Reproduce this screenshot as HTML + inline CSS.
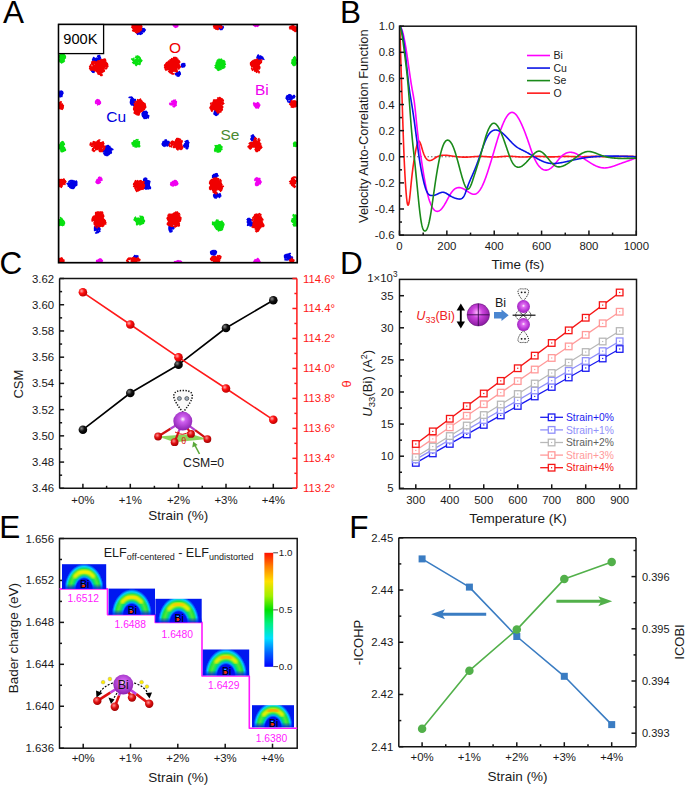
<!DOCTYPE html>
<html><head><meta charset="utf-8"><style>
html,body{margin:0;padding:0;background:#fff;width:685px;height:785px;overflow:hidden;}
svg{display:block;font-family:"Liberation Sans", sans-serif;}
</style></head><body>
<svg width="685" height="785" viewBox="0 0 685 785" font-family='"Liberation Sans", sans-serif'>
<rect width="685" height="785" fill="#fff"/>
<defs><clipPath id="clipA"><rect x="58.60" y="24.50" width="238.60" height="238.20"/></clipPath></defs>
<g clip-path="url(#clipA)" fill="none" stroke-width="1.3" stroke-linejoin="round" stroke-linecap="round">
<path d="M61 58l-0.5 -0.5 0.5 0 1 -1.5 0 1 0.5 -0.5 -0.5 0.5 0 0.5 0 0.5 -0.5 -1.5 0 -0.5 -1.5 -1 -0.5 1 -1.5 0 1 -0.5 -0.5 0.5 0.5 -0.5 0.5 1 0 -0.5 0 0 1 0 -0.5 0 -1.5 0 0.5 0 1 0.5 1 0.5 0.5 -1 0.5 0.5 -1.5 0 0 1 -0.5 0 0.5 -1 0.5 0 0.5 -0.5 0.5 0.5 0 0.5 0.5 1.5 -1.5 1 0.5 0 -1 1 -1 0.5 1 -1.5 0 -1 0 1.5 2 -2 -0.5 1 0.5 0" stroke="#08e010"/>
<path d="M62 57l0.5 0 -0.5 -1.5 -0.5 1.5 0 -1.5 1.5 0.5 1.5 0 -0.5 -1.5 1.5 2.5 -1 -0.5 0.5 -1 0 0 0 1 0 0.5 0 0.5 -2 -1.5 0.5 -0.5 0.5 0.5 1.5 1 0 -0.5 -0.5 -0.5 -0.5 -1 -0.5 0 0 -0.5 -1.5 0 0 1 0.5 -0.5 -0.5 2 0.5 1.5 2 -1 0.5 0.5 -0.5 0 0 0 -1 0 -1 0 -0.5 0.5 1 0.5 0 0 0 0 -0.5 0.5 0 0.5 -1 -1 -0.5 -0.5 -0.5 -0.5 0.5 -0.5 -1 -1 1 0.5" stroke="#08e010"/>
<path d="M60 56.5l0.5 -1 0 1 0.5 0 1 0 0 0 1 -0.5 0.5 -0.5 -1 0 1.5 1 -0.5 0.5 -0.5 0 0 -2 0.5 -1 -1 0 -1.5 -1 0.5 1.5 0 1 0 -1.5 0 0 -0.5 0.5 0.5 -1 -1 0 0 0.5 0.5 1.5 0 0.5 0.5 0.5 1 0 1 1.5 0.5 -0.5 -0.5 0.5 0 -0.5 0.5 -1.5 0.5 0 -1 1.5 0 -1 0.5 -0.5 -1.5 -0.5 0 0.5 0.5 0 0 -0.5 1.5 0.5 0 0.5 -1 -1 0.5 0.5 -0.5 0.5 -0.5 0" stroke="#08e010"/>
<path d="M61.5 58l-0.5 0 0.5 -1 0 3 -1 0.5 -0.5 0 -1.5 -1 0.5 0 1.5 -0.5 0 2.5 -0.5 -1 0 0 0.5 0.5 -0.5 0 2.5 1 -2.5 0 0 -0.5 0.5 0.5 1 1 0 0 0.5 -0.5 0.5 -0.5 1 0 0 -0.5 -0.5 -0.5 -2.5 1 0.5 -0.5 1 0.5 0 -2 0 0.5 1.5 1.5 1 -1 -2 0.5 0 1 0 0 -1 0.5 -0.5 -1 0.5 0 0.5 0 0.5 0.5 -0.5 -0.5 1.5 0 0 -0.5 -0.5 -0.5 0.5 0 0.5 -1 -0.5 0" stroke="#08e010"/>
<path d="M61.5 58.5l0.5 -0.5 0 1.5 0.5 0.5 0.5 -1 0.5 0 -1 0 0 0.5 0 -0.5 1 1 0 0 0 -0.5 -0.5 1 0.5 -1.5 -0.5 -1 0.5 -1.5 -1.5 0.5 0 -0.5 0.5 2 -1.5 1.5 -0.5 -0.5 0 -1.5 1 0.5 -0.5 0 -1.5 -0.5 1 -1.5 -0.5 0 1 1.5 -0.5 -1 0.5 0 -0.5 1 1.5 0 0 0.5 -1.5 0 -1 2 0.5 0.5 0 -2.5 0.5 1.5 -0.5 0.5 0.5 -1 1 1 0 0 0.5 -1.5 0.5 1 -1.5 1 0 -2 -0.5 -1" stroke="#08e010"/>
<path d="M64.5 56.5l0.5 -0.5 -0.5 1 0.5 -0.5 -1 1 0.5 0 0 -1 -0.5 -0.5 0 0 -0.5 0.5 0.5 0.5 1 -0.5 0 0.5 0 0.5 -1 1.5 -1 0 -1 0.5 1 1 1 -1.5 -1 -0.5 -1 1 0.5 0 0.5 -1 -1 -0.5 0.5 0 0.5 1 -1.5 -0.5 0.5 -1 -0.5 1 1 1 0 -0.5 1 0 0 1 0 -0.5 0 0.5 0.5 0 0.5 -1.5 -1 0.5 -1 -1.5 -1 -0.5 0 -1 0 1.5 0 1 0.5 -1 -0.5 -1 0.5 -1 1.5 0.5" stroke="#08e010"/>
<path d="M139 62.5l0.5 -1 -0.5 -0.5 -0.5 0 -2.5 0.5 2.5 -1 0.5 0.5 0 0.5 0.5 0 0.5 0 -1.5 1.5 1.5 -1 0 0.5 0 1.5 0 0.5 -0.5 0 1 -1.5 -1.5 1 -1 0.5 -0.5 -0.5 -1.5 1.5 0 -0.5 0 0 -0.5 -0.5 0 0.5 0.5 -0.5 0 0 0.5 -0.5 -0.5 0 0.5 1.5 -0.5 0 1.5 -1.5 -1.5 -1.5 0 2.5 0.5 0.5 0 -2.5 -1.5 0.5 0.5 -1 1 -1.5 1 1.5 -1 -1" stroke="#08e010"/>
<path d="M140 59l0.5 0 -0.5 -0.5 0 -0.5 -0.5 -0.5 0.5 0.5 0.5 0.5 -1 1 1.5 0 -0.5 0 -1 -0.5 1.5 0.5 0 0.5 0 0.5 1 0 -1 1 0.5 0 0 -0.5 -1 0.5 -1 -0.5 0.5 0 -1 -0.5 -0.5 1 -0.5 -0.5 2 -0.5 1 1 0 -1 0.5 0.5 0 0 -0.5 0.5 -1 1 0.5 -0.5 -1 0.5 1 -1.5 0 0 0 -0.5 -1.5 0.5 -0.5 0 -0.5 -1 0.5 0.5 -0.5 -1" stroke="#08e010"/>
<path d="M137.5 59l0 0 0 -2 1.5 -0.5 -0.5 1 0 0 -0.5 -1 0 1 -0.5 1 -1 -0.5 0.5 0 0.5 -0.5 -0.5 -1 -0.5 0 -1 1 0.5 -0.5 2 -1 -1 1.5 1 -1.5 -1 0.5 1 -0.5 -0.5 0 0.5 0.5 -0.5 0 2 1.5 0.5 0 -0.5 -1 -0.5 0 -1.5 -0.5 0 0.5 0.5 0 -1 0.5 0 1 -1 -2.5 0 2 0 0 1 0.5 0.5 -0.5 0 0 -0.5 -1 0 1" stroke="#08e010"/>
<path d="M136.5 62l0 0.5 1 -1 0 0.5 0.5 -0.5 0 0 -1 1 0 -1.5 -0.5 -1.5 -0.5 0 -1 1 -1.5 0 0.5 1.5 1 0 0 0 1 -0.5 0.5 0 0.5 -0.5 2 -0.5 -1 0 0 0.5 0 0.5 -1.5 0 -1 0 -1 -1 0 1.5 0.5 0 1 -0.5 -1.5 -0.5 -0.5 1 2 -1 1.5 0.5 0.5 0 0 -0.5 0 0 -1.5 0.5 0 0 0.5 -0.5 1 -1 0 -1 0 -0.5" stroke="#08e010"/>
<path d="M132.5 59.5l0 0.5 0 -1 -0.5 0.5 0.5 -0.5 0.5 1 1 -1 0 0 -1.5 1 0 -0.5 1.5 0.5 1 1 0.5 -1 -0.5 1 -0.5 0 0.5 1.5 0.5 0 -0.5 0.5 0.5 -0.5 0.5 0 -1 0.5 0 0.5 -1.5 0 -0.5 -1 -0.5 0 0 0 1 0 0.5 -1 0.5 -0.5 0 0 -1 -1.5 -1 0.5 0.5 0.5 -0.5 -1.5 0 0 -0.5 0.5 0.5 -0.5 -1 0 0 0 2 0 0.5 -1" stroke="#08e010"/>
<path d="M223.5 64.5l-1.5 -3 2 0.5 0 -1.5 -1 1.5 -2 0 1 0.5 0.5 -0.5 2 -0.5 -1 0 1 0 0.5 0.5 -1 1 1.5 1.5 -0.5 -1 -1 -0.5 0.5 0.5 -1.5 0.5 0 0 0 -0.5 0.5 0.5 0.5 -1 0.5 0 -2 0.5 -0.5 1 0 0 0 0 0 -2 1.5 -1 -0.5 0.5 0.5 0.5 0.5 1 0.5 2.5 -1 0.5 -0.5 -0.5 0.5 1 -0.5 -0.5 0.5 0.5 1.5 0 0 -0.5 0 0 -1 0 0 0 -0.5 1.5 0.5 -0.5 -1 -1 0 0 -0.5 0 1 0.5 -1 -0.5 -0.5 0 -1 0 0.5 0 -0.5 -0.5 0 0.5 0.5 -0.5 -0.5 0.5 0.5 0.5 0.5 -1" stroke="#08e010"/>
<path d="M222.5 63.5l-3 0 0.5 1 0.5 2 1.5 0 0.5 -1 1 0.5 -0.5 0.5 0.5 -0.5 0 -0.5 0 0 0.5 -2 -0.5 -1.5 0 0.5 0 0 0 1.5 -1 0.5 -1.5 -0.5 0 -0.5 0.5 0.5 -1.5 0 0 -1.5 -0.5 -1 1.5 -0.5 1.5 -0.5 1.5 0.5 0.5 0.5 0 1.5 0 0 -1 -2.5 -0.5 0.5 0.5 0.5 -0.5 -1 0 0.5 -1.5 0.5 -1.5 0 -0.5 -0.5 0 0 0.5 0 2 -0.5 -0.5 -0.5 -0.5 0.5 -0.5 0 -1 0 -0.5 1 0.5 0.5 0.5 -1 0.5 0 0.5 0.5 -0.5 -1 1 0 -0.5 0 0.5 0 -2 0.5 2 1.5 -0.5 0 0.5 1 0 -1 0.5 0.5" stroke="#08e010"/>
<path d="M219 65l0.5 1 0.5 0 -1.5 0.5 1.5 1.5 0 0 0.5 0 0 0.5 -1 -0.5 -0.5 0 0 -0.5 -2 -0.5 0 0 0 0 0.5 1 -1 0 0 -1 -0.5 -0.5 0.5 1 0 -0.5 0.5 0.5 -1 0 0 -0.5 0 1 0 -1 1.5 -0.5 0 -1 -2.5 0 1 -0.5 -0.5 0.5 0 0.5 1 0 0.5 -1.5 1 0 1 1 -0.5 -0.5 -0.5 -1.5 -0.5 0 -1 0.5 0 0.5 -0.5 -1.5 0.5 0.5 0 -0.5 0 0 0.5 -0.5 1 0 -0.5 -0.5 0.5 0 1 1 1 1 -1 -2 0.5 1.5 1 -0.5 0 0 -2 -0.5 -0.5 1.5 -0.5 1.5 0 -1.5 2 -1" stroke="#08e010"/>
<path d="M218 65.5l1 0 -1 -1 -0.5 1 0 0.5 1.5 1 1 1.5 -1.5 1 0.5 0 -1 -1.5 -1 0 -1 -1 -0.5 0.5 -0.5 0 1.5 0 0.5 -1 0 0 0.5 -0.5 -1 0 -0.5 0.5 1 -1 0.5 -0.5 0.5 -0.5 -1.5 1 0.5 -1 -1 0.5 0 0 0.5 1.5 -0.5 1 1.5 -0.5 -1.5 1 1 1 1 1 1.5 -1 0.5 -0.5 1.5 0.5 -3 1.5 -0.5 -1 -0.5 0.5 1 0 -0.5 -0.5 0.5 0 0.5 -0.5 1.5 0.5 0.5 0 -1 -1 0.5 0.5 0.5 0 -1 0 0 0.5 0.5 -1.5 1 -0.5 0.5 -1.5 -0.5 0 0 1 0 -0.5 -0.5 -1 0.5 0.5 0 0" stroke="#08e010"/>
<path d="M220.5 63.5l-1 -0.5 -1.5 0 1 -0.5 -0.5 -0.5 0.5 0 0 0 0.5 0.5 0 0.5 1.5 0 1 0 -0.5 -0.5 -0.5 0 -1 -0.5 1.5 0 1 0 -0.5 0.5 0.5 2.5 0.5 1 0.5 1 -1.5 -1 0.5 0.5 0 0 -0.5 0 -1 -1.5 0 -1.5 -1 -0.5 -1 0 -0.5 0 -0.5 0 0.5 0 -0.5 0.5 0.5 0 1 0 0.5 0 0 -1 0.5 0 0 0 0 -0.5 0 0 0 0 -0.5 0.5 -0.5 -0.5 0.5 0 -0.5 -0.5 1.5 0.5 0 0 0 0 0 0 1 0.5 1 0.5 -2 0 1.5 1 -1.5 -0.5 -1 -1 -1 1.5 0.5 -0.5 -0.5 0.5 0.5 -0.5" stroke="#08e010"/>
<path d="M220.5 66l1.5 -0.5 0.5 1 0.5 1 1 0.5 -0.5 -0.5 -1 1 -1.5 -1 1 0 -0.5 0.5 1 -0.5 0.5 -0.5 0 0 1 -1 -0.5 0.5 -1.5 -1.5 0.5 0 0 0 -1 2.5 -1 -0.5 -1 0 1 0 0.5 -0.5 1.5 0 -1 0.5 -0.5 0.5 0 0 0 -0.5 -1 0.5 -0.5 0.5 -0.5 -2 -1 1 0 -0.5 0 -0.5 -0.5 -0.5 0 -0.5 0.5 0 0 0 1.5 0 0.5 -0.5 0.5 -1 -1.5 -1 1 0 1 0 -1 0 1 0 -1 0.5 1 1 -0.5 0 0.5 1 2 -0.5 1 0 -0.5 -0.5 -0.5 0.5 -1 0.5 -0.5 0 0 -0.5 0 1 2.5 -1" stroke="#08e010"/>
<path d="M219 62.5l-0.5 0 1 -2 0 0.5 -1 0.5 0.5 -0.5 1 -1 0.5 -0.5 -1 0 -0.5 0.5 -1.5 0 -0.5 1 0 1 0 0.5 -0.5 0 0.5 -1 0 1 0 -1 1 -0.5 0 -0.5 1 1.5 -1 0.5 0.5 1.5 -1.5 0 0.5 -1.5 0.5 0 0.5 -0.5 0.5 -1 0.5 0.5 -0.5 -1.5 1.5 1 0.5 -1 -0.5 1.5 0.5 -1 0 0.5 0 -1 1 0.5 -0.5 -1 -1 0 1 -0.5 0.5 1 -1.5 -0.5 -1 0 0 0 1 0 -1 2 0 0 0 -1.5 0.5 0.5 1.5 1 0.5 1 -0.5 -0.5 0 -1.5 0 0 0.5 0 -2 -0.5 1 -0.5 -0.5 0 -1.5 -0.5" stroke="#08e010"/>
<path d="M293 62l1 0 0 0.5 0 1 0.5 -1 0 0.5 1 -0.5 0.5 1 -0.5 0.5 0.5 -0.5 0.5 -0.5 -0.5 -0.5 -0.5 0 0 0.5 0.5 -1 -1 0 0.5 0 0.5 0.5 0 1 0 -0.5 -1.5 0 0 1 -1 0 0 0 -0.5 0 1 0 1 0 0 0 -0.5 0 1 -1 -1.5 0 1.5 1" stroke="#08e010"/>
<path d="M291.5 63l1 -1 0 0 0 1 2.5 1.5 -1.5 -2 0 1 -1 -0.5 -0.5 0 0 0.5 1 0 0.5 2 -1 -1 1 1 0 0 0 0 0 0 0 0 1 0 -0.5 0 -1 -0.5 2 0 0.5 0 0 -0.5 0.5 -0.5 -0.5 0 0 -1 0.5 0 -1.5 1 0 0.5 1 -0.5 -2.5 0" stroke="#08e010"/>
<path d="M294 58l0.5 0 0 0.5 -1 1.5 -0.5 0 -0.5 -0.5 1 0.5 1.5 0.5 -0.5 0 -1 0 0.5 0 -0.5 -1.5 1.5 -0.5 -1.5 -1 0 1.5 0 1 0.5 0.5 1 -0.5 0.5 0 -0.5 0.5 -0.5 0 -1 0 0.5 -0.5 0 0.5 1.5 -3 -1 -1 0 0 0.5 0.5 -0.5 1.5 0.5 0 -1 0.5 -0.5 -0.5" stroke="#08e010"/>
<path d="M293.5 62.5l-1 -1 0.5 0 0 -0.5 0 -0.5 -1 1 0 -0.5 1 0 2.5 -1 -1 0 1.5 0 -1.5 1 -0.5 -0.5 0.5 -0.5 -0.5 0.5 0 0.5 -1 -0.5 -0.5 -0.5 2 0 0.5 -0.5 0 -0.5 -1 0.5 -1 0 -1 1 0.5 0 -0.5 0 1.5 -0.5 0 0.5 -1 1 -0.5 0 0 -1.5 0.5 0.5" stroke="#08e010"/>
<path d="M294.5 61l0 1 0.5 -0.5 1 -0.5 -0.5 0.5 -0.5 0 0.5 -0.5 0.5 0 -0.5 -0.5 1 -0.5 -0.5 0.5 -0.5 -0.5 -2 0.5 0 0 0 -1.5 2.5 0 -0.5 -0.5 0.5 0.5 0 0 0 0.5 -0.5 1 0 0 0.5 0 0 0 0 0.5 0 -0.5 0 0.5 -0.5 0 0.5 0 0.5 -0.5 -1 0.5 -1.5 0.5" stroke="#08e010"/>
<path d="M62.5 144.5l0.5 1.5 0.5 -0.5 -1 -1 0.5 -0.5 0 0.5 0.5 0.5 -0.5 -0.5 -0.5 -0.5 0.5 0.5 -0.5 -0.5 0 0 -0.5 -0.5 0.5 0.5 0.5 0.5 -0.5 0.5 0.5 -1 0 1.5 -1 -1 0 -1 -1.5 0 0.5 1 0.5 0 -1 1 1 -1 0.5 0 0.5 0.5 -1.5 1 -0.5 0 -0.5 0.5 0.5 0 1 0.5 0 -2.5 -0.5 -0.5 -0.5 -0.5 0.5 1 1.5 1 -0.5 0 -1 1 0.5 -0.5 -0.5 -0.5" stroke="#08e010"/>
<path d="M63 147l-0.5 -0.5 -0.5 1.5 -0.5 0.5 0 0 0 0.5 -1.5 0 1.5 -1 -0.5 0.5 0 0 -2 0 -1 -1 0.5 0.5 -1 -1 0.5 -0.5 0.5 1 0.5 0 0 1 2 -0.5 0.5 0.5 -1 -0.5 1 -0.5 -0.5 -1.5 -0.5 0.5 -0.5 -1 -1 1.5 0.5 -0.5 0 0.5 0 -1.5 0.5 0 0.5 -1.5 1 -0.5 -1.5 1.5 -0.5 0 0 1 1 1.5 0.5 -1.5 -1.5 0 -0.5 0.5 0 -1.5 -0.5 -0.5" stroke="#08e010"/>
<path d="M63.5 150.5l-1 -0.5 1.5 0.5 0 -2 -1 0 -0.5 2 0 0 -1 -1 -0.5 -0.5 0 0.5 0 1 -0.5 -0.5 1 1 -0.5 0.5 0 -0.5 0.5 -0.5 -0.5 0 0.5 -1.5 1 0 1.5 1.5 -0.5 -1 1.5 0.5 0.5 -0.5 0 1 -0.5 -1 0 0 -0.5 1 -0.5 0.5 -0.5 0.5 -1.5 0.5 -0.5 -1 -1 -1 0.5 0.5 1.5 -1 1.5 1.5 -1.5 -0.5 -0.5 0 0.5 -2.5 0.5 0 -1 1 -0.5 1" stroke="#08e010"/>
<path d="M64.5 144.5l-0.5 -1.5 -0.5 0.5 -0.5 2 0.5 0 0 -1 0 -0.5 -2 -1.5 0.5 -0.5 0.5 -0.5 -0.5 1 0 -0.5 1.5 0 -0.5 1 -1.5 0.5 -0.5 -0.5 -0.5 0 0 0.5 0 1 1.5 0.5 1 0 -1 0.5 0 0.5 0 0 -0.5 -0.5 1 -1.5 -0.5 -1.5 -0.5 -0.5 0.5 0.5 -0.5 1 1 0 0 -0.5 -0.5 1.5 0.5 -0.5 -0.5 0.5 0 0.5 -0.5 1 1.5 -1 -0.5 0.5 -0.5 0.5 0.5 0.5" stroke="#08e010"/>
<path d="M63 148l-1 -1 1.5 0.5 0.5 0 -0.5 -1 0 0.5 1 1 0 -0.5 0 0 0.5 2 -1.5 0.5 1 -1 -0.5 -0.5 -2.5 1 0 -0.5 0 0.5 2.5 0 0.5 -0.5 0.5 0 -0.5 -1 -0.5 0.5 0.5 0.5 -0.5 0 -2 1 0 0.5 1 -0.5 0.5 -0.5 0.5 -0.5 0.5 1.5 -0.5 -0.5 -0.5 0.5 1.5 -1 -2 -0.5 -1.5 -0.5 0 -1 0 -0.5 0 -0.5 1 1 -0.5 -0.5 0 0.5 -1.5 0" stroke="#08e010"/>
<path d="M135 143l-1 1 0.5 0 0.5 1 -1.5 0.5 0 -0.5 -1 -1 1 0.5 0 -0.5 0 0 -1 -1 -0.5 1 1.5 -1 2 0.5 0.5 -0.5 -0.5 1.5 -0.5 -0.5 1 1 -1.5 0 0 0.5 2 -0.5 0 0 0.5 -0.5 0.5 -0.5 -2 -1.5 0 1 -2 -1.5 0.5 -1.5 1 1 -3 1 0 1.5 0.5 0 0 0.5 0.5 0.5 0 -0.5 0.5 0.5 0.5 0.5 -0.5 -0.5 0 -0.5 1.5 1 0 -1" stroke="#08e010"/>
<path d="M136.5 143.5l-0.5 -1 0.5 1.5 0.5 -0.5 -1 0 0 0 0 1 -0.5 0.5 -0.5 1 -0.5 -0.5 0.5 0 0 0 -0.5 0.5 1.5 -1.5 0.5 -1 0 0 0 0 -1 1 0 -1 0 -0.5 0.5 0 0 1 -1 1 -1.5 0.5 0 0 -0.5 0.5 0 0 1 0 0 0 1 0 0 -0.5 0 0 -0.5 0 0 0.5 1 -0.5 -0.5 0 -1 -0.5 0 0 0 -0.5 2 -0.5 0 1.5" stroke="#08e010"/>
<path d="M137.5 145.5l0.5 1 -1 0 -1 -0.5 -0.5 0.5 -0.5 0.5 0.5 -0.5 -0.5 -1 1 -1 1 2.5 -1 0 -0.5 -0.5 0 0 -0.5 -2 0 -0.5 0 0.5 -0.5 -1 0.5 0.5 0 1 0.5 -2.5 1 0 0 1 -0.5 -0.5 -0.5 0 0 -0.5 0.5 0.5 0 -0.5 0.5 0.5 -1 1.5 -1 0.5 0.5 0.5 0.5 0.5 1 -0.5 3 0.5 -1 -1.5 1 1 0 1 0 -0.5 -0.5 0 1 0 -1 1" stroke="#08e010"/>
<path d="M138 143.5l0 0 1.5 0.5 -2 0 -2.5 -2 1.5 1.5 -0.5 0 0 1 -0.5 -1 -0.5 0 0 0 1 -1 0 -0.5 -1 1 0 -0.5 0 -1 0.5 1 1 -1 0 1.5 0 1.5 1.5 -1.5 1 1 0 0.5 0 0.5 0 -1 0.5 -1.5 -0.5 0 0.5 0.5 -0.5 0 0.5 -1.5 -0.5 1.5 -1 -1 1 1 0 0.5 0.5 0.5 -0.5 0 -1 -1 -1.5 1.5 -0.5 0 0.5 0 0.5 -0.5" stroke="#08e010"/>
<path d="M137 141.5l-1 -0.5 0.5 0.5 -1 0.5 -0.5 1 0 -0.5 1 -1 0 0 -0.5 0 1 0 -0.5 0 0.5 1 0.5 1 1.5 -1.5 -1 -2 0.5 -0.5 0 0.5 -1.5 -0.5 0 0.5 -1.5 0.5 0.5 0 0.5 1 0 0 -0.5 0.5 0 1 0 1 0 -1 0.5 0.5 1 0.5 0.5 0 1 -1 -1.5 1 0 0 0 0 1 -1 0.5 0 -1.5 0.5 0 0.5 1.5 0 1 -0.5 -1 0.5" stroke="#08e010"/>
<path d="M220 147.5l2 -0.5 0 0.5 0 -1 -1.5 -0.5 0 -1 -1 0 0 0 -0.5 0.5 0 0 -0.5 0.5 0 0.5 -0.5 0.5 -0.5 0.5 0.5 -1 0 0 0.5 -0.5 0 0 0 1 -0.5 0 0 -0.5 0 0 0 0 0 -1 0.5 0.5 1 1 0 1.5 0 -0.5 -1.5 0.5 0 0 0 -0.5 0 0 0 0 0.5 -0.5 -0.5 1.5 1 0 -1 -0.5 0.5 1 2 -0.5 0.5 0 0 -0.5" stroke="#08e010"/>
<path d="M220.5 148.5l-0.5 0 0.5 -1.5 -1 0.5 0 -1.5 -0.5 -1 -0.5 1.5 -0.5 2 0 -1 1.5 1 1 2 0.5 -1 -1.5 -0.5 0.5 0 0.5 0 1 0.5 0 0 0 0 0.5 -0.5 0 0.5 -1.5 0 0.5 0.5 -0.5 0.5 0.5 -1 0 0 1 -0.5 -1 0 -1 1 -0.5 -1 0.5 -0.5 -2 0 0 -0.5 0 -1 0 0 0 0 0 0 0 -1 0.5 -1 1 0 0 0 0 0.5" stroke="#08e010"/>
<path d="M220.5 148l0 -1.5 -1.5 0.5 0 1.5 0.5 1 -0.5 0 1 0.5 0.5 0 -1 -0.5 -1.5 0 0 -0.5 0 -0.5 1 1.5 0.5 -0.5 -1 1 0.5 -1 1 -1.5 -0.5 0 0 -1 2 -0.5 0 0 -1 0 0 1 -0.5 0.5 0 0.5 -2.5 0.5 0.5 -0.5 0 0 0.5 2 -0.5 -0.5 0.5 0 -0.5 0 0.5 0 0.5 1.5 1 0 0 0 0 0 0.5 0 -0.5 0 0 0 -0.5 -1" stroke="#08e010"/>
<path d="M217.5 148l-1 -1.5 -1.5 -1 0.5 0.5 1 0.5 0 -1 0 0 0 0 1.5 0.5 -0.5 1.5 1 0.5 0.5 0.5 0.5 0 0 0.5 -2.5 0 -0.5 0 0 0.5 0 0 -0.5 0.5 0 0 -0.5 -0.5 0.5 -1 -0.5 1 0 -1 -0.5 0 0 0.5 2 0 0 -0.5 0 0 0.5 0.5 -0.5 -0.5 1 -1 0.5 1.5 1 0 0 0 0 -0.5 0 0.5 0 -0.5 0 -0.5 0 -0.5 0 0" stroke="#08e010"/>
<path d="M217 150.5l-0.5 0.5 -1.5 -2 0 0.5 0.5 0.5 0 -1 0.5 -0.5 0 0 -0.5 -0.5 0.5 0 0 0 1 0 1 0 0 0 -1 0 1 -0.5 0.5 1 -0.5 -0.5 0 1 0 0.5 0.5 -0.5 0.5 0 0.5 1.5 -1 0.5 0.5 1 -1.5 0 -0.5 0 1 -0.5 -2 -1 -1 1 -0.5 -1.5 1 0 0.5 -0.5 1 0 -1.5 -1 0 0.5 0.5 -1 -0.5 2 0 -0.5 0 -1 0.5 1" stroke="#08e010"/>
<path d="M218 148l-0.5 -0.5 -1.5 0 -0.5 0 0.5 -0.5 -0.5 0.5 0 -1 0.5 2 0.5 1 1 0.5 0 0 -1 0 0 -2 -0.5 0.5 0.5 1.5 0 -2.5 0.5 -1 -0.5 0 0 -0.5 1 0.5 -0.5 -0.5 1 0.5 0 -1 0 0 -2 1 0.5 0 -1 0.5 2 0.5 0.5 -1 0.5 0 1 0 -0.5 0 -0.5 1.5 0.5 0 0 1 -0.5 -1 -1.5 1 0.5 0.5 0 1 0 -0.5 -1 -0.5" stroke="#08e010"/>
<path d="M296 145.5l-0.5 -1 0.5 1 0.5 0 0.5 -1.5 -0.5 1 0.5 -1 0.5 0 0 -0.5 -0.5 0.5 0.5 0.5 -0.5 -0.5 0.5 1 -1.5 -0.5 0 0.5 1 -1.5 0 0 -1 -0.5 0 0 -0.5 0 0.5 0.5 -1 0 0.5 1 2.5 0 -0.5 0 0.5 0.5 -1 -0.5 0 -1 -1 1 -1.5 0 -0.5 1.5 0.5 -1" stroke="#08e010"/>
<path d="M297.5 146l-0.5 0 0 -1 0.5 0 0 0.5 0 0 -0.5 0 0.5 0 -1 0.5 0 0 -0.5 0 -0.5 0 -0.5 -0.5 0 0.5 0.5 -0.5 -0.5 0.5 0.5 -0.5 1 -1 -0.5 1.5 -2.5 0 1 -0.5 -0.5 -0.5 -0.5 -1 0 -0.5 0 0 1 -1 -0.5 0 0.5 0 -0.5 1 0.5 2 1 1 0.5 -0.5" stroke="#08e010"/>
<path d="M296.5 144l-1 1 1 0.5 0 0.5 0 -1.5 -0.5 1 0 -1.5 1 0 1 1 -0.5 0 -0.5 -1 -0.5 0.5 1.5 -0.5 0.5 0 0 1 -1 0.5 -0.5 -1 1 -1 -1 -0.5 0 0 -2 -1 0.5 0.5 -1 0 0.5 1 -1 1.5 0.5 0.5 1 -1 0 0.5 1 -1.5 -0.5 0.5 0.5 -0.5 -1 0" stroke="#08e010"/>
<path d="M296 146l1 -1.5 0 0.5 0 0 0 -0.5 0 0.5 0 -1 0 0 0 1 0 0 0 0 0 0.5 0 -1 0 1 -1 0 -0.5 -1.5 0 0.5 -0.5 -0.5 1 -1 -1 0 0.5 0.5 0 -0.5 0 0 -1 0 1 -0.5 1 1.5 -0.5 0 0.5 0.5 0.5 0.5 -0.5 0.5 0.5 -0.5 -0.5 0.5" stroke="#08e010"/>
<path d="M62.5 223l0 0.5 0.5 1.5 1.5 -1.5 -0.5 -0.5 -2 0.5 0 -0.5 -1 -1 -0.5 -1 0 0 0 0.5 0 -0.5 -1 0 1 0 -0.5 0.5 -0.5 0 0 0 0 0 0 0 0.5 -0.5 0 0.5 1 0.5 1.5 1 -0.5 0 -1 1 0.5 0.5 1 0.5 0 0.5 1 -1 -1 0 1 0.5 -0.5 0 0 -1.5 -1 -2 0 -0.5 0.5 2 -0.5 0 -0.5 -2.5 -0.5 0 0.5 0 -1.5 0.5" stroke="#08e010"/>
<path d="M59.5 219.5l0.5 1.5 -1 1 0 0.5 1 -1 0.5 -1 -0.5 -1 1.5 1.5 1 0.5 -1.5 0.5 0.5 0 0 -0.5 -0.5 0.5 -0.5 0 0.5 0 1 -0.5 -0.5 0.5 0 -0.5 -0.5 -1 1.5 -0.5 -0.5 1 -1 -1.5 -0.5 0 0.5 0.5 1 0 0 0 -0.5 0.5 0 1 0.5 -0.5 1 0 -0.5 -1.5 -0.5 -0.5 0 0 -1.5 -1.5 0.5 1.5 1 -0.5 0 0 -1.5 1 1 0 -0.5 0.5 0.5 0" stroke="#08e010"/>
<path d="M61 223l0.5 -0.5 -1 1.5 1.5 0.5 0 0.5 -1.5 0 0.5 0 0.5 -1 0 -1 0 -0.5 -1 -0.5 0 -0.5 1 -0.5 0.5 0.5 -0.5 1.5 -1 0.5 0 0.5 -1 -1 -1 0 0 0 0 -0.5 0.5 0 0.5 1 -0.5 1 0 0 0 0 -0.5 -1 0.5 1 0 0 0 0.5 0.5 0.5 -0.5 -0.5 0.5 -0.5 0.5 -1 0.5 -0.5 0 0.5 0.5 -0.5 -0.5 1 -1.5 0.5 1 -0.5 1.5 0" stroke="#08e010"/>
<path d="M59.5 223l0 0 0 -2 0 0 -0.5 -0.5 0 0.5 1.5 0 1 0.5 -1 -0.5 0.5 0 0.5 0.5 -0.5 -0.5 0.5 0 0 0.5 -0.5 0.5 -1 1 0 -1 -0.5 -0.5 -2 1.5 1 -1 0 1.5 0.5 -1 -1 -0.5 1 0 -1 1 -0.5 -1 0.5 0 1.5 -0.5 -0.5 1 1.5 -1 1.5 1 -1 1.5 -1.5 1 -1 -1.5 1 0 -0.5 0.5 0 -0.5 -1 0.5 0 0 -0.5 -0.5 0 0" stroke="#08e010"/>
<path d="M61 222l0 1 0.5 0 2 0 0 1.5 -1 1 0.5 -1 -0.5 0.5 -1.5 0 1 -0.5 0 -0.5 -0.5 -0.5 0 0.5 0 1 0.5 0 1.5 -0.5 -0.5 0 -1 0.5 1 0 -0.5 0 0 0 -0.5 -0.5 1 0.5 0.5 0 -0.5 0 1 0 -0.5 -0.5 -0.5 0.5 -1 0 1.5 -0.5 0.5 -1.5 0 0.5 0.5 0 0 0 0 -0.5 0 -1 -1 -1.5 -0.5 0.5 0 2.5 -1 -0.5 -0.5 -0.5" stroke="#08e010"/>
<path d="M137.5 221l0 0.5 -1.5 0 0.5 0 -0.5 -0.5 0.5 0.5 1.5 -1.5 -2 0 0 0.5 1 -0.5 2 0 -2 1 0.5 0.5 -1.5 -0.5 0 0 1 1 1.5 0 -0.5 0 0.5 0 0 -1.5 -2.5 0.5 -0.5 -0.5 1 -1 -1 0 0.5 -0.5 -0.5 -1 0 -1 0.5 1 -0.5 0.5 0 0.5 1.5 0.5 0.5 1 -0.5 0 0.5 1 1 0.5 -1 0 -1.5 -0.5 0.5 -0.5 0.5 -1 0 0.5 2 1 0 -0.5 0.5 0.5 -0.5 -1 1 -0.5 0 0.5 -0.5 1 -1 0.5 -1 -1 -1 0 -0.5 -1.5 1 -0.5 0 0" stroke="#08e010"/>
<path d="M141.5 222l1 -0.5 -1 0 -1 0.5 0 -0.5 0.5 0.5 -2.5 0 0 0.5 -0.5 -1.5 0 1 0 -1 1 -1 -0.5 1 -0.5 0 -0.5 0.5 0.5 1.5 0 0.5 0.5 0 1 -1 0.5 2.5 0.5 -1 0.5 -0.5 -0.5 -1 0.5 -1.5 0 0.5 1 2 -1.5 -1.5 -1 -0.5 1 0 -0.5 -1 -0.5 -0.5 0 -0.5 0 0.5 0.5 -1 0.5 0.5 0.5 -0.5 -1.5 0.5 0 0 0.5 1 1 1 0.5 -1 1 0 0.5 1.5 0.5 1.5 0 -0.5 -0.5 0 -1.5 0 -0.5 -0.5 -2 -2 1 -1 1 -0.5 0 0.5 -0.5 -0.5" stroke="#08e010"/>
<path d="M141 221l-0.5 0.5 1.5 -0.5 1 1.5 -1 1.5 1 -0.5 0.5 -0.5 0 0 -1 0 0 -0.5 -1 -0.5 -1 1 -2 0 -0.5 -1 0.5 -1 1 0 0.5 0 0.5 0.5 -0.5 0 2 -0.5 1.5 0 -0.5 -1.5 -1 -1 -0.5 0.5 0 -0.5 -1 -0.5 -0.5 0.5 1.5 0 -0.5 1 1 -0.5 0 -0.5 -1.5 1 3 -0.5 -1.5 1.5 1 0 1.5 0 0 0.5 0 0.5 -0.5 0.5 0 -2 -0.5 -0.5 -1 -1.5 0 1 0 1 0.5 -0.5 -2 1 0 -0.5 0.5 -0.5 0 0.5 0.5 -0.5 1 1 1 0.5 0 0.5" stroke="#08e010"/>
<path d="M135.5 220.5l-0.5 -0.5 0.5 -0.5 -1.5 0 1.5 1.5 -1.5 -1 0.5 0 0 0 0 -1 1 -1 0 1.5 1 0 0 -0.5 -0.5 0 1.5 -0.5 0.5 0.5 0 -0.5 0 0.5 0.5 0 -2 0.5 0.5 -0.5 0 0.5 -1 0.5 0.5 0.5 1 -1.5 0.5 -0.5 1 1 -0.5 0.5 0 0.5 -1 0.5 -1 2 0.5 0.5 0.5 -0.5 -1 -0.5 0.5 0 0 -0.5 -0.5 0 0.5 0 -0.5 -1.5 1.5 -1 -0.5 -0.5 1 -0.5 -0.5 0.5 -1 0.5 -1 -0.5 1 0 -1 -0.5 0 0.5 -1.5 -1 0.5 0 0 0.5 -0.5 -0.5 0 0.5" stroke="#08e010"/>
<path d="M139 219l-1 -0.5 0.5 0 1 1 0 -0.5 0 0 1.5 0.5 -0.5 -1 1.5 -0.5 0 0 1 -1 -0.5 0.5 1 1.5 0 -0.5 -0.5 -0.5 0 -1 -1.5 -0.5 -1.5 0.5 1 0.5 1 0 -0.5 -1 0.5 0.5 0.5 0 -1 -0.5 1 0.5 0.5 0 -0.5 0.5 0 0 1 0 -1 -1 -0.5 0 -1.5 0.5 1 0.5 -1.5 -1.5 1 1.5 -0.5 0.5 0 -0.5 1 -0.5 0.5 1.5 0 1.5 -1 1 -0.5 1 0 -1 1.5 -1 0.5 -1 0.5 0 0 0 -1 -2 1 1 -1.5 -0.5 0.5 -0.5 0.5 0.5 0 1" stroke="#08e010"/>
<path d="M141 224l1 -0.5 -1 0.5 -0.5 -2 -0.5 0.5 -1 1 0 0 -1.5 -0.5 -0.5 0.5 0.5 1 -0.5 -0.5 0 -0.5 0 -1 0.5 0 0.5 -1 1 0.5 1.5 -0.5 -0.5 0.5 -0.5 -1 0 0 -0.5 -0.5 -0.5 1 -1 1.5 0 0.5 -0.5 0.5 0 1 0.5 -1.5 1.5 -1.5 1 0 -1 0.5 0 -1 -0.5 0.5 -1 0 2 -1 0 0.5 1 1 -2 -0.5 1 -0.5 1.5 0 -1 0.5 1.5 -0.5 0 0 -0.5 0 0.5 0.5 0 2 -0.5 -1.5 0.5 0 -1.5 1.5 -0.5 -1 0 0.5 2.5 -1.5 -1.5 0 0 -0.5" stroke="#08e010"/>
<path d="M137 222l0.5 -1 0.5 0.5 -0.5 -0.5 0.5 3 0 -1 0 -0.5 1 -2 -1 1 0.5 0 0.5 -1.5 0.5 -1 -1.5 0.5 -0.5 0 0.5 -1 0.5 2 0 0.5 0.5 -1 -1 0 -2 0 0 0.5 0.5 1.5 0 1 0.5 0.5 -0.5 1 0 -0.5 1 -0.5 -1 -1 0 0.5 1 1.5 1 -0.5 -0.5 -1.5 1 0.5 -0.5 0 0 -2 0 0 0 -1 0 0.5 1.5 1 0.5 0 -1 -0.5 -1 0 1 1 0.5 0 0 -0.5 -1.5 0.5 0 -1.5 -0.5 -2.5 -0.5 1 -0.5 1.5 0.5 -1 -2 1 1 -1.5" stroke="#08e010"/>
<path d="M218.5 224.5l-1.5 -1 0.5 -1 -1.5 -1.5 1 0.5 0 0.5 1.5 -0.5 1.5 0.5 -0.5 0.5 1.5 1.5 1 0 0.5 0 0.5 0.5 -0.5 -1 0 -1 0.5 1 -0.5 0 0 1 0 0 0.5 0.5 0 0.5 -1.5 -0.5 -1 0 -1 0.5 1.5 -1 -1 0 1.5 1 0.5 0 -0.5 0 0.5 0.5 -0.5 -1.5 -0.5 -0.5 -1 0.5 -1.5 -0.5 0.5 1 0 1 -0.5 -0.5 1 -1 0 -1.5 1 1 -0.5 -2 0 0.5 1 1.5 0.5 0 0 -0.5 -1.5 -0.5 0 -1.5 -1 1 -1 1 1 0 1 -0.5 -1 0 0.5 0.5 0 -0.5 1 0 -0.5 0.5 -1 0 1.5 0.5 1.5 -0.5 -0.5 0 -0.5 -0.5 -0.5 1 0.5 0 -0.5 2.5 -0.5 1.5 -1 -0.5" stroke="#08e010"/>
<path d="M218 223.5l-0.5 0 0 0.5 0.5 0.5 1 1 0 -1.5 -1 1 -0.5 -0.5 -0.5 1.5 0.5 -0.5 -1 -1 3 0 0 0 1 -1 -2 -0.5 0.5 2 0 -0.5 0 -0.5 -1 0 0.5 -0.5 1 0 0 -0.5 0.5 0.5 0.5 -1 1 -0.5 0 1 1.5 -0.5 -1 0 0 0 0 -0.5 0.5 1.5 0 -0.5 0 1 0 -0.5 -0.5 1.5 0.5 -0.5 -0.5 0.5 -1.5 0.5 0.5 -1.5 0.5 1 0 -1 -0.5 1 -1 -0.5 1 0 -0.5 0.5 1.5 0.5 -1 -1.5 0 -1.5 -0.5 1 -2 0 0 -0.5 0.5 0.5 1 2.5 0.5 -1 -1 -1 0.5 0.5 0.5 0 1.5 1 0 -1 0 -1 -0.5 0 -1 -0.5 1.5 0 -1 -1 0 0.5 0 1" stroke="#08e010"/>
<path d="M218.5 223l0 -0.5 0 0.5 0 1 0 1.5 0.5 1.5 0 -1 0.5 -0.5 0.5 0 0 0 0.5 -1 0 -0.5 -0.5 0.5 0 0.5 -1 1 0.5 0.5 -0.5 0 0 -0.5 0 0 -1 -0.5 -1 1 1 0 -1 0 2 -1 -0.5 -0.5 0.5 -1 0.5 -1 0 -1 0.5 0 -0.5 1 0 2 0.5 0 -1 1 1 0 0 -1 0.5 -0.5 -0.5 0.5 0 0 0.5 0.5 -2 -0.5 0 0.5 1 0.5 -1.5 0 -0.5 0.5 0 -1.5 -0.5 -0.5 -2 0 0 1 0 -0.5 0 0.5 1 -1 -1.5 1.5 1 0 2 -1 -0.5 -0.5 0.5 0 1 -0.5 1 0.5 -1.5 0 -1 0 0 2 0 -1.5 0 -1 2 1 1 -0.5 -0.5 0" stroke="#08e010"/>
<path d="M219.5 224.5l-1.5 -1.5 1.5 -0.5 0 0.5 0 -0.5 0 1.5 1 0.5 1.5 -1.5 0.5 -0.5 -2 0.5 0.5 0.5 -1.5 -0.5 0.5 0 0 0.5 1.5 0 2.5 0.5 0 1 0 -0.5 -1 -1 -1.5 2 1 0.5 0 0.5 -0.5 -0.5 -1 1.5 0.5 0 0.5 0 -1 0.5 0.5 0 0 0 0.5 -0.5 1 0 -0.5 -0.5 1 -1 -0.5 0 1 -2 -1.5 0 -1 0.5 0 1 -0.5 -1 0.5 -0.5 -1 -1.5 2.5 0 -1 -0.5 -1 0 0.5 0.5 -1 0.5 1.5 -0.5 0 -1.5 -1 0.5 0.5 0 1 1 0.5 0.5 -0.5 -0.5 0.5 0.5 -1.5 -0.5 -1 1.5 1 1 2 -0.5 -2 -0.5 0.5 -2.5 -0.5 0.5 -0.5 0 -1 2 2 -1 -1 0 1 0.5" stroke="#08e010"/>
<path d="M219.5 226.5l0 2 1 1 0.5 0 1 -1.5 0.5 1 -0.5 -1 -1 0 -0.5 0 1 1 -1 -1 0.5 1.5 0 0.5 -1.5 -0.5 -0.5 0 0 -0.5 -1 0.5 0 0 0 0 1 -1 1 -1 0.5 -0.5 -0.5 -1.5 0 0.5 -1.5 1.5 0 -1 2 0 1.5 -3 0 1.5 0 0.5 -1 0.5 0.5 0.5 -0.5 -1 0.5 1 0 -0.5 -0.5 1 1.5 -0.5 -0.5 2.5 -1.5 0.5 0 1 -0.5 -1.5 -1 0 0 -0.5 -0.5 -1.5 -1 -0.5 -1 0 -1 1.5 0.5 0 0.5 1.5 1.5 -1.5 0.5 1 1 0.5 -0.5 1 0 0 0 -0.5 -0.5 0 2 -0.5 0 0 0.5 -1.5 0.5 0.5 0.5 0.5 -0.5 0.5 0 -0.5 0 1 -1 -0.5 -0.5 0.5" stroke="#08e010"/>
<path d="M219.5 227.5l0.5 0 -1 -1 1 0.5 1.5 1.5 0.5 1 0 -0.5 -0.5 -2.5 0.5 1 0.5 0 0 0.5 0 0 -0.5 0.5 0.5 -1 0.5 -1 -0.5 2.5 0 0 -0.5 1 -0.5 -1.5 0 0.5 0 0.5 -0.5 -1 0 -1 0 -1 -0.5 1 0 1 0.5 0 -0.5 0 -1 1 -1.5 -1.5 -0.5 -1.5 0 -0.5 -0.5 0.5 -2 0 0.5 1 0 -0.5 1 1 2 2 0 1 0 -1 1 0.5 -1.5 0 0 0 0 0 1.5 -0.5 2 -0.5 -0.5 -1 0.5 0 0.5 1 -0.5 0 1 0 -0.5 -1 0.5 -0.5 -0.5 -1 -0.5 0.5 0 -1 0.5 -2 -0.5 1 0.5 1 0 0.5 0 -0.5 0.5 1 -2 -1 -2 -0.5 -1 -0.5 -0.5 0.5" stroke="#08e010"/>
<path d="M217.5 226l-0.5 0.5 -0.5 -0.5 -1.5 0.5 0 -0.5 -1.5 -1.5 0.5 -0.5 0 1 0.5 1 1.5 0 0 0 0.5 0.5 -0.5 -0.5 -0.5 0.5 -0.5 -0.5 1 1 -1 0 1 -0.5 1 -1 -0.5 0.5 1.5 0.5 -1.5 -1 -1 0.5 0.5 1 1 -0.5 -0.5 -1 0.5 -1 0 0 1.5 -0.5 -0.5 0 1 -0.5 -1 0.5 -0.5 -1 -0.5 1.5 -1 0 0.5 -1 -2 0.5 0 0.5 0 0 -0.5 -0.5 1 0 1.5 -1 0 0 0.5 0.5 0 1.5 -0.5 0.5 0.5 -0.5 0.5 -2 0.5 0.5 -0.5 0.5 -0.5 -0.5 1 2 1 0 -0.5 -0.5 1 0.5 1 1 -0.5 0 -1 -1 0 -0.5 0 -1 0.5 0.5 -1 -0.5 -0.5 -0.5 0.5 0.5 0.5 0 0.5 0.5" stroke="#08e010"/>
<path d="M216 224l0 0.5 -2 -0.5 1 0.5 -1 -0.5 0.5 0 0 0.5 0.5 0.5 -1 -1 1 -1 0.5 -0.5 -1 1.5 0 -1.5 -0.5 0 0 0 -1.5 -0.5 0.5 0.5 0 -0.5 -0.5 1.5 0 -0.5 0 0.5 0 -1 0 2 2 -0.5 0.5 -1.5 0.5 0.5 -0.5 1.5 1 0.5 -2.5 -0.5 0.5 -0.5 -1.5 -0.5 1.5 0.5 0.5 0.5 1.5 -2.5 -1 1.5 0.5 0 0 -1.5 -0.5 0 -1 1 1 0 1 -0.5 0 0 2.5 -1.5 -0.5 1 0.5 -1 -1 0 -1 -0.5 0 -0.5 0.5 0.5 1 -0.5 -0.5 0.5 0.5 0.5 0.5 0 -0.5 1.5 0 1 1.5 -1 -0.5 1 0 0.5 -0.5 0 0.5 1 0.5 -0.5 -0.5 -1 -0.5 0.5 -0.5 -0.5 -1 0.5 0 -1.5" stroke="#08e010"/>
<path d="M295.5 223l1 1 0.5 0.5 0.5 0.5 0 -1 0 -0.5 -1 0 1 -1 0 1 0 1 -1 1.5 -0.5 -0.5 -1 0.5 0 -0.5 -1 0 1 0.5 0 -1 -1 0 -0.5 -0.5 1 -0.5 -0.5 -0.5 1 0.5 1 -0.5 -1 -0.5 -1 0 -0.5 -1 0 1 0.5 -0.5 0 0 0.5 0 -1 0 0 0.5" stroke="#08e010"/>
<path d="M294 216.5l0 -0.5 0.5 0 0.5 0 -1.5 -1.5 -0.5 1.5 0 -0.5 0 0 0 0 0 -0.5 1.5 1 -0.5 2 1.5 0.5 1.5 -1 -0.5 -1 -0.5 0.5 -0.5 -1.5 1 1.5 0 -1 0 0 0 0.5 0 -0.5 -0.5 -1 -0.5 0 -0.5 0.5 0 0 0.5 1 1 -1 -1.5 0 1 1.5 0 1 0.5 -0.5" stroke="#08e010"/>
<path d="M294 224.5l0 0.5 0 1 -0.5 -0.5 0.5 0 0 0 -1 -1 1.5 0 0 1 2 -1 0 -0.5 0.5 -0.5 -1.5 -1.5 1 0 -0.5 0.5 -1 -0.5 1 0 -0.5 0 0 -0.5 1 1.5 0 -1 0 1.5 0.5 0 0 0 -0.5 -0.5 -0.5 -0.5 0 0.5 0 -1 -1 -0.5 0 0.5 1 0.5 -0.5 -0.5" stroke="#08e010"/>
<path d="M295 220l0 -0.5 1 -0.5 -0.5 -0.5 0.5 0 1 0.5 0 0.5 0 0.5 -0.5 -1 -0.5 -0.5 -1.5 1.5 1.5 1 0.5 1 -1.5 0.5 -1.5 -0.5 0 0.5 1 0 -0.5 -1 -1 0.5 0 -1.5 0.5 -1 -0.5 -1 0 1 0.5 -0.5 0 0 -0.5 1 1 -1.5 1.5 2 -1.5 0 0 1 -1 -0.5 -0.5 0.5" stroke="#08e010"/>
<path d="M293.5 220.5l0.5 1 0.5 -1 0.5 -0.5 0.5 0 -0.5 0 -1.5 -0.5 -1 1 1.5 -1.5 -2 0.5 0 -0.5 2 -0.5 -1 0 0 1.5 0.5 -1.5 -0.5 2 -1.5 0 1 0 0 -1 0 0.5 0 1 0.5 1.5 0 0 0 0 1 -0.5 -1 0.5 -1.5 -1 0.5 -1 0 0.5 1.5 0 -1.5 -2 0 1" stroke="#08e010"/>
<path d="M294 217.5l0 0.5 0.5 0 2 0 0.5 1 0 -0.5 -1.5 -1.5 0 1 0.5 0.5 1.5 -0.5 -1 1 0.5 0 0 -1.5 -0.5 -0.5 0 0 0 0.5 0.5 -0.5 0 1 -1.5 -1 0.5 -0.5 0 0.5 -1 -0.5 0.5 0 0.5 0.5 0 1 -1.5 0.5 -0.5 0.5 1 0.5 0.5 1 0.5 -0.5 0 0 0.5 -0.5" stroke="#08e010"/>
<path d="M175.5 24l1 1 0 -1 0.5 1 0.5 -0.5 -0.5 -1 -1 1 0 1 1 0 -0.5 0 0 -1 -1 -1 1.5 0 -1.5 0 0.5 -1 1 0.5 0.5 0.5 -0.5 0 0 -0.5 0.5 0 -1.5 0.5 -1 -0.5 0.5 0 1 0" stroke="#f000f0"/>
<path d="M178 24l0 -1 1.5 1 -2 -1 0 -0.5 -1 1 0 0.5 0 1.5 0.5 0 0 0 1 0.5 -0.5 -0.5 0.5 -1.5 -1.5 -0.5 0 1 0 0 0 0.5 -0.5 -1.5 0.5 0.5 0 -1 0 0.5 1 -1 -0.5 1 0.5 0.5" stroke="#f000f0"/>
<path d="M175.5 27l1.5 0 -0.5 -1 0.5 0.5 -0.5 -0.5 -1 0.5 0 1 1 -0.5 0.5 0 0.5 -0.5 -0.5 0.5 0.5 -0.5 -0.5 0.5 -0.5 -0.5 1 0 -1.5 -1.5 0 -0.5 1 0 -1 -0.5 -1 1 -1 1.5 1.5 1 0 0 -1 -1" stroke="#f000f0"/>
<path d="M174.5 25.5l-0.5 -1 0 1 0.5 0.5 -0.5 0 0 0 -0.5 -0.5 -0.5 -0.5 1 1 0 -0.5 -0.5 0 0.5 0.5 -0.5 -0.5 1 -0.5 1.5 0.5 0.5 -0.5 -0.5 0.5 -0.5 0.5 0.5 -2 0 1.5 -0.5 1 -0.5 0 -2 -1.5 0 -0.5" stroke="#f000f0"/>
<path d="M256 24l-2 0.5 -0.5 1 1.5 -0.5 -0.5 1 0 -1.5 0.5 0 -0.5 0.5 0 0 0.5 -1.5 -1 0.5 0 0.5 0 -0.5 0.5 -0.5 1.5 0 0.5 0.5 0 -0.5 0 0 -1 -0.5 1 0.5 -1 -0.5 1 0.5 0 0.5 -0.5 0.5" stroke="#f000f0"/>
<path d="M256 25.5l1 0 0 0 -0.5 -0.5 0.5 -0.5 0 1 0 -0.5 0.5 0 0 -0.5 -0.5 -1.5 1 1.5 -0.5 0 0 0 0 0 -1 1 1 0.5 0 -0.5 0 0 -1 0 -1 1 -1.5 -1.5 0.5 0 0 0.5 1 -2" stroke="#f000f0"/>
<path d="M255 24l0 -1 0 0.5 -0.5 0 0 0.5 0 0.5 2 1 -0.5 0.5 0 -0.5 -1 -1 0 -0.5 1 0.5 0.5 0 0 0.5 0 0 1 0 -0.5 -0.5 0.5 -0.5 0 1 -0.5 0 -0.5 0.5 -0.5 0.5 -1 -1 1 0" stroke="#f000f0"/>
<path d="M257 24.5l0 0 1.5 0 -1.5 -1 1.5 1 0 0 0.5 0.5 -0.5 0.5 -0.5 0.5 0 0 -1 -0.5 0.5 1 0 0 0 -1 0.5 0.5 -1 -0.5 0 -0.5 0.5 -1.5 0.5 0 -0.5 0 1 0.5 -0.5 0 -1.5 0.5 1 -1.5" stroke="#f000f0"/>
<path d="M99 104l-1.5 -2 2 0.5 0 0.5 -0.5 -0.5 -0.5 0 -1 -0.5 1 0 -0.5 1.5 1 0 -1.5 1.5 1 -0.5 1.5 -1 0 0 0 -0.5 -0.5 0.5 0.5 0 -0.5 -0.5 0 1.5 0 -1 0 -1 -1 -0.5 -1 0.5 1 0 -0.5 0 -0.5 1 1.5 -1.5 0 0 0.5 0 -1.5 0 -0.5 0 0 -0.5" stroke="#f000f0"/>
<path d="M97.5 103.5l0 -1 -1.5 0.5 0 0.5 -0.5 -0.5 0 -1.5 1 -1 0 0.5 2.5 0 0.5 0 0 0 -0.5 0 0.5 2.5 -1 -2 -0.5 0 1.5 0.5 0 -0.5 0 0.5 -1 0 0 0.5 -1 -2 1 0 0 2.5 1 0.5 -0.5 0.5 0 -0.5 0 -0.5 0.5 -0.5 -0.5 1 0.5 -0.5 -0.5 0 0 0" stroke="#f000f0"/>
<path d="M97 101l0.5 -0.5 0 0 -0.5 -0.5 -0.5 0 0 1 0 0 0.5 0 1.5 -0.5 -0.5 -0.5 0.5 0 -0.5 0.5 1 -0.5 0 0.5 0.5 0 -0.5 -0.5 -1 0 0.5 0 1 0.5 0 0 0 1 -1 -1 -1 -1 0.5 0.5 1 0 -0.5 0 -1 0 -0.5 0 -0.5 0 -0.5 1 2 1 1 -0.5" stroke="#f000f0"/>
<path d="M98 103.5l-0.5 0.5 0 -2 0 0.5 0.5 0 1 0 -0.5 1 2 -0.5 0 0 -1.5 -1 -0.5 1 0 -0.5 0 1.5 0 -0.5 0.5 -1 0.5 1 0 -0.5 0 -1 1 1.5 0 -1.5 -1 -1 -1.5 0 0 0 1 0 -1 0.5 -1 -0.5 0 1 0 -0.5 0 0.5 0.5 1 -1 0.5 1.5 0" stroke="#f000f0"/>
<path d="M174.5 103l0 0.5 1.5 0 0.5 -1 -1 0 1 -1 -0.5 1 -0.5 -1.5 -1.5 1 -1 0 0.5 -0.5 0.5 -1 0 0 0.5 0 0 0.5 -0.5 -0.5 -1 1 0 0 0 -0.5 0.5 -0.5 0.5 -0.5 -0.5 0.5 0.5 0 0 0 0.5 0 -0.5 0 0 0 1.5 -0.5 0 0 -1.5 1 0 -0.5 0.5 1" stroke="#f000f0"/>
<path d="M175 103l0.5 0 0.5 0.5 -2.5 0.5 0.5 0 -0.5 -0.5 0.5 0 0.5 -1 0 1.5 0 1 1 1 -1 -0.5 0 0 1 -1 -1 0 1 0.5 0.5 0 0.5 0 0 0 -0.5 0.5 -1 -0.5 -0.5 0.5 1 -0.5 0 -0.5 -1 -1 0 0.5 -0.5 0 0.5 1 0.5 -0.5 -1.5 0 -0.5 -0.5 0.5 -0.5" stroke="#f000f0"/>
<path d="M171 105l1 -0.5 0 0.5 -1 -0.5 -0.5 -1 1 0 0 0 -0.5 1.5 0 -1 -1 -0.5 0 0 0 -0.5 0.5 0.5 -1 0.5 0.5 -0.5 1 0 -1 1 1.5 -1 0 0.5 0.5 1 1.5 -1.5 0 -1 -1 -1 0 0 -0.5 -0.5 1 0.5 -0.5 0 -0.5 1 0 -1 -0.5 0 1.5 0 0.5 1" stroke="#f000f0"/>
<path d="M173 103.5l1.5 0.5 -1.5 -0.5 -0.5 -0.5 0.5 1 1 -2 0.5 0.5 -1 0.5 -0.5 0 1.5 0 0.5 1.5 -1 1 0 0.5 0.5 0.5 0 0 0 0 -1.5 0 0 0 1 0 0 0 0 0.5 0.5 -2.5 -1 -1.5 0 0 0.5 0.5 1 -1 0 0.5 -1 -0.5 0 0 -0.5 0 -1 2.5 0 -1" stroke="#f000f0"/>
<path d="M256 106l-0.5 0.5 0 -1 3 -0.5 -1.5 -0.5 -1 1 0.5 -1 1.5 -0.5 -1.5 1 0.5 -1 -1 0 -0.5 0.5 0 -1 0.5 0.5 1 -0.5 0.5 -1 0 0.5 0.5 0 -1 2 1 -1.5 1 0 0 0 -0.5 -0.5 -0.5 0 1 0.5 -1 0 1 0.5 -0.5 -0.5 0.5 0 -1.5 2 1 -1 -1 0.5 1 0.5 0.5 -0.5" stroke="#f000f0"/>
<path d="M257 106.5l1.5 0 0.5 0 0 -0.5 0 0.5 0 0 0 0.5 0.5 -1 -1 1 -1 -2 1 1 0.5 0.5 0.5 -0.5 0 -1 -1.5 0 -1 -1 -1 -0.5 0.5 0 -0.5 0 0 0.5 1 0 0.5 1 0 0 -1 0 1 -0.5 1 -0.5 1 1.5 0 0 0.5 -0.5 -1 1 -2 1 -0.5 0.5 0 0 -0.5 -2" stroke="#f000f0"/>
<path d="M255.5 104l-0.5 2 0 -0.5 1 0 1 -0.5 -1 -0.5 1 0.5 -1 1 -0.5 0.5 0.5 -2 0.5 -0.5 -1.5 1 0.5 0 -0.5 -0.5 -1 0 -0.5 -0.5 0.5 0.5 0.5 0.5 -0.5 0.5 1 -0.5 0 -0.5 -0.5 -0.5 2 1 -1.5 1 0 -2 0 -0.5 0.5 0.5 -1 1.5 0.5 -1 -0.5 1 -0.5 -0.5 0.5 1 -1 -2.5 0.5 -1" stroke="#f000f0"/>
<path d="M257 106.5l-0.5 1 -0.5 0.5 0 -0.5 1 -0.5 -1 -0.5 -0.5 0 0 -0.5 0.5 1 0 0.5 -0.5 0 -0.5 -1.5 0.5 0 1 1 -0.5 -0.5 -0.5 0 0.5 0 -0.5 0.5 0 0.5 0 -0.5 -0.5 -1 0.5 0 0 -1 1 1 1.5 0 0 0 0.5 1.5 -1 -0.5 -1.5 0 0.5 0.5 2 0.5 -0.5 -1 0 0.5 -1 -0.5" stroke="#f000f0"/>
<path d="M101.5 179.5l0 -0.5 0.5 1.5 -1.5 -1.5 -1.5 -0.5 0 0.5 0.5 0 -0.5 0 0.5 -1.5 0 0.5 0.5 0 -0.5 0.5 -0.5 0.5 0 0 0 0 2 -1.5 0 0 0 0 0 0 0.5 1.5 -1 -1.5 1 1.5 -0.5 -1.5 -1.5 1 2 0 -1.5 1 -1.5 -1 0.5 0 0.5 -0.5 0 0.5 1 1.5 -0.5 -1.5" stroke="#f000f0"/>
<path d="M98.5 180.5l1 1.5 0 0 0.5 0.5 0.5 0 -1 0.5 -1 0.5 -1 0 -0.5 -1.5 -0.5 -1 1 -0.5 -0.5 -1 0 0.5 0.5 -0.5 -0.5 0.5 1 0.5 -1 -0.5 0 -0.5 -0.5 1 0 0 0.5 -0.5 0 0 0.5 0 0.5 0 1 -0.5 -1 0 0 0 0 1 -0.5 -1 0.5 2 1 -1.5 0.5 1" stroke="#f000f0"/>
<path d="M100 177.5l0.5 0 -1 -0.5 -1 0.5 1 1 0.5 1 0 -1 1.5 0.5 -0.5 0.5 -0.5 1.5 -1.5 -0.5 0 0 -0.5 0 0.5 0 0.5 -0.5 0.5 -0.5 -1 0 0 0 0.5 1.5 -1.5 -1.5 0.5 1.5 1 0 -0.5 -0.5 2 0 0 -1.5 1 0 -0.5 0 -0.5 1.5 0 0 -0.5 -1 -2 -0.5 0 0" stroke="#f000f0"/>
<path d="M97 182l0 0 -1 -0.5 0.5 0.5 0.5 -0.5 -1 0.5 1 -0.5 -0.5 -0.5 0.5 1 -1 0.5 1.5 0.5 -0.5 -1.5 0 1.5 0.5 0 0 0 -0.5 0 0 -0.5 -0.5 0.5 1 0 1.5 0 -1 0 -1 -1 1 -0.5 0 0 0 -1.5 1 1 -0.5 1 0.5 0.5 0.5 -1 0 0 0 -0.5 0 1" stroke="#f000f0"/>
<path d="M174 183l-1 1 0.5 0 -0.5 -1.5 0 -0.5 0 0 -0.5 1 1 0.5 -1 -0.5 0 -1 0 1 -1.5 0 0 0.5 0.5 0.5 -0.5 1 0.5 -2 1.5 0 0 1 0.5 0 0 0 0 -2 0 0 -1 0 1.5 0 0 0 -1.5 -0.5 0.5 0.5 0.5 1 0.5 -0.5 -1 -0.5 0.5 0 -0.5 -0.5" stroke="#f000f0"/>
<path d="M173.5 184l1 0.5 0.5 0 0.5 -0.5 0.5 -0.5 1 -0.5 -0.5 0 0 -1 -0.5 1 -1.5 1 -0.5 0.5 -0.5 0 0.5 0 -0.5 -0.5 0.5 0.5 -1 0 0 -1 1 1 -0.5 -0.5 0 -1 -0.5 -1 0.5 -0.5 1 -1 0.5 0.5 -0.5 -0.5 0 0 1 0 0 0 0.5 0.5 0.5 0 -0.5 1 0.5 1" stroke="#f000f0"/>
<path d="M175 182.5l1 -0.5 -0.5 -1 -0.5 0 1 0 1 1 0 0.5 0.5 -0.5 -2 0 -1 -0.5 -0.5 0 1 -0.5 -1 1 0.5 1 -0.5 -1.5 1.5 1 -0.5 0.5 0.5 2.5 1 -0.5 0 -0.5 -0.5 -0.5 1 0 -0.5 -1 0 0 0.5 -1 0.5 0 0 0 0 2 -0.5 1 1 -1.5 -0.5 1 -0.5 0" stroke="#f000f0"/>
<path d="M172.5 183l-0.5 0 -1 0 0 -0.5 0 0 1 0 1 -1 0 0 -2 2 -0.5 1 1 1 -0.5 -2.5 0.5 0 1 0 1 0.5 0 2.5 -0.5 -2 0 0.5 0.5 -0.5 0 -0.5 0 0.5 -0.5 0.5 0 0.5 -0.5 1 0.5 -0.5 0 0 0 -0.5 -0.5 -1 1.5 0 0.5 1 -0.5 0.5 0 0" stroke="#f000f0"/>
<path d="M258 181l0 -1 0 -0.5 0 0 1.5 0 -0.5 0 -0.5 0 1 1 0 0 0.5 0 0.5 0.5 -0.5 -0.5 0 0 -0.5 2.5 0 -0.5 -1 -1 1 0 1 -1 -0.5 0.5 -0.5 -1 0.5 0.5 0 1 -1 1.5 1 0.5 0 -1 0 0.5 -1 0.5 0 0 -1 0.5 -0.5 -0.5 0 0.5 0.5 0.5 0.5 -0.5 0.5 -0.5 0 0 -1 0" stroke="#f000f0"/>
<path d="M259 180l0 1 -0.5 0 2 0.5 1 0.5 -1 0 0 0.5 -0.5 0 1 -0.5 -2.5 0 1.5 -1 0.5 -0.5 -1.5 0 -2 1 -0.5 0.5 0 -1.5 0.5 1 0.5 -0.5 -0.5 0 0 0 0 -0.5 0.5 0 -0.5 0 -0.5 0 1 0 -0.5 0.5 0 0.5 1 0 0.5 -1.5 -2 0 0.5 1 -0.5 -1 0.5 0 0 -1.5 1 0 2 0" stroke="#f000f0"/>
<path d="M258 181.5l0.5 -0.5 0.5 0.5 0.5 1 0.5 1 -0.5 -1 0.5 0 -0.5 0 1 1 -0.5 -1.5 -2 0 0 -1.5 1 2 -1 0.5 0 0.5 0 0 1 0.5 -0.5 0.5 -0.5 0 0.5 0.5 -1 0.5 -1.5 0 1 -1.5 -1 1 0 -2 1 -0.5 -1 0.5 -0.5 0 0 2 1 0 0 0.5 0.5 -0.5 0.5 -0.5 -0.5 0 1 0.5 -2 0" stroke="#f000f0"/>
<path d="M260 181l-1 -1.5 -1 0.5 -0.5 0 0.5 -0.5 0 0 0 -0.5 0 0.5 -1 0.5 0 0.5 -0.5 0 0 1 0 0.5 0 -0.5 1.5 -1.5 1 -1 0 0.5 0.5 0.5 -2 -1 0.5 1 0.5 -0.5 0 0 -1 0 0 1 0 0 0 0.5 2 -0.5 0 -0.5 0.5 0.5 -0.5 0 0 0 0.5 1 0.5 0 0 1.5 -0.5 1 -0.5 -1.5" stroke="#f000f0"/>
<path d="M256 180l-1.5 0 0.5 0.5 0.5 -1 0.5 -1 0 -0.5 0.5 0.5 0 -0.5 0.5 1 0.5 -0.5 -0.5 -0.5 -0.5 0 0 0.5 0.5 -1 0 0.5 -1.5 0.5 -0.5 0.5 2 1 0.5 0.5 0 -0.5 2 -0.5 -1 1 0 1 -0.5 -1 -0.5 1.5 1 0.5 -0.5 -0.5 -0.5 0.5 -0.5 0.5 0 0 -0.5 -0.5 0.5 -0.5 0.5 -0.5 0 1 0 0 0 0" stroke="#f000f0"/>
<path d="M97.5 263.5l-0.5 -1 0.5 -0.5 0 0 -0.5 -0.5 -0.5 0 0.5 1.5 0.5 0 0 0 1.5 0 0 0 1 -1 0 -1 -1 0.5 1 1 0 -1 0 0.5 -0.5 0.5 0 -0.5 -2 -1.5 1 -1 0 0.5 0 1 -0.5 0.5 0 -1 -1.5 0 1 1 0.5 0.5" stroke="#f000f0"/>
<path d="M101.5 263.5l-1 1.5 0.5 0 1 -1 -1.5 1 1 -1 -1.5 0 -0.5 0.5 -0.5 0 -1 -1 0.5 -1 0 0 0 0 1 -1 -0.5 0.5 1 0.5 1.5 -1 0.5 0.5 -1 0.5 0 -1 -1 0 0.5 0.5 -0.5 -0.5 -0.5 0.5 0.5 -0.5 0 0.5 -0.5 -0.5 -0.5 0.5" stroke="#f000f0"/>
<path d="M100 261l1.5 -1.5 0 0.5 -0.5 -1 0 0.5 0.5 1.5 -0.5 0 0 -0.5 0.5 0 0 -0.5 0 0 0 1 -1 -2 0 0 -1 0 1.5 0 0.5 1 -1.5 0.5 1 -1 -1.5 0 0 1.5 -1 1.5 -0.5 -1 0.5 0.5 0.5 0.5 1.5 0 -0.5 0 0 0.5" stroke="#f000f0"/>
<path d="M101 262l1.5 -1.5 -1 0 0 0 0.5 1 -1.5 -1 1 0.5 -1.5 0 -0.5 1 0 -0.5 0.5 0 0.5 0.5 -1 0.5 0 0.5 1.5 1 1 0 0.5 -0.5 0 0 -0.5 0.5 -1 -1.5 -1 1.5 0 -1 -1 0.5 1 0 0 0.5 0 -0.5 2.5 0 -0.5 0" stroke="#f000f0"/>
<path d="M177 263.5l-0.5 1 0 0 0 0 0 0 0 0 -0.5 0 1 0.5 0 -0.5 0.5 -2 -1 -1 0.5 0 1 0 0 0 -0.5 0 1.5 1 0.5 0 0 0.5 0 0 -1.5 -1 -0.5 -0.5 0 0.5 0.5 -0.5 1 1 0.5 0 -0.5 0 -1 -1.5 0.5 1" stroke="#f000f0"/>
<path d="M177.5 263l0 0.5 -0.5 0 0 0 0 -1 0 0 -0.5 0 1 1 0 -2 0.5 1.5 0 -0.5 0 0 1 -0.5 0 0.5 -1 0.5 0 0.5 0 0 0.5 -0.5 -0.5 0 -0.5 0 0.5 -1 0.5 -0.5 1 1 -0.5 0 -1.5 1 1 -0.5 -0.5 0.5 -0.5 0" stroke="#f000f0"/>
<path d="M179 262l1 0 0 -0.5 1.5 0 0 1.5 0.5 -0.5 -0.5 1.5 0.5 -1 -0.5 -1 -2 -0.5 -1 0 0 0 0 -0.5 1 0 1 0 0 0.5 -1.5 1 0.5 1 -1 0 -0.5 -2 0.5 0 -0.5 0.5 0.5 0 0 0.5 -0.5 0.5 1.5 0 0 0 1 -1.5" stroke="#f000f0"/>
<path d="M175.5 262.5l1 0.5 1.5 -0.5 -0.5 -1.5 0.5 0.5 0 -1 -1 0.5 0 1 0 -0.5 -1 0 1.5 1.5 -0.5 0.5 -1 0 -1.5 -1 0 0 0 0 0 -1 0.5 1 0.5 0.5 1 0.5 0 -1.5 -1 -0.5 0.5 1 0.5 1 -1.5 -0.5 -0.5 0 1.5 0.5 0.5 -0.5" stroke="#f000f0"/>
<path d="M256.5 261l-1 1 0.5 0 -0.5 1 0 0.5 0 -0.5 -0.5 0.5 2 -1 -0.5 -1.5 0 1.5 -1 0 -0.5 -0.5 -0.5 0 -1 0 0.5 1 0 -0.5 0.5 0.5 -0.5 -0.5 1 0.5 -0.5 0 0 0 0.5 -0.5 1.5 -1.5 0 -0.5 0 -1 -2.5 1.5 0.5 0.5 0 0.5" stroke="#f000f0"/>
<path d="M258.5 259l-1 2 0 0 -0.5 0.5 0.5 0 -0.5 -1 0 1 -1 -0.5 0.5 -0.5 0 0 1 1 -0.5 0 0.5 0 0 -2 0 -1 0 0.5 0.5 -0.5 -0.5 0 -1 1.5 1.5 -0.5 1 0.5 -1 1 0.5 0 -1.5 -0.5 -2 0 0 -1 0.5 0.5 0 0.5" stroke="#f000f0"/>
<path d="M256 261l1.5 0 -1 -1.5 -0.5 1 1 0 1 1 0.5 -1 0.5 -0.5 0.5 0.5 0 0 0 1 0 0 0 0 -0.5 0.5 0.5 -0.5 0 0 0 -1 0 0 0 1 -0.5 0 0 -1 -0.5 0 0 1 0 1 0 -1 0.5 -1 -1 -0.5 0 1" stroke="#f000f0"/>
<path d="M258.5 260l-1 0.5 1 0.5 -0.5 0 0 2.5 -1.5 -2 0.5 0 -0.5 0.5 0 0 0.5 0 0 0.5 0 0 0 0.5 1 -1 0.5 -1 -1.5 0 0.5 0.5 0 0.5 -0.5 -0.5 0 -0.5 0.5 0.5 0 0 2 0 0 1 1 -0.5 -1 1 0.5 0 -0.5 1" stroke="#f000f0"/>
<path d="M140.5 32.5l0 -1 -0.5 0.5 -0.5 1 0 1 0.5 0 0.5 0 -1 -0.5 0 0.5 -0.5 -1 -1 0 1 -0.5 -1.5 -0.5 1 -1 0 -0.5 -0.5 1.5 1 1.5 0 0 -1 -1.5 0 -0.5 0.5 2 0 -1.5 -0.5 0.5 0 -0.5 0.5 0 0.5 0 0 1 0.5 0.5 0.5 0 0 0 0.5 0.5 0 0.5 2 -1 -1 0 0.5 0 -1 0" stroke="#0000e6"/>
<path d="M143 30l1 -0.5 -0.5 0.5 0 -1 -0.5 -0.5 -0.5 0.5 0 0.5 0 0 -0.5 0.5 0.5 0.5 0 0 0 1 0 0 1 0.5 1 -0.5 -1 0 2 -1.5 -1.5 0.5 0 -1 1 0.5 -0.5 -0.5 -0.5 0.5 -0.5 -1 -0.5 0.5 1 -1 -1 0.5 1 -0.5 0.5 0.5 0.5 0.5 -1.5 0.5 -0.5 0 -0.5 0 -0.5 0 1 1 1 1 0 0" stroke="#0000e6"/>
<path d="M139 30.5l-1.5 0.5 1.5 -0.5 0.5 0 0 -0.5 -2 0.5 0.5 0.5 1 0.5 0.5 -0.5 2 -1 -0.5 -0.5 0.5 0.5 -0.5 -1 -0.5 1 -0.5 -1 0.5 -0.5 0 0 -1 0 1 0 0 -0.5 0.5 0.5 -1 0 0.5 0 1 0.5 -1.5 -1 -0.5 1 -0.5 0 0 0 2 0.5 -1 0 0.5 -1 0 -0.5 -1 0 0.5 0 -1.5 0.5 0.5 -0.5" stroke="#0000e6"/>
<path d="M140 32.5l1.5 0 -0.5 -1 -1 0 1.5 0 1 0 -2 0 1 1 1 -1 -0.5 0 0.5 0.5 0 -0.5 -0.5 -0.5 -0.5 -0.5 -0.5 1 0.5 0.5 0.5 0 -0.5 0 0.5 -2 0 -1.5 0.5 1 -0.5 0 0 1.5 1 0 -0.5 0.5 0 0 -0.5 -1.5 -1 -0.5 -1.5 -1 1.5 0 1 -0.5 0.5 1 0.5 1 -0.5 1 -0.5 0 0.5 0" stroke="#0000e6"/>
<path d="M138.5 32.5l-0.5 -1 -1.5 0.5 1 0 1.5 -1 -0.5 0 1 0 0.5 1 -1 0 0 -0.5 0.5 -1.5 -1 0 -1.5 1.5 2 1.5 0.5 0.5 0 0 -2 1 0 -2 -1 0.5 0 -0.5 0 -0.5 0.5 -1.5 -0.5 0.5 -0.5 1 1 1 -0.5 -1 0.5 0.5 -0.5 0 0 -0.5 0.5 1.5 0.5 0.5 0 0 1 -1 1 0.5 1 0.5 -1 -0.5" stroke="#0000e6"/>
<path d="M94.5 58.5l-0.5 -1 -0.5 0 -0.5 1.5 0 0 1 -0.5 0 1 0.5 0 -1 -0.5 0.5 -1.5 -0.5 0 0 1 0 -1 0 1 1 0 0.5 0 1 1 -1 0 0.5 0 0 0.5 -0.5 1 0 0 0.5 0 1 0 0.5 -0.5 0.5 -1 0 -1 -1 0.5 -1.5 0 1.5 0.5 -0.5 -0.5 0.5 1.5" stroke="#0000e6"/>
<path d="M99.5 58l1 -0.5 0 0 -0.5 0 0 -1.5 -0.5 -0.5 -0.5 0 -0.5 1 1 0.5 -0.5 0.5 -1 0.5 0.5 -0.5 0 0.5 0.5 -0.5 -0.5 -1.5 -0.5 -0.5 0 0.5 -0.5 0.5 0.5 -0.5 0 -0.5 0 0.5 1 0 0 0 0.5 -0.5 0 0 0 1 0 0 -0.5 0.5 0 -1 0.5 -0.5 -1.5 0.5 0.5 0.5" stroke="#0000e6"/>
<path d="M93 59l0 0 1 0.5 0 0 1.5 -1 0 1.5 0.5 0.5 0 1 0.5 -1 -0.5 0.5 0.5 -0.5 -1 0.5 -0.5 1 0 -0.5 0 0 -1.5 -0.5 0 0.5 0 -0.5 0 0 -0.5 0 -0.5 -1.5 0.5 1 0 -0.5 0 0.5 0 -1 -0.5 0.5 0.5 -0.5 0 0 -0.5 0.5 1.5 1.5 1 -1.5 1 1" stroke="#0000e6"/>
<path d="M100 60l-1 -0.5 0.5 -0.5 -0.5 -1 0.5 0 -0.5 0 1 1 1 0 -1 0.5 -1.5 -0.5 1 0 0.5 -0.5 -0.5 -0.5 1 1 0.5 0.5 -0.5 -0.5 -0.5 -0.5 -1 -0.5 0.5 0 -1 1 0 0 1 0.5 -1 -1 -1.5 0.5 0 1 0 -0.5 1 0.5 -1 1 0.5 0.5 0.5 -0.5 -0.5 -0.5 -0.5 0" stroke="#0000e6"/>
<path d="M94.5 60l0 -1 2 1 -1 -0.5 0.5 1.5 0.5 -0.5 1.5 -0.5 0.5 0.5 0 -0.5 -0.5 0 0.5 -0.5 -1 1.5 0.5 -0.5 0.5 0 0 -0.5 -0.5 -0.5 0 0.5 -0.5 -0.5 -1 -0.5 1.5 0 -1 -0.5 -0.5 -0.5 -1 1 -0.5 0 1 0 1 0 1 1.5 -1 0.5 -1 0 -0.5 0.5 -1 -2 0.5 0" stroke="#0000e6"/>
<path d="M92 70.5l0 1 1 0.5 1 -0.5 -0.5 0.5 -0.5 0 -0.5 0 1 -1.5 -1.5 -0.5 -0.5 0 0.5 -0.5 0 0 0 -0.5 0 0.5 0.5 -0.5 0 0.5 -0.5 0 -0.5 0.5 0 0 0 0 0.5 1.5 1 0.5 0.5 -1.5 -1 1" stroke="#0000e6"/>
<path d="M93 70.5l0 0.5 0.5 1 -0.5 0 -0.5 0 0.5 0 -1 -1 -0.5 -0.5 0 -0.5 1 0.5 1 -1 -1 -1.5 1 1 -0.5 -0.5 0.5 1 1 -0.5 0 0.5 0 1.5 0 0 -2.5 0.5 -0.5 -1 1 -1.5 2 -0.5 0 0.5" stroke="#0000e6"/>
<path d="M93.5 69l1 0.5 -0.5 0 -1 -1 0 0.5 1 1 0.5 0.5 0.5 -0.5 0 0 -1 0.5 -1 -0.5 -1 -0.5 2.5 0 0 0 -1 -0.5 0.5 0 0 1.5 -1 -1.5 0 1.5 0 1 1 0.5 -0.5 0 0.5 0 0 0.5" stroke="#0000e6"/>
<path d="M182 64.5l0 -0.5 1.5 0.5 -1 0.5 -1 0.5 0.5 -1 -0.5 0.5 0 0 0 0 0.5 0 1.5 1 -1 -0.5 -1 0 1 1.5 0 -0.5 -1 -1.5 1.5 -0.5 -0.5 1.5 -0.5 0 0.5 -1.5 -0.5 2.5 0 -2 -0.5 0 0.5 0" stroke="#0000e6"/>
<path d="M184 64.5l-1 -1 -1.5 1.5 0.5 0 0 1 0 -1.5 1 -1 -0.5 1 1.5 0 0 0 -0.5 0 1.5 0.5 0 0 -0.5 0 0 0 0 -0.5 0 0 -0.5 -1 -0.5 0.5 1.5 0 -1 0.5 -2 0 1.5 -1 -0.5 1" stroke="#0000e6"/>
<path d="M183 66.5l1.5 0 0 -1 0 1 -1 0 0.5 0.5 -0.5 -0.5 0 0 -1 -0.5 0 0.5 0 -0.5 -0.5 -0.5 0 0.5 0 -1 0.5 1 0 0 2 0 -0.5 0.5 1 -0.5 0 -0.5 0 0.5 -2 1 0.5 -0.5 0 0" stroke="#0000e6"/>
<path d="M184 63.5l0.5 1 -0.5 -0.5 -0.5 0.5 -2 0.5 0 -0.5 0 2 0.5 0 -0.5 -1 1 -1 -1 0 0.5 0 0.5 0.5 -0.5 0.5 -0.5 0 0 0 0.5 0.5 0 0 0 0 -0.5 -1 1 -1 0.5 1.5 0.5 -1.5 0.5 0" stroke="#0000e6"/>
<path d="M179 75.5l0 0.5 -1 0 -0.5 -1 -0.5 1 0.5 -1.5 0.5 0 2 0 -1 -1.5 -0.5 0.5 0.5 -0.5 -1 0 0 2.5 0 -1 -0.5 -0.5 -2 0 0.5 0 0 0 0 0.5 0.5 -1 0.5 1.5 0 -2.5 0.5 1 0 -0.5 1 1 0 -0.5 0.5 1 0 -1 -0.5 0 0 -0.5 1 -0.5 1 1.5" stroke="#0000e6"/>
<path d="M178.5 72.5l0.5 0.5 -1 -0.5 -1 0 0 0.5 1 0 -0.5 0 -1 0.5 -0.5 0 1.5 -0.5 0 0.5 -1.5 0 0.5 0 0.5 -1 0 0 0.5 0 -1 0.5 -0.5 0.5 1.5 0 -0.5 0.5 -0.5 -0.5 0 0 1.5 -1 -0.5 -0.5 0 0.5 -0.5 0.5 -0.5 0 0 0 -0.5 1 0 0 0.5 0.5 -0.5 -0.5" stroke="#0000e6"/>
<path d="M178.5 74l-0.5 -0.5 0 -1.5 -1.5 0 1.5 0 -1 0 0.5 0 0 0 0 0 0 0.5 0.5 0.5 -0.5 0.5 -1 1 -0.5 -0.5 -0.5 0 0.5 1 0 -0.5 0 0 1.5 -0.5 1 -1 1 0 0 -0.5 0.5 0.5 -0.5 1 -1 -0.5 0 -0.5 1 1.5 -1 1 1 0 -0.5 0 -0.5 -0.5 -0.5 1" stroke="#0000e6"/>
<path d="M178 74l-0.5 1 0 0.5 0.5 0 -0.5 -0.5 1 -1 0.5 1 0 0 0 -1 -0.5 -0.5 -1 0.5 -0.5 -0.5 1.5 0.5 0.5 -1.5 0.5 -0.5 0 0 -0.5 1 0.5 -1 0 -0.5 0.5 2 -0.5 0.5 0 -0.5 0.5 -0.5 0 0 0 0 0 1 -0.5 0.5 -0.5 -0.5 1 0.5 -0.5 -1 -0.5 0 0 -0.5" stroke="#0000e6"/>
<path d="M260 60l-1 -1 1 0 0.5 0.5 -0.5 0 -1 -1 0.5 1.5 -1.5 -1 -0.5 0.5 -0.5 -0.5 1 -1.5 -1 0.5 1 -1 0.5 1 -1 0 -0.5 -0.5 0.5 -0.5 0 0 -0.5 0.5 1 -0.5 -0.5 0 0.5 0 0 -1 0.5 0.5 0.5 0 1 0.5 -0.5 0 0 -0.5 0.5 0.5 0.5 -0.5 -0.5 0.5 0 0" stroke="#0000e6"/>
<path d="M259.5 57l0.5 -0.5 -0.5 0.5 1 -1 -0.5 0.5 -0.5 0.5 -0.5 -0.5 2.5 0.5 0 0 -0.5 1 0.5 -0.5 -0.5 0.5 0 -1.5 0.5 1 -1.5 1.5 -1 -1 -1 -0.5 0 -1.5 0 0.5 0 -1 0 0 0.5 -0.5 0.5 2.5 -0.5 -0.5 1 1 1 0 -1 -1.5 -1 -0.5 -0.5 -0.5 0 -0.5 -0.5 1.5 0.5 -1" stroke="#0000e6"/>
<path d="M260.5 58.5l2.5 0 -1 -0.5 0.5 0 -0.5 -1 -0.5 0 0 0.5 0 0 1 0 0 0 -0.5 -0.5 0.5 0.5 0 -0.5 0.5 0.5 -1 0.5 0 1 1 0 -0.5 0 1.5 0.5 -1 -1.5 -1 0 0.5 0.5 0 -1 -0.5 0 -1.5 0 -0.5 0 1 0 -0.5 -0.5 0.5 0.5 0.5 -0.5 1 0.5 -0.5 0" stroke="#0000e6"/>
<path d="M257 57l2 0 1 -0.5 -1.5 -0.5 0 0 1 1.5 -0.5 1.5 1 -1 0.5 0.5 0 -1.5 0.5 -1 0 0.5 -1.5 0.5 -1 1 -0.5 1 -0.5 -1 0 -0.5 1 -0.5 1 0.5 -1.5 2 0.5 -0.5 0 0 1 0.5 1 -1 0 -0.5 -1.5 -1 -0.5 0.5 -0.5 0.5 0 0 0.5 -1 -0.5 0 -0.5 -1" stroke="#0000e6"/>
<path d="M62 93.5l0.5 -1 0 1 0 0 0 0.5 0 0 -0.5 0 1 -0.5 0 -0.5 -0.5 -1.5 0 0.5 0 0.5 -0.5 -1 -0.5 -0.5 0 0 0.5 0.5 -0.5 0 -1.5 -0.5 1 1 1 -0.5 -0.5 0 0 0.5 0.5 1 -0.5 1.5 -2 -0.5 -0.5 0 0 1 0 -0.5 0 -0.5 0 1 -0.5 -2 1.5 -1" stroke="#0000e6"/>
<path d="M60 95.5l1 1 0.5 -2 -0.5 0.5 -0.5 1 1 0 0.5 0.5 -0.5 -1.5 -0.5 1.5 0 -1.5 0 -1 0.5 1 0 -1 -0.5 0.5 0 -0.5 -1 -0.5 1 1.5 -1 -1.5 1 1.5 0.5 1 0.5 0 -0.5 -1 -0.5 -1 0 0.5 0.5 0 -0.5 0 -0.5 -0.5 0.5 1 -1 0 -1.5 -0.5 0 -1 1 0" stroke="#0000e6"/>
<path d="M60 94l-0.5 -0.5 0 0 -0.5 0.5 -0.5 0 0.5 -0.5 0 0 2 1 -1.5 -0.5 -0.5 0.5 1 0.5 0.5 -1 0.5 0 -0.5 0.5 -1.5 -0.5 1.5 0.5 0.5 0 -0.5 0 0 1 -0.5 -2 0.5 0.5 -0.5 0 1 0 -1 1.5 1 0 -1 1 1.5 -1 -1.5 -1.5 -0.5 -0.5 -0.5 -0.5 -1 1 1 -0.5" stroke="#0000e6"/>
<path d="M59 94.5l-1 0.5 -0.5 -1 0.5 0 1 0 -0.5 1.5 0 0 1 -0.5 0 -1 1.5 -1 -1 -0.5 1 1 -0.5 -1 0.5 0.5 0 0 0.5 0.5 -1.5 0 0 -0.5 -0.5 -0.5 -1 1.5 -0.5 1 2 1 0 1 1 -1 0.5 -1 -2 0.5 -1 0.5 0 0 0.5 -0.5 -1 -0.5 0 -1 0 0.5" stroke="#0000e6"/>
<path d="M60 93l-0.5 0 -0.5 0.5 0.5 0 1 1.5 -0.5 -2 -0.5 0.5 1.5 1 1.5 -0.5 -0.5 1 0 0 0.5 -0.5 -1.5 0.5 0.5 -1 -0.5 1 -0.5 -1 0 0.5 1 1 0 -0.5 -1.5 -0.5 0.5 0 -0.5 0.5 0.5 -1 -0.5 0.5 1 -1.5 0 1 -0.5 0 0 -0.5 -0.5 -2 0 0 0 1.5 2 1.5" stroke="#0000e6"/>
<path d="M133 101.5l-0.5 0.5 1.5 -1 -1 1.5 0.5 0.5 0.5 -1 1 0 0 0 0.5 -1 -0.5 -1 0.5 -0.5 -0.5 0.5 0 -0.5 -1.5 0 -0.5 -1 0 0.5 0.5 0.5 0.5 1 0 0 0 -0.5 -0.5 -1 0 1 -0.5 -0.5 -0.5 -1 -1 0.5 -0.5 1.5 0.5 0 -0.5 0.5 0.5 1 0 0.5 0 0 0.5 0.5 1.5 -1 -2 -2 -0.5 0 -0.5 0" stroke="#0000e6"/>
<path d="M132 99l-1 0.5 0.5 0.5 -1 1.5 0.5 -1 0 0.5 0 -0.5 1.5 -0.5 0.5 0 0 -1.5 0 1 0 1 -0.5 0.5 0 -1.5 -0.5 -0.5 -1 -2 0 0.5 0.5 -0.5 0.5 0.5 0.5 0 -1 0 -1 0 -1.5 0 0.5 0 0 0 0.5 -0.5 0 0.5 0 0 0.5 0 1.5 0 0 0.5 -0.5 -0.5 0 0 -0.5 0.5 1 0 -0.5 1.5" stroke="#0000e6"/>
<path d="M132 102.5l-1 0.5 1 1 0.5 -0.5 0.5 0.5 -0.5 -1.5 0 -0.5 -1 -0.5 0 0 0 1.5 0.5 -0.5 -0.5 -1 0 0 0.5 0.5 -0.5 0 0.5 0 1 1 -0.5 -0.5 0.5 0 -1 -1 0 1 0.5 -0.5 0 0 0 0 -1 -1 0.5 2 0.5 0.5 0 -1 0.5 1.5 -0.5 -0.5 -0.5 -0.5 1 -0.5 0 0 -0.5 -0.5 -0.5 -0.5 0 1" stroke="#0000e6"/>
<path d="M131.5 102l1 1 1.5 -1 -1 -0.5 -0.5 0.5 0.5 -0.5 -0.5 -1 0 -1 1.5 0.5 0 0 0.5 0 0 0.5 0 1 -1 -1 -0.5 1.5 0 1 -1.5 0.5 -1 -0.5 0 -1.5 2.5 -1 -0.5 2 0.5 -2.5 0.5 1 -1 0 -0.5 -0.5 1.5 1 -0.5 -1 0.5 0 0 0.5 -1 -1 -1 1.5 0 -1 -0.5 1 0.5 -0.5 -0.5 1 0 -0.5" stroke="#0000e6"/>
<path d="M133.5 102.5l0.5 2.5 -0.5 0.5 -0.5 -0.5 -0.5 -0.5 0 0.5 0.5 -0.5 1 -0.5 0.5 0 -0.5 0.5 0.5 0 -1.5 -1.5 -0.5 -0.5 -1 1 0.5 1 0.5 0.5 -0.5 -0.5 0.5 0.5 -1.5 -0.5 0.5 0 -0.5 0 0 -0.5 0.5 0.5 0 0.5 0.5 -0.5 1.5 0 -1 -1 -0.5 -0.5 -1.5 -0.5 0 1 0.5 -0.5 1 -0.5 -1.5 0 1 0.5 -0.5 0 -0.5 0.5" stroke="#0000e6"/>
<path d="M133 102l0.5 0 0 1.5 0 -0.5 -1.5 0.5 -0.5 -0.5 0.5 0 -0.5 0 -1 -0.5 0.5 -0.5 -0.5 0 1.5 1 1.5 0 -0.5 0 1 -1 0.5 -0.5 0.5 0.5 0 -0.5 -0.5 1 -1.5 0 0 0 0.5 0.5 -0.5 0 -0.5 0 -1 0 0 -1 -1 -0.5 0.5 0 1 0 0 0 0.5 0 1 -0.5 0 -0.5 -0.5 -0.5 -1 -1 -0.5 0" stroke="#0000e6"/>
<path d="M145.5 114l-1.5 -1.5 -0.5 -1 0 0 0.5 0 0.5 0 2 0.5 0 0 -0.5 -1 0 0.5 0.5 1 1 0 0 0.5 -0.5 0 0 0 -2 0.5 -1 2 -0.5 0 0.5 -1.5 1.5 -0.5 1 1.5 1 -2.5 -1 -0.5 -1 0 1 1 0 -1 0.5 1 0 -1 0 2 0 0.5 0 0 -1 1.5 -1 -0.5 -0.5 0 1.5 0.5 -0.5 0.5" stroke="#0000e6"/>
<path d="M143 116l-0.5 0.5 0.5 -0.5 2 -0.5 0.5 -0.5 -1.5 -0.5 0.5 -0.5 -0.5 0.5 -0.5 1 0.5 0 1 -1 -1 1 -1 1 0.5 0 0 -1 -0.5 -0.5 0.5 0 0.5 -1 0 1 -1 -0.5 0 2 1 2 2.5 -0.5 0.5 -2 0 -0.5 0 0 -2 0.5 -0.5 -1 -0.5 0.5 -0.5 1 0.5 0 -1 -0.5 1 0 0 0 0.5 0.5 0 0.5" stroke="#0000e6"/>
<path d="M143 114l1 -1.5 -0.5 0 -1 0 0 1 0 0 -0.5 0 0 0.5 1 0.5 0.5 0.5 0 -1 0.5 1.5 -0.5 0.5 -0.5 -0.5 -1 -0.5 0.5 0.5 1 -0.5 -1 0 0 0.5 1.5 1 -1.5 -1 0.5 0.5 -0.5 -0.5 1 -2 -1 -1 0 0.5 0 0 0.5 0 -0.5 0 0 0.5 -0.5 0.5 1 0.5 1 0 -0.5 0 -0.5 0.5 0 -1.5" stroke="#0000e6"/>
<path d="M148.5 116l-1.5 0.5 -0.5 -1.5 2 2.5 0 0 0 0.5 -0.5 -0.5 -1 0 0.5 0 -1.5 0 1 -2 1.5 0 0 0.5 0.5 0 -0.5 -0.5 0.5 0.5 -1.5 -1 -2.5 -1.5 -0.5 0.5 0 0 0.5 0.5 0.5 0.5 -1 -0.5 0.5 -0.5 -0.5 0.5 0 1 -0.5 0.5 0.5 1.5 0 0 0 0 1 0.5 0 0 0.5 0.5 0 -0.5 1 0 -1 -1.5" stroke="#0000e6"/>
<path d="M217.5 114l-0.5 0.5 1 -0.5 -1.5 0 0 0.5 -0.5 0 0.5 0 -1 -1 0.5 0.5 0.5 -1.5 -0.5 0 0 -0.5 0 1.5 -0.5 0.5 -0.5 -1 0 0.5 0.5 1 -0.5 -1 2 0.5 -2.5 -1 1 1 1.5 -1 1 0 -0.5 -0.5 -1 -1 -0.5 0.5 -1 1.5 0.5 0 -0.5 -1 1 0.5 -1 0.5 0 0" stroke="#0000e6"/>
<path d="M216 112.5l-0.5 -1 0.5 -0.5 -1.5 0.5 1.5 1 0 -1 -0.5 1.5 1 -1 0 1.5 0 0 -0.5 -1.5 1 0.5 0.5 1.5 0 -0.5 0.5 -1 -2 -0.5 -0.5 -0.5 0.5 0.5 -1 -2 0 1 -0.5 0 0.5 2 -1 1 0 0 0.5 0 1 0.5 2 -1 0 0.5 0 0 -1 0.5 -0.5 0 -0.5 0" stroke="#0000e6"/>
<path d="M218 113.5l-0.5 0 0 0.5 1 -1 -0.5 -1 -1 2 -0.5 0 -0.5 -1 1 0.5 -0.5 -0.5 0.5 0.5 1 1 -0.5 -0.5 -0.5 0 -0.5 0.5 -1 0 0 -1 1 1.5 -1 -1 0 0.5 0 -0.5 1.5 0.5 -0.5 -0.5 0 0.5 0.5 0 -2 -1 0.5 0 0.5 -0.5 0.5 1.5 0.5 0.5 -0.5 -0.5 0.5 0" stroke="#0000e6"/>
<path d="M215.5 112l0 -1 1.5 -0.5 -0.5 0.5 0.5 0.5 1 0 0 1 -1 -1.5 -1.5 0.5 0.5 0 -0.5 0 -1.5 1.5 1.5 1 0.5 1.5 -1.5 -1 0 0 0 0 0.5 0 0 -2 -0.5 -0.5 -0.5 1 0.5 -1 -0.5 1.5 1 1 0.5 0.5 1 0.5 -2 -1.5 -0.5 -0.5 1 0.5 0.5 -2 -1 0 0.5 0" stroke="#0000e6"/>
<path d="M290 99.5l-1.5 -0.5 -0.5 0 -0.5 0 0 2 0 -1 -0.5 -0.5 0.5 0 0 1 1 1.5 -0.5 0 1.5 0.5 0 0 1 -0.5 0.5 -0.5 0.5 0.5 0 -1.5 0 1.5 -0.5 0.5 -1.5 -1 0 1 0.5 -0.5 2 -3 -1.5 1 1 1.5 -1 -1 -1 -1 0 -0.5 -0.5 0.5 0 0 1.5 -0.5 0 -0.5 0 -0.5 -1 0.5 -2 2 0.5 -0.5" stroke="#0000e6"/>
<path d="M292.5 98l-0.5 0 0 -0.5 0 -0.5 -0.5 1.5 1.5 -1 -2.5 1 2 -0.5 0.5 0 0 0 0 -0.5 0 0 -1.5 1 0 0.5 -0.5 -2 0 -0.5 -1 1.5 1.5 0 0.5 1 0.5 -2.5 0.5 0 -0.5 1.5 -0.5 -1.5 -0.5 0 -1 1.5 -0.5 -0.5 0 0.5 1.5 -0.5 -1 0.5 0.5 0.5 -1 0.5 0.5 -1 0.5 0 1 1 0.5 -1 0 -0.5" stroke="#0000e6"/>
<path d="M292.5 96.5l-1 0 1 0.5 0.5 0 1 1 0 -2 0.5 0 0 1 -0.5 0 0 -1 0 0 1 0.5 -0.5 0.5 -1.5 -0.5 -1 0.5 1.5 1 0.5 0 0.5 -1 0 -1 0 0.5 0 0 0 0 -0.5 0 0.5 1 0 -0.5 -0.5 -0.5 0.5 0.5 0 -1 0 -0.5 -1 0 0 0.5 0 0 0.5 0 0 -0.5 0.5 1 -0.5 -0.5" stroke="#0000e6"/>
<path d="M289 97.5l1 -1 -0.5 -0.5 -0.5 -1 0 0.5 0 1 -0.5 0.5 -1 1.5 -0.5 -1 0 1 -0.5 0.5 1 0 -1.5 -0.5 0.5 -2 1 1.5 -1 -1 0.5 -1 0.5 0 -0.5 -0.5 1 0.5 0 1.5 1 0.5 -1 -0.5 -0.5 0.5 1.5 -0.5 1 -1 0.5 -0.5 -0.5 1 0 0 0.5 0.5 -1.5 -1 0 0.5 0 -2 -1 0.5 0 0 0 0.5" stroke="#0000e6"/>
<path d="M291 98l-0.5 0 1 0 -0.5 0.5 -1.5 0 0 0.5 2 0 -1 -1.5 0 0 -1.5 -0.5 0 -1 0 0 -0.5 1.5 -1 -1 1 -0.5 0 -0.5 0 -0.5 0.5 0.5 -1 0.5 0 0 1 0 1 -0.5 0.5 -0.5 0 0.5 0 1 0 0 -0.5 -1 -0.5 0 0.5 0 -1 0.5 0.5 -1.5 1.5 0.5 0.5 1.5 -1.5 1 0.5 0 0 0.5" stroke="#0000e6"/>
<path d="M106.5 154l0 1.5 1 0 1 -1 0 -2 -1 0 0.5 1 1 1 -0.5 -0.5 -0.5 0 -1.5 -0.5 1 0 -0.5 0.5 0.5 0 -0.5 -1 0 0 0 1.5 0 0.5 1 0.5 -2 0 -1 -0.5 1.5 0 0.5 -2 -0.5 0 -0.5 1 0.5 1 0 0.5 0 -1 -0.5 -1 -1 -1.5 0 0 1.5 -1 -0.5 0 0.5 -1 0 1 1.5 -0.5 -2 -0.5 0 1 0.5 0 -0.5 0.5 -1 -1 0 2 1.5 1 -1.5 0.5 0 0 1 0.5 -0.5 -1 0.5 1.5 -0.5 -1 -0.5 -0.5 1 1 0.5 -0.5 -0.5 -0.5" stroke="#0000e6"/>
<path d="M107 151.5l0.5 1 -0.5 -1 0.5 1 1 -1 0 0 0 0 -0.5 -1 0.5 0.5 0 -1.5 0 1.5 -1 0.5 0 0 1 -0.5 0.5 0.5 0 0.5 0 1 0 1 0 -0.5 0 -0.5 1 0 -0.5 -0.5 0 -0.5 0 1 -0.5 0.5 0 0 0.5 -1.5 0 0.5 0 0 -0.5 0 -1 -0.5 -1 0 1 0.5 -0.5 -1 1 0 0.5 1.5 0.5 -1 -2 1.5 -1.5 -1.5 -0.5 0 0.5 -0.5 -0.5 0.5 -1 2.5 0 -0.5 1 0 -1.5 0 1 -1 -1.5 0 0.5 0 0.5 0 -0.5 0.5 1.5 1 -0.5 0.5" stroke="#0000e6"/>
<path d="M105.5 149.5l0 0.5 0 -0.5 -1 0.5 0 0 0 0 -1 1.5 0 0 1 -1.5 -1.5 0.5 2.5 1 -0.5 -0.5 -0.5 -1 -0.5 0.5 -0.5 0.5 1 -0.5 -0.5 0 -1 0 1 0 -1 0.5 0 0 0 -0.5 0 -0.5 0 0 0 0.5 -0.5 1 0.5 -1 0.5 0.5 -0.5 0.5 0.5 0 0 0 -1 -0.5 0.5 0 -0.5 -1 0.5 0 0.5 0 1.5 0.5 0.5 0.5 1 0.5 0.5 -0.5 1.5 0 -3 0.5 -0.5 0 0.5 -2.5 -1.5 -0.5 -1 0.5 0.5 0 1 -1 0 0.5 1 0.5 1.5 0.5 0 0.5 2 2" stroke="#0000e6"/>
<path d="M110 146.5l-0.5 0.5 -0.5 -0.5 -1 0 0.5 0 1 0 -1 0 -1.5 -0.5 0.5 0 0.5 -0.5 0.5 0.5 0 -0.5 -1 0.5 0 2.5 0.5 1 -0.5 0 -0.5 -2 0 -0.5 -0.5 0 1 0.5 1.5 -0.5 1 -0.5 -0.5 1 0.5 0 0 0.5 1.5 0.5 -0.5 1 0 0 0 1 0 -0.5 -1 -1 0.5 -0.5 0.5 0 0.5 0 1 0.5 0.5 0.5 -2.5 -1 1.5 1.5 -1 -2 -1 0.5 -0.5 1 0 0 0.5 0 -0.5 -0.5 0 0 0.5 0 -0.5 -1 -0.5 0 0 1.5 0 -0.5 1 1 1 -1.5 0 0.5" stroke="#0000e6"/>
<path d="M108 149l0 0 -1 0.5 2 -1 1 1.5 -1 -1 -1 -1 -0.5 -1 -0.5 0.5 1 0 -1 0 0.5 -0.5 0.5 -1 -1 0 0 1 -0.5 0 1 -1.5 0.5 1.5 0 0.5 -1 -0.5 -1 1.5 -1 0 -0.5 1 0 -0.5 0 -0.5 0.5 -1.5 1.5 2 0 -1 -0.5 0 -1.5 -0.5 0.5 0.5 -0.5 0.5 0 1 0 1 0.5 -1 2.5 0.5 0.5 -0.5 1.5 0 0.5 0.5 -0.5 -1.5 -0.5 1.5 0 -0.5 -0.5 -1 -0.5 0 1.5 0 0 -0.5 -0.5 -1 -2.5 0 -1.5 0 -1 1 1 -1.5 1 0 0.5 -0.5" stroke="#0000e6"/>
<path d="M109.5 152l0 -1.5 -2 1 0 -1.5 -1 2.5 -1 0 1.5 1 0.5 0.5 -0.5 -0.5 0 -1 -0.5 0.5 1.5 1 -0.5 -2 2 0.5 1.5 -0.5 -0.5 1 -1 0 0 1 1 -1 1 0 0 0 -0.5 -0.5 0.5 -0.5 -1 -1 0 0 0 -1.5 -0.5 0 0.5 0.5 0 -0.5 -1.5 -0.5 1 0 -0.5 0 1.5 0.5 -1 -1.5 -2 0.5 0.5 -1 0.5 1 -1 0 1 0 -0.5 0 -1.5 2 1 2 -1.5 0 1 -0.5 2 -1 0 -0.5 -1.5 0 0 -1 -0.5 0.5 1 0.5 0.5 1.5 0 -1 0 0.5" stroke="#0000e6"/>
<path d="M165.5 145l0 -1 1 0.5 0 -1.5 1 -0.5 -1 -0.5 1 0.5 0 -1 0 0.5 1 2.5 0 -1 -1.5 -0.5 -0.5 0 1 0 -0.5 0.5 -0.5 0 1 1 -0.5 -0.5 -0.5 0.5 1.5 0 -1 1 0.5 0.5 1 -0.5 -1 0.5 -0.5 0 1.5 -1.5 -2 -1.5 -0.5 0 0.5 -0.5 1 -0.5 0.5 1.5 1 0 0 0 -0.5 -0.5 -1 -0.5 1 0.5" stroke="#0000e6"/>
<path d="M165 142.5l-0.5 0 0.5 0.5 0.5 1 0 0 0 0 1 0 0 0 -1 -0.5 0.5 -2 -1 0.5 0 0 -0.5 1 0.5 0 -1 0 0 -0.5 0.5 0.5 -1 0 1.5 -2 0 -1 1.5 0 -0.5 0.5 1 0.5 0 1 0.5 1.5 -1 0 0.5 0 -0.5 0.5 0.5 0 -0.5 0 0 0 0.5 0 -0.5 0 -1 0.5 1 -0.5 0 -1" stroke="#0000e6"/>
<path d="M164.5 143l-1.5 -0.5 0.5 -0.5 1 -0.5 1.5 1 -0.5 0 0 0 0 0.5 0.5 0 -1 -1.5 0.5 0 0 0.5 0 0 0.5 -0.5 0 2.5 1 0 -0.5 0 0 0 0 0 0 0.5 0 0 -0.5 1 -1.5 0 0.5 1 -0.5 -0.5 -1.5 -0.5 -0.5 -0.5 0 -0.5 1.5 0 -1 0 -0.5 -1.5 0 1.5 -0.5 -0.5 1 0 0.5 0 1.5 0" stroke="#0000e6"/>
<path d="M164.5 143.5l-0.5 -1 -1 -1 0.5 0.5 -0.5 0.5 0.5 -0.5 0 -0.5 0.5 0 0 0 2.5 1.5 0 0 0 0.5 -2 0 0.5 0 -1 -1.5 -1.5 1.5 0.5 1 -0.5 -0.5 0 0 0 -0.5 1 1.5 -0.5 0.5 0.5 0.5 -0.5 -0.5 0 0 0.5 0.5 0.5 -1 0.5 -0.5 0 -0.5 -0.5 -0.5 -0.5 0.5 -1 0.5 1 1.5 1 -1 -1 0 0.5 -0.5" stroke="#0000e6"/>
<path d="M166 140.5l-1 1 1 0 1.5 0.5 0 1 0 -0.5 0.5 -1 1 0 -1.5 1 0 -0.5 0.5 1 0 0 1 -0.5 -0.5 1.5 -0.5 -0.5 0.5 1 -1 -0.5 -0.5 1 1 -0.5 1 -1 -0.5 0 1 -1 -0.5 -0.5 -0.5 0.5 -0.5 1 -0.5 0.5 -1 -0.5 -1.5 0.5 2.5 0.5 0 0 -0.5 0.5 -0.5 0 0.5 0 1 -1 -0.5 0 0.5 0" stroke="#0000e6"/>
<path d="M186 146.5l0 -1 1 1.5 0 2 1 -1 -0.5 -0.5 0.5 0.5 -0.5 -1.5 0 1.5 0.5 0 -1.5 0.5 0 0 0 0 -0.5 0 0.5 0 -0.5 -1 1.5 0.5 -0.5 0 0 0.5 0 0 0 -0.5 0.5 -1.5 -0.5 0.5 -1 -0.5 -1 0.5 -0.5 -0.5 1 -0.5 0.5 0.5 1 -0.5 0 -1 -1 -0.5 0.5 1.5" stroke="#0000e6"/>
<path d="M185 141.5l2 1 0 0.5 0 -2 1 -0.5 -2 0.5 0.5 1.5 1 0 1 0 0 1.5 0 -2 -1 -1 -0.5 1.5 0.5 -0.5 -0.5 1 0.5 1.5 -1 0 0.5 -0.5 0 0.5 1.5 -1.5 0 0.5 0 0 0 -0.5 0 0 0 0 0.5 -0.5 -1 0 0 1.5 -1.5 -1 1 -1 -1 -1 -0.5 0.5" stroke="#0000e6"/>
<path d="M187.5 142l-0.5 0.5 -0.5 0.5 1 0.5 0 0.5 -0.5 -0.5 -0.5 0 -1 0 0.5 1 0 0 1 0.5 -0.5 0 -0.5 -0.5 0.5 0.5 1.5 -0.5 -1 0 1.5 1 -0.5 -0.5 0 0 0.5 -0.5 -0.5 -0.5 0 0.5 0.5 -1.5 -0.5 -0.5 -1 -1.5 -1 1 -1 1.5 0 0 1.5 2 0 -0.5 0.5 -1 -0.5 -0.5" stroke="#0000e6"/>
<path d="M184.5 145l0 -1 1 0.5 0 -1 -1 0.5 -0.5 1 -0.5 1 0.5 0.5 0.5 -0.5 -0.5 -0.5 0 1 0.5 0.5 -0.5 -1 -0.5 -0.5 1.5 0.5 0 0 0.5 -1 2.5 0.5 0 1 0 -0.5 -1 0 0 -1.5 0 -1 0 2 1 -1 0 0.5 0 1.5 0 -0.5 0.5 0.5 -2 0 0 1 0.5 0.5" stroke="#0000e6"/>
<path d="M251.5 140l0.5 1 1.5 -1 0 -0.5 0 -1 -1 0 -1 -0.5 -0.5 1 2 0 0 -1 -0.5 0.5 0 0 -1 -0.5 0.5 -0.5 1 0 -1 2 -1 -0.5 0 0 0.5 1 0.5 0 0 -1 0 0.5 0 0.5 0 0.5 -0.5 -0.5 0 -1.5 0 0 0 -1" stroke="#0000e6"/>
<path d="M253 137.5l0.5 0.5 0.5 0 -1 1 1 -0.5 -2 -0.5 1 -1 -0.5 1 0 0 -0.5 0.5 0 0.5 -1 0.5 2 0.5 -0.5 0 1 -0.5 0 0 -0.5 0 0 0.5 -1 0 -1 -1 0.5 -1 0.5 -0.5 0.5 -1 1 0 -0.5 0 1 0.5 0 1 -1 -0.5" stroke="#0000e6"/>
<path d="M254 139l-0.5 0 0 0.5 1 0 -1.5 0.5 0.5 0 -0.5 -1.5 0 0 0 1.5 1.5 -1.5 0.5 -0.5 0 3 0 -0.5 -0.5 0.5 0.5 -1 0 -1 0.5 0 -0.5 1.5 0 0.5 -1 -0.5 -0.5 -1.5 0.5 0 -0.5 0 -1 0.5 1 -1.5 -1 0 0 0.5 0.5 -0.5" stroke="#0000e6"/>
<path d="M252.5 137.5l-0.5 -1.5 0.5 0 -1 2 2 -1 -0.5 -0.5 -0.5 0.5 0.5 1 -1 0.5 1 -2 -0.5 -1 1 -0.5 -0.5 0 -0.5 0 -0.5 0.5 -1 0.5 1.5 0 0 -1 -1 1 1 -0.5 -0.5 0 1 1 -0.5 -0.5 0.5 -0.5 0 1 0 -1.5 2 2.5 -1.5 0" stroke="#0000e6"/>
<path d="M68 186l1 0.5 0 -1.5 0 -1 0.5 -0.5 -1 2 2 -1.5 0.5 -1 0.5 -0.5 0.5 -0.5 -1 0 0.5 0.5 0.5 0 0.5 1.5 -0.5 0 -1 -0.5 1 -0.5 1 1.5 -0.5 0.5 -1 -0.5 -1 1.5 0 -0.5 0 1 -1 0.5 0 0 0.5 -0.5 -1 -1.5 0 -1.5 -0.5 -0.5 1 -1.5 -0.5 0 0.5 0 0.5 0 -0.5 0 0.5 0 0.5 1 1 -0.5 -0.5 1.5 -0.5 -1.5 0 0 1 0.5 0.5 0 -0.5 0 0 0 0.5 1.5 -1 1 0.5 -1 0 0 -2 0 -0.5 -0.5 -2 0 1.5 1.5 1 0" stroke="#0000e6"/>
<path d="M73 185l0 -0.5 0 1 -1 0.5 -0.5 0 0.5 0.5 -0.5 1 1 0.5 -0.5 0 0.5 0 1 0.5 1 -1 0.5 -3 -0.5 0.5 -1.5 -2.5 -1 0.5 0 0.5 0 0.5 0.5 -0.5 0 2 -0.5 -1 -0.5 -1 -1.5 1 0.5 0.5 1 -1 -0.5 0.5 1.5 -0.5 -1.5 -1 1.5 0 -1.5 0 1 -0.5 0 0.5 -0.5 0 0.5 1 0 -1.5 0 1 1 -0.5 -1 0.5 0 1.5 1 1 0 -1 0.5 -0.5 0.5 0 0.5 -0.5 0 0.5 1.5 -1 0 0.5 0 0 0.5 -0.5 0.5 1.5 -1.5 1 -1 -0.5 -1 1" stroke="#0000e6"/>
<path d="M70 185l0.5 0 -1 0 1.5 0.5 1 -0.5 0 -0.5 0 -1 -0.5 1.5 -1 0.5 -0.5 -0.5 1 0 1 2 0.5 -0.5 -0.5 -1.5 0 -0.5 2 -0.5 -0.5 -1 0 -0.5 -1.5 1 0.5 1.5 0.5 0 1 0 1 0 -0.5 -1 -0.5 0 0 0 1 1 -1 0.5 0 1 0 0 0 1 -2 1 1 -0.5 1 -0.5 -1 -1.5 0 0.5 0 -1.5 0 0.5 0.5 1.5 -1 0.5 0 0 -0.5 0 -1.5 -0.5 1 -0.5 -0.5 0 0.5 1.5 -0.5 -0.5 -1 0 0 0 0 -0.5 -1 -1 -0.5 -1 0.5 0.5" stroke="#0000e6"/>
<path d="M73.5 184.5l-1 -1 0.5 0 0 0.5 0.5 -0.5 0 0 -2 -0.5 1 0 -0.5 -0.5 0.5 -0.5 -1 0.5 2 -0.5 0 0 0.5 0.5 0 0 0 0 1 1.5 1 1.5 -0.5 -1 -2 1 0 -1.5 0.5 0 0.5 0.5 0.5 0 -0.5 1 -1 0.5 0.5 1 -1 0.5 -0.5 -0.5 1 0.5 -2.5 0.5 0 -1 -0.5 -0.5 0 0.5 0.5 0 -1 0.5 2 -0.5 0 0.5 0.5 1 0.5 0 0 -0.5 -1.5 -0.5 0.5 0.5 0 -1.5 -1 -0.5 0.5 0 0.5 -0.5 -0.5 0 0 -1.5 0.5 0 2 -0.5 0 -0.5 0.5 -0.5" stroke="#0000e6"/>
<path d="M74 183.5l0 -0.5 -1 0.5 1 0 0.5 -0.5 -0.5 1 1 0 -0.5 0.5 -1.5 0 0 -0.5 0 1 0.5 0.5 -1 -0.5 -1 -0.5 1 0.5 -0.5 -0.5 0 -1.5 0.5 2 0.5 -0.5 0 0.5 -1 0 -0.5 0 0 -0.5 0.5 -1 1.5 -1 0 2 1.5 0 0.5 -1 0.5 -1 1 0.5 -0.5 0.5 -0.5 0.5 -1 -0.5 1 1.5 0 -0.5 0 0.5 0 0 -1 0 0.5 -1.5 0 1.5 0.5 -0.5 0 0 0 -0.5 0 1 -2 -1.5 1 -2 1 0.5 0.5 1 0 0 0.5 -1 -1 -1 0.5 0 -0.5 0" stroke="#0000e6"/>
<path d="M72.5 182.5l-0.5 -0.5 2 0 0 -0.5 0 -0.5 0 0.5 -1.5 -1 -2 0 -1.5 1 0.5 -0.5 2 0 1.5 -0.5 0 0.5 1.5 0 -0.5 0.5 0.5 1 0 -0.5 0.5 0.5 -1 -0.5 0.5 0 -1 -1 0 0 0 1.5 0.5 0 -1 0 0.5 -1 -0.5 0.5 -0.5 1 -1 -0.5 -1 0.5 -0.5 1 1.5 0 0.5 -0.5 1 -1 0 0.5 -1 0.5 0 0.5 -0.5 -1.5 0.5 0.5 0.5 -0.5 0.5 -0.5 0 1.5 -0.5 0.5 -0.5 0 0 1 -0.5 -0.5 1.5 0.5 1.5 -0.5 -1 0 0.5 0 -1.5 -1.5 1.5 -1 0.5 1" stroke="#0000e6"/>
<path d="M145.5 181.5l0.5 -0.5 -1.5 0.5 0.5 0 -1 0.5 0 0 0 0 0 0 0.5 0 -0.5 0 0 1 -0.5 -0.5 0.5 -1 0.5 -1 0 0.5 0.5 1 -0.5 -1 0 2 1 -1 -1 0 -0.5 -0.5 1 1 1 1.5 -2 0 0.5 0.5 -0.5 0 1 0.5 1.5 1 0 -1.5 0.5 1.5 1 -2 -1 0.5 0.5 0 0.5 -0.5 0.5 1.5 0 -1.5 -1 0.5 0.5 -0.5 -0.5 0 0 0 0 0 -0.5 -1.5 -1 -0.5 0.5 -0.5 2 -0.5 -0.5 1 1 1 0.5 0.5 0 0.5 0 -1 0.5 -1.5 -0.5 -0.5 0 0.5" stroke="#0000e6"/>
<path d="M145 185l-0.5 1.5 0 0 0 0 -0.5 -1.5 2 1 -0.5 -0.5 -0.5 0 1 0 -0.5 -2 1.5 1 0 0.5 -0.5 -0.5 2.5 -2 -0.5 0 0.5 0.5 0 0 -1 -1 0.5 -0.5 0.5 1 0 1 -1 0 0 1 0 1 -0.5 0.5 0 0 -1 -0.5 1 0.5 -2 0 1.5 -0.5 1 1 -2.5 -0.5 0 0 -1 0 0.5 0.5 0 -0.5 -1 -0.5 0.5 -0.5 -0.5 -0.5 0.5 1 -0.5 -0.5 -1 0.5 0.5 -1 0 0.5 -1 -1 1 1.5 -0.5 -2 0.5 -1.5 1.5 0.5 0.5 0 1 0.5 0.5 0.5 -1.5 0.5" stroke="#0000e6"/>
<path d="M147.5 180.5l-0.5 0.5 -1 -0.5 0 0.5 -0.5 0 1.5 0.5 0 0 0 -1 -0.5 1 1.5 -1 0 0.5 0.5 0 -2 -0.5 -1 -0.5 0 -0.5 0 -1 -1 0.5 0 0.5 0.5 -1.5 0.5 0.5 0.5 -0.5 -2.5 1.5 0.5 0 0.5 1 0 -0.5 2 0 -1 0 -0.5 0 -1 0.5 0 0.5 0.5 0 0 2 0 -1 0 1.5 -0.5 -1.5 -0.5 -1.5 1 -1 1 0 0.5 0 1 -0.5 -0.5 -0.5 -1 0.5 1 -0.5 -1.5 1 -1 -1 0 1 0 -0.5 0 0.5 1 0.5 1 0 -0.5 0 0 2 0 0" stroke="#0000e6"/>
<path d="M148 187l1 0 -2 1 0.5 1 -1 -0.5 -1 -1 -0.5 1 0.5 -0.5 -0.5 -1 0.5 0 -0.5 0.5 0 -1 0 0.5 -0.5 -1 0.5 0 1.5 0 0.5 -0.5 1 1.5 1.5 -1.5 -1 -2 0.5 1 0 -0.5 -1 -1 -0.5 0.5 1 1.5 -0.5 1 1.5 1 0 0.5 1 1 0 -1 0 0.5 -1 0.5 1 -1 -0.5 0 0.5 1 0 -1.5 0 1 -0.5 0.5 -1 0 -0.5 0.5 -1 -0.5 -0.5 -1.5 -1.5 -1 0.5 0 0 0 2 -0.5 -0.5 0.5 0 0.5 0.5 -1 -1 -0.5 1 2 -1 0.5 -2 0" stroke="#0000e6"/>
<path d="M145 185.5l1.5 0.5 -1 0 -0.5 -0.5 -0.5 0 0 0.5 -1.5 -1 1 -0.5 -0.5 -0.5 0.5 0 0 0 -1 0 2 -0.5 0.5 -0.5 -0.5 0 1 0 0.5 0 -1 0.5 -0.5 0 -1 0.5 0.5 -0.5 1 1 1 -2 -1 0.5 0.5 0.5 0 -0.5 1 2 0 1 0.5 -2.5 -1 -0.5 0.5 1 -0.5 -1 -0.5 0 -0.5 0 0.5 0 1.5 0.5 1 0 -0.5 0.5 1 0 -1.5 -0.5 -1 0.5 -0.5 1 1 0.5 -1 1 0 0 1 -0.5 1 0.5 0.5 0 -0.5 0.5 -1 0 -0.5 1 0 1 -1 0" stroke="#0000e6"/>
<path d="M145 187l-0.5 0.5 0 1 1 -1.5 -1 -1 -1 -1 0.5 0.5 0.5 -1 -0.5 0.5 0 -1 0 0 1.5 0 -2.5 0 1.5 -0.5 1 1 0 -0.5 0 0 0.5 1 0 -0.5 1 0 -1.5 0 1.5 0 0.5 -1.5 0 0 0 0.5 -0.5 1 -0.5 -1 1 0.5 -0.5 -1 -1 2 0.5 0 0.5 0.5 2.5 1 -0.5 -0.5 0 0.5 -0.5 -2 0 -1 -1 0 -0.5 -0.5 0.5 0 -0.5 0.5 0 0 0 -1 1 2 -1.5 0 -1 -1 0 0.5 0 1 0 -0.5 1.5 0.5 0 0.5 1 0 1 -1.5" stroke="#0000e6"/>
<path d="M216.5 176.5l0 0 0 0.5 -0.5 -1.5 1.5 -0.5 -0.5 0 -0.5 -1 -0.5 0 0 0 0 0 1.5 0 -0.5 0 -0.5 0 -1 0 -0.5 0 0.5 0 -0.5 0.5 1 -0.5 -0.5 0 0.5 0 -0.5 1 0 0 1 0.5 -1 0 -0.5 0.5 0.5 1 0.5 -2.5 0 -0.5 0.5 1 0 -0.5 0.5 0.5 1 1" stroke="#0000e6"/>
<path d="M213.5 174.5l1 1 0.5 -0.5 1 0 -1 0.5 -1 0.5 0 0 1.5 -1 0.5 1 0.5 0.5 -0.5 1 -1 0 0 0 1 0 -0.5 0 -0.5 0 -0.5 0 0.5 0.5 1 -1 -1 -1.5 1.5 0 0 0 -0.5 -1 0.5 0.5 -1 0 0.5 0.5 -1 0 1 -0.5 0.5 0 0.5 0 -0.5 1 -1 0" stroke="#0000e6"/>
<path d="M214.5 177l0 0.5 0.5 0.5 0 -0.5 -0.5 -0.5 0 0 0 -0.5 -0.5 -0.5 0.5 0 -0.5 0 1.5 0 0.5 0.5 0.5 0 1.5 -1 -0.5 0 -0.5 0 0.5 0 -0.5 0.5 0 -0.5 -1.5 0.5 1.5 -1 -1 1.5 -1 -1 0.5 0 0.5 -1.5 0.5 0 1 1 -0.5 1 0 -1 -0.5 -1.5 -0.5 0.5 1 0.5" stroke="#0000e6"/>
<path d="M213 176.5l0 -0.5 -0.5 1.5 0 -1 0 0 2 -0.5 1.5 -1.5 -1 0 0 0.5 0 0 -1 0 0 0.5 -1 1 0.5 -1 0.5 -1 -0.5 0.5 0.5 2 -0.5 0.5 0.5 -0.5 -1.5 0 0 0 0 0 1 -0.5 0.5 1 -1 -2 -0.5 0 0 0.5 0.5 0.5 1 0.5 -1 -0.5 -0.5 0.5 2 -1" stroke="#0000e6"/>
<path d="M217.5 195.5l-0.5 1 1 -1.5 0 0 0 -0.5 -0.5 1 0.5 -1 0 0.5 0.5 -0.5 -0.5 -0.5 -0.5 1.5 -0.5 -1 0.5 -1 -0.5 0.5 0.5 0.5 0.5 0.5 0 0 -0.5 -0.5 0.5 0.5 -0.5 0.5 0 0.5 0 0 0 -1 0.5 0.5 0 -0.5 0 0 -1 0 -0.5 -1 0.5 0.5 0.5 -0.5 0.5 0.5 0 -0.5" stroke="#0000e6"/>
<path d="M214 195.5l0 1 0 -0.5 0 0 1 0 1.5 0 -1 -0.5 -1 0.5 0.5 1.5 -0.5 0 -0.5 -0.5 0 0 1 1 -0.5 -0.5 -0.5 -3 0 0 -0.5 0.5 1 -1 0.5 0 0 -0.5 0 1.5 0 0 -1 1.5 0 0 -0.5 -0.5 1.5 -1 -1 1.5 0 0 2 -1 -1 1.5 1 1 0.5 0" stroke="#0000e6"/>
<path d="M218.5 195.5l-0.5 0 1 1.5 0.5 0.5 1 -1.5 0 -0.5 -1.5 0.5 1 -0.5 1 0.5 -0.5 -0.5 0 0 -1 0 1 -0.5 -0.5 0.5 -0.5 0.5 -0.5 -0.5 -0.5 0 1.5 -2 0.5 1 0 1 0 -1 -0.5 1 0 1.5 -3 -0.5 0 0 -0.5 -1.5 0.5 1 -0.5 -1 0.5 1.5 -0.5 -0.5 1 0 0 0" stroke="#0000e6"/>
<path d="M217.5 194l-0.5 -0.5 0.5 0 -1.5 0.5 1 1.5 -1.5 -1 1 0.5 -0.5 0.5 1 0.5 -1.5 0 0 1 1.5 0 0.5 -0.5 -1 0.5 -1.5 -2 -1 0.5 0 0 1.5 0.5 -0.5 1 0 -1.5 -0.5 -0.5 0.5 -0.5 0 0 0 0 0 -0.5 -0.5 0 0.5 -1 1.5 0.5 0 -0.5 -0.5 0 0.5 1 1 0.5" stroke="#0000e6"/>
<path d="M97.5 229l-0.5 0 0.5 -1.5 2 -0.5 -1 -0.5 -0.5 0 0 -0.5 -1 0 0.5 0 -0.5 0 -0.5 1.5 0 -1 0 -0.5 0 0 1 2 0 -1 0 0 1 -0.5 -0.5 0 0 0.5 0.5 0.5 -1.5 0.5 0 -2 0 -0.5 0 0.5 0.5 0.5 1 0.5 0.5 0.5 0 0.5 0 -1 0 0.5 0 0.5 -0.5 0.5 -0.5 1 0 0 0 -1" stroke="#0000e6"/>
<path d="M98.5 229.5l1 -1 0 1.5 0 -0.5 0 1 0.5 1 -1.5 0 0 0.5 1 -0.5 0.5 -0.5 -1 0.5 0 0 0 -1 0.5 -2 0.5 0.5 -2 -0.5 -1 -1.5 0 0.5 0.5 0 1 2 0.5 -1 0 0 -1 -0.5 1.5 -0.5 0 0.5 -1 -0.5 1 0 -0.5 -0.5 -1 0.5 1 1 1.5 0.5 -2 0 -1.5 0 -0.5 0.5 0 -0.5 0 -1.5" stroke="#0000e6"/>
<path d="M98.5 227.5l0.5 0 0 -0.5 0 1 -1 0 -1 -0.5 0.5 0 -0.5 0 -1 -0.5 -0.5 0 -0.5 -0.5 0.5 0 0 1 0 -1.5 -0.5 0.5 0 0 -0.5 0.5 0.5 1.5 0 -0.5 -0.5 -0.5 0.5 0.5 3 1 -2 0 0 1 0 0 -0.5 -0.5 0 0.5 0 0 0 -0.5 0 -1 -0.5 -0.5 0.5 -0.5 -1 0 0.5 -0.5 -0.5 0 0 1.5" stroke="#0000e6"/>
<path d="M95 230.5l0 -1.5 0.5 0.5 -1 1 0 -1 0 0 1 -0.5 1 0 0 0.5 -0.5 -0.5 -1 1 2 -1 0 1.5 1 1.5 -0.5 0.5 0 -1 0.5 0.5 0.5 -0.5 -1 0 0 1 0.5 -0.5 -1 1 -1.5 0 1.5 0 -1 -0.5 1 -1 0 0.5 0.5 0.5 0.5 0 0.5 0 -0.5 -0.5 -0.5 0.5 0.5 -0.5 -0.5 -1 0 -2 -1 0.5" stroke="#0000e6"/>
<path d="M95.5 228l0.5 1 0 0 0.5 -1 0.5 -1.5 0 0.5 -0.5 0 -0.5 0.5 1 0 0.5 1 -1 0.5 -0.5 0 0.5 0.5 -1 0 1 0 -0.5 0.5 -1 0 -0.5 -1 0 0 0 -0.5 1 -0.5 -1 2 0.5 -0.5 1 -1 0.5 1 0 0 -0.5 0 1 -2 0 0 0 0.5 0 -0.5 0 1 -0.5 1 0.5 -0.5 0 -0.5 0 -0.5" stroke="#0000e6"/>
<path d="M170.5 226.5l1.5 -0.5 -1.5 -0.5 -1 0 -0.5 1.5 0 -1 0.5 2 -0.5 -0.5 1.5 -1.5 0 -0.5 0.5 0.5 0 0 0 -0.5 -0.5 0 0.5 2 0.5 -1 0 -0.5 1.5 0.5 -0.5 -1 0 0 -1 0 -1 0 0.5 2 1.5 1 -1 0.5 -0.5 -0.5 -0.5 -1 -1.5 0.5 0.5 -0.5 0 -0.5 0.5 0 0.5 -2.5" stroke="#0000e6"/>
<path d="M170 228.5l0 -0.5 0 0 0.5 -0.5 0.5 0 1 -1 0 0 1 0.5 -1 0.5 0.5 -0.5 -0.5 -0.5 0.5 0.5 0 -0.5 0 0 0 0 0.5 0.5 -0.5 -0.5 0.5 0 1 1.5 -0.5 1 -1 -1.5 1.5 1 0 0 -0.5 -1 0.5 1 -1.5 -1 -0.5 -1 0.5 0.5 0.5 0 -1.5 -0.5 -1 0.5 0.5 -0.5" stroke="#0000e6"/>
<path d="M170.5 228l0 0.5 -0.5 0 -1 0.5 1 -0.5 0 -0.5 0 2 1 1 -1 1 -0.5 -1 1 0 0.5 0.5 -0.5 0 0.5 0 -0.5 0 -0.5 -0.5 0 0.5 0.5 0 -1 -0.5 0 -0.5 -0.5 -0.5 0 -0.5 0 -0.5 0.5 -0.5 1 1.5 0 1 1 0.5 -0.5 0.5 -0.5 -1.5 -1 0 0 0.5 0 0" stroke="#0000e6"/>
<path d="M170.5 231l0.5 0 -0.5 0 1.5 0.5 0 -0.5 0 -1.5 -1 -1 -1 -1 0 0 1.5 -1 0 0 0 0.5 0 0 1.5 0 -1.5 1 -1 -1 2 0.5 0.5 0 -0.5 -0.5 -0.5 0 -1.5 1 -1 1 0 0 0 -0.5 -0.5 -0.5 0 0 0.5 0.5 0 0.5 -0.5 -1 0.5 0 0 1 1 0" stroke="#0000e6"/>
<path d="M250 224l1 0.5 -1.5 0 0 0.5 1 1 -0.5 0 0 0 0.5 0 -0.5 0 0.5 -1 1.5 0 0.5 -1 0 0 -2.5 1.5 0.5 0 1 0.5 1.5 -1 -0.5 -0.5 0 -0.5 0 -1 -0.5 -0.5 -0.5 1 -0.5 -0.5 -1.5 0 -1 1 -0.5 0.5 0 -1 0 1 0 -1 0.5 0.5 0 1 -0.5 -2 0 0 0.5 1 1.5 0 0 0.5" stroke="#0000e6"/>
<path d="M249.5 222l0 -1.5 1 0 1.5 -0.5 -2 -0.5 -1.5 0 0 -0.5 1.5 -0.5 -1 0 0.5 0 -1 1 -1 -0.5 0.5 0 0 -0.5 0 0 0.5 0 0.5 0 -0.5 0 0 0 -0.5 0.5 1 -0.5 -1 0.5 1.5 0.5 -0.5 0.5 -0.5 0 -0.5 1.5 -1 0.5 0.5 0 1 0.5 -1 -0.5 1 -0.5 -1 -2 1.5 0.5 -0.5 -0.5 -0.5 0.5 -0.5 0.5" stroke="#0000e6"/>
<path d="M248.5 222l0.5 1 0.5 0 -0.5 -0.5 0 -1 0 -0.5 0 0 0 1 0 -1.5 0.5 0 0.5 0 -0.5 -1.5 0 1 -1.5 -1 -1 0.5 1 -0.5 0.5 0.5 0.5 0.5 0.5 2 0.5 0.5 0 0 0 0 0 0.5 -0.5 -0.5 1 -0.5 -0.5 0.5 -0.5 -1 0.5 1 -1 -0.5 0.5 1.5 0 -0.5 -0.5 0.5 1 -1 0 -0.5 -0.5 1 0.5 -1" stroke="#0000e6"/>
<path d="M252 222l-1 0.5 -0.5 -0.5 -0.5 1.5 0 -0.5 0 0.5 0.5 0.5 0.5 0.5 0.5 0 -1.5 -0.5 0 -0.5 0.5 0 1 0 -0.5 1 0.5 0.5 0 -0.5 0.5 0.5 0 0 -1 -0.5 0.5 0.5 -0.5 0 -0.5 -1.5 0 0.5 0 0 0 0 0.5 0 -0.5 0 0 -0.5 0 0 0 0 0 -2.5 0 0 0.5 0 -0.5 0.5 -0.5 0 0 0.5" stroke="#0000e6"/>
<path d="M250 224l0 -0.5 0 0 0 -0.5 -1 0.5 0 0 -1.5 -1.5 0.5 1 1 0.5 0.5 -1.5 1 0.5 -2 1 1 -0.5 -1 1.5 0 -1 -0.5 0.5 -0.5 1.5 0 -0.5 1 0 0.5 -0.5 1 0 -0.5 0 0.5 -0.5 -1 -0.5 1 -0.5 -1 0.5 0.5 0.5 -0.5 0 0.5 0 0 0 0 -1 -1 1 0 -0.5 0.5 1.5 1 -1 0.5 -0.5" stroke="#0000e6"/>
<path d="M135.5 258l-1 0 -0.5 1 0 -0.5 0.5 -0.5 0.5 0 1 1.5 -0.5 0 -1 0 0 0.5 -0.5 -0.5 0 0 0 0 0.5 0 0 0.5 0 -0.5 -0.5 -0.5 0 0 0.5 1 1 -0.5 -0.5 -0.5 -1 1 0.5 -2 0.5 -0.5" stroke="#0000e6"/>
<path d="M137 256l-0.5 0.5 0.5 -0.5 -1 0.5 0 0 0.5 -0.5 0 1 0.5 -1.5 0 0.5 1 0 -1 0 1 0.5 -0.5 -0.5 -1.5 2 -0.5 -1 0.5 1.5 1.5 0.5 -0.5 0 1.5 0 -0.5 0 0.5 -0.5 -1.5 0.5 0.5 -1 0 1" stroke="#0000e6"/>
<path d="M134.5 257l0.5 -1 1 0 0 0 -1 0 0 0 -1 1 -0.5 0.5 0 0.5 0.5 0.5 -0.5 0 0.5 0 0 0.5 0 -1 -0.5 -1 1 -1 0 0 0 -0.5 1 0.5 -1 0.5 -0.5 0.5 0.5 -1 0.5 -0.5 1.5 1" stroke="#0000e6"/>
<path d="M214 252.5l-0.5 0 0 -0.5 -1 -1.5 1 2.5 0.5 1.5 0.5 0 -1.5 0 0.5 0 -0.5 0 0 -0.5 -0.5 0 0.5 0.5 0 0.5 0.5 0 1 -1 0 0 0 -0.5 0.5 -1 -1 0.5 -1.5 -0.5 0.5 -0.5 0 -1 -1 1.5 0.5 0 -2 -0.5 1 -0.5 -1 0.5 0.5 0.5 0 -1 0 0.5 0 1" stroke="#0000e6"/>
<path d="M214 253.5l1 -1.5 0 1 -0.5 -0.5 0 0.5 0.5 0.5 0 -1 -1 -1.5 1.5 0.5 0 -0.5 -0.5 0 1 0.5 -0.5 0 0.5 1 0 0.5 -1 -0.5 1 0 -1 -1 0.5 0.5 0 0 0 -0.5 -0.5 -0.5 0 0.5 -0.5 -0.5 -0.5 0.5 -1 -0.5 0.5 -0.5 0.5 0 0 0.5 -0.5 0 0.5 0.5 -1 1.5" stroke="#0000e6"/>
<path d="M215 252l-0.5 -0.5 0 1 0.5 -1 1 2.5 -1 0.5 -1 -0.5 0 -2 -0.5 0.5 1.5 0.5 0 -2 0 -0.5 1.5 1.5 -0.5 1 -1 0.5 -1 1.5 0.5 -0.5 0.5 0 -0.5 0 0 0.5 0.5 0 0.5 -1 0.5 -1 0 -0.5 0.5 0 -0.5 -1.5 -0.5 0 0.5 0 -1 -0.5 0 0.5 1.5 1 0 -0.5" stroke="#0000e6"/>
<path d="M214 253.5l-1 0 1 -1 0.5 0.5 0 -0.5 0 -0.5 0 1 -0.5 0.5 0 0 0 0.5 0 -0.5 0 -0.5 -0.5 -0.5 -1.5 0.5 -0.5 0.5 0 0.5 0 0.5 -0.5 -0.5 0.5 -1 -0.5 -0.5 2 1.5 0 0.5 1 -0.5 0 -1 -1 -0.5 -0.5 0.5 -0.5 1 -1 0 0 -0.5 -0.5 -0.5 0.5 -1.5 0.5 -0.5" stroke="#0000e6"/>
<path d="M289.5 256.5l0.5 0 -3.5 -1 0 -0.5 1 0 0 0 0.5 1 -1 0 -0.5 0 1.5 1 0 0 0.5 0 2 0.5 0.5 -0.5 0 -0.5 0 0 -1.5 0 1 0.5 0 -1 -0.5 1.5 0 -0.5 -2.5 0.5 0.5 0 0.5 0 1 -1 -1.5 0 -1.5 0 1.5 -1 0.5 0.5 0 0 -1 0 0.5 -0.5 0 -0.5 0.5 1.5 -0.5 -1 0.5 0 0.5 0.5 0 0.5 -1.5 0 0 0 0 0" stroke="#0000e6"/>
<path d="M287.5 257.5l0 -0.5 -0.5 -0.5 -1.5 -0.5 -0.5 0.5 1 0.5 0 -0.5 -1.5 0 1 0 -0.5 -0.5 0.5 -0.5 -0.5 1 -0.5 0.5 0.5 1 -0.5 -0.5 1 -1.5 -1 -0.5 0.5 0.5 1 -0.5 0 0 0.5 0.5 -1 1.5 0 0 -0.5 0 0 2.5 0.5 -0.5 2 0.5 -1 0 0 0 0 0 0 0 0.5 0 0 -0.5 0 0.5 0.5 -2.5 -1 -1 0 0.5 0 -1 -1 1.5 -0.5 -0.5 0.5 0" stroke="#0000e6"/>
<path d="M285.5 257.5l0 -0.5 -1 -0.5 0 -0.5 1 -0.5 -1 0.5 0.5 0.5 0 -1.5 1 -0.5 1 0 0.5 0 -0.5 0 1 0 -1 2 -0.5 -1.5 -1.5 1.5 0 0 0 -0.5 1 -1 0 1 -1 0 1 -1.5 1 0.5 0 0.5 0.5 1 1 -1 -1 -0.5 0.5 0 -0.5 0 1 0.5 0 1 -1 -0.5 1 -0.5 -1.5 0 0 0.5 -1 0.5 -1 0.5 0.5 -2 -1 0.5 0.5 -0.5 -0.5 0.5" stroke="#0000e6"/>
<path d="M290.5 258l-0.5 -1 -0.5 0.5 -1 0 0 0.5 0 0.5 0.5 1 0 -0.5 2 -0.5 -0.5 -1.5 -0.5 -0.5 0 0 0 -1 -1 0 -0.5 -1 0.5 1 0 -0.5 0 -0.5 0.5 -1 1 0 -2 2 -0.5 0.5 -1 -1 1 0.5 0.5 0 0 -0.5 -1 -0.5 0.5 0 0.5 0 1 0 -2 0 2 0 -0.5 -0.5 0.5 0 0 0 -1 0 0.5 0 0.5 0.5 -0.5 1 -1 -1.5 -0.5 1.5" stroke="#0000e6"/>
<path d="M289 258l-0.5 0 0 0 -0.5 0 0 1 2 0.5 -1 0 -0.5 -0.5 0.5 1 0.5 -1.5 0 1 0 0 0 0 0 0 1 0 0 0 0.5 0 -1.5 -0.5 -1 -1 1 -1.5 0 0 0.5 1 -0.5 -0.5 1.5 0 0 0 0 0.5 0.5 0 1 0.5 0 0 0 -1 -0.5 1 0 0 0.5 0.5 0 0.5 -0.5 -0.5 0 0.5 0 0 -1 -0.5 -1 1 1 -1 0.5 1" stroke="#0000e6"/>
<path d="M288 258.5l1 0 0 0.5 1 -0.5 0.5 -0.5 0 -2 -0.5 0 0 0 -0.5 0 0 -1 -1.5 1.5 0 -0.5 0.5 -0.5 -0.5 1 -0.5 0 1 -0.5 0 0 0.5 0 -0.5 1.5 -0.5 -0.5 0 0.5 0 0.5 -2.5 0 0.5 -1 -0.5 1 1 -1 -0.5 0 0 -0.5 1 -0.5 0 -0.5 -0.5 1 0 -1 1.5 0 -0.5 1 0.5 0.5 0 -0.5 0.5 -1 0 0 0 0 0 0 0.5 1" stroke="#0000e6"/>
<path d="M220.5 26l0 0.5 -1 -0.5 -1 1 0 1.5 0 0 1.5 0.5 0.5 -1 0.5 -1 0 -1 0 0.5 -1.5 -1 0 -1 0 0 -1 0 0.5 1 -1 0 -0.5 0.5 -0.5 0.5 0 -1 1 1.5 -0.5 0.5 1 0.5 0 -0.5 -0.5 0 2 -1.5 -0.5 0.5 -0.5 0.5 -0.5 1.5 -0.5 0 1 0 0.5 -0.5" stroke="#0000e6"/>
<path d="M220 27l-0.5 0 1 -1.5 0.5 -1 0 0 0 0 0.5 0 0 0 0 1 0 -0.5 -0.5 1 -1 -0.5 0 0 0.5 -1 0 0 0 0.5 0 -0.5 -0.5 0.5 0 2 0.5 0 1.5 1 -1 -1 1.5 1.5 0 -0.5 0.5 -0.5 0 0 -0.5 0 -0.5 -0.5 1 1 0.5 -1 -0.5 0 0 0.5" stroke="#0000e6"/>
<path d="M221 28.5l0.5 1 0 -0.5 1 -1 -1 1 1 -0.5 -1 0.5 -0.5 0.5 0.5 -0.5 0 -0.5 -0.5 -0.5 1 1 0.5 -1 -0.5 -1.5 0 0 -1.5 -0.5 -1.5 0 0.5 0 0 0 0 1.5 -1 0.5 0 -1.5 0 0.5 1.5 -1 -0.5 0 -0.5 0.5 0 1.5 0.5 -1 0.5 0.5 -2 0.5 2 0.5 0 -1" stroke="#0000e6"/>
<path d="M220.5 28l1 1 0.5 0.5 -1.5 -1 0 1 1.5 -0.5 0.5 -0.5 -0.5 0 -1 1 1 -0.5 0 0 0.5 -0.5 0 -0.5 0 0 -1 0.5 1 0 -1 -1.5 -0.5 0 -0.5 -2 0.5 0.5 -1 0.5 0.5 -0.5 0 -0.5 0.5 0.5 -0.5 0 0.5 1 2 0 -1.5 0.5 1 -0.5 0.5 0 -0.5 0 -1 0" stroke="#0000e6"/>
<path d="M136 29.5l1 -0.5 -0.5 1 -1 -0.5 -0.5 -0.5 1.5 -1.5 0.5 0.5 -1 0 1 1.5 0 -1 1.5 0 1 0.5 0 0.5 -1 0.5 1 1 0 -2 -0.5 0 -1 0.5 1 -0.5 -1.5 -1.5 -0.5 1 1 0 0.5 1 1 -1 -1.5 0 -0.5 -1.5 0.5 1 0 -1.5 -0.5 0.5 0 1 0 1 0 1 1.5 0.5 0 0.5 -0.5 0 -1 0 -1 1.5 0.5 0.5 0.5 -1.5 0 0 0 0.5 -0.5 -0.5 0.5 0 0 0 1 0 0.5 0 -0.5 0 0 -1.5 0.5 0 0.5 0.5 0 -1 -0.5 -0.5 0.5 0.5" stroke="#f00000"/>
<path d="M138.5 25.5l-1 0.5 -1.5 0.5 0 -1 -0.5 -0.5 -0.5 0 0.5 1 -0.5 -0.5 1 0 -0.5 0 -0.5 1 0.5 0 0.5 1 0 0.5 1 0 1 0.5 0.5 1 0 0 0 0.5 0.5 -0.5 0 -0.5 -1.5 0.5 2 -0.5 0.5 0.5 0 -0.5 -1 -0.5 0.5 0.5 -2 0 0 0 1.5 0 1 -1 0 -0.5 1.5 0.5 -0.5 0 -0.5 -0.5 0 0 -1 -1.5 0.5 0.5 0 0.5 -0.5 0 1.5 -1 0.5 0.5 0.5 0 -0.5 0 -1 0 -0.5 0.5 0 0 -0.5 0.5 -0.5 -0.5 -1.5 0 -0.5 -1 0.5 -0.5 1 -0.5" stroke="#f00000"/>
<path d="M133 26.5l0.5 -1 0 1 0.5 1 -0.5 0 0 0.5 -1 -1.5 0.5 0 0 0 0 0.5 0 -0.5 -0.5 1 0.5 1 -0.5 -1.5 -0.5 0 0 0.5 0.5 -1 0.5 -0.5 1 1 0.5 -0.5 0 0.5 2 0.5 -0.5 -0.5 -2 1 -1 0 0 0 0.5 0 0 1 0.5 0.5 0 0 0.5 0 1 -0.5 0.5 0 0.5 0.5 -0.5 -0.5 0 0.5 -1 0.5 0 0 0 -1 -0.5 0.5 -0.5 0 0.5 0 0 -0.5 -0.5 -0.5 0.5 -1.5 -0.5 -0.5 0.5 -0.5 -0.5 -0.5 0 -1 1 2.5 -0.5 1 0 0.5 0 1" stroke="#f00000"/>
<path d="M137 30.5l0 -0.5 1.5 -0.5 0.5 1 -0.5 -1 1 0 -0.5 0.5 -1 0.5 1 -0.5 -0.5 -0.5 0 -0.5 0 -1.5 0 0.5 0 -0.5 -1 -1 -1 0 -0.5 1 -1 -0.5 -0.5 0.5 0 -0.5 0.5 0.5 -1.5 1 0.5 0 0 2.5 0.5 0 -0.5 -1 1.5 2.5 1 -0.5 1.5 -0.5 -0.5 0 0 0.5 -1 -1.5 0 -0.5 1.5 0.5 -1.5 0.5 -0.5 -2.5 2 1 -0.5 -0.5 1.5 0.5 -0.5 0 -1 0 1 0.5 0 -1 0 1 0 -1 -0.5 0 0 0 0 -1 -2 1 -0.5 -0.5 0.5 0.5 -1 1 0 0" stroke="#f00000"/>
<path d="M138.5 27l-0.5 1.5 -0.5 -1 0 -1 -0.5 0.5 2.5 1 -0.5 -0.5 -1 0.5 2 0 -1.5 1.5 0.5 0 0.5 -0.5 0 -1 -1.5 -0.5 1.5 0.5 0.5 -1.5 0 0 0.5 2 0 -2 -0.5 -1 0 0.5 0 1.5 0 -0.5 0 0.5 0.5 -0.5 0 -1 -0.5 -1.5 -0.5 0.5 0.5 0.5 0 0.5 0 0 -1 -0.5 0 1 1 1 0 0.5 -0.5 1.5 -0.5 -0.5 0 0 -0.5 0.5 0.5 -0.5 -1.5 0.5 -1 -0.5 1 0.5 -1.5 -0.5 1.5 0 -1 1 0.5 0 1 -0.5 0 0 0.5 -1 0 -1 -0.5 -1.5 1.5 -1" stroke="#f00000"/>
<path d="M137 26l-0.5 -0.5 0.5 1.5 0 -0.5 0 0 0 -0.5 -0.5 -0.5 0 -0.5 1 0 0 2 2 0 -0.5 -1 0.5 -0.5 1 1 -1 1 0.5 -3 -1 0.5 0 -0.5 0 -0.5 1 0 -0.5 0 1 1 0 0.5 -0.5 -0.5 0.5 -0.5 0 0.5 -1 0.5 -1.5 -0.5 1 1 0.5 0 0 -0.5 0 1 0.5 -0.5 -0.5 -1.5 1 1 0 -0.5 0 -0.5 1 1 -1 0 -1 0 -0.5 0.5 1 1.5 -1 0.5 -0.5 0.5 -1.5 -2 -1 1.5 -0.5 0 0 0.5 0.5 0 0.5 0 0 0 -1 0 0.5 0" stroke="#f00000"/>
<path d="M138 26l-0.5 0.5 0.5 0.5 0.5 0 -1 1 0 0.5 0.5 0 0 0 2.5 0 -0.5 -1.5 0.5 0 -1 -0.5 -1.5 0.5 -1.5 0 0.5 0.5 0 -0.5 0 -0.5 -0.5 -1.5 0 -0.5 0.5 1 -0.5 0 0 0 1.5 0 1 -0.5 1.5 0 -0.5 0 0 0.5 -0.5 1.5 0 1 -1 0 0 1 -0.5 -0.5 0 0 0 0 1 0 1.5 0 -1 0 0 0 0 0 -1 -2 0 0 -0.5 0 0 0 0.5 0 -1 0 0 -0.5 -1.5 0 0.5 1 0 0 1 -0.5 1 2 0 0 -0.5 0.5" stroke="#f00000"/>
<path d="M138 30l1 1 2 -0.5 -1 -3.5 -0.5 -1.5 0.5 1 -1 0 0.5 0 1.5 0 0 1 -1 0 0 1 1 -1.5 0.5 0 -1 0 0.5 0.5 0 -1 -0.5 0.5 0 1 0 0 0.5 -1 0.5 1.5 0 1 -0.5 0 0 -1 -2 1.5 -2 0.5 0 0 1.5 0 0 0.5 0.5 -1 0 2 -0.5 0 -1 -1.5 1 0 0 0 0.5 1 0.5 0 -2 -1 -0.5 -0.5 -1 0 0 1.5 0.5 -0.5 -0.5 0 -0.5 -2 1 -2 0 -0.5 -0.5 0 0.5 0 -0.5 0 0 0.5 0 0 0 0" stroke="#f00000"/>
<path d="M133.5 26.5l-1.5 -1 2 -0.5 -1.5 0.5 -0.5 2 1 0.5 0.5 0.5 -0.5 0 1.5 1 0.5 0.5 0 -1 0 0 0.5 0.5 1 0 -1 -1 -0.5 0 1 2 -0.5 -1.5 -0.5 0.5 1 0 0.5 0 0 0 0 0 -0.5 -2.5 1.5 -1 -0.5 1 0 1 0 1 -1 -0.5 1.5 -1 -1.5 -0.5 0.5 -0.5 0 0.5 -1.5 2 -1 1.5 -1.5 0 1 0 1 0.5 -1.5 0 -0.5 -0.5 1 -1.5 2 0.5 -0.5 0.5 1 -0.5 1 0.5 -0.5 0.5 -0.5 0.5 -1 -0.5 0.5 0 0.5 -1 -0.5 -1.5 1 -1 1.5 1" stroke="#f00000"/>
<path d="M217 25.5l-0.5 -1 1.5 0 0.5 1.5 0 0 -1.5 -1 0.5 0 -0.5 -0.5 -1 0 0.5 0 0 0 0.5 0 0.5 -1 0 0.5 0.5 -0.5 0.5 1 -1.5 -0.5 0 0.5 1 0.5 1 -0.5 -1 -0.5 -0.5 0 -1 1 0 1 0 0.5 1.5 -0.5 -0.5 1 0 -1 2 -1 -0.5 0.5 0 0 0 0.5 0 -0.5 0.5 -1.5 -1 0.5 1 1.5" stroke="#f00000"/>
<path d="M216.5 26.5l0 0 0.5 0 -1 2 0.5 0.5 0 -0.5 0 0.5 0 -1.5 -0.5 0 0.5 0 0.5 1.5 0 0 1.5 0 -0.5 0.5 0 -1 -0.5 0 -0.5 -0.5 -1.5 -1.5 0.5 0.5 0 0.5 -0.5 -0.5 0.5 0 0.5 1.5 1 1 -1 -1 0 -1 0 -0.5 0 0 -1 0.5 0.5 0 1 1 0 0 0 -0.5 -0.5 -1 1 1 0.5 0.5" stroke="#f00000"/>
<path d="M220.5 25.5l-1 1 2 1.5 -1 0 1.5 -1 0.5 0 -1 0.5 0 -1.5 -2.5 -1 -1 -1 -0.5 1 0.5 -1 0 0.5 0 0 1 -0.5 0 1 0.5 0 -1 -0.5 1.5 0 0.5 -0.5 -2 0 0.5 -0.5 1 1 -1.5 -0.5 -0.5 0.5 0 0.5 0 -0.5 1.5 0.5 0 0 -0.5 -0.5 0 0.5 -0.5 -0.5 1 -1 0 0 0 0 -0.5 0" stroke="#f00000"/>
<path d="M220 25.5l-0.5 0 0.5 0.5 -0.5 -1.5 -1.5 -1.5 1 0 1 0 -0.5 0 0 1 -1 1 0.5 0 1 0 0.5 0.5 -1.5 0 1 1 0.5 -0.5 -1 1 -1.5 0.5 -1 -1 2 -1.5 1.5 0 -0.5 -0.5 -0.5 0.5 0.5 0.5 0.5 0 0.5 0.5 -0.5 0 0 0.5 0 0.5 0 -0.5 -1 -1 1 0.5 0 -0.5 -0.5 0 -1 -1 0 0.5" stroke="#f00000"/>
<path d="M217 27l-0.5 0.5 0.5 1.5 -0.5 0 0.5 -0.5 -1.5 0.5 0 -0.5 -1.5 -1 0 0.5 0 0 0 -0.5 0.5 -0.5 -0.5 0 1.5 0 -1.5 0 1 1.5 0.5 0 0 0.5 0.5 0 1 -0.5 -2 -1 -0.5 0.5 -1 -2 0.5 0 0 -0.5 1 -0.5 0.5 0.5 1 0 -0.5 1 -0.5 0 0 -0.5 -2 0 0.5 -0.5 1 0 -0.5 0.5 -1 0.5" stroke="#f00000"/>
<path d="M295 29l1 0 0 0.5 1 0 0.5 1 -0.5 -0.5 0.5 -1 0 0.5 0 -1 0 0.5 -0.5 0.5 0 -1 -1 0 0.5 -0.5 -1 -1 -1.5 0 0 0.5 -1 0.5 0 0 0.5 -0.5 1 -0.5 0.5 2 0.5 0.5 0.5 -0.5 0 1 -1 1 -0.5 -1 1.5 -1 -0.5 0.5 0.5 1 0 0 0 0 0.5 0 0.5 -0.5 -0.5 1 -1 0.5 -0.5 -0.5 -1 -0.5 2 0.5 0 -1.5 1.5 1" stroke="#f00000"/>
<path d="M290 29l0.5 -0.5 0.5 0 1.5 -0.5 0.5 0 0 -0.5 -0.5 -1.5 0 0.5 0.5 0 1 -0.5 -0.5 -0.5 -1 0 -1.5 0.5 0.5 0.5 -1.5 1.5 1 -1 -1.5 0.5 0 -0.5 0.5 0 0.5 1.5 -1 -0.5 0.5 0 0 0 1.5 1 1.5 0 0.5 -1 -1 -0.5 -2.5 0 -0.5 0.5 0 0 1 -0.5 0 -0.5 0 -0.5 0 0.5 0 0 0 -0.5 0 0 -1 0.5 0.5 0.5 1 -1 0.5 0" stroke="#f00000"/>
<path d="M296 30l-0.5 0 1.5 0.5 0 0.5 1 -0.5 -1.5 -1.5 0.5 -0.5 -1 -1.5 1 1.5 0 1 0.5 -1.5 0 0.5 0 0 -1 1 0.5 -0.5 -0.5 -1 1 0 0 0.5 0.5 1 -0.5 0 -0.5 -1 1 0.5 -0.5 0.5 -1 0.5 -0.5 0.5 -0.5 0 0 -0.5 -1.5 0.5 -0.5 -2 -0.5 0 0 -0.5 0 0.5 0 0 0.5 1 0.5 0.5 0 0.5 -1 -0.5 0.5 -1 0.5 -0.5 -0.5 -0.5 -0.5 0" stroke="#f00000"/>
<path d="M293.5 27.5l-0.5 0.5 0 0 -1 0.5 1.5 1 0 0 0.5 -0.5 -1 -0.5 -0.5 -0.5 1.5 2.5 0 -1.5 0.5 0 -1.5 0.5 0 -1 -0.5 1 0 -0.5 -0.5 -1 0.5 0.5 1.5 0 0 -0.5 0 0.5 0.5 0 -1.5 1.5 0.5 -0.5 0 0 0 -1.5 1.5 -0.5 1 0.5 -1 0 1 0.5 0.5 0 0.5 1 0.5 -1.5 0 -0.5 -0.5 0 -1 -0.5 1.5 1 -0.5 1.5 -1 -1 -1 0 -1 -1" stroke="#f00000"/>
<path d="M294.5 30.5l-0.5 0 -0.5 -1 2.5 0 -0.5 1.5 0 0 0 -0.5 0.5 0 -1 1 0 0 1 -1 -0.5 -1 -0.5 0.5 0.5 0 0 1 -1.5 -1 1.5 -1 -0.5 0 1.5 1 -0.5 -1.5 -0.5 0 -1 1 -1 -1 0.5 -1 1.5 1 -1.5 0 0.5 0.5 1 -1 0 0 -0.5 -0.5 0.5 0 -1 -0.5 -1 0.5 -1 -1 0.5 0 0 0.5 0.5 1 0.5 -0.5 0 -0.5 -0.5 0 -1 0.5" stroke="#f00000"/>
<path d="M104.5 67.5l1.5 1.5 0.5 -0.5 0.5 -0.5 -0.5 0 -0.5 0 2 -1.5 -1.5 0 1.5 0 -1 -0.5 0 0.5 -1.5 -1.5 -0.5 0 0.5 0 0.5 -1 0.5 1 0 -1 1 1.5 0.5 -0.5 -1 1 -0.5 -1.5 0.5 1.5 -0.5 0 -0.5 -1.5 0.5 1.5 0 -1 -1 1.5 -1 0 0.5 0.5 0 -1 -0.5 -1 0 -1 0 -1 0 1 0.5 -2 0.5 0 -0.5 0.5 -1.5 0 0.5 -0.5 0 0.5 0 -0.5 0 0 1 0 0.5 0 -1 1.5 0 -0.5 -2 1.5 -1 0 1 1 -0.5 0 1 0 -2.5 0.5 -0.5 0.5 -1 -0.5 -0.5 0 0.5 -0.5 0 2.5 0 0.5 0.5 1.5 -0.5 -2.5 0 -0.5 -1 -0.5 0.5 2 0.5 -1.5 0 -1 0 -1 -1 0 1 0.5 1.5 -1 0 0 -0.5 0 0 0 1 -1.5 -0.5 0 -2 1.5 0 -0.5 0.5 1 0 0 -0.5 -1.5 1 1 1 -1 0.5 -1 0 1 0.5 -1 1 -1 2 1.5 1.5 0 0.5 0.5 1 0 -0.5 1 -0.5 -1 0.5 0 0 0.5 -0.5 -1.5 -1.5 -0.5 -1.5 0 0 0 0 -0.5 -1.5 0.5" stroke="#f00000"/>
<path d="M96.5 65.5l0 2 1.5 -0.5 0.5 1 0.5 -1 0 -1 1 -0.5 0.5 1.5 0 -1 0 0.5 -0.5 1.5 0.5 0.5 -0.5 -0.5 0 -0.5 -0.5 0.5 0.5 1 0 0.5 -2 0.5 0.5 0.5 0 -0.5 0.5 -1.5 1.5 0 -0.5 -1 -1.5 -1 0 0 0.5 2 -0.5 -1 -0.5 -1 0 -0.5 -0.5 0 0.5 -1 0.5 -1 -0.5 -0.5 0.5 0.5 0 0 0 -1 0 0.5 0 0 -1 1 0 -0.5 1 -0.5 -0.5 0 -1 1 0.5 0 -1 0 0 0 0 -0.5 1 0 -0.5 -1 0 0 0 1 -0.5 1 1 0.5 -0.5 0.5 1 1 1.5 -1 -1 0.5 0.5 0 0.5 -0.5 0 0 0 1.5 0.5 -0.5 -1 1.5 -1.5 -1 0 -1 0 1.5 1 -0.5 0.5 0.5 1 -0.5 -0.5 0 0 -2 -2 -1 -1.5 -1 0 -1 -0.5 -0.5 -1.5 1 0.5 0 0.5 -0.5 0.5 -0.5 1 1.5 -1 0 -0.5 -0.5 0 0.5 0 0 0 0.5 0 0 0.5 1 1.5 0 -0.5 -1 0 0 2.5 0 -1.5 0 -1 -0.5 -1 0 1 1 0.5 1.5 0 0 -3 -0.5 -0.5 -1" stroke="#f00000"/>
<path d="M93 66l0.5 1.5 1 -1 0.5 0.5 1 -1.5 0.5 -1 -2.5 1 1 0.5 -1 1 0.5 0 -0.5 -0.5 1 1 -1 0 -1 0 -0.5 1 -1 0.5 0 -1 -1 2 0.5 -1 -1.5 -0.5 1 -0.5 0.5 0 0.5 1.5 0 0 -0.5 0 0 0 -0.5 -0.5 -0.5 -0.5 0.5 -1 0.5 2 -0.5 -1 -1 -0.5 1.5 1 0.5 -0.5 -0.5 -1 -0.5 0 0 -1 0.5 2 0 -0.5 1 0.5 -0.5 -1 0.5 1 0 0 0 0.5 1 0.5 -2.5 0.5 1 -0.5 -1 -1.5 0.5 0 1 1 -1 0 -1 -1 1 -1 0 1.5 0.5 -0.5 1 0.5 2 -1 0 0.5 0.5 0 1 0 0 2 1.5 -0.5 0.5 0 -1.5 -2 1 1 0.5 -0.5 0 1 0.5 -1.5 -1.5 0 -0.5 0.5 -1.5 0.5 -0.5 1.5 0 0.5 -0.5 -1 1.5 -0.5 -1 -0.5 0 -0.5 -0.5 0 0.5 0.5 0 0.5 0.5 -1 0.5 1 -1 1 0.5 1 -1 -1 1 -0.5 -1 0 -3 0.5 1.5 0 -2.5 -2.5 0 2 0 0 1 -1 0.5 -1.5 -0.5 -0.5 0 -2 -0.5 0.5 -0.5 1.5 -0.5 0" stroke="#f00000"/>
<path d="M98 66l-1 0 1 0 0 -1.5 1 1 -1 1 1.5 0.5 0 0.5 -2 -0.5 0 -1.5 0.5 0 0.5 -0.5 -1.5 0 0 0.5 0 1.5 -1 1.5 0.5 1 -0.5 -1 0.5 0 -0.5 0.5 -1 -1 1 1 0.5 -0.5 0 -0.5 0.5 0 0.5 0.5 0.5 1 -1 -0.5 1.5 0.5 0.5 -1 0 0 0 0 -0.5 0 0 1 -0.5 -0.5 0.5 -0.5 -1 1 0.5 -1 0.5 1 -1.5 -2 0.5 -1 0 0.5 0 -0.5 1 1 -1.5 0.5 1 0.5 -0.5 -0.5 -1.5 0 -1 0.5 0.5 0 0.5 1 0.5 -1 0.5 -0.5 -1 0.5 0 -1.5 0.5 1.5 0.5 -1 0.5 1 -0.5 0.5 -1 -0.5 0.5 -1.5 -0.5 -0.5 -1 1 0.5 0.5 1 -1 -0.5 1 0.5 0 -0.5 0.5 -0.5 -1 -1.5 0.5 1 -0.5 1 0 -0.5 1 -0.5 -0.5 0 -0.5 -1.5 -0.5 0.5 -0.5 0.5 1.5 0.5 -1.5 -1.5 0 1.5 -0.5 0 -0.5 0.5 -0.5 0.5 0 0.5 -0.5 0.5 0 0.5 0 0.5 0 0 1 -0.5 1.5 -1.5 0 1 0 0.5 -0.5 0.5 1 -1 -1.5 0 -1 0 0.5 -1 0 -0.5 0.5" stroke="#f00000"/>
<path d="M101 68.5l-0.5 1 0 0.5 0.5 0 -1 0 -1 -1.5 0 1 0 -1 -1.5 0.5 1 -0.5 0 -1.5 -0.5 0.5 0 -1 0 1 0 0 0 0.5 -0.5 1.5 0.5 0.5 -1.5 -1 1 -0.5 1 1 0.5 -0.5 -1 -2 0.5 -0.5 0 1 1 0 0 0.5 0 -0.5 0.5 -1.5 -1 1 1 0.5 -1.5 1 -1.5 0 0.5 -1 1 -0.5 1.5 2 0.5 -1 -0.5 -0.5 0 0 -0.5 1 2.5 1.5 1 -1 0.5 -1.5 -0.5 2.5 1 1.5 -1 -1 -0.5 1 0 -0.5 -1 -1 1 -1 -0.5 1 0.5 0 1 -1.5 0.5 0.5 1.5 -0.5 -1.5 0.5 -1 -0.5 -1 1 0.5 -1 0 -0.5 -1 1 0 1 0.5 0 -0.5 -1 -1 -0.5 0 0.5 0.5 -1 0.5 0.5 2.5 1 -1 -1 -1 1 -0.5 1.5 -1 0 0.5 0 1.5 0 0.5 1 1.5 -1 -1.5 0.5 0 -0.5 0 0.5 -0.5 0 0 0.5 -1.5 0 -1.5 0.5 -1 -0.5 1.5 0.5 0.5 0 -0.5 1.5 0 -0.5 1 -0.5 0 1 -0.5 1.5 1 0 1 -0.5 -2 -0.5 0.5 1 0.5 0 0.5 0 -0.5 -1" stroke="#f00000"/>
<path d="M101.5 63l-0.5 -2 -0.5 0.5 1 -1 0.5 -1 0.5 2 0.5 0.5 1 0.5 -0.5 -0.5 -0.5 -1 0 0 1.5 0 0 2 -0.5 -0.5 0.5 0.5 -0.5 -0.5 1 -0.5 -1 0 0 -0.5 -0.5 0 0.5 0.5 -2 1.5 1.5 -0.5 0.5 -1 0 1.5 1 0 0 0 -2 0 1.5 0.5 0.5 -0.5 -0.5 1 0 0 -0.5 0.5 0.5 -0.5 1.5 -2 -0.5 0 -0.5 -1 0.5 -2 0 1.5 -1 -0.5 -0.5 0.5 -1.5 0.5 0 -1.5 1 1.5 0 0.5 0 0 1.5 0 0 -1.5 -2 -1 2 -0.5 0 1.5 -1 -0.5 0 0.5 0.5 0.5 1.5 0 -0.5 1 -2 0.5 -1 0.5 0 0.5 0.5 -0.5 0 0.5 0.5 1 0.5 1 -1 0.5 0.5 -1 0 -1 -2.5 -1.5 1 0.5 0.5 0 0.5 -2 -0.5 0.5 0.5 -0.5 0 1 0 2 0 0 -0.5 0.5 0.5 -1 -1 1 1.5 0 -1 0 0 -0.5 1.5 -0.5 -0.5 -0.5 -1 2 1 1 0 0.5 -0.5 -0.5 0.5 0 -0.5 0.5 -1 0.5 0 -1.5 0 1 1 -0.5 -0.5 -0.5 1 1 -1 -0.5 1 -0.5 0.5 1 0.5 -0.5" stroke="#f00000"/>
<path d="M98.5 66l0.5 0 1 -1 -0.5 -0.5 0.5 -0.5 0.5 0 0.5 -1 0 0 0 1 0.5 -0.5 -3 0.5 0 0 0 -0.5 0.5 0.5 0.5 -1.5 0 0.5 0 0 0 -0.5 2 -0.5 -0.5 0.5 0.5 1 0 -0.5 -1 1.5 1 -0.5 0.5 -1 -0.5 0.5 0.5 1 -1.5 0.5 0.5 0 1 0.5 0.5 -1.5 -0.5 0 -1 -1 0.5 0.5 0 0 1 2.5 1 -0.5 0 0.5 -1 0 0 1.5 0.5 -1 -0.5 1 -1.5 -2 -1 0.5 0 -1.5 0 0.5 0 -0.5 1 0 1 0 0.5 1 0.5 0 -0.5 0.5 -1.5 -0.5 0 0.5 2 1 0.5 -0.5 -2 1 -2 2 -1 0.5 0.5 -0.5 0.5 0 0 -1.5 -1 -0.5 0.5 0.5 -1.5 1 0.5 -0.5 0 1.5 0.5 0 -0.5 0.5 1.5 -1 -0.5 0.5 0.5 -0.5 -0.5 0.5 0 -1 2 1 -0.5 0 -1 -0.5 0 0.5 -1 -1.5 -0.5 0.5 -0.5 0.5 -0.5 -0.5 1 -0.5 0 -0.5 -0.5 -0.5 -1 0 -0.5 1 0 0 0 0.5 0.5 0.5 0 0 -0.5 -2 1.5 -0.5 1 -0.5 0 0 0.5 -2.5 -1.5 1.5 1.5 -0.5 0 -1" stroke="#f00000"/>
<path d="M101 68.5l-0.5 1 -0.5 0 -1.5 0.5 -1.5 -0.5 1 -1 -2 1 1.5 0.5 -0.5 0 0.5 1 0.5 -0.5 0.5 0.5 1.5 0 1 0 1.5 -0.5 -0.5 -0.5 0 -1.5 0.5 0.5 -1 -1.5 1.5 -0.5 -0.5 -0.5 0.5 0.5 1 -0.5 1 -0.5 -0.5 -0.5 -1 0.5 0 -1 0.5 0.5 -0.5 1.5 0 -1 -1.5 1 0 -0.5 1 -1 -0.5 -1 -1.5 -1 0 0 0 -0.5 -1 0.5 1 0 -2 0.5 0.5 -1 0.5 0.5 0 0 -1 -0.5 0.5 0.5 0 2 -1 -0.5 -0.5 0 0 -0.5 1 -0.5 0 -0.5 0 1 -1.5 0 -0.5 1 -0.5 0.5 0 1 0 0.5 1.5 -0.5 1 0.5 1.5 -1 0.5 0 -0.5 -1 2 -0.5 0 -1 -2.5 0 1 0 -1.5 -1 1 -0.5 1 1 0.5 0.5 -0.5 -0.5 1 1 0 0 0 -1 -0.5 -0.5 0.5 1 -2 0.5 0 1.5 0.5 0.5 -1.5 1 0.5 1.5 0.5 0 -1.5 0.5 1.5 0 -0.5 0.5 -0.5 1 0 1 0.5 0 1 -0.5 0.5 0 0.5 1.5 -1 -1 0.5 0.5 -0.5 -0.5 1.5 -0.5 -0.5 0.5 1.5 -0.5 0.5 -1 -1.5 -1" stroke="#f00000"/>
<path d="M101.5 70.5l-0.5 0.5 -1.5 -0.5 -1 -0.5 -0.5 -1.5 -1 0 1 0.5 0.5 -1 0.5 0 0.5 0 -0.5 -0.5 0 0.5 -0.5 1 -1 0 0.5 0.5 0 0 0.5 -1.5 0 -0.5 -2 -0.5 0 0 0.5 1 0.5 -0.5 -0.5 0.5 -1 0 0.5 1.5 -0.5 0 1.5 0.5 0 1 -0.5 0.5 -1 -1 -0.5 -0.5 1 0 0 0.5 1.5 -0.5 -2 0 0.5 -0.5 0 -1 0.5 1 0.5 0 1 1.5 1 -1 0 -1.5 1 -1.5 0.5 0.5 0.5 1.5 -1 -2 0 1 -0.5 0 0.5 1 -1.5 0.5 1 -0.5 2 1 0 1.5 0 0.5 -0.5 -0.5 -1.5 -1 0 -1 -0.5 1 2 0.5 0.5 -0.5 1 -2 -1.5 -1 1.5 0 0 0 0.5 -0.5 -0.5 -0.5 -0.5 0.5 -1.5 1 1.5 0.5 -1 1 1 0.5 1 0.5 1 0 -1 0 -1 -1.5 0.5 1 0 1 -0.5 0.5 -1.5 1 -1 1 0.5 0.5 0.5 1 -1.5 -1 0 -0.5 -1 0 0.5 -2 1 2 1 -1 0 0.5 -1 0 -1 1.5 -0.5 -1 -0.5 0.5 0 -0.5 1 -0.5 -0.5 0 -0.5 -1.5 -0.5 1.5 0.5 0.5" stroke="#f00000"/>
<path d="M99.5 66l0.5 1 -0.5 0.5 0.5 0 0.5 -0.5 0 -0.5 0.5 1 1 -0.5 0.5 1 -0.5 1 0 0.5 -1.5 -0.5 1.5 -1 0 -0.5 -0.5 -1.5 0 -0.5 0.5 0.5 0 -0.5 0.5 0.5 0.5 1 -1 -0.5 0 1 -1.5 -1 0.5 -0.5 -2 0.5 0.5 1.5 0.5 -1 -1 0 -1.5 0.5 2 0.5 -0.5 -0.5 -2 1 0.5 -0.5 1.5 -1 0 1 -2 0 -0.5 -1 -0.5 0.5 0.5 -1 -0.5 1 1.5 -1 0 1.5 -0.5 0 1 0.5 1 0.5 1.5 -1 -1.5 0 -1 0.5 1 0 2 -2 -0.5 1 1 -1 -1.5 0.5 -1 -1 0 -2.5 1 -1.5 1.5 -1.5 0 0.5 0 0 2.5 1.5 0 1 -0.5 0 -2 -1 1.5 0 0.5 -2 -2.5 -0.5 0 0.5 0 0.5 -0.5 -1 0.5 0.5 0 -1 0.5 1 -0.5 0 1.5 0 -0.5 0.5 -1 0.5 -0.5 0.5 0 -1 -1.5 0 -0.5 2 0 0 0.5 0 0.5 1 1 1.5 -1 0 -2.5 -0.5 -1 1 0.5 -0.5 -0.5 -1 0 0 2 0 -0.5 -0.5 -0.5 1.5 -0.5 -0.5 1 -1.5 1.5 0 0 0.5 0 0.5 -1 -1.5" stroke="#f00000"/>
<path d="M93 65l0.5 1.5 -1 0.5 0.5 0.5 -0.5 0 -0.5 0.5 0 -1 1 0.5 2 0.5 -0.5 1.5 0 -0.5 2 0 -1 0 1 0 0 1 1 -1.5 -0.5 0.5 -0.5 1.5 0.5 0 2 -2 -1 -1 1 -1 -0.5 -0.5 -1 2 -0.5 2 -0.5 -0.5 -0.5 0.5 -0.5 0 -1 -1 -0.5 -0.5 -0.5 0 -0.5 0 0 1 1 0 1 -0.5 -1 1 0 -0.5 0.5 0 1.5 0 -0.5 -0.5 1.5 1 0 -0.5 0 -3 0.5 1 1.5 0 -1 0 0 0 -0.5 0.5 1 -1.5 -0.5 2 1 -1 -2.5 0 0.5 1.5 1.5 -0.5 0 -0.5 0 -1 0.5 -0.5 -0.5 0.5 0 0 0.5 -1.5 0 1 -1 -2 0 -1 0 0.5 0 -0.5 0.5 2 1 0.5 -0.5 0 0 0 -1 0.5 0 -0.5 -0.5 1.5 -1 0.5 0.5 -1 0.5 -2.5 0 0.5 1 -1 -2 0 -1.5 -2.5 -1 0 0 0.5 -1.5 0.5 -0.5 1 -0.5 0 0.5 0 0 -0.5 -0.5 -1 1 -0.5 0.5 0.5 0.5 -0.5 -1 1.5 -0.5 0 0 0.5 0.5 0 -0.5 1 0.5 -0.5 1.5 -0.5 -0.5 0 0.5 -0.5" stroke="#f00000"/>
<path d="M99 62l-0.5 1.5 0 0.5 -1.5 1 1 1 0.5 0.5 0.5 -0.5 1.5 0 -1 -0.5 -1.5 0.5 1.5 -1 -1.5 1.5 -0.5 -0.5 0.5 0.5 -0.5 -0.5 0 -1 0 1 -0.5 0 0.5 -1 0 -1 0.5 -0.5 -1 0 -1.5 -0.5 0 0.5 0.5 -0.5 0.5 0.5 1 -2 1 -0.5 0 0 -1 0.5 1 0 -0.5 -1 0 0.5 1 0.5 -0.5 1 -1 0 0 0 -0.5 -0.5 -0.5 0 -0.5 0.5 -1 0 1 0 -0.5 0.5 1.5 1 1 1.5 0 0 0.5 0 0.5 -0.5 1.5 -1 0.5 0 0.5 1 -0.5 -0.5 0.5 1 -1 0 0 -0.5 -1.5 0.5 1.5 0 0 0 -1.5 -1.5 0 1 0.5 -1 1 -0.5 2 -0.5 -1 0.5 -1 0 0 1 2 0 0 0 -1 0 1.5 0 -1 0.5 -0.5 -1 1.5 0.5 -0.5 0 1 0.5 -1 0 -1.5 -0.5 2 -1 0 0 0 0.5 1 -1 -1 0 0 0 0 0.5 0 -0.5 0 0.5 -0.5 0 0 0 1.5 0 -1 0.5 -1 0.5 -0.5 0.5 -0.5 -2 -0.5 0 0.5 -1.5 -1.5 0.5 0.5 -1 0.5 1.5 0.5 0" stroke="#f00000"/>
<path d="M99 68l1 0.5 -0.5 1 -0.5 0 -1.5 0 0.5 0 -1 1 1.5 0.5 -0.5 -1.5 0.5 0 -1 0 -1 2 -0.5 -1.5 1 0.5 0 1.5 -1 -1.5 0 -0.5 -0.5 0 -0.5 -1 1 2 1 -0.5 1 -0.5 -1.5 1 -0.5 0 0 -1 0.5 1 0.5 -0.5 -1.5 -0.5 -0.5 0 -0.5 -0.5 0 -1 0.5 -0.5 -1 0 1 0.5 -0.5 0 0.5 0 0.5 -0.5 0.5 2 1 0.5 0 0 0.5 -0.5 -1 0 -1.5 0.5 1 -1 0 -0.5 1.5 0 0.5 -1 0 -1 -0.5 -1 -1 0.5 0.5 0 0 0.5 0.5 -1.5 0.5 -1 0 1 -1 2 0 -1 1 -0.5 0.5 -1.5 0.5 -1 -1 2 -1 0 1 0.5 0 -2.5 0 1.5 -1.5 -1 1 1 -0.5 0 -0.5 0.5 0 0.5 0 0 1 0.5 -1 -0.5 -0.5 1 -0.5 0 -0.5 -0.5 0 1.5 1 -0.5 2 -0.5 1 0 1.5 0.5 0 0.5 -1.5 0.5 -0.5 -0.5 1 0 -0.5 -1 0 -1 -0.5 0.5 0 0.5 0 1 0 -0.5 1 1.5 0.5 1 1.5 1 0 -0.5 -0.5 -0.5 0 1 1 0 -1 0.5" stroke="#f00000"/>
<path d="M173.5 64l2 -1.5 1 0 0 0.5 -0.5 0 -0.5 -1 1.5 1.5 0 0.5 -1.5 1 -1 0.5 1.5 -0.5 1 -1 0.5 0.5 -0.5 0 0 0 0.5 1 -1.5 0.5 -1.5 0.5 0 0 0.5 -0.5 -0.5 0 -1 0.5 1 0 0.5 0.5 0.5 -0.5 -0.5 1 -0.5 -0.5 -0.5 0.5 0.5 0 -1 -0.5 -0.5 0 1 -0.5 0 0 -0.5 0 0.5 0.5 0.5 0 -1.5 -1 0 0 1 0.5 -1 1 -1 -0.5 -0.5 0.5 -1.5 0.5 -0.5 -1 1 0.5 -1 0.5 1.5 0 -1.5 0 0.5 0.5 0.5 -1.5 -1 0 -0.5 -0.5 0.5 -0.5 -0.5 0 0 -0.5 0 1 0.5 0.5 0.5 1 1.5 0 0.5 -0.5 0.5 0.5 -0.5 0 -0.5 0.5 2 0.5 0 -1.5 0.5 0 1.5 -0.5 0 0.5 1 -2 0 0 -0.5 0.5 -1 -1.5 1 -0.5 1 0 0.5 -0.5 -0.5 -1 0.5 2 -1 -1.5 1 0.5 0 1 -1 0.5 0 0 0.5 0 0 -0.5 -0.5 -0.5 -1.5 1 0 0 0 1 0 -0.5 -0.5 0 -0.5 1 -0.5 -0.5 0 0.5 0.5 -1.5 0.5 1 0 0 0.5 -2 1.5 0.5 -0.5 0 1 0.5 -0.5 0 -0.5 1.5 -1 0.5 0 -1 -0.5 0 1 1 -1 -1.5 0.5 0" stroke="#f00000"/>
<path d="M170.5 66l-0.5 0.5 1.5 0 0 0.5 -1 0.5 -0.5 -1.5 -1 1 -0.5 0.5 1 0.5 -2 0 0 1 1 -1.5 -0.5 -1.5 1 1.5 -1 0.5 -1 -2 2 0 1.5 1.5 -0.5 0.5 -0.5 0.5 0 0 0.5 0.5 1.5 -0.5 -0.5 0.5 -1 0 0 0.5 1.5 -0.5 -0.5 0 1 0.5 0 -1 0 0.5 0.5 0.5 -1.5 0.5 1 -0.5 -0.5 1 -1.5 -1 1 0 -0.5 0.5 -1 0.5 0 -1 -2.5 0 1 -0.5 1 0.5 -1 0.5 0 -1 -1 0 1.5 0 0 -0.5 0 0.5 1.5 0 -1 -0.5 -1 -1.5 2 0.5 1 1 -0.5 0.5 0.5 0 -0.5 0.5 0.5 0.5 -1.5 0.5 1 -0.5 0.5 0 1 -2 1 1.5 0 -0.5 0 0.5 -0.5 1 0 -1 1 -0.5 0 0 0 0 0.5 -0.5 0.5 -1 0 0.5 1 0 -1.5 0 0.5 -1 1 -2 -0.5 1 0 -1 0.5 -1 -0.5 0 -1 -0.5 0.5 -1 1 0.5 -1 1.5 0 -0.5 -1 1 0.5 -0.5 0 -0.5 1 0.5 -1 0.5 1 1 0.5 0.5 -1 -1 -0.5 0.5 1.5 -0.5 -0.5 0 -1 1.5 -0.5 0.5 -1 -0.5 0 0 0.5 -0.5 0.5 -1 1 0.5 0.5 0 0.5 -0.5 -0.5 0 -1 1" stroke="#f00000"/>
<path d="M176.5 66l-0.5 0 0.5 0 -1 0 0.5 0 0 -0.5 -0.5 0.5 0 -0.5 1 2 -1 -2.5 -0.5 0.5 -1 0.5 0.5 1.5 0 -1.5 0.5 -2 -0.5 0.5 -0.5 -0.5 0.5 -1 0 0.5 0.5 0 -1 1 0.5 0 0.5 0 0 -1 0.5 0.5 0.5 -1 0 0.5 0 -0.5 0.5 0 0 0 -0.5 -0.5 0.5 3 0 -0.5 2 1 0 -1 0 -1 -1.5 1 -0.5 1 -2 0 1.5 1 1 1 0 2 0 0.5 -1 -1.5 0 0 0.5 -0.5 -0.5 -1.5 1 1.5 -0.5 -2 0 1 -0.5 -2 0.5 -0.5 0 0 -0.5 0.5 -0.5 -1.5 0 1.5 -0.5 -0.5 -1 0 -0.5 0.5 0 1 1 -1 0 1.5 0.5 -1 -0.5 2 -0.5 -2 0 -0.5 -0.5 0.5 1 1.5 1.5 0.5 -0.5 -0.5 -1 1 -0.5 0.5 0.5 1 0 0.5 1.5 0.5 0.5 1 0 -1.5 1 1 -0.5 0 -1.5 0 0 -0.5 0.5 0 0 0 1.5 0 0 0.5 -0.5 0 -1 -0.5 -1 0.5 0.5 -1 -0.5 -0.5 0 0 -0.5 0.5 0.5 -0.5 -0.5 0 0 -0.5 -0.5 -1.5 0 1 2.5 0 0.5 0 -1 -2.5 1 0 -0.5 1 2 -0.5 0.5 0.5 1.5 -0.5 -0.5 -0.5 0 1 -1.5 -1" stroke="#f00000"/>
<path d="M170.5 66l0.5 -0.5 0 0.5 -0.5 0 0 -1.5 1 1.5 -0.5 0 0.5 -1 0 -0.5 0 0.5 -2.5 -1.5 -1.5 -1 1 -1.5 0 1 0.5 1 0 0 0 1 -1 0.5 1 0 -1 1 2 1.5 -0.5 -0.5 0 0 0.5 1.5 1 1 1 -1 -1 0.5 0.5 0 0.5 0 -0.5 0.5 0 -0.5 0 0 0.5 0 -0.5 -0.5 1 0.5 1 -1.5 1 0 0.5 -1.5 1 -0.5 -0.5 1.5 0.5 -1 0.5 -1 0 0 0 0 -0.5 0.5 -1 1.5 -0.5 0.5 0.5 0 0 -0.5 0 0 0 1.5 0.5 0 -0.5 -0.5 0.5 1 0 -0.5 0 0 0.5 -0.5 -1.5 1 0.5 -1 0.5 -1 0 0 0 -0.5 0 -0.5 -0.5 1 1.5 -1 -1 -2 0.5 1 -1 -1 -2 0.5 0.5 -1 1 -1.5 0.5 0.5 -1 0 -0.5 -2 0 1 -1.5 0.5 1 -1 0 1.5 0.5 0 -1 1 0.5 0.5 0 0 -0.5 -1 0.5 0.5 1 0.5 0 0.5 -0.5 -1 -0.5 -0.5 0 0 -0.5 0 -0.5 -0.5 0.5 0.5 1 0 1.5 0 0.5 1 0 0 0.5 0.5 0.5 1 0 -0.5 -1.5 0.5 0.5 0.5 -1.5 2 -2 -1 -0.5 -0.5 1 0 1.5 -1 1.5 -0.5 -1 -1" stroke="#f00000"/>
<path d="M168.5 66l0 0 0.5 1 -0.5 -0.5 -0.5 -0.5 1 2 0 0 -1.5 -1.5 -0.5 -0.5 -1 -1 -0.5 1 1 0 1 -0.5 0.5 0.5 0 0.5 0 -1 -1 0 0.5 0 -0.5 -1 0 0 -0.5 0.5 0 0.5 -1 0 0 0 -1 0 1.5 -1 0.5 0 -1 0 0.5 0 -0.5 1 -1 0.5 1.5 0.5 1 1 -1.5 -0.5 -1 -1 1 0 0 -0.5 0.5 -0.5 1 2 0.5 -1 -1 0 -0.5 0.5 0 -0.5 -0.5 1.5 -0.5 -0.5 0.5 1.5 0 -1 0 0 0.5 -0.5 0.5 -0.5 0 1.5 -1 -1 -0.5 2 0.5 0.5 0.5 1 0.5 -1.5 -0.5 0 0 -0.5 -0.5 -2 -0.5 -1 0 -1 0 0.5 0.5 0.5 -1 -0.5 0.5 0.5 0.5 0 1.5 -1.5 -0.5 0.5 0 0.5 -0.5 -1 0 1 0.5 0.5 0.5 -0.5 1 1 -1 -1.5 0 -1 0.5 -0.5 -0.5 1 -1 -0.5 0.5 0.5 0.5 -1.5 0 1.5 -1.5 0 1 -1.5 1 1 -0.5 -0.5 0 0 0 0.5 -0.5 -0.5 0.5 1 1 1 2.5 1 -1 0 -1 -1.5 -1.5 -0.5 0 -1 0 1.5 -1.5 0 0.5 0.5 0.5 1 0 1 -2 0.5 0.5 0 0.5 -0.5 1 0 0.5 0 0 -1.5 1 -0.5" stroke="#f00000"/>
<path d="M171 63.5l0.5 -0.5 -1.5 0.5 -0.5 1.5 0.5 -1 1 1 1 -0.5 -2 0.5 0.5 0 -1 0 -1 1 0 -1 0 -0.5 0.5 0.5 0 0.5 -0.5 -0.5 0 1 0 0.5 0 0.5 0 -1.5 0.5 -1 0 0 0.5 1 0.5 -1 0 -2 0.5 0 1.5 0.5 0.5 0 -1 -0.5 1 0.5 1.5 0.5 0.5 0 0.5 0.5 -1 0.5 -0.5 0 -1.5 -0.5 0 1.5 0 0 0 -1 0 -0.5 0 1 -0.5 -0.5 -1 0 2 1 0 -1 -0.5 -0.5 0 -0.5 2.5 1.5 0 0.5 0.5 0.5 -1 1 0 0 -1 0.5 -0.5 0 0 0 -1 0 0.5 -0.5 1 -0.5 0.5 0 -1.5 0.5 -0.5 0 -1.5 0 -1 -1 0 -0.5 0.5 -0.5 0 0.5 1 1 -1 0.5 0 0 -1.5 0.5 2 0.5 1 0 0 -1.5 1 0 1 0 -1 1 -1.5 -1 0 0 1 -1 0 -0.5 0.5 0 0.5 1 1 0 0.5 0.5 1 -0.5 -1 1 0 -1.5 0 1.5 -1.5 1 1 -1 -0.5 -1 -1 0.5 0 1 0.5 1.5 -0.5 -1.5 1 0.5 0.5 0.5 1.5 -1.5 -0.5 -0.5 1 0 0 -1 -0.5 1 -0.5 -1.5 -0.5 2 -1 -0.5 0.5 -0.5 2 -1 0.5 -0.5" stroke="#f00000"/>
<path d="M176 70l-1.5 1 -1 0 -2 1.5 0.5 -0.5 -0.5 1.5 2 0.5 0.5 -0.5 0 0.5 -2 0 -2 -1.5 1 -0.5 -0.5 0 0.5 0 -0.5 0 0.5 -1.5 -1 0.5 1 0 0 0.5 -1 -1 1.5 1 -0.5 0 1 0 -0.5 0.5 -0.5 -0.5 -0.5 -1.5 0 0 0.5 0 0 0 0 -0.5 0 0 1.5 0 0 0.5 1 -1 0 -0.5 0 -0.5 1 -1 1 1 0 -0.5 0 2.5 -0.5 -2 -1 1 0 -0.5 -1 0 0 -1.5 1 1 -0.5 -1.5 2.5 0.5 0.5 0 -1 -2 -0.5 1 0.5 0 -2 0 -1 -0.5 1 1 -0.5 -0.5 0 -1 0.5 0.5 1 -0.5 -1 0.5 -0.5 0.5 0.5 0.5 -0.5 -1 0 0.5 0 -1 -0.5 1.5 -1.5 0 0 1.5 -0.5 -0.5 1 -0.5 0 -0.5 -1 0.5 -0.5 1 0.5 0.5 0 0.5 0.5 -1.5 0.5 0 0.5 -0.5 1 0.5 -0.5 -0.5 0.5 0.5 0 1 0.5 0.5 -0.5 -0.5 -0.5 -3 -0.5 0.5 -0.5 1 0 -1 0 1 1.5 0.5 -0.5 1 1.5 -2.5 1 -1 0.5 0 0 1 -0.5 0 -0.5 -0.5 0 0 -1 0 -1 0.5 1 1 1 -0.5 1.5 0.5 -3 -1 0.5 0.5 0 1 1 -2.5 -0.5 -0.5" stroke="#f00000"/>
<path d="M172.5 65l0 -0.5 0.5 -1.5 0 -2.5 0 0 0 0 0 0.5 0.5 0.5 -0.5 -0.5 -1 0.5 -2 0.5 0 -1.5 0 0 1 1.5 -0.5 -1.5 0.5 0.5 1 -1.5 1 0.5 -1 0 0.5 0.5 2.5 1.5 1.5 1 -0.5 0.5 -1 2 0 0.5 -1.5 0.5 1 -0.5 -0.5 -1.5 -0.5 -1 -0.5 0 1 1 -0.5 -1.5 1 1.5 0 0.5 -1 1 1 -1 -0.5 -1 0 0.5 1 0 0 0 -0.5 0 -0.5 0.5 0 -1.5 0 0 0 -0.5 -1 -1 -0.5 0.5 -0.5 -1.5 0 0.5 -0.5 1.5 1 -1 0.5 -0.5 -1 0 -0.5 -2 1 0 -0.5 0 0.5 0 -0.5 0.5 -1.5 1 0 0.5 -0.5 -0.5 0 0.5 1.5 0 -1.5 1.5 0 1 1 -0.5 -0.5 -1 0 -1.5 1.5 0.5 0.5 0 0 -0.5 -2 -0.5 -0.5 1 -1 0 0.5 0.5 -1 -0.5 0 0.5 0 -0.5 0 0 1 0.5 0.5 0.5 -0.5 1 0 1 0.5 1 0 -1 -0.5 0 0 0.5 0 -0.5 -1.5 1 0.5 1 -1.5 -1 -0.5 0 1 1 0.5 0 0 -1.5 0.5 0 0.5 1 -1 -2.5 2 0 0.5 -1.5 0.5 1.5 0.5 -1.5 -1 -1.5 0 1 0.5 -0.5 0 0 -1 -1 0 1.5" stroke="#f00000"/>
<path d="M170.5 64.5l-1 0.5 0 0 -0.5 -1 1.5 1 0 0.5 -0.5 0 -0.5 -0.5 -0.5 1 -0.5 -0.5 0 1 0.5 1 0 -0.5 0 -0.5 -0.5 -1 2 -1 0.5 0.5 0 1 0.5 0.5 -1.5 1 1 0 -0.5 0 -1.5 0 -0.5 -0.5 0.5 1.5 -1 -1 0 -2 0 0 1.5 -1 1 -0.5 0 0.5 0 0 -0.5 0 0.5 0.5 -0.5 -0.5 -0.5 -0.5 0 1 1 -1.5 -0.5 0 0.5 1 -0.5 -1 1.5 1 0 0 -1 -0.5 -1.5 0 0 0 0.5 -0.5 0 0 1.5 -0.5 0.5 0.5 0 1.5 -1 0.5 -0.5 0 0.5 2 -0.5 0.5 -1 -1.5 0 0 1 -0.5 0.5 -1.5 -0.5 -1 -1.5 0 2 -0.5 0.5 -0.5 1 -1 1.5 0 -1 -1 0.5 0.5 -1 -1.5 -0.5 -1 0 2 0 -0.5 0.5 -0.5 -0.5 0 -1.5 0.5 2.5 -1 0 1 -0.5 -0.5 1.5 0 -1 0 1.5 1 0 1 -0.5 0 -0.5 0.5 -0.5 0 0.5 1 -1.5 0 0.5 0.5 -1.5 0.5 -1 1 1.5 0 0.5 -1 1 1 0 0 -1 -0.5 -2.5 0.5 0 -2 -1 -0.5 1.5 0 0 0 -1 0 1 1 -1 -1 0.5 1.5 -1.5 0 2 0.5 0.5 -1 -1 -1.5 1 0.5" stroke="#f00000"/>
<path d="M174.5 64.5l0.5 0.5 1.5 0.5 0.5 -0.5 1.5 2 0.5 -1.5 -0.5 -0.5 0 0 1 0.5 0 -0.5 -1 1.5 0 -1.5 0 1 0 -1 0.5 1 0 -0.5 0 -0.5 -0.5 -0.5 0 0 -1 0 0.5 -1.5 -2 0 -1 1 0 1 0 0 0.5 1 -0.5 0.5 0 1 -0.5 -1 1 -2.5 1.5 0 0 0.5 -1.5 0.5 1 -1.5 -1.5 0 0 -0.5 -0.5 0.5 0.5 0.5 0.5 0.5 -0.5 1 -0.5 -1 0.5 0.5 -0.5 0 -1.5 -1 0 1 1 0 0 1 -2 -1 0 -1 0.5 0 -1 1.5 0 0 1.5 -0.5 -1 2.5 -1.5 0.5 -0.5 -1 -0.5 -0.5 1.5 -1 -0.5 -0.5 1.5 0.5 0 -0.5 1 1 1 0 -0.5 -1 0 -1 1 2 -0.5 -1.5 0.5 -0.5 0 0 1 1 -1 -1 1.5 -1 -0.5 -1 -0.5 0.5 1 -1.5 1.5 0.5 -0.5 1 -0.5 0 -0.5 0 0 0 -2.5 0 1 -0.5 -0.5 0.5 0 0 0 1 1 -0.5 -1.5 1 -1 -1.5 -0.5 -1 0 0 0 1 0.5 -1 -1 -0.5 1 0.5 0 -0.5 0 -0.5 1 0.5 2.5 -0.5 -0.5 1 0 0.5 -1 -1 -0.5 -1 1 1.5 -1 0 0.5 0.5 0.5 -0.5 0 0.5 0.5 -0.5" stroke="#f00000"/>
<path d="M175 62l-0.5 -1 -2 0 -1.5 0 0.5 1.5 -0.5 -1 -0.5 -0.5 1 -1.5 0.5 1 1 1 1 -0.5 0.5 0 0.5 -0.5 1.5 -1 0 -1 -0.5 0.5 -0.5 0 0 -1.5 -2 0 0 1 0 0 0 -0.5 1 0.5 0.5 0.5 0 -1 0 1 0 0.5 0.5 1 -0.5 0 1 0.5 -1.5 0.5 0.5 -1.5 -0.5 0.5 -1 0 -0.5 0 -0.5 -0.5 -0.5 0.5 -1.5 0 1 0.5 1 0 2.5 1 0.5 -0.5 -1 -1 0.5 0 -1.5 -1.5 0.5 1 2.5 -1 1 0 0 0.5 -1 0 0 0 -0.5 -0.5 0.5 -0.5 0.5 0.5 -1 0 -1 1 1 0 -0.5 -1.5 1.5 -0.5 -1.5 0 -0.5 0.5 0 0 1 -0.5 0 -0.5 0 1 -1 0 1 0 0.5 0 1.5 0.5 0 0.5 0 0.5 0 0.5 0.5 1.5 1 0.5 -0.5 -1 -1.5 0 -1.5 0.5 -1 1.5 -1.5 -1 -1 0 0 0 -1 0 -1 0.5 0.5 0 0.5 -1 -1 -0.5 0.5 0 0.5 0.5 0 0.5 -1 1 0.5 0 -1 0.5 1 0 0 -0.5 0 -0.5 1 -1.5 0 -1 -0.5 -0.5 1 -0.5 -0.5 2 1.5 0.5 0.5 0 -0.5 -1 0 -0.5 -1 -1.5 -0.5 0 -1 0.5 1 1" stroke="#f00000"/>
<path d="M171 66.5l0.5 0.5 -0.5 0 -0.5 0 1.5 -0.5 1 1.5 0 -0.5 -0.5 0 0.5 -1 -1.5 1 1 0.5 0 -1 0 0 0 -0.5 -0.5 -0.5 -0.5 -1 1 1 0 1.5 0 0 -1 0.5 -1 0 -0.5 1.5 -0.5 -1.5 0.5 3 0.5 0.5 1 0.5 -1 0 -1 -0.5 0 1 0 0 1 0 2 -0.5 -1.5 -1 0 1 0 -1 0 -0.5 -0.5 1.5 0 0 0.5 0 -1 -0.5 -0.5 0 -1 0 1 0 1.5 0 -0.5 0 3.5 -1 -2 1 0 0 -1 -2 -1.5 0 -0.5 0 0 -0.5 -1 -1.5 0 0 0 0 1 0 -0.5 1.5 0 -0.5 0 0 0.5 -1 0 -0.5 1 0.5 -1 -1 1 1.5 0 0.5 0.5 -0.5 0.5 -0.5 -1.5 -1.5 -1 -0.5 0 0 1 -0.5 1 1 -1 -0.5 1 2 -0.5 0 -1 0 0.5 1 1.5 -0.5 0 -0.5 -0.5 0.5 -0.5 -0.5 0.5 -1.5 0.5 -0.5 1 -1 -1.5 -0.5 -0.5 0.5 -2 1 1.5 -1 -1 -0.5 1 0 0.5 0.5 0 0 0 -1 0.5 1 -0.5 -0.5 0 -1.5 -0.5 0.5 -1.5 0.5 0.5 -1 0.5 0.5 -0.5 0 -1.5 1 0.5 0 0 -1.5 -0.5 2 0 -1 0.5 0 1 2" stroke="#f00000"/>
<path d="M176.5 65.5l-0.5 0 -0.5 0 0 0 -1 1 -0.5 -1.5 0 -0.5 -1.5 1.5 -1.5 0.5 1.5 0 0 -1 0 -1.5 2.5 1 0 1 0 -1 -0.5 0 1 -0.5 -1.5 1 0 -0.5 0 -1.5 0.5 0 -1 -1.5 1.5 -0.5 -1 -0.5 0.5 -1 1 0 0.5 0 0 1 -0.5 0 0 0.5 1 -0.5 0.5 -0.5 0.5 1.5 -2 0.5 0.5 0.5 -0.5 0.5 -1.5 1 1 0 1 0.5 0 -1.5 -0.5 1.5 1 1 0.5 0.5 1 -1 -1.5 1 1 -1 0 1 2 1.5 -0.5 0.5 -1 0 1 0 0.5 -0.5 0.5 -1.5 -0.5 1.5 0.5 -1 -1.5 2 0.5 0 0 -1.5 -1 0 -1 -0.5 0.5 -0.5 0.5 -0.5 0.5 -1 0.5 -1.5 0 -0.5 0 0 -1 -1.5 0.5 1 0 -1 0.5 0.5 1 0 -1 -0.5 0 1 0 1 -1 0.5 1 1 -1 -1.5 0.5 0 1 -1.5 -1 0 1 0 0 0 0 0 0 0 0 -1 -1 0.5 -0.5 -0.5 1 -0.5 0 2 -0.5 0 -1 0.5 0.5 0 0 2 0.5 -0.5 0 -1 0 -1.5 -1 -1.5 -0.5 0 0.5 -1 0 1 -1 1 0 0 1.5 0.5 0 0 -0.5 0.5 0 -0.5 1 0.5 0.5 -0.5" stroke="#f00000"/>
<path d="M258 70l0 0.5 -1.5 0.5 -1 0 1.5 1 -1.5 -1.5 0 0 -1 0 0 -0.5 2 0 0 -0.5 1 0 0.5 0 -1 -0.5 -0.5 -1.5 -0.5 -0.5 0.5 1 0 -1.5 0 1 0 0 0 0.5 -0.5 -1 0 0 -0.5 0.5 -0.5 0 0 0 -0.5 0 -0.5 1 1 1.5 0 -0.5 0 1 0 0.5 1.5 -0.5 -1.5 -0.5 0.5 -1 0 2 0 0 0 -1 0.5 1.5 0.5 1 0 0 0.5 -1 0 -1 0.5 0 0 0 -1 -1 0 -1 -1 0 1 0 0.5 -0.5 0.5 2.5 0.5 0 0.5 0.5 1 1 0 0 -0.5 -0.5 0 1.5 0 -0.5 -1 -0.5" stroke="#f00000"/>
<path d="M258 60.5l1.5 -0.5 0 1 0.5 1 0 -1 -1 1.5 0 0.5 -1 0 0 0 0 1 1.5 -1 -0.5 -2 0 0 -1 0.5 1 -0.5 -0.5 0 0.5 0 1 -0.5 2 -0.5 -0.5 0 0 1 0 1.5 0 -0.5 -1 1.5 0 0 -0.5 0 0 0 1 -0.5 0 -0.5 -0.5 0 -0.5 0 -1 -1 1 1.5 -0.5 -0.5 -1 1.5 -0.5 0.5 0 -0.5 1 0 -0.5 0 0.5 -0.5 -1.5 -0.5 0 0 0 0.5 -0.5 0 1 1 0.5 -0.5 1 -0.5 -1.5 1 0.5 -0.5 0.5 0 0 0 0 0 -0.5 -1 0 -0.5 0.5 0.5 -0.5 1 -0.5 -2 2 1 0 -0.5" stroke="#f00000"/>
<path d="M257 66.5l-0.5 -0.5 0 0 0 0 1.5 1.5 -1.5 0.5 1 -0.5 -1 -0.5 -1 -0.5 -2 -0.5 1 -1 0.5 0 1 -0.5 0 0 -1.5 -0.5 0.5 0.5 0 0 0 0 0.5 1.5 0.5 1 -1 -0.5 0.5 0 0 1 -0.5 0 0 -0.5 1 -1 -1 -0.5 1.5 -0.5 1 1 -0.5 -0.5 0.5 -1.5 -0.5 0 -0.5 0.5 -0.5 0 -0.5 0 0.5 -0.5 -1 0 -1 1 0.5 -0.5 1 1 -0.5 -1 0 0.5 -1 1 0.5 -1 -0.5 0.5 1 -1 -1 1 1 1.5 -0.5 1.5 0.5 0.5 -0.5 -0.5 1 0.5 0.5 1.5 0 -1 0 0.5 1 0.5 -1.5 -1 0.5 0.5 -1.5 -1.5" stroke="#f00000"/>
<path d="M255 64.5l1 0.5 0 0 0 0.5 -1 0 1.5 0.5 1 1.5 0 -1 -1 0 -0.5 -1.5 0.5 -0.5 1 0 0.5 0 -1 -1.5 -0.5 -0.5 -0.5 0 0 0.5 -2 -0.5 0 -1 0 0.5 1 0 1 -0.5 -1 0.5 1 0.5 -0.5 -0.5 -0.5 0 0 0 0 0.5 0 0 0 0 0.5 0.5 -0.5 1 2 -0.5 0 0.5 0.5 1 -0.5 -0.5 0 1.5 -1 0 1.5 0.5 -1.5 0 1.5 -0.5 0.5 -1 -1 -3 -0.5 0.5 -1 0 0 -0.5 0.5 0 1.5 0.5 -1 0 0 0 0.5 0.5 0 0.5 -1 0 0 -1 0 -0.5 0 -0.5 0 1 0 -0.5 0.5 0.5" stroke="#f00000"/>
<path d="M258 67.5l0 1 0 0.5 1 -1 1 -0.5 -1 0.5 0 1 0 -0.5 0.5 -0.5 0.5 0 -0.5 0 -0.5 -1.5 0.5 0.5 0 -1 -1.5 1 0.5 0 0 1 -0.5 1 -1.5 0 -1 -1.5 -0.5 -0.5 0.5 0 0.5 1 -1.5 0 1 -0.5 0 0 0.5 -0.5 -1 -1 -0.5 1 0 -0.5 1 0 -2 0 0 -1.5 0 0.5 1.5 0 -0.5 -1 1.5 0 0.5 -1 1.5 1 1 0 0 0.5 -0.5 -0.5 -0.5 -0.5 0 -0.5 1.5 1 -1 0 0 0 -0.5 -0.5 1 0.5 -1 1 1 1 0 1.5 -0.5 0 1 0.5 -0.5 0 0.5 -1 0.5 -0.5 -0.5 1.5 0 0.5" stroke="#f00000"/>
<path d="M254 62.5l-0.5 -0.5 0 -0.5 -0.5 -1 0 0 1.5 0.5 0.5 -0.5 1 1 -1 1 1 -0.5 0.5 -0.5 0 0.5 0 -0.5 0.5 1 -0.5 1 0 1.5 -1 0 -2.5 0 -0.5 1 -1 -0.5 1 1 0 -0.5 0.5 0.5 1.5 -0.5 1.5 -1.5 0.5 -1 0 0.5 0 -0.5 -0.5 0.5 0 0 0 1 -0.5 0 0.5 0.5 1 1 -0.5 -0.5 0.5 -0.5 0 0.5 -1 0.5 -3 0 -0.5 -1 -0.5 0 1 1 -1 -0.5 1 0.5 0 0 -1.5 0 0 -1.5 1.5 -0.5 -0.5 0.5 1 -1 -0.5 0.5 0.5 0.5 1 -1 1 3.5 -0.5 -0.5 0 0 -0.5 -1.5 1 2 0.5 -0.5" stroke="#f00000"/>
<path d="M257.5 61.5l0 0.5 -1 0 -1 -1 1.5 0.5 0 -1 -1 -1 -1 1 -0.5 1 0.5 0.5 0 0 1.5 -0.5 1 2 0 -0.5 -0.5 0 0 -0.5 1 1 -2.5 1 0 -1.5 0.5 1 -0.5 0.5 0.5 -0.5 -1.5 -1 0.5 0 0.5 0.5 -0.5 -0.5 2 0 0 -1.5 -1 0.5 0.5 -1 -0.5 0 1 -0.5 1.5 1 1 -0.5 0.5 -0.5 0 0.5 -1 -0.5 0 0 -1.5 0 0 -1 0 -0.5 -0.5 1 -1 1 0.5 0.5 0 0.5 0 -0.5 0 0 0 0.5 1.5 0.5 1 -1 0 1.5 -0.5 0 -1.5 0.5 0.5 -0.5 -0.5 1 -1 0.5 1.5 0 1 1 -0.5 0" stroke="#f00000"/>
<path d="M252 62l-0.5 -0.5 1 1 0 -1.5 -0.5 1 0.5 2 -0.5 0 0.5 0.5 0.5 -1.5 -1 0.5 0 2 1 0 0.5 0 -1 -0.5 -1.5 0 -0.5 -1.5 0.5 0 0 1 1 0.5 2 -0.5 -1 -0.5 0.5 1.5 1.5 -2 -1 0.5 -2 0.5 0.5 1 0 0 0 0.5 -0.5 0 0.5 -1 -2 -0.5 0 0.5 0.5 -1.5 -0.5 0.5 0.5 0.5 -0.5 -1 0 -0.5 0.5 -0.5 0 1.5 0.5 -1.5 1 1 0 0.5 -0.5 1 0.5 -0.5 0 0 0.5 -0.5 -0.5 0 1.5 -1.5 0.5 -1 0 0 0 1 0.5 -2 0 -0.5 -1 0 1 0 0 0.5 -0.5 -0.5 1 1 -0.5 0.5" stroke="#f00000"/>
<path d="M253.5 65.5l-1 0.5 0 -1.5 1 -0.5 1 0 -1 -0.5 0 0 0 0.5 2 0 -2.5 -1 -1 0 -1.5 0 0.5 -0.5 0.5 0.5 0.5 0 -1 0.5 0.5 0.5 -0.5 -1 0.5 0 0.5 0 1 -0.5 -1 0.5 0.5 -0.5 1 0 1 0 -0.5 -1.5 1 -0.5 1 0.5 -0.5 1 0.5 -1 -0.5 0 0 1 1.5 0 -2.5 1 -0.5 1 -0.5 0 0 0.5 0.5 -1 -0.5 1.5 1.5 0 -0.5 0 2 -0.5 0.5 -0.5 0.5 -0.5 -0.5 1.5 0 0 0.5 0 -1.5 1 -0.5 0.5 -1 0.5 -0.5 0.5 0 0 1 -0.5 0 0 0 -1 -1 0 1 0 0 0.5 -0.5 0.5" stroke="#f00000"/>
<path d="M254.5 67l1 -2 -1 0.5 -2 0 0.5 -1.5 -0.5 1.5 0.5 0.5 -0.5 0.5 0 0 1.5 1.5 0.5 -0.5 -0.5 -0.5 0 1 1 1 0 1 2 -1.5 0.5 0 0.5 0 -0.5 -0.5 0 0 0 0 0.5 -0.5 -1 0 0 -1.5 0 0 -0.5 -0.5 -0.5 1.5 0 -0.5 0 0.5 -2.5 2.5 1.5 -0.5 0 0 0 -0.5 2 0 0 0.5 0 -0.5 -0.5 0.5 0 -0.5 0 1.5 0 0 -1.5 1 1.5 -2 0 0 -2 1.5 0 0 0 0 0 0.5 0 -0.5 -1 -1.5 -1 0 -0.5 0.5 0 -0.5 -0.5 -0.5 0 -0.5 0 0.5 0.5 1 0 0 0.5 1 -0.5 -1.5" stroke="#f00000"/>
<path d="M60.5 106l1 0.5 0 0 1.5 -1.5 0 0.5 0.5 0 -0.5 1 0 0.5 0 -0.5 -0.5 0.5 -1.5 -1 1 -2 0 1.5 -0.5 -0.5 0.5 -1 0.5 0 -1.5 1.5 -0.5 0.5 0 0.5 0 0 0 -0.5 -1 0.5 0.5 -1 0.5 0 0.5 0 0.5 -1.5 -0.5 0.5 0.5 0.5 0.5 1.5 1 1 0 -0.5 0 0" stroke="#f00000"/>
<path d="M60.5 107.5l-0.5 0 0 -1 0.5 2 -0.5 0 0.5 -2.5 -1 0 0.5 0 0 0 0 0 0.5 -0.5 -0.5 0.5 1 0 -0.5 0 -0.5 0 -0.5 1.5 2 0.5 1.5 -1.5 -0.5 0 0.5 0.5 0 1.5 -1.5 0.5 1 0.5 0 -0.5 -1 0 -1.5 -1.5 -1 0 0.5 -1 0 0 0.5 1 0 -0.5 1 0.5" stroke="#f00000"/>
<path d="M61 105.5l1 1.5 0.5 1 -1 -1 0.5 0 0.5 -1 0 0 0 -0.5 -0.5 0.5 0.5 0 -0.5 -0.5 0 -0.5 0 0.5 -0.5 1 0 -0.5 -1 1.5 -1 1 2 0 -0.5 0.5 -1.5 -0.5 -0.5 -0.5 0.5 0.5 0.5 -1.5 3 -0.5 -0.5 0.5 0 0.5 -1.5 -0.5 0.5 -1 0 -0.5 -1 0.5 -1 -0.5 1.5 0" stroke="#f00000"/>
<path d="M60 104.5l-0.5 1 0 -2.5 -0.5 -0.5 0.5 0 1 -0.5 0 0 1 0 -2 1.5 1 -0.5 0.5 -1.5 -0.5 0.5 0.5 0 -0.5 0.5 0.5 0 0 -0.5 -0.5 0 0 1 -0.5 1 1 -0.5 -0.5 0.5 0.5 1 -0.5 1.5 -0.5 -0.5 0.5 0 -1 -0.5 0.5 0 1 0.5 0 0 -1 0 0 -0.5 -0.5 -1" stroke="#f00000"/>
<path d="M141 106l0 1 -1 -0.5 0.5 -0.5 -0.5 2 0.5 0 1.5 0.5 1 -0.5 1 1 -1.5 0.5 1.5 0 -0.5 0 -1.5 0 -1 -0.5 0.5 1 -1 0 -1 0 1 -0.5 0 0.5 1 0 0.5 -2.5 -0.5 0.5 0 -0.5 0 1.5 1 0 -1 -1 1 1.5 -1 -0.5 -1.5 -1 0 0 1.5 -0.5 -1.5 0 -1 -0.5 0.5 -0.5 0.5 -1 1 -1 0.5 0 -1 -1 -0.5 -0.5 -0.5 0.5 0 0 -0.5 0.5 -0.5 1 0 -0.5 0.5 -1.5 0.5 0.5 1 1 -0.5 0.5 -1 0 1 1 1 0 -1 -1.5 -1.5 0.5 0 1 0 2 1 -1 0.5 0.5 -0.5 -0.5 -1.5 -0.5 0 -0.5 0 -1.5 1.5 -1 0 -0.5 2 1 1 -0.5 0.5 -0.5 -1.5 0.5 1 -1 1 1.5 -0.5 -0.5 0.5 0 -0.5 1.5 -0.5 0 0 0.5 0 -1 0 -0.5 -0.5 0.5" stroke="#f00000"/>
<path d="M138 111l1 -0.5 -0.5 -0.5 1 -1 0 0.5 1 -0.5 1 1 -0.5 1.5 0.5 0 -1 0.5 0.5 0 0 -1 0 0 0.5 -0.5 0 -0.5 0.5 1 -1 0 -1.5 1.5 -2 0.5 -1 -2.5 -0.5 2.5 0 0.5 0.5 0 0 0 -0.5 -1 0 0.5 0 0 1 0 -1 0 2 0.5 0.5 -1 0 -2 1 -0.5 0 -0.5 -1 1.5 1 0 0 -0.5 -0.5 0.5 -1 1 -0.5 -1 -1 1 1 0.5 0.5 0 -0.5 -0.5 -0.5 -1 1.5 -0.5 0 0 -0.5 0 -1 1 0 -0.5 1 0 1 0 0 0 -0.5 1 -1 -0.5 1 1 -1.5 -1.5 -0.5 -0.5 1 0.5 -2 0.5 -0.5 0 -0.5 0.5 -0.5 1 1 -0.5 -0.5 -0.5 0.5 0.5 -0.5 -1 0.5 -1 0 1.5 0 -0.5 0 1.5 1 0 -1 0 0.5 0 0 0 -1 0 0 -0.5" stroke="#f00000"/>
<path d="M141 105l0 -0.5 -1 -0.5 -0.5 0.5 2 -0.5 0.5 0.5 1 0.5 0 0 1 -1 -0.5 -1.5 -0.5 0.5 -0.5 -0.5 -0.5 0 0 -0.5 -2 0 0.5 0 -1.5 1.5 1 0 0.5 0 0 0 0.5 -0.5 0.5 -1 0 0 -0.5 0.5 -0.5 0 0 -0.5 0.5 -0.5 0 -1 -1 1.5 -0.5 0 1.5 -0.5 -0.5 0 -0.5 -0.5 0.5 0.5 -0.5 1.5 -0.5 0 0 0.5 2 0 1 -0.5 1 1 0.5 -0.5 -1 1.5 1 -0.5 0 0 0 0.5 -0.5 1 0 0 -0.5 0 -0.5 0 -0.5 0.5 0 -0.5 0.5 0.5 2.5 -0.5 0.5 0 -0.5 -1.5 -2 0 2 0.5 -0.5 0 0.5 -1 0 -0.5 -0.5 0 -0.5 2 0 -0.5 0.5 0.5 -0.5 1 0 -1.5 -0.5 1 -1 0 0.5 0 -2 1 -0.5 1 0 -1 0 -1.5 -0.5 1 -0.5 1 -1 0 1 0" stroke="#f00000"/>
<path d="M143.5 106.5l1.5 -1 0 -0.5 -0.5 -0.5 -0.5 0.5 -1.5 -1.5 1 0 -0.5 1 1 1.5 -1 -0.5 2 0.5 0.5 0.5 -0.5 -2 -0.5 -0.5 1 1.5 0 0 -2.5 0 0.5 -1 0.5 0.5 -0.5 0 0 -1 -1 -0.5 -0.5 1 0 -1.5 0 0 0.5 1 0 -0.5 -0.5 1.5 -1.5 0.5 -0.5 -0.5 1.5 0 0.5 0.5 -0.5 0.5 -1 0.5 0.5 0 -0.5 -0.5 0.5 0 1 1 -0.5 2 -0.5 1 0 0.5 -1 0.5 2 -1 0.5 0 -0.5 0.5 0.5 0.5 -0.5 0 2.5 -1.5 -1 0.5 0 -1 -0.5 -0.5 1 0.5 0.5 -0.5 -0.5 0 1 0 -0.5 0 -0.5 0 0.5 -0.5 0 0 -0.5 0 -0.5 0 -1 0.5 -0.5 0.5 0.5 -2 0.5 0 0.5 -1 0.5 -0.5 0.5 0.5 -0.5 -1 -0.5 0.5 0 -1 0 0 0 1.5 -0.5 1.5 1 0 1.5 0 0.5 -0.5" stroke="#f00000"/>
<path d="M137.5 109.5l1 2.5 0 -1 -1 1 0.5 0 0 -1 -2.5 -0.5 -0.5 0.5 -0.5 0 -1 -1.5 0.5 -1 0 1 0.5 0 0.5 0 0.5 0 -1.5 -0.5 0 -0.5 0 -2 0.5 0.5 -0.5 1 0 -0.5 0.5 0 -1 0.5 0 0 0.5 1.5 1 -0.5 0.5 -3 -0.5 0.5 -0.5 0.5 1 -1 0 0 -0.5 0 0 0.5 1.5 -0.5 1 -1.5 1 1 -0.5 -0.5 0 0 -0.5 1 0 -0.5 -0.5 -0.5 1 1 0 -0.5 1 1 2 0.5 -0.5 -0.5 0.5 0 0.5 0 -1 -0.5 -1.5 -0.5 0 -0.5 0 1 0 0 1 0.5 -0.5 -0.5 -0.5 -0.5 0 1.5 0 1 0 -1 1 0.5 -1.5 -0.5 -0.5 0 1 -1.5 1.5 0.5 0 1 -1.5 -0.5 0 -0.5 -0.5 2.5 0.5 0 0 -0.5 0.5 -0.5 -1 0.5 1 -1 0 -0.5 -0.5 -1 0 0.5 0.5 2" stroke="#f00000"/>
<path d="M137 106l1 -1 -2 1.5 -1 0 1 0.5 0 1.5 -1.5 -1.5 1 -1 0.5 1 -0.5 0 -0.5 0 -0.5 -1 1.5 1.5 1 -0.5 1 0.5 -0.5 0 -0.5 1.5 1 -0.5 -1 1 0.5 0 1.5 0.5 0 0 0.5 -1.5 -1 -0.5 0.5 -0.5 0 -0.5 -1 0.5 -1 -0.5 0 -1.5 0.5 0.5 0 -1.5 1 -1 0 0.5 0 1.5 -0.5 1 0.5 0 1 0.5 -0.5 -1 0.5 -1 0.5 -0.5 -0.5 1.5 0 -0.5 0 -0.5 -1 0.5 0 -2 0.5 1 0 -0.5 0 0.5 -1 -0.5 0.5 0 0 0 0 -0.5 0 1 1 0 0 2.5 0 0 0.5 -1.5 0 1 -0.5 -0.5 -1.5 -0.5 0 -0.5 0 0 -1 1 0 -1.5 -0.5 -1.5 0.5 0.5 -0.5 0.5 -0.5 -0.5 0.5 -0.5 -1.5 1 -1 -0.5 1 1.5 -0.5 0 1 1 -1 1.5 1 1.5 1 1.5" stroke="#f00000"/>
<path d="M136 111l-0.5 0 0.5 -0.5 0 -1 0.5 0 0 0 -0.5 0.5 1 0 1 3 0 1 0 0.5 0.5 0 0 0.5 -0.5 0 0 -0.5 1 -1.5 0.5 1 -0.5 1 -0.5 -0.5 0 0 0.5 -0.5 -0.5 0.5 0.5 0 0.5 -0.5 0 -0.5 0 -1 -0.5 1 -1 -1.5 -0.5 0 0 1 0.5 0 -2.5 1 0.5 -0.5 1 1.5 0 -0.5 0.5 0 0 -1 0.5 -1 -1 -0.5 0.5 0 -1 1.5 0.5 -0.5 -1 -0.5 -0.5 -1 -0.5 0 1.5 0 1 1.5 0.5 1 1 1 0 -2.5 -1 1 -2.5 0.5 -1 -1 1 0.5 1 0.5 -1.5 -0.5 1 -0.5 1 -1 -0.5 1 -0.5 -2 -0.5 -1.5 0.5 -0.5 -1.5 1 0.5 -1.5 -0.5 1 1.5 -1.5 -0.5 1 1 0 0 0.5 1 -1 0.5 0 0 0.5 1 -0.5 0 0.5 1 -0.5 -2 0 1 -0.5" stroke="#f00000"/>
<path d="M138.5 103.5l-0.5 0.5 -0.5 1 -0.5 -0.5 0.5 0 -1 0.5 1.5 -1.5 -1 -1 -0.5 0.5 0.5 -0.5 -0.5 -0.5 1 -0.5 0 0 0 -0.5 0 0.5 0.5 0.5 0 0 1 0.5 -0.5 -1 0 0.5 -1 1.5 0 1 0 1 0 -1 -0.5 0 -0.5 -2.5 0 1 1.5 -0.5 0 -0.5 0.5 0 -0.5 -0.5 -0.5 -0.5 0.5 0.5 -0.5 0 2 0.5 -0.5 2 0.5 -0.5 0 -0.5 -1.5 0.5 0 0.5 -0.5 0.5 -0.5 0 0 -1.5 -1 -1 0.5 0.5 0.5 1 0 -2.5 -0.5 0.5 -1.5 0.5 0 -0.5 0.5 0.5 2 -0.5 -0.5 0 0 1 1 -1 0.5 1 1 -1 0 1 0 -1 -0.5 0.5 -1 0 -1 1 1 0 1 -1 0.5 -0.5 -0.5 0.5 0.5 1 -1 0.5 1.5 -1 0 1.5 0 -0.5 0.5 0.5 0.5 0 -1 -0.5 0 0 0 0 1 0" stroke="#f00000"/>
<path d="M138 102l1 1 0.5 0 -2 1 0 0.5 -0.5 -1 1 0 1.5 -1 0 0.5 -0.5 1 0 0 1 0.5 -1 0 1.5 0.5 -1 -3 1 2 0 0 -1.5 0.5 -2 -1 0 -0.5 0 2.5 -0.5 0 0.5 0 -1.5 0 0.5 -1 -1 0 0 0.5 1.5 1 -0.5 -0.5 0 0.5 1.5 -1 1 0.5 -1 -0.5 -0.5 0 0 1.5 -0.5 -1 0 1 -0.5 -0.5 0.5 0 0 0.5 1.5 -1 -1.5 -1 1 0 1 0.5 0 1 1 -0.5 0 0 0.5 -1 0 0 -1 0 0 2 -0.5 -0.5 0 0.5 0.5 -1 -0.5 -0.5 1.5 -1.5 0.5 0 -0.5 0 0.5 -1 1 0 -0.5 -1.5 0 1 0 0 -0.5 0 -1 0.5 1 -1.5 1.5 0.5 -1 -0.5 -0.5 0 0 -2 0.5 2 0.5 1 0 0.5 -1 0.5 -1 1 0.5 -1 1.5 0.5" stroke="#f00000"/>
<path d="M138 107l-1.5 -1 -0.5 1 -0.5 -1 0.5 0 0.5 0.5 0.5 1.5 0 -0.5 -0.5 0 -0.5 -0.5 0.5 0.5 0 0.5 0 0 -1 -1.5 1 0 1 1.5 0 0.5 -1.5 -0.5 0.5 -1.5 -1.5 1 0.5 0 0 0 0.5 -0.5 0 -1 -0.5 1.5 0.5 -1 0.5 1.5 0 0 -1 0 0.5 -1.5 0 -0.5 0 0.5 -0.5 -0.5 0.5 1 1 0.5 -1 1 0 0.5 0.5 -1 0.5 -1 0 1.5 0 -1 0.5 1 0 -0.5 0.5 0 -0.5 1.5 1 1 -1 -1 0 -0.5 1 -1 0 -0.5 -1 1.5 -0.5 -0.5 0 -0.5 0 0.5 -2 0.5 0.5 -1 0 -1.5 0.5 0 0.5 -0.5 0.5 0 0.5 -1 -0.5 0.5 0 0 0.5 -0.5 0.5 0 -0.5 0 0.5 1 -0.5 -1 0.5 -0.5 0 0.5 -0.5 1 0.5 -0.5 -1 0 0.5 -0.5 1 1.5 -0.5 0 -0.5 -1.5" stroke="#f00000"/>
<path d="M137.5 104l1 1 0.5 0 2 0 -0.5 0 0 0 0 1 -0.5 -1 0.5 0 -0.5 1 0 -0.5 0 0 -1 0 -1.5 -1 1.5 -1.5 -0.5 1.5 2 0 -0.5 0 0.5 -1 -1 -2.5 -0.5 -1 1.5 -0.5 0 1 0 0 -1.5 -0.5 0.5 0 1 0.5 -1 1.5 -1 -0.5 0.5 -1 -1.5 -1 0 0.5 0.5 1 1 -0.5 1.5 0 -0.5 -0.5 -0.5 -0.5 -1 0.5 0 0.5 0.5 0 0 1 1 0 0 0 2 -0.5 0 0 -0.5 0 -0.5 0.5 -1 0 0 1 0 -0.5 -0.5 -0.5 -0.5 -0.5 0.5 -0.5 0.5 -0.5 0.5 0.5 0 -0.5 0 0 0 -0.5 0 1 1 1.5 1 0.5 0.5 1 -0.5 0.5 0 0 -0.5 -1 0 0 1 -0.5 -0.5 0.5 0 -0.5 0 1.5 0 1 -0.5 0.5 -0.5 0 1 -1.5 -2 0 0.5 0.5 0 0" stroke="#f00000"/>
<path d="M220 108l1 0.5 0.5 0 -0.5 0 0 1 -1.5 0 0.5 0 -1 -0.5 1.5 1 0.5 -1.5 -2 -0.5 1.5 0.5 1 0.5 -2 -2 0.5 2 -0.5 -1 0 -2 -1 1.5 0.5 0.5 -1 0.5 -1 -0.5 1 1.5 -0.5 -0.5 1 -0.5 0.5 -0.5 -0.5 0 -1 0 1 0.5 0.5 1 -0.5 0 2 0.5 -0.5 0.5 0 -1 -1.5 -1 0.5 0.5 0 -1 0.5 1 0.5 -0.5 1 0 -0.5 0.5 -0.5 0.5 -1 -0.5 -0.5 1 -2 -0.5 0 0 0.5 -0.5 0.5 1 0.5 -0.5 0.5 -0.5 -0.5 0.5 -2 -0.5 1.5 0 1 0 -0.5 1 -0.5 0.5 1.5 -1 -0.5 0 1 0.5 0 -0.5 -0.5 -0.5 -0.5 -1.5 -0.5 0 1 -0.5 1.5 0 0 0 0.5 0.5 0 0.5 -1 -1 0 0.5 1 -2 -1 1 0.5 1.5 0.5 1 0.5 0 0.5 -1.5 0 0.5 1 -1 -0.5 -0.5 -0.5 0.5 0.5 0.5 0.5 -0.5 -1 -1 -2.5 -0.5 -1.5 -2 0.5 -1 -1.5 0 1 1.5 0.5 0 -1 0.5 0.5 1" stroke="#f00000"/>
<path d="M214 107l0 1.5 -1.5 -1 1 0 0.5 0.5 0.5 0 0 -0.5 1 0.5 -2 -1.5 0 1 -1 0.5 -1 0 0.5 0 0 0.5 -1 0.5 -0.5 0 -0.5 -1 0.5 0.5 1.5 -1.5 0 -0.5 1 2.5 1.5 0 -2 0.5 0.5 -0.5 0 0 1.5 -1.5 0 0 0 0 0 1 1 -1 -1 0 2 -0.5 -2 -0.5 1.5 0.5 0.5 0.5 1 -1.5 0.5 0.5 0 0 0.5 1 -1 0 1 0 0.5 0 -0.5 1 -0.5 -0.5 0 2 0.5 0 -0.5 0 -0.5 0 -1 0 0.5 0 0.5 0 0 0 0 1 -1.5 0 0.5 0.5 0.5 -1.5 1 -1 -0.5 1 -1.5 -0.5 -0.5 -0.5 -1 -1 1 0 -0.5 0.5 -1 0 0.5 0.5 0 1 1.5 -0.5 -1 0 0 -1 -1 1 -2 0 0.5 0.5 -0.5 1.5 -0.5 -0.5 0.5 -0.5 -0.5 0 -0.5 -0.5 2 -2.5 1 1 -1 -0.5 -0.5 -0.5 0 -1 1 0 1 -0.5 -0.5 0 -0.5 0.5 0 0 -1 -1.5 0 1 0.5 0" stroke="#f00000"/>
<path d="M214.5 104l-1 0 -0.5 -1 -1 0 0.5 0.5 -1.5 -0.5 -0.5 0.5 0.5 1 1.5 0.5 0 -0.5 1 0 -0.5 1 -0.5 -1 1 1 1.5 0.5 -0.5 -0.5 1 1 1.5 -0.5 1 -0.5 -1 0 -0.5 1 0.5 -2 1 0.5 0 0 -1 -0.5 -1 0.5 0.5 -1 0 0.5 1 1.5 0 0.5 -1.5 0.5 0 0 0 0 -0.5 -1 -1 1.5 0.5 0 0 -1 0 2 -1 0 0 0 -2 0.5 0.5 -1 -1 -0.5 0 0.5 0.5 0 -0.5 -1.5 -1 0 1.5 -1 0.5 -0.5 -1 0 0 1.5 -0.5 -1 0 0.5 -0.5 0.5 0.5 -0.5 3 1 0.5 1 -1 0 -0.5 0 -1 -1 -0.5 0 0 1 0.5 1 0 -1 1.5 -0.5 0.5 1 1 0 -0.5 -1 1 0 0.5 0 0.5 -0.5 -1.5 -1 2 0 0 1 -1 0 0 -0.5 0 -1 0.5 0.5 -0.5 -0.5 -1.5 0 1.5 0 0 1 -0.5 -1 0 1.5 0.5 -0.5 1 0 -1 0.5 -0.5 -1.5 0.5 1.5 0 0" stroke="#f00000"/>
<path d="M217 104l1 -0.5 1.5 0.5 0.5 0 -1.5 1.5 0 -0.5 -1 -0.5 0 0 0 -2 1.5 0.5 -0.5 0.5 -1 -0.5 0.5 0 0.5 0.5 1 1.5 -2 -1 1 -1.5 0.5 0.5 -0.5 0 0 1 -0.5 -0.5 -0.5 0 0 -1 -0.5 -1 0.5 -0.5 -1 0.5 -0.5 0 -1.5 -1 -1 0.5 0.5 1 0.5 0.5 -0.5 -1 -0.5 1 1 -0.5 0.5 1.5 -0.5 -0.5 -0.5 0 0.5 -0.5 1 0.5 1.5 -1.5 1.5 0.5 0 -0.5 0.5 -1 -1 0 2 1.5 0 1 -0.5 -0.5 -1 0 0.5 -0.5 0.5 -1 -1.5 -1.5 0 1 0.5 -0.5 -1 0.5 1 0.5 0 -1 0 1 1 0.5 -1.5 0 -1 0 0 -0.5 1 -1 -1 2 -0.5 -1 -1.5 0.5 -1 1 0.5 -1 0.5 -1 -1 0 -0.5 1 1 1 -0.5 -0.5 1.5 0 -1 -2 -1 0 0 0.5 2 0.5 -0.5 -1 0 0 0 0.5 -0.5 0 1.5 -0.5 0 0 -0.5 1 2 0.5 -1.5 0 1 -0.5 0.5 -0.5 -0.5 -0.5 0.5 -0.5" stroke="#f00000"/>
<path d="M214.5 104l1 0.5 -2.5 -0.5 1 2.5 0 0 0 2 -0.5 0 0 0 1 0 0 0 0.5 0.5 -1 -0.5 0 0 -0.5 0 0.5 0 0.5 -0.5 -0.5 -0.5 1.5 -0.5 -1.5 -1 1 0 -0.5 0.5 -1.5 0 1.5 1.5 0 0.5 0 1 -2 -1 0 0 -1.5 -0.5 -0.5 -0.5 1 -1 0 1 0 -0.5 0.5 -0.5 0 0.5 0 1 -0.5 -0.5 -1.5 0 0.5 0.5 0.5 -0.5 1 -1 0 -0.5 1 -1 1.5 0 0.5 0 0 1 1.5 -1 0 1.5 0.5 -0.5 -1 -1 0 -1 1 0 -1 -1.5 1 0.5 0.5 -1 -0.5 0.5 1 -1 -1.5 0.5 1 1 0.5 0 -1.5 2.5 0 1 1 0.5 0 0 0 0 0 0 0 -0.5 -1.5 0 -1 2 1 0 0.5 -0.5 0 -0.5 -0.5 0.5 0.5 -1 1.5 -0.5 -0.5 -2 -0.5 -1 1.5 0.5 -0.5 0 0 0.5 0.5 0 -1.5 0 1 -2 -0.5 0.5 0.5 0.5 -1 -1 1 0 -0.5 0.5 -0.5 -1.5 -0.5 0 0.5 0.5" stroke="#f00000"/>
<path d="M218.5 108l0.5 0.5 1 0.5 -0.5 -1.5 -1 -0.5 0.5 -0.5 -0.5 1.5 0 -1.5 -0.5 2 -1.5 -0.5 -1 0 0.5 0.5 1 1 1.5 -0.5 0 1 -1.5 -0.5 -1 0.5 0.5 -1.5 0 0.5 1.5 -1.5 0.5 -0.5 -0.5 1.5 -0.5 0 -1 -0.5 1.5 0 -0.5 -0.5 -0.5 -0.5 -0.5 -1.5 1.5 1 0 -1 0 0.5 -1.5 -0.5 0 1 1 -2.5 -1.5 -0.5 0.5 1 0.5 1 0.5 2 1 1 2 0.5 0.5 1 0 0 0 1.5 0.5 -1.5 0 0 1 0 -0.5 -1.5 0 0.5 -0.5 1.5 -0.5 1 -1 0 -1.5 1 0.5 -0.5 0 -0.5 -2 0 0 -1.5 0.5 1 0 0 -0.5 0 0.5 2 1.5 -1 -1 0 -1 -0.5 1.5 0 1 -0.5 1 1 0.5 0 -1 0 1 0 -0.5 -0.5 0 0 0 0 0 0 -1.5 0.5 -1 -0.5 0.5 -1 0 0.5 0 -0.5 -1 -0.5 -1 0.5 1 1.5 1.5 0.5 0 0.5 -0.5 -1 0.5 0.5 -1 -0.5 -0.5 0 1.5 1 -0.5 -1 -0.5 0" stroke="#f00000"/>
<path d="M219 101.5l0.5 -1 0 0.5 0.5 -1 -1 -0.5 -0.5 0.5 0 -1 -1.5 2 0 0.5 0.5 0.5 -0.5 0 1 -0.5 -1.5 1 1.5 1 -0.5 1 -1.5 1 0.5 -0.5 -1.5 -0.5 1 0 -0.5 -0.5 0 1 1 1 1.5 0 1.5 0.5 0.5 -0.5 0.5 -1 0.5 1 1.5 -1.5 0 0 0.5 -0.5 0 -1 -0.5 0 -0.5 1 1 0 1 -0.5 -1 -0.5 0 -1.5 0.5 -1.5 -1 0.5 0 -1 -0.5 0 0 1.5 -0.5 -1 -0.5 -0.5 0 -1 -1.5 -1 -1 1 1 0 0.5 0 1 0.5 -0.5 1 1 0.5 1.5 0 -1 -0.5 -0.5 0 0 -1 -0.5 0 1.5 0 -1 0 -1 -1 0 1.5 0 1 -0.5 -0.5 0.5 -2 -1 0.5 0 0 -0.5 -0.5 -1.5 0 1.5 0 -0.5 0.5 0 0 0.5 0 0.5 0 -0.5 1 -3 1.5 0.5 0 1.5 -1.5 0 -1 0.5 0 0 0.5 -0.5 -0.5 1 0 -0.5 0 1 -0.5 0.5 -0.5 0.5 1 1 0 -1.5 -0.5 1 1 0 0.5" stroke="#f00000"/>
<path d="M219.5 105l1 -1 0.5 -1 1 -0.5 -0.5 0 0 0 0 1 0 -0.5 -1 -0.5 -2 0 0.5 -1 -1 0.5 0 -0.5 1 0 0 0.5 2 -1 0.5 1.5 -0.5 0 -1 -0.5 1 0 0.5 1 0.5 0 0 -0.5 0 0 0 1.5 1 -0.5 -0.5 -0.5 -0.5 -0.5 1 1.5 -0.5 -1.5 0.5 0.5 0.5 0.5 -0.5 -0.5 -1 0 0 -0.5 0 0.5 -0.5 -1.5 -1.5 0 0.5 0.5 0.5 0.5 1 0.5 -0.5 1 1 -0.5 0.5 0 -0.5 -0.5 0 0 -1 -1 0 0.5 -1 -0.5 -0.5 1 0 -1.5 0.5 0.5 -0.5 0 1 1.5 -1 -0.5 0.5 -1 0.5 0.5 -1.5 -0.5 -0.5 0 1.5 0 -0.5 0.5 0.5 -0.5 -0.5 0 0 0 -0.5 0 1.5 0 0 0.5 0.5 1.5 0 -0.5 1 -0.5 0.5 0.5 0.5 0 -1 -0.5 -0.5 -0.5 -0.5 0 -1.5 0.5 0 -0.5 0 1 -1 0.5 0.5 -2.5 -0.5 0.5 -0.5 -0.5 0 -0.5 -1.5 1 -0.5 0.5 0.5 0 1.5 -0.5 0 0.5 0.5 0 -1 1.5" stroke="#f00000"/>
<path d="M218.5 104l-1 1 0 0.5 -1 -1.5 -0.5 1 0 0 -1 0 0.5 -1 -0.5 1 0.5 -1 0 0 -0.5 0 0.5 1 -1.5 -0.5 0.5 1.5 1 1 -0.5 0 -0.5 -1 0.5 -0.5 0 1 -1 -0.5 0.5 0.5 1.5 1.5 -1 -0.5 0.5 0 0 -0.5 0.5 0.5 -0.5 0.5 1.5 -0.5 -0.5 -1 2 1.5 0 0 -0.5 0.5 -0.5 0.5 -1.5 0 0 -1 0 -2 0 1 0.5 0 0 0 0 -1 0 1 -1 -0.5 -0.5 0 0 0 0 -0.5 1.5 0.5 0 -1 -0.5 0 -1 0.5 -0.5 -1 1 0 -1 -1 1 -0.5 0 1.5 0 -0.5 -1 -0.5 0.5 0 2 0 0 0 0.5 0.5 -1 1 0.5 -0.5 -0.5 -1 0.5 1 0 0 -1 0 1 -0.5 -2 0 -0.5 -0.5 0.5 0.5 -0.5 1 0 0 0.5 -1 1 -2 0 -0.5 -0.5 1.5 0 -1.5 -1 2.5 0.5 0.5 0.5 -1.5 -1 0.5 0.5 0 0 1.5 -0.5 -0.5 0.5 0 1 1 -2 -0.5 1 -0.5 -0.5 -1" stroke="#f00000"/>
<path d="M215 105.5l-1.5 0.5 -0.5 0.5 -1 1 -1.5 -1 0 0.5 2 0.5 0.5 0 -0.5 1 -1.5 -2.5 0 0.5 1 -1.5 1 -0.5 0 0 0.5 -1 0 -1 0 0.5 1 0.5 -1.5 2 0.5 1 -1 0 1.5 -0.5 1.5 -0.5 1.5 1 1 0 0 0 -1.5 0 0 1 -1 -0.5 0 -0.5 -1.5 0.5 2 0.5 0 1 0 -1 1 -0.5 -1 -1 0 0.5 -0.5 0.5 -1 -1.5 1.5 -2 -0.5 -0.5 -0.5 0.5 0 1 -0.5 0.5 -1.5 0.5 1 1 -0.5 0.5 -0.5 -1 0 0.5 1.5 -0.5 0 0 -1 -0.5 1.5 1 1 -0.5 0.5 1 -0.5 0.5 -0.5 0.5 0 0 -0.5 -2 -0.5 -1 0.5 0 -1.5 0.5 -0.5 -0.5 0 -1 0 -1 1 0 -1 1.5 0 0 1 -1.5 -0.5 0 -1 0.5 0.5 -1 0 -0.5 1 0 0 0.5 0.5 1 0 -1 1 -1 0.5 -1 -1 0.5 0 -1 1 0.5 -1 1.5 0 0 0.5 0 0 1 1 -1.5 0 0 -1 0.5 1 -2" stroke="#f00000"/>
<path d="M216 108l0 0 0 0.5 1 -1 0 -1 0 -1 0 -1 0 1 1.5 -1.5 1.5 0 -1.5 0.5 0.5 -1 -1 -0.5 1.5 0.5 -0.5 0.5 1 0.5 -0.5 1.5 1 -0.5 0.5 0.5 0 -0.5 -0.5 0 -1 -0.5 0.5 1.5 -1 -1 0 0 0.5 -0.5 -1 -2.5 1 1 -0.5 0.5 0.5 0.5 -0.5 -0.5 1 1 -0.5 -1 1.5 1.5 -1 1 -0.5 -1.5 0 -0.5 -0.5 1 1 0 0.5 0.5 -0.5 0.5 -1 -1 -0.5 1 0 0 -2 0 -1 0.5 -0.5 -0.5 -0.5 -2 0.5 -1 -1.5 0.5 0.5 -1 -0.5 0.5 0.5 0 1 0 -1.5 1 0 1.5 0 -1 0 -1 -0.5 0 0 1 0 -0.5 0 0.5 0 0 0.5 -1 -0.5 0.5 0 0.5 1.5 -1.5 0 0 -0.5 0.5 1.5 0 -0.5 0 -0.5 -1.5 -1 1 0 0 0.5 -0.5 0.5 0.5 -0.5 0.5 -0.5 1 0.5 0 -0.5 1 -0.5 -0.5 0.5 0 1 0.5 0.5 0 0 -1 -1 -0.5 1.5 -0.5 0 -1 -0.5 0 1 0.5" stroke="#f00000"/>
<path d="M292.5 103l0 0.5 -0.5 1.5 0 -0.5 1 0 -0.5 1 0 0.5 -1.5 1 1 0 0 -0.5 0 0 1 0.5 0.5 -0.5 -0.5 1 0.5 -0.5 1.5 -0.5 0 -0.5 -1 -0.5 0 1 -0.5 -1.5 0 -1.5 -1 -0.5 0 -1 -0.5 1 0 0 -0.5 0 -0.5 0.5 0 0 0 0 0.5 0.5 0 -1.5 0.5 0.5 1 1 0.5 -0.5 -0.5 -1 1 1.5 0.5 -1 0 -0.5 -0.5 1.5 0 0 -1.5 0.5" stroke="#f00000"/>
<path d="M292.5 104l0.5 2 -0.5 1 -1 -0.5 0 0 1.5 -1.5 0 -1 1 -1.5 0 -0.5 0 1 -0.5 1 -0.5 0 2.5 -0.5 -1 0.5 0.5 0 -0.5 -1.5 0.5 1 -2 0.5 0 -0.5 0 -0.5 0 1 0 -1 0 2 2 -1.5 0.5 0 0 0 0.5 2 0 -1.5 -0.5 -0.5 -1 0.5 0.5 0.5 -2 0 -0.5 0.5 -1 -1.5 0 -0.5 0.5 -0.5 -1 1 0.5 0.5 -1 0.5 1.5 0.5 -1 0.5" stroke="#f00000"/>
<path d="M295.5 105l-1 -0.5 0 1.5 -1 0 -1 -1 0 0.5 0.5 1 1 0 0 0 -1 -1.5 0.5 0 0 0 1.5 0 0 0.5 0 -0.5 -0.5 -1 -0.5 -1.5 1 -0.5 -1 0 0 1.5 2.5 1.5 0.5 -1.5 0 0.5 0 0 0 2 -1 0 0.5 -1.5 0.5 0.5 -1 1 0 0 -1 1 1 -1 0 0.5 -1 0 -1 0 -0.5 -0.5 0.5 -0.5 0 0 -1 0.5 0.5 0.5 1.5 -1" stroke="#f00000"/>
<path d="M294 101l1.5 0 1 1.5 -0.5 0 -0.5 1.5 -1.5 -0.5 -1 1 -1.5 -2 1.5 1 0.5 -0.5 2.5 -1 0 1 0 -1 0.5 -0.5 0 0.5 -0.5 0 0 0 0.5 -0.5 -1 1 1 -0.5 -0.5 0.5 0.5 1 -3 0 0.5 1 0 0.5 1 0 -0.5 -0.5 -1 -0.5 -1 -2 1 -1 1 0.5 -2 0.5 -1 1.5 0 -0.5 0 0.5 0.5 0.5 0 0 -0.5 0 0.5 0 1 1 0.5 0" stroke="#f00000"/>
<path d="M293.5 103l0 1 0 -1.5 0.5 -1.5 -1 1 -1.5 -0.5 0.5 -1 -0.5 0.5 -0.5 0.5 0.5 -1 0 0 1 1 -1.5 0.5 0 0.5 1 -1 0.5 0.5 0 0.5 1.5 0 0 0 0 1 0.5 -0.5 -0.5 0.5 -2.5 0.5 -0.5 1 0 0 -0.5 -0.5 0.5 -0.5 0.5 -0.5 0 -0.5 0 0.5 1 0.5 -3 0 1 1 1 0.5 -0.5 -0.5 0.5 0.5 -1 -0.5 0 0 -0.5 -0.5 0.5 -0.5 1 1.5" stroke="#f00000"/>
<path d="M94 146.5l1.5 0.5 -0.5 1.5 1 -0.5 0 0 1.5 -1 0 0.5 0 -1 -1 1 0.5 0.5 0 -0.5 0.5 -0.5 -0.5 -0.5 0 1.5 0 -0.5 0 0 -1.5 -0.5 1.5 0.5 -0.5 0.5 0 -1 -1 1 1 -0.5 0 -0.5 0.5 0 0 -0.5 0 -1 0.5 0 -0.5 0 0.5 0 -1.5 1 -1 -1 1.5 0 0.5 2.5 0.5 0 -1.5 0.5 0.5 1 0.5 -1.5 0 -1 0 -0.5 0.5 1 -1 -0.5 -0.5 0.5 1.5 -1 0 -2 -0.5 0 -0.5 0.5 0.5 1 0.5 0 0 0 -0.5 0 0 1 1 0 -1.5 -1.5 0.5 -1 0 1 -0.5 -2 0 1 0 -0.5 0 1 0 1 -1 -0.5 0.5 -1.5 0 -0.5 -1 0.5 0 0.5 -0.5 0" stroke="#f00000"/>
<path d="M96.5 147l0 0 -1.5 0.5 0 -1 0 -0.5 0.5 -0.5 0.5 0 0 -2 -0.5 0 1 -0.5 -0.5 0 1.5 0.5 -1 1.5 1 -1.5 0.5 0 0.5 1 -1 -0.5 0.5 -1.5 0 1.5 -0.5 0.5 1 1 -0.5 0 -1 0 -0.5 -0.5 0.5 -0.5 0.5 -0.5 -0.5 0.5 -1.5 0.5 1 1 0 0.5 0 -1 -0.5 -1 -0.5 -0.5 -2.5 -1 1 0.5 0.5 0.5 0 0 2.5 -0.5 0.5 0 0 0 -0.5 -1 0 0 -0.5 0.5 0 0 -0.5 1 0 0 -0.5 -1 -1.5 0.5 0 1.5 1.5 -0.5 0.5 -2 -1 0.5 0.5 -0.5 -1 -0.5 2.5 1.5 0.5 -0.5 -1 0 0 1 2 -0.5 -0.5 1 0 0.5 0 1 0.5 1 -0.5 0 1.5 -0.5 -0.5 0" stroke="#f00000"/>
<path d="M98.5 148l1 -1.5 1 0.5 0.5 0 -0.5 -0.5 1 -1 0 0 -2 1 0 0.5 0 -0.5 1 0 -1 0.5 0 -0.5 0 -2 0.5 2.5 1 0 0 -2 -2 2 1 1 1.5 -1 0 1 0.5 0 0 -0.5 -0.5 -0.5 0 0.5 -1 -1 0.5 -1 -0.5 0 -0.5 -0.5 0 0.5 0 0 0.5 0 -1 0 0.5 2 -1 0.5 1.5 1 0 0 1.5 -1 -0.5 1.5 -1.5 0 0.5 -0.5 -0.5 -1 0.5 1 0 -1.5 -1.5 1 1 1 0.5 1.5 0 0.5 0 0 0.5 -1.5 0 0.5 -1.5 -1 1 1.5 0 -0.5 0 0 -1 1 -0.5 -1 0.5 -3 0.5 0 0 -0.5 0.5 1 1 0 0.5 -1 -0.5 0 -1 1 -0.5 -1.5" stroke="#f00000"/>
<path d="M99.5 147.5l0.5 0 -1 -0.5 -1 0.5 0.5 0 -0.5 0.5 1 0.5 -0.5 -1.5 0 1.5 -0.5 -1 -1 0 0 -0.5 -1 1.5 0 0.5 0 0.5 0 -0.5 0.5 0 2.5 0 1 -1 1 -1.5 -0.5 -1 -1 0.5 1.5 0 0 1 1 0 -1 1 0 1.5 -0.5 0 0 -0.5 1 -0.5 -0.5 -0.5 -0.5 0.5 1.5 -1 -0.5 -0.5 0.5 -0.5 0.5 -0.5 -1 0.5 0.5 -0.5 -0.5 1 0.5 0.5 -0.5 -0.5 0 0 0 0 0 -0.5 -0.5 1 1 -1.5 -2 -2.5 0.5 1 1 -1 -0.5 0.5 0.5 0.5 0 0.5 1 1 -0.5 0 -0.5 -0.5 -0.5 -0.5 0 -0.5 -0.5 0.5 -1 0.5 0.5 1.5 0 0 -0.5 0.5 -1 1 -1 1 0.5 -1.5 0 0.5" stroke="#f00000"/>
<path d="M100 144.5l0 -1 0.5 1 -0.5 -0.5 0.5 -1 1 -0.5 -1 1 1 -0.5 0.5 0.5 -0.5 0.5 0 1 -1 1 -1 0 0.5 0 1.5 0 0 0 1 0 -1.5 0 0.5 -1.5 -1.5 -1.5 -1 -1 0 -1 -0.5 -0.5 0.5 1.5 -0.5 0.5 0 -0.5 -1 -0.5 0 0.5 1 -1 0 2 0.5 0 0 0 0.5 1.5 1 0 0.5 1 -0.5 -0.5 0.5 1.5 0.5 0.5 0 0 1 -1 0 0 -0.5 -0.5 0.5 0 0.5 -0.5 -0.5 -0.5 -2.5 -1 0 1 0.5 0.5 1 2 1.5 -0.5 -1 0.5 0.5 -1 -1 0.5 1.5 0.5 -0.5 -0.5 -0.5 0.5 0.5 -1 -1 -1 0 1 -0.5 0 0 1 -0.5 0 -0.5 0.5 0 -1 -0.5 1 -1 0" stroke="#f00000"/>
<path d="M101.5 143l-0.5 2 0.5 -0.5 -1.5 1 0.5 -1 1 -0.5 1 -1.5 0 -0.5 1 0 -0.5 1 -0.5 0.5 0 -0.5 0 0.5 1.5 0 0 0 0 0 -0.5 1 -0.5 1 0 1 -0.5 -1.5 0.5 0 -0.5 1.5 -0.5 -0.5 0.5 0.5 -1 0.5 -1.5 -0.5 0.5 0 0.5 0.5 0.5 -0.5 -1 0 -2 0 0.5 -0.5 1 1 -1 -1 2 -0.5 0 0.5 0 -1.5 0.5 -1.5 0 0.5 0.5 0 0.5 -1 0 0.5 -0.5 0 -0.5 -0.5 -1 0.5 -1 -1 -1.5 1 0.5 0 -0.5 -0.5 0 0.5 -0.5 -0.5 0 1 -0.5 -2 0.5 0.5 0.5 0 1 -2 -1 0.5 1 0 -1 1.5 -0.5 0.5 0 -1.5 0.5 0 0.5 0 0 -0.5 1.5 -0.5 -0.5 0" stroke="#f00000"/>
<path d="M101 148.5l1.5 -2.5 -1 -0.5 0 -0.5 -1 -0.5 1 0 -0.5 -1 -0.5 1 1.5 0.5 -1.5 -0.5 1 -0.5 0.5 0 1 0 0 1 0.5 0 0 1 0.5 1 1 -1 -1 1 -1 -0.5 0.5 0.5 -0.5 -0.5 2 1 -0.5 -1 0.5 0 -0.5 1 0 1.5 -1 -0.5 0.5 1 -0.5 0.5 -1.5 0 0 -0.5 -1.5 0.5 -1 0.5 1.5 0 1.5 1 0 -0.5 -0.5 -0.5 0 0 -0.5 0.5 0 -0.5 0 -0.5 0.5 1 -1 -0.5 1 0.5 -1 0.5 0.5 -1 0.5 0.5 -0.5 -0.5 -1 1 0 -1 0 0.5 0 0 1 0.5 0 -1 0 0.5 0.5 0.5 -1.5 0 -1 -1 1 0.5 1 0 -0.5 0 1 -0.5 0 0 0 0.5 -0.5 0" stroke="#f00000"/>
<path d="M96 148.5l0.5 -0.5 -1.5 2.5 -1 1 -1.5 -3 0.5 1 0 1 0.5 -1 0 0.5 -0.5 0.5 -1 -0.5 1.5 0.5 0 0.5 0.5 0 -1 -0.5 -0.5 -1 0 0.5 0.5 1 0.5 0 -1 -1.5 0.5 0.5 0.5 0 0 0.5 0 0 0 -0.5 1 1 -1 -1 0 -0.5 0 -2 0.5 -0.5 0 -0.5 0 -1.5 0.5 -1 0 0.5 0.5 1 0 -0.5 1.5 0.5 -0.5 1 -0.5 -1 0 1.5 0 0.5 -1 0.5 2 1 -0.5 -1.5 0.5 -1 0.5 1 0 0.5 -1 0.5 0.5 -0.5 0 1.5 1 -1 1 -2 -1.5 -1.5 -0.5 1.5 -0.5 -1.5 1 -0.5 -0.5 0.5 -0.5 0 0 -1 0 1 0 -0.5 2 0.5 0.5 1 -1 -0.5 -0.5 -0.5 1.5 0.5" stroke="#f00000"/>
<path d="M92 144l1.5 -1.5 -0.5 -0.5 0.5 -0.5 1 0.5 0 0 -0.5 1 0 0 0.5 0 0 1 0.5 0.5 1.5 0 -2 0 0 0.5 -0.5 -1 -1 0 0 1.5 -0.5 1 0 -0.5 -1 0.5 -0.5 -1 0 -1 -0.5 -1.5 0.5 0.5 0 -1 0 0 0 0 -0.5 2 0 0 -0.5 -0.5 0.5 0.5 -0.5 0.5 0.5 -0.5 2 0 1 0 0 0 0 -1.5 0 1 1.5 0.5 0.5 0 2 -0.5 -0.5 0.5 0 0 0 0 -2 -0.5 0.5 0 0 -1 1.5 0.5 0.5 0 0 -0.5 -0.5 0.5 -0.5 -0.5 0 1.5 -0.5 1 -0.5 -0.5 2 -0.5 0 0 -0.5 -1 0 0.5 0 0 0.5 0 -2 0 0 -0.5 1 -0.5 -1 -0.5 0.5 -0.5" stroke="#f00000"/>
<path d="M180 147l1 0.5 -0.5 1 1.5 0.5 0 -0.5 0 0 0 -1.5 -0.5 0.5 0.5 0 -0.5 0 0.5 0.5 0 -2 0 1.5 -0.5 -0.5 -1 -0.5 0.5 0 1 1 -0.5 -2 0.5 -0.5 -1 -1 -0.5 0 -0.5 0 -0.5 1 0 -1 1.5 1 0.5 0.5 1.5 2 -1 1 0 0 0 -0.5 -1 1.5 1 -0.5 -0.5 -0.5 -1 0 -1 -1 0 -0.5 1 0.5 0.5 1.5 -2 -1.5 0.5 0.5 -1.5 0 -1 -1.5 -0.5 1.5 0 0 1 1 -0.5 0.5 1 0.5 -0.5 -1 -1 -0.5 0 0 0 -0.5 0.5 0.5 2 -1.5 0 0.5 1.5 0.5 0.5 -1.5 1 -0.5 -0.5 0 -0.5 0.5" stroke="#f00000"/>
<path d="M179.5 146l1 2.5 0.5 -1.5 -0.5 0 -0.5 0.5 -1.5 1.5 1 0 2.5 -0.5 0 -2 0 1.5 0 0.5 -1 1 -1 -2 -0.5 0.5 1 0.5 -1 -1.5 -1 -1 -0.5 0 0 0.5 -1 -0.5 -0.5 1 -0.5 0.5 0.5 0 0 0 1 0.5 -0.5 1 0.5 0.5 0 -0.5 0.5 0 0.5 -1 -2 -1 0 0.5 0 0 1 -0.5 0 -0.5 1.5 2.5 0.5 -1 -1 0.5 -0.5 -2 -1 0 0 -1.5 1.5 1 -1 -1.5 -0.5 -0.5 0 1 0.5 0 -1 1 0 1 0.5 0.5 -0.5 -1 0 2 0.5 0 -0.5 -0.5 0.5 -1.5 0 0 0 0 -0.5 0.5 1 0.5 -0.5 -1" stroke="#f00000"/>
<path d="M175 146l-0.5 1.5 -1 0 -0.5 -0.5 1 -1 1 -1.5 0 -0.5 0 1.5 -0.5 -0.5 0 1 1 1 -0.5 -2 0.5 -0.5 0 1 0.5 -2 1 0 0 0 -1.5 -0.5 0 0.5 0 2 0 -0.5 1.5 0 1 1.5 -1 -1 0 0 -0.5 -0.5 -1 -1 0.5 0 1 -1 0 1.5 -0.5 0 -0.5 -2 -0.5 0.5 0 2 -1.5 1.5 1 -1 1 -1 0.5 -1 0 1 -1.5 -0.5 1 -0.5 0 1 -0.5 -1.5 1.5 0 0 1.5 -0.5 1 -0.5 0.5 -1 -1 0 2 1.5 -1.5 -1 0.5 0 -0.5 1 -0.5 -1.5 0.5 1.5 -0.5 1 0.5 1.5 1 0.5 0 -1.5 -1" stroke="#f00000"/>
<path d="M172.5 144l-1 1 1 0 1.5 0 -0.5 -0.5 -0.5 -0.5 -1.5 1 0 0 0 -0.5 1 -0.5 0.5 1 -1.5 -0.5 -0.5 -0.5 2 1 0.5 -0.5 -0.5 -0.5 0 -1 -1.5 1 0.5 0.5 0 1 -1 0.5 0.5 0 0 1 -1 -1 0 0 -1 0 0.5 0.5 -0.5 0 0 0 0 0 0 -1.5 0 -0.5 -0.5 0.5 1 -1.5 0 -0.5 0.5 0.5 0.5 0 0 -1.5 0.5 0 1 -1 1 0.5 0 0 -1 1.5 1 0 0 -0.5 -1 -1 -1 0 0 0 0 0 0.5 1 0.5 0.5 -1 0.5 1 -1.5 1 0 -1 0.5 1 -0.5 1 0 0.5 1.5 0.5 0.5" stroke="#f00000"/>
<path d="M177 143.5l0.5 -0.5 -1 1.5 1 -0.5 -0.5 0 0 0 0.5 0.5 -0.5 0 0.5 0.5 -0.5 -2 -0.5 0.5 0 0.5 -1 0 1 -1 0.5 -0.5 -1 0.5 0 -1 1 -2 -0.5 1.5 -1 1 1 0.5 -1 3 0.5 0.5 0 -0.5 -0.5 -0.5 1.5 1.5 0.5 -0.5 1 0 -1.5 -0.5 -1 1 0 -1 0.5 -1 0.5 0.5 -2 -0.5 0 -1.5 0 1 -1 -1.5 1 1 1 0.5 0 1.5 -0.5 -1 0.5 0.5 -0.5 0 0 -0.5 -0.5 1 0.5 -0.5 -0.5 0.5 0.5 -1 0.5 0.5 1 1 0 0.5 -0.5 -0.5 -0.5 -0.5 1 0.5 1.5 -1.5 1.5 0.5 0 -0.5 0 0.5 -0.5 0.5" stroke="#f00000"/>
<path d="M177.5 143.5l0 -0.5 -1 -2.5 0 -0.5 0.5 0.5 1 -1 0.5 0 -0.5 1 -0.5 -1 0 0.5 0 0 -1 0.5 -0.5 0 0.5 0 1.5 0.5 1 -1 -1 0 -0.5 0 0 0 -0.5 0.5 -1 1 1.5 -0.5 0.5 1 2.5 1 -2 -1 0 0.5 -0.5 0 0.5 -0.5 0.5 1.5 2.5 0 0 0.5 -0.5 -1 1 -0.5 -1 -0.5 -1 0 1 0 0 0 1 0 0 -0.5 -1 -0.5 1.5 0 -1 0 -1 -1.5 0 0.5 -1.5 -0.5 -0.5 0 0 0 0 1.5 1.5 0.5 -1 -1.5 -0.5 -1 -1 0 -0.5 1.5 0.5 1 -1 1 -0.5 -2.5 -0.5 1 0 1.5 0.5 1" stroke="#f00000"/>
<path d="M176 142.5l0 -1.5 0 -0.5 0 -1 0.5 1.5 0.5 -1 0.5 1.5 -1.5 -0.5 1.5 0.5 -0.5 0.5 -0.5 1 0 -1 -1.5 0 0.5 -1 0.5 0.5 0 -0.5 -0.5 -0.5 1.5 -1 0.5 -0.5 -1 -0.5 0.5 0.5 -0.5 0 0.5 0 0.5 0 1 0 1.5 0 -1 0 0.5 0.5 0.5 0 -1 -0.5 -0.5 -0.5 1.5 1 -1.5 -0.5 1 0.5 -0.5 -0.5 -1 -0.5 -1 0 0.5 0.5 2 0 -0.5 0.5 0 -0.5 0 0 -1.5 0 -0.5 0.5 0.5 -0.5 -0.5 1 -0.5 1 1 0 0 0 -2 1 -0.5 1 1.5 0.5 -2 0 0 -0.5 0.5 0.5 0 1 0 -1 0.5 0 1.5 0.5" stroke="#f00000"/>
<path d="M177.5 144.5l-1 0.5 0 -1 1 0 -1 -1 0.5 0 -1 0.5 0.5 1 0.5 -1.5 -1.5 0 1 0 0 -1 0 -1 -0.5 1 0 0.5 0.5 0 -0.5 1 1.5 0 0 -1.5 1 1 0.5 1.5 1 0 0.5 1 -1 0.5 -1.5 0.5 0 0 0 -2 -0.5 -1 1 0.5 -1 -1.5 0 0 1 3.5 -1 0.5 -0.5 -1.5 0.5 0.5 -1 -1.5 1 1 -0.5 2 0 -0.5 1 -2 1 -0.5 0.5 -0.5 0 0.5 0 0.5 -1 0 -1.5 1 1 -2 -1 -1 0 1 0.5 1 0.5 0 0.5 -2 -0.5 -0.5 -1 -0.5 0 0 -1 0.5 1.5 0.5 0 0 0 -0.5" stroke="#f00000"/>
<path d="M255 147l0.5 -0.5 1 2 -0.5 0 -0.5 0.5 0 -0.5 1.5 -1.5 0.5 -1.5 0.5 0.5 -1 -1 1.5 1 1 1.5 0 0 -1 -1.5 0 0 -0.5 0 1 1.5 -0.5 1 0.5 0.5 0.5 -0.5 -0.5 0.5 0 -1 -0.5 0 0 0.5 -1 0 1 -2 0 -1 -1 0.5 1 0 -0.5 0 0.5 -0.5 -1.5 0 0 1 0 0.5 0 0 1.5 0.5 0 0 0.5 -0.5 0.5 0.5 -1 1.5 0 0 0 -1 -1.5 -2 -1.5 1 -1 0 -2 0 0 -1 0.5 -1.5 1 1 -0.5 1.5 0 0 0 0 -1 0 0 -1.5 0 0.5 0.5 -0.5 1 -0.5 -1 -0.5 0 0 0 1.5 -1 1 1 -1 -0.5 0.5 0 0 1 0.5 0 -1" stroke="#f00000"/>
<path d="M257.5 144.5l0 0 -0.5 0 1.5 1 -0.5 0 0.5 0.5 1 -0.5 1 1 0.5 -0.5 0 0 -0.5 1.5 1 -1.5 -1 1 0 -0.5 0.5 -0.5 0 0 0 0 -3 0 0 -0.5 -1 -0.5 0.5 0.5 0 0.5 0 0 0.5 -1 0 1 -1.5 -0.5 1 -0.5 -1 0.5 0 0 0.5 1 -1 -1.5 -0.5 -2 0 0 0 -1 0 0.5 0.5 0.5 -0.5 -0.5 -0.5 0.5 1.5 0 0 1 0.5 -1 -0.5 0 0 -0.5 -1 -0.5 -1 1.5 0.5 0.5 -0.5 -0.5 0.5 1.5 0 0.5 -1 -1 0.5 -1 0.5 0 0 -1 -0.5 1 0.5 -0.5 0 0 1.5 0 0 -1 -1 0 1 -1 0 0.5 -0.5 0.5 0 1 -0.5 1 0.5 -0.5 1 -0.5" stroke="#f00000"/>
<path d="M259.5 146.5l0 0 1 1 0 1 0 -1.5 0.5 0.5 -0.5 0 -1 2 0 1 -1 -0.5 0 -0.5 1 1 -1 -1 1.5 -0.5 -0.5 0.5 1 -0.5 -1 -0.5 0.5 -1 -0.5 -1.5 0 -3 0.5 0 -0.5 0 -1 0.5 -1.5 0.5 0.5 0.5 -0.5 0 0.5 0 0.5 -1 -0.5 0.5 -1 0 0 -0.5 0.5 0.5 0.5 1 1.5 0.5 -0.5 -0.5 0 0.5 0 -1.5 0 -0.5 -0.5 0 -1 0.5 0 0 0.5 -1.5 1 1 0.5 0 -1 1 0 -1.5 0 1 0.5 -0.5 -0.5 1 -0.5 0.5 0.5 -0.5 -0.5 0.5 0 -0.5 -1 0.5 1 1 -1.5 0 -1 0.5 2 0.5 1 1 1 0 -1 -0.5 3 0 0 1 -1.5 0.5 0.5 -0.5 0.5 -1" stroke="#f00000"/>
<path d="M257.5 142l1.5 -1 0.5 0 -0.5 0 0 -1 0 0.5 -0.5 0 1 0.5 0.5 -1 -0.5 0.5 -1 -1.5 -0.5 0.5 1 -1 -0.5 1 -0.5 2 -0.5 1 2 -0.5 -0.5 1 -0.5 0.5 0.5 -1 -1.5 0.5 1.5 0 -1.5 0 -0.5 0.5 0 0.5 -0.5 0.5 -0.5 0 0.5 -1 0 -1 1 -0.5 0.5 0.5 -1 1.5 1 -2 -0.5 -0.5 -1 0.5 0 0 -0.5 0 0.5 1 1 -0.5 -0.5 0.5 1 1 0.5 -1 -1.5 -1 -0.5 -1 -1 -0.5 0.5 -1 0.5 -1 -1.5 0 0 -1 0.5 0.5 -0.5 -0.5 -0.5 1 0 0.5 -1 2 0.5 1 -0.5 -1 1.5 0 0.5 -0.5 1 1 -1 0.5 -1 1 -1 0 1 -1.5 0.5 0 -1.5 0.5 -0.5 1.5" stroke="#f00000"/>
<path d="M252 146l-1.5 -0.5 -0.5 0.5 0.5 -1 0.5 -1.5 -1 2.5 1 -1 0.5 0.5 1 -0.5 1 -1 0 -1 -0.5 1 -1 1 -0.5 -1 -0.5 -0.5 -1.5 0 0 -0.5 1.5 0 0.5 0.5 0.5 -1 0.5 0 -0.5 0 -1.5 0 1.5 0.5 -0.5 -0.5 -1 0.5 0 0 -1.5 0.5 1 0 0 0.5 0 2 0 0.5 0 1.5 -0.5 0.5 0 -0.5 -0.5 -1 0.5 -1 -0.5 1 0.5 0 0 -1 0 -0.5 0 1 -0.5 -1 0 2.5 0 -1 0.5 0.5 -1.5 -0.5 0 -0.5 1 0 0 0 1.5 -0.5 0.5 0 0.5 0.5 0 1.5 -1 1 0 0 0.5 -2 0 -0.5 0 1 -1.5 0 -0.5 0 1.5 0.5 -0.5 1 0 -1 -0.5 -0.5 -0.5 -1.5" stroke="#f00000"/>
<path d="M256.5 147.5l-0.5 -0.5 1 -0.5 -1 1 0 -1 -1 -1 1.5 1 0 0 -1 -1 1 0.5 0 0 1 0 0.5 -0.5 -1.5 -0.5 1 1.5 -1.5 -1 -0.5 1 -0.5 0 1.5 -1 0 0.5 1.5 -0.5 -0.5 1.5 0.5 0 0 0 1 0.5 0 0.5 0 -0.5 -0.5 0.5 0 -0.5 0.5 0 -0.5 2 0.5 0.5 -0.5 0 -1.5 -0.5 -0.5 0.5 1.5 0 -0.5 0 0.5 1 1.5 -1.5 -0.5 0 0 0 0 -1 0 0.5 0 0.5 -1.5 -0.5 -1.5 0.5 0.5 0.5 0 -1.5 0.5 1.5 -1.5 0 0 -1 1 1.5 -0.5 -1 0 0 0.5 0 -1 -1 0 1.5 0 0.5 0 -0.5 -0.5 -0.5 1.5 1.5 -0.5 0.5 0.5 0 -0.5 0 0.5 0 1 0" stroke="#f00000"/>
<path d="M254.5 141.5l-0.5 2.5 -1 -0.5 0 0.5 1 -0.5 1 1.5 -1 -1 -0.5 -1 1 1 -1 0.5 0.5 -0.5 0 -1 -1 0.5 0.5 1.5 -0.5 0.5 0 -0.5 1.5 -0.5 1.5 -1 -1 0 0 1 -0.5 0.5 -0.5 -0.5 -1 0.5 -1 -1 2.5 -0.5 -1 -1 0 1 -1.5 0 1 1 -1 0 1.5 0.5 -0.5 0.5 0.5 -2 -0.5 1.5 0.5 -1 1.5 1.5 1.5 -1 -0.5 1 -0.5 -0.5 0 -0.5 1.5 0 -1.5 -1 1 0 -1.5 -0.5 -0.5 0 -0.5 -0.5 0.5 1.5 1.5 -2.5 1.5 0.5 -0.5 0.5 0 -0.5 0 2 1 -1.5 -1.5 1.5 0.5 0.5 1 -1.5 0 -0.5 0 1 -0.5 0 -1 2 0 -0.5 -1.5 1 0.5 -0.5 -1 -0.5 -0.5 0.5 0 0.5" stroke="#f00000"/>
<path d="M257 145l0 -1 0.5 -2 0 1.5 -1.5 -1 1.5 0 -1.5 0 -0.5 -1 1.5 1 0.5 -0.5 0 0 -1.5 1 0.5 -1 0 0.5 -0.5 -0.5 -1 1 0.5 -1 0.5 -0.5 0.5 0 -0.5 0 1 0.5 -0.5 -1 2.5 1 0 1 0 0.5 1 0 -1 1 1 0.5 -0.5 -1 -1 2.5 0 -0.5 0 0 -2 0.5 1.5 -0.5 0.5 -0.5 -0.5 0 0.5 -1.5 0.5 0.5 0 0 0.5 0.5 -0.5 -1.5 -0.5 -1 0.5 0.5 0 -0.5 -2 -0.5 -1 0.5 0 0.5 0 -0.5 1.5 0 -0.5 0 0 -1 1 -0.5 0 0.5 0 0.5 0 0 -0.5 1 1.5 0.5 -1 -1 -0.5 0 -0.5 -1 1 0.5 -1.5 0.5 0.5 0.5 1.5 -0.5 0.5 -0.5 0 1" stroke="#f00000"/>
<path d="M258 146l0 0 0 0.5 0 0 0 -1 0.5 -0.5 -0.5 1.5 -1.5 -0.5 1 0 -0.5 -1 2 -0.5 0.5 2 -1.5 1 0 1.5 -0.5 -1.5 0 0.5 0 0 1.5 2 -0.5 0 1 -0.5 -1 -1 1.5 0 -1 -0.5 -1 0 0 0 -0.5 -1.5 1.5 1 -1.5 -2 0 0.5 -0.5 0 0.5 1 -1 1 0 0 0.5 0 1.5 -0.5 0 -1 1 1.5 0 -0.5 0 0.5 -1 0 2.5 0 -1 0 1 0 1 -0.5 -0.5 -0.5 -1 0 -2 -2 0.5 0.5 0 0.5 -1.5 0.5 0.5 0 0 -0.5 -1 -0.5 1 0 -0.5 0.5 0 -1.5 1 1 -0.5 0 -0.5 0 2.5 0 0 -1.5 -1.5 0 0.5 1.5 -0.5 -1 1.5 -0.5 1 0" stroke="#f00000"/>
<path d="M61.5 182l0 -1 -2 1 1 -0.5 0 0.5 0 -0.5 0.5 1.5 -0.5 -1 0 -1 0 1 -2 0.5 1.5 -0.5 -2 -1 1 -0.5 -1 0.5 2 -1 0.5 0 0.5 0 0.5 0.5 -0.5 -0.5 0 0 -1 1 0.5 0 -0.5 0 -1 -0.5 0 0 1 0.5 -1 0.5 0.5 -1 -1 0.5 -0.5 0 0 0.5 0.5 1 1 -1.5 -1 1.5 -1 -0.5 0.5 0 0 0.5 0 0 0 -0.5 1.5 -0.5" stroke="#f00000"/>
<path d="M61.5 186l1 0 -0.5 -0.5 -1 0 0.5 0 0 -1 0.5 1 -1.5 0 0 -0.5 -0.5 0 0 0 -1 1.5 1 0 1.5 1 -0.5 -2 -0.5 -1 -1 -0.5 0 0 1 0.5 0 0.5 -1 0.5 2 0.5 -0.5 0.5 0 -1.5 1 0 0 -1.5 0 -1 -1.5 0 0 0 -0.5 0 0 0 1.5 0.5 0 -0.5 0 -0.5 0.5 0.5 0.5 0 0 0 1 0.5 0.5 1 -0.5 -1 -0.5 0" stroke="#f00000"/>
<path d="M61.5 181l0.5 0.5 0.5 -0.5 0 -0.5 0.5 -0.5 -1 -0.5 0 2.5 0.5 -0.5 -1.5 0 1 0 0.5 0 0 0.5 0 -0.5 0.5 0.5 -1.5 0.5 0.5 0 0 0 0.5 -0.5 -0.5 -0.5 1 0.5 -1 0 -1 -1 0.5 -0.5 -1 0 -2 1 -0.5 -0.5 1 -1 -0.5 1 -0.5 0 0.5 0.5 0.5 0 0.5 -2 -1.5 2 1 0.5 0 1 0 0 0.5 -1 -1 0 1 -0.5 -0.5 0 -1 -0.5" stroke="#f00000"/>
<path d="M60.5 183l0 -1 0.5 0.5 0 -0.5 -0.5 1 0 -0.5 0.5 1 -0.5 1 -1.5 -0.5 0.5 0.5 -1 -1 0 0.5 0 -0.5 0.5 0 0.5 0.5 -0.5 0 0 0 1 0.5 -1.5 -0.5 0 -0.5 -0.5 -1 1 0.5 -1 -1.5 -0.5 -0.5 0.5 0 0 0 0 1 0.5 0.5 0.5 2 -0.5 -1 -0.5 0 -0.5 -1 0.5 0.5 0 0 0.5 -0.5 2 -0.5 0 -0.5 0.5 0 0 0 -0.5 -2 -1 0.5" stroke="#f00000"/>
<path d="M64 182l-1.5 0.5 1 0 0 -2 0.5 0 0 1 -0.5 1.5 -0.5 0.5 1.5 -2.5 0.5 0 0.5 1 0 0.5 -0.5 -0.5 0 1 -2 0.5 0.5 -2 1.5 -0.5 -0.5 0 1 0 -0.5 0 -1 0 -3 0.5 0.5 -0.5 0.5 0 1 -0.5 0 0.5 -0.5 -0.5 1 1.5 0 -1 0 0 -0.5 1 1 1.5 1 1 0 -0.5 -0.5 -0.5 -1 0.5 -0.5 -0.5 0 -0.5 0 0 -0.5 -0.5 0.5 1.5" stroke="#f00000"/>
<path d="M63 182.5l0.5 -1.5 -1 0 -0.5 -0.5 0 -1 -0.5 0.5 0 -0.5 0 1 -0.5 0.5 -0.5 0.5 0.5 0.5 0.5 -0.5 1.5 -2 0 0 0.5 0 0 -0.5 1 1.5 -0.5 -1 -1 0 -0.5 0.5 2.5 1 1 0.5 -0.5 0.5 0 -0.5 0 0 0 0 0 -0.5 -1.5 -1 0.5 -0.5 -0.5 -0.5 0 0.5 0.5 1 0.5 1 0 0.5 -0.5 1 -1.5 1.5 -1 -1 -1 0.5 0.5 -0.5 0 -0.5 0 -0.5" stroke="#f00000"/>
<path d="M140.5 187.5l0.5 -0.5 -1.5 0.5 -0.5 0.5 -1 -1 0 0 1 0.5 -1 0.5 -0.5 0.5 0.5 -1 -0.5 0 0.5 0.5 0.5 1 0 1.5 1 -2 1 1 -1.5 1 -1 0 0 0 0 0.5 0.5 -0.5 -0.5 0 0 0 -0.5 -1.5 0 0.5 1 1 0.5 -0.5 0 -0.5 0 0 -0.5 -2 1.5 0.5 -1 -0.5 1.5 -1.5 0.5 0 0 0 -1 2 0.5 1.5 0.5 0 2 -1 0.5 0 -0.5 1 -0.5 -0.5 -1 -1 -1 0 -0.5 0.5 -0.5 -0.5 0 -1.5 -0.5 0 -0.5 0 -1.5 1 1.5 -0.5 -1.5 -1 1 -0.5 0 0.5 1.5 0.5 -0.5 0 0 1 1 0 -0.5 1 2 0.5 0 -0.5 0 -0.5 0.5 -0.5 0.5 1 0.5 0.5 0 -2" stroke="#f00000"/>
<path d="M138.5 185l0.5 -1 -1 1 -1 -1.5 -1 1 2 0 0.5 0 0 -1.5 -0.5 0 -0.5 0.5 1 0 -0.5 1 0.5 0.5 0.5 0 -1 0 1.5 0.5 -2 -1.5 -1.5 1 0 -0.5 1 1 -1.5 -2 1 0 1 -2 0 1.5 -1.5 -1 -1 0.5 -1.5 1.5 1 -1.5 1 -2 -0.5 1.5 0.5 0.5 0 1.5 0 2 1.5 0 0 0.5 -1 0.5 0.5 0 0 -0.5 2.5 -1 1 0.5 -1 -1 -1 0 1 0 0 -1 -1.5 0.5 1.5 0 1 0 0 1 0 -1.5 0 1.5 -0.5 -1 0.5 0 -0.5 1 1 -1.5 0 -0.5 -1 -0.5 1 0.5 0 1.5 0 0 0 -1.5 -0.5 0 0.5 1.5 0 0.5 0 0.5 -1.5 -1 -0.5 -1.5" stroke="#f00000"/>
<path d="M138.5 185.5l1 -1 -1.5 0 0 0 0 -1.5 1 0.5 0 1 -1.5 -1.5 0 0.5 0 0.5 -1.5 0.5 0 -1 0.5 -0.5 0.5 -1 0 0.5 0 -1 -0.5 0 -0.5 0 1.5 -1 0 1 -0.5 -0.5 -1 0.5 1 0 -0.5 0 0 1 -0.5 1 1 0.5 0 -0.5 0 0 -1 1.5 1.5 0 0.5 -0.5 0 0.5 1.5 0.5 -1.5 1 0 1 0 -0.5 -1 0.5 0 -0.5 -0.5 -0.5 0.5 0 -1.5 -1 -0.5 0.5 1 0 -1 -0.5 2 -1.5 0 -1 0.5 0 1.5 -2 -1 1 -0.5 0.5 0 -1 -0.5 0 0.5 1 1.5 -1.5 1.5 -0.5 -0.5 1.5 -1 -0.5 -1.5 -0.5 1 0.5 -1.5 1.5 -0.5 1 0.5 -0.5 0.5 -1 -0.5 1.5 -1 0" stroke="#f00000"/>
<path d="M138.5 187l-0.5 0.5 -1.5 -0.5 -1 0 2.5 0 0.5 0.5 1 -1 -0.5 0.5 -0.5 0 -1 1.5 -0.5 -1 0.5 -0.5 0 -1 -0.5 1 0.5 0.5 0.5 -0.5 -0.5 -1 1 1 0.5 0.5 0 -1 -1.5 0.5 -1 -1 0 0 -1 0 1.5 1 2 0.5 1 -1.5 0 0 0 1 -1 2 0 1 -1.5 0 0.5 -1 -0.5 0 0 0 0.5 0 0 0 -0.5 0.5 -1 2 1 -0.5 -1 -0.5 0 -0.5 -1 -1 0 1 1.5 1 -0.5 0.5 0 -1 -0.5 -0.5 0 0.5 0 -2 -1 0 0.5 -0.5 1.5 -0.5 0 0.5 -1 0.5 0 -1 0 -0.5 0 1 0 1.5 -0.5 -3 0.5 0 2.5 0.5 0 0.5 0.5 0 0.5 0.5 0 1" stroke="#f00000"/>
<path d="M142 183.5l0.5 0 0 0 0 0 0 0.5 1 1 0.5 0 0 0 -1 0.5 0 -2 -0.5 -0.5 0 0 0 -0.5 -0.5 -0.5 -1 0.5 -1.5 2 -1 -1.5 1 0.5 1 1.5 -1 -1 1 -1 0 0 -0.5 -0.5 1.5 1 1 1 0 -0.5 0.5 -0.5 0 -1 1.5 -0.5 -1 0 -0.5 0 -1 -0.5 -0.5 1.5 0 -1 -0.5 0.5 0 -1.5 -1.5 0.5 1 1.5 0.5 1 -1 -1 -1 1 1 0 -1.5 0.5 0.5 0 0 1 0.5 0 -1.5 0.5 1 0 1.5 0 -1 0.5 0.5 -0.5 1.5 0.5 -0.5 -1.5 -0.5 0 1 -1.5 -0.5 0 0 -1.5 0.5 -0.5 0 0.5 -1 -0.5 1 -0.5 0 0.5 0 -0.5 0 1 1 1.5 1 -0.5" stroke="#f00000"/>
<path d="M141.5 185l-0.5 -1 -1 0.5 3 0 -0.5 1.5 0.5 1.5 0 0.5 -0.5 -0.5 0 -1.5 -1.5 1.5 0 0.5 1 0 0 -0.5 1 -0.5 -0.5 0.5 -1 -1 2 -1.5 -0.5 -0.5 0.5 -1 0 0 -1 0 0.5 1 0 1.5 -1.5 2 -1 0 -0.5 -0.5 0 -2.5 0.5 0 0 1.5 -1 -0.5 -0.5 -0.5 0.5 0 -2.5 -0.5 -0.5 0.5 1 -1 -0.5 1.5 1 1 -0.5 0.5 1 -1.5 1.5 2 2 0.5 -0.5 -0.5 0 -1.5 0 1.5 1 -1.5 0 -0.5 -0.5 -1 0 2 -0.5 0 0 -0.5 -0.5 -2 0 0.5 0.5 0.5 0.5 0.5 -1 -2 2 0 -0.5 -2 0.5 -0.5 0 1 0 0 -0.5 1 -0.5 0.5 -0.5 -1.5 0.5 0.5 0 -0.5 -1 0" stroke="#f00000"/>
<path d="M142 186.5l-1 -1 2 0.5 0 0 1 0 -1.5 -0.5 2 -0.5 -0.5 0.5 0 1 0 0.5 0 -0.5 0.5 0 -1 -1 -1 2 1 0.5 -1 0 0 0.5 0 -0.5 -1.5 -0.5 0.5 1 -0.5 0.5 0 0.5 0 0 -1 -1 -0.5 0.5 0 -1.5 0.5 0.5 1.5 -0.5 -2.5 -0.5 0.5 1.5 0 -0.5 -1.5 -2.5 -0.5 0.5 0 0.5 0.5 -0.5 -0.5 0.5 0.5 0.5 0.5 -1.5 2 0 0.5 1.5 -0.5 -1 1 0 1.5 -1 0 -0.5 1 0 -0.5 0 1 0 -0.5 0.5 0 0 -1.5 0 0.5 -1.5 -0.5 0.5 2 1.5 -0.5 -0.5 -0.5 -0.5 -0.5 -0.5 1 0.5 -1.5 0 0.5 0.5 1 2.5 -0.5 0 0.5 -1 0 0.5 -0.5 1.5 0.5 -1.5 -0.5 -1.5" stroke="#f00000"/>
<path d="M135 186.5l1.5 0 -1.5 0.5 0 1 0.5 -1.5 -0.5 0 1 -0.5 1 0.5 -0.5 -1 -1 -0.5 -1 1.5 -0.5 -0.5 2 0.5 0 -1 0 -1 -1 0 0 0 0 -1 -0.5 0 -1 1 1 0 0 0 -0.5 1.5 -0.5 0.5 1 0.5 0.5 0 -1 -0.5 0.5 0 0.5 0.5 0.5 0.5 0.5 -2 -1 0.5 0.5 -0.5 -0.5 -1 0 0 -0.5 -0.5 0 1 -0.5 0 0 -0.5 -0.5 0 0.5 -1 0.5 0.5 0.5 1 0.5 0.5 1.5 0.5 0 0 -1 -1.5 1.5 0 1 0.5 -0.5 0 0 0.5 0.5 1 -1 1 0.5 0 0 0.5 0.5 0.5 0.5 -0.5 0.5 0 1 0.5 0 -0.5 -0.5 1 -0.5 -0.5 -0.5 -1 -0.5 0.5 0.5 0.5 0 1" stroke="#f00000"/>
<path d="M216 185.5l1 1.5 0.5 -0.5 1 -0.5 0 0 0.5 0 -0.5 0 0 -0.5 -0.5 -1.5 -0.5 0 -1.5 -1.5 0 -1 1 0.5 -1.5 0 0 0.5 0 -1 0.5 0 -0.5 0.5 -0.5 -0.5 1 0 0 0.5 -0.5 -0.5 0 0.5 0.5 1 -1 0 -1 -0.5 0 -0.5 1 -1 -1.5 0.5 -1 0.5 -0.5 1 0 0 -1.5 0.5 1 0.5 0 1.5 -1 0.5 0.5 -1 0 1 0 -1.5 0.5 -0.5 1.5 -0.5 -0.5 -1.5 1.5 0.5 0 0.5 1.5 -0.5 0 -0.5 -0.5 1 -1 -1 0.5 -1 0 1 1 1 1.5 0.5 -0.5 -0.5 0.5 0.5 0 0.5 0 1 0.5 0 0 0 -1 -1.5 0 -0.5 0 0 1 0.5 -0.5 -1 -1.5 -1 1 0.5 -3.5 0.5 1 0.5 1.5 1 0 0 1 0 0.5 -1 -0.5 0 0.5 0 -1 -0.5 -0.5 0.5 -0.5 0 0 0 1.5 1.5 0.5 0.5 0.5 0.5 -0.5 0 2 0" stroke="#f00000"/>
<path d="M216 181.5l-1 0 1 1 -0.5 1 0 -1.5 -2 1.5 0.5 -1.5 0.5 1 1 -1 0.5 0 0 0 -1 0.5 -1 1.5 1 1 1 -1 0 0.5 0 1 0.5 -1 0 -0.5 -0.5 0.5 -1 0.5 -1 0.5 0.5 0 -0.5 -0.5 1.5 0.5 0 0 0 0.5 0 -0.5 1.5 -0.5 1 -2 0 0.5 -0.5 0 -0.5 0 0.5 1 0 1.5 -2 0.5 1 0.5 1 -0.5 0 0 1.5 -0.5 0 -2.5 0.5 0 0.5 -0.5 1.5 1.5 -1 0 -1 -1.5 1.5 -0.5 0.5 1 -1 0 -1.5 -1 0 -1 2.5 -0.5 -1.5 0 -0.5 0.5 1 0 0 -1.5 0 -0.5 -0.5 0.5 -0.5 1 -1 0.5 -1 -0.5 0 -1.5 0 1.5 -1 0 0.5 0 0 -2 1 0 0.5 0.5 0 -0.5 -0.5 0.5 1 -0.5 -1 -0.5 0.5 1 -1 0 -1.5 0 -1 0 1.5 1 -2.5 -0.5 -0.5 1 0 0 0.5 -1 0 1" stroke="#f00000"/>
<path d="M217 188.5l0 1.5 -2 -0.5 0 0 0 -1 0.5 -0.5 -1.5 -0.5 -1 0 0.5 1 -0.5 1 0.5 0 -0.5 0.5 0 -1 -0.5 1.5 0.5 -0.5 0.5 0.5 1 0.5 -1.5 0 0 -1 0 1 -0.5 -2 0.5 0 -0.5 1 0.5 -0.5 0.5 -1 0 1 -1 1 1.5 -1 0.5 0.5 0.5 0.5 -1.5 -1.5 0 0 -1 -0.5 0.5 0.5 1.5 1.5 -1 0 0.5 0 -0.5 1 -0.5 0.5 0.5 0.5 0.5 -1 1.5 1 0 -0.5 1 0 0.5 1 -0.5 0.5 -0.5 0.5 0 -1 0.5 0.5 -1 -0.5 -1 0 1 -2 -0.5 -1.5 1.5 -1 0.5 -1 1.5 0 0.5 0.5 1.5 1 0 -0.5 0 1.5 0 -0.5 -0.5 -1 0.5 0 1 2 -0.5 -0.5 0 -1 -0.5 0.5 0 0 1 0.5 -1 0 0 0.5 0 -2 0 1 0 0 -0.5 1 0 -1.5 -1 0.5 1 0 1 -1.5 -1 0 0 1 0.5 0" stroke="#f00000"/>
<path d="M218.5 186l0.5 -0.5 1 -1 -1.5 1 0.5 -1 -0.5 0 0.5 1 0 -0.5 2 -0.5 -0.5 0 -1.5 -0.5 -1 0 1 2 0.5 1 -1 -2 0 0 -0.5 -1.5 -0.5 2 0 -0.5 -1 -0.5 0 0.5 0 -1 1 -0.5 -0.5 -1 -1 2 0 -0.5 0 0.5 0.5 0.5 0 -0.5 0 1 1 -1.5 0 0 1 -1 1 1 0.5 0.5 0 2 0.5 0.5 2 -0.5 0 0 0 0.5 1 -0.5 -0.5 -0.5 -1 0.5 -1 1 -2 0 0.5 -1 -0.5 -0.5 0 0.5 0 0 -1.5 -1 -1 1 0.5 -1 -1 1.5 1 -0.5 1 -1.5 -1.5 0.5 -0.5 2 0.5 0 1 0.5 1 0 0.5 -0.5 0 1 -1 1 -0.5 -1.5 1 0.5 1 1 0.5 0 1 0.5 -1.5 0 -1 -0.5 0 -1 0.5 0 0.5 0 2 0.5 -1.5 -0.5 0.5 -1 1 0.5 -0.5 0 0.5 0.5 -0.5 0 0.5 0.5 0.5 -1" stroke="#f00000"/>
<path d="M214 183l0.5 -1 -1 1 0 0 0.5 -0.5 -0.5 -0.5 1.5 0 0 0.5 0 -0.5 -0.5 -0.5 -0.5 1 -1.5 0.5 -1 -0.5 0.5 1 1 0.5 -1.5 -2.5 0 -0.5 -1 1 -1 0 1 0.5 0 -1.5 0.5 0.5 1 1 -1 0.5 -0.5 0 0 0 0 0 -0.5 -0.5 0 -0.5 1 -2 0 0.5 0 -0.5 0.5 -0.5 0.5 0 -1.5 1 1 0 0.5 0.5 1 0.5 -0.5 -1.5 1 0 -0.5 -0.5 0 -0.5 -0.5 0.5 0.5 0.5 -0.5 -0.5 -0.5 0.5 0 0 -1 0.5 -1 0.5 1 0 -0.5 0.5 1 -1.5 1 1 0 1 0.5 2 -0.5 0 0 -2 0 -0.5 -1 -0.5 1 0 -2.5 1 0.5 -0.5 -0.5 -0.5 0.5 0 0 -0.5 0.5 0.5 0.5 0 0 0.5 -0.5 0 0.5 0.5 1 0 -2 0.5 0 0 -1 1 0 -0.5 1 1 -1 -1 1 0.5 0 0 -0.5 0 0.5 1.5 0.5 0.5" stroke="#f00000"/>
<path d="M215 188.5l0 0 1 0.5 -2 -0.5 0 0.5 -1.5 0 1.5 -0.5 -1 -0.5 1 0 -1.5 0 -1 -1 1 0.5 1 1 1 1 1 1 -1 -0.5 0 -0.5 0 0.5 0.5 0 0 -0.5 0.5 0 0.5 0.5 -0.5 0.5 0 -0.5 0 -1 -0.5 -0.5 0 -1.5 1.5 0 -0.5 -1 0 -0.5 -0.5 -0.5 0 1 1.5 0.5 -0.5 0 0.5 -0.5 0 0 0.5 -1 -1 0.5 0 1 -1 -0.5 0 0.5 -0.5 0 0.5 0 1.5 -2 0.5 0.5 -1 -1.5 0 -0.5 1.5 0 0 1 -0.5 0 0 0.5 -1 0 1.5 -0.5 0 0.5 -0.5 -0.5 0.5 0.5 0.5 0.5 -0.5 1 -0.5 0 1 1 -1.5 0 1 0 1 -1 -1 -0.5 0 0 -1.5 0 -1 -1 -0.5 0.5 0.5 0 -1 -1 -0.5 0 -1 -1 -0.5 0.5 -0.5 0.5 -1 0.5 1 1 0.5 1 0.5 -1 0.5 0 0 2 -1 1 0 0" stroke="#f00000"/>
<path d="M215.5 184l0 1 0.5 1.5 -1 -0.5 1 -1 -0.5 -3 0 1 0.5 1 -1 2 -0.5 -0.5 0 1 -0.5 -0.5 0.5 -1 -1 -0.5 1 0 0.5 0.5 -0.5 0 -1 0 1 1.5 0 0 -1 0 -1 -1.5 1 0.5 -0.5 0 0 0 0.5 0 1.5 1 -0.5 0 1.5 0.5 0.5 0 0.5 -1 0.5 -0.5 0.5 -1 1 -1.5 -1 -1.5 0.5 -1 -1.5 -0.5 -0.5 -1 -1 -0.5 0.5 -0.5 -1 1 -1 -1 -0.5 1 0 -0.5 0.5 -0.5 1.5 0.5 0 2 0.5 1 -0.5 0 1.5 0.5 -0.5 -0.5 1 -1 0 -0.5 1 -0.5 -1 0 -0.5 -0.5 0 -1 -0.5 1 1 0.5 1 0.5 0.5 0 -0.5 0.5 -0.5 0 0 -1.5 0.5 0 0 2 -0.5 -1.5 -0.5 0.5 0 0.5 0 0.5 -1.5 -1.5 0 -1 -1 1 1 1.5 -2 -1 -1 0.5 0 0.5 1.5 -0.5 -0.5 -1 1.5 -0.5 0 -1 -1 0.5" stroke="#f00000"/>
<path d="M213 187l-0.5 2 -0.5 -0.5 1.5 0 -2.5 -0.5 0.5 0 -0.5 0.5 1 -0.5 0 0.5 -1 0.5 0.5 -1 -1 0 -0.5 -0.5 0 0 -0.5 1.5 1 -0.5 -0.5 1 1 0 -1 -1.5 0 -0.5 1.5 0.5 0.5 0 -0.5 0.5 -0.5 0.5 -1.5 -1 0.5 -0.5 0.5 1.5 0 -0.5 0 0.5 0 -1 -0.5 0 0 -1 1.5 0.5 1 -1 0 -2 1 0.5 0.5 -1.5 -0.5 -1 0 1 1 1.5 -0.5 0 0.5 -0.5 0.5 1 -0.5 -1 -2 0 -0.5 1.5 -0.5 -2 -0.5 2 -1 1 -0.5 0 0.5 0.5 -0.5 0 0 0.5 0.5 -1 1 1 -0.5 0.5 -0.5 1 0 -1.5 2 -0.5 -0.5 -1 1 0 0.5 -1 -0.5 -1 -1.5 -1 1 -0.5 -0.5 1.5 1 1 0.5 1.5 0.5 0.5 -0.5 1 0 0.5 0 0 -1.5 0 1.5 -3.5 -1.5 -1 0 -0.5 0 0.5 1 1.5 0.5 -1 0.5 0.5 0 0.5 0 2.5" stroke="#f00000"/>
<path d="M218.5 185.5l-1 -0.5 -1 -0.5 2.5 1 -1 -1.5 0 0.5 -1 0.5 0.5 0 0.5 1 1 -1 0.5 1 0.5 0 1 -0.5 0.5 -1 0 -0.5 -1 0.5 1.5 0.5 0 -0.5 0 0 -1 0.5 -1.5 0 0.5 1.5 0 0 0 1.5 -0.5 -0.5 -1 0.5 0.5 0 -0.5 0 0.5 -1 -0.5 0.5 -0.5 0.5 -1.5 0.5 0 -1 1.5 0.5 -1.5 0.5 1.5 0 0.5 -1 0 0.5 -1 -0.5 1 1 -2 -1 -1 0 0 -0.5 0.5 0 -1 -0.5 0.5 -0.5 0.5 0 1.5 -1 0.5 0.5 1.5 1.5 -1 -0.5 -1.5 0 0 0.5 -1 -0.5 0.5 0 2 1 -0.5 -1.5 -0.5 -1 0 0 0.5 1 -0.5 0 0 -0.5 1 0.5 1 -1.5 -0.5 -0.5 -1 1 -1 1.5 1.5 -1 -2 -1 1.5 -0.5 1 0.5 0 1.5 1 0 -0.5 -0.5 0 3 -2 -1 1.5 -0.5 1 0.5 2 -0.5 -0.5 -0.5 -0.5 0 0 0" stroke="#f00000"/>
<path d="M219 188l1 0 1 -0.5 0.5 0 -1 -1.5 -1 -1.5 0 0 1.5 0.5 -0.5 0 1 -1 -1 1 -0.5 -0.5 -0.5 1 -0.5 -0.5 0 0.5 0.5 0.5 0.5 -0.5 -0.5 -0.5 0.5 -1.5 1 0.5 0.5 1.5 0 0.5 0.5 0.5 -0.5 0 0 0.5 1 1 -1.5 -0.5 1 1 -0.5 2 -1 0 0.5 0 -0.5 1 0 -0.5 0 0 0 -0.5 0 0 1 -0.5 -1 -0.5 0.5 0.5 1 -0.5 -1 0.5 -1 -1 -1 0 -0.5 -1 -0.5 -0.5 1 0 0 1 0.5 -0.5 1.5 0 -0.5 -0.5 -0.5 0 0 0.5 0 0 -2 0.5 -0.5 -2 0 1.5 0 -0.5 -1.5 -0.5 0.5 -0.5 0 -0.5 -1 -0.5 0 1 0 -0.5 1 0 0.5 0 0 0 0 -1 -0.5 -1 0.5 0 0 -1 -0.5 0.5 1 0.5 -0.5 0 -1 0 -2 1.5 1 0 1.5 0.5 1.5 0.5 -1 0 -0.5 1.5 0 1 1.5 -0.5" stroke="#f00000"/>
<path d="M292.5 181.5l-1 0 0.5 -0.5 -0.5 0.5 1.5 -1.5 0 0.5 0 0 -1.5 -0.5 1 0.5 -1.5 0.5 0 2 0 -0.5 0.5 0.5 1.5 0.5 0 0 0.5 0 -1 -0.5 -1 0.5 1.5 0 -1 0 1 0 1 0.5 -0.5 -1 0.5 -1.5 -1 0 -1.5 0.5 0 -0.5 2.5 1.5 0.5 0.5 0 0 1 0 0 -1 -0.5 -0.5 0.5 0 0 -1.5 0 0.5 -0.5 0 -1.5 0.5 2 1.5 -2.5 -0.5 1.5 0.5" stroke="#f00000"/>
<path d="M293.5 180l-1 0 0.5 1 2 0 1.5 0 0 0 0 0 1 -0.5 -0.5 -0.5 0 0 0 1 0 -0.5 0 -0.5 0 -0.5 0 -0.5 -0.5 -1 0 0.5 0.5 1.5 0 0.5 -0.5 1 -0.5 0 0 0 -1.5 -0.5 0 -1 -1 -1.5 -1.5 1.5 0 0 1 0 0 -0.5 0 -0.5 1 -1 2 -1 0 0.5 -0.5 0 -0.5 -0.5 -1 0 1 0.5 -1.5 -0.5 0 0.5 -0.5 1.5 -1 0" stroke="#f00000"/>
<path d="M293 184l-0.5 -1 0.5 0.5 -1 0 0 -0.5 0.5 0 1 -1 0 0 -1.5 2 0 1 0.5 0.5 1.5 1 -0.5 0 -0.5 0 1 0 0 0.5 0.5 0.5 0.5 -1 0.5 0 -0.5 0.5 -0.5 -0.5 -0.5 0 0 0 -1 -0.5 -1 -1.5 0 0.5 0 -1 0 0 1 -1 -0.5 0.5 0 1 0 -1 -0.5 0.5 1.5 0 1 1 -2 0 -0.5 -1 0 1 2 0 1 1.5 -0.5 -1.5" stroke="#f00000"/>
<path d="M291.5 181l0 -1.5 1.5 1.5 0 -1 -1 0 -0.5 -1 1 1 -0.5 1 0 -2 1 -0.5 0 -1 -0.5 1 1 0 0 0 -0.5 0 -1 0.5 1 0 -1 0.5 1 -0.5 0 0.5 0 0.5 0.5 1 0 -0.5 -1.5 0.5 -0.5 -0.5 0 -2 1 -1 0 0 0 0.5 -0.5 0 0 0 1.5 1.5 0.5 0 1 1 -1 1 0 0 -1 -0.5 -1 -1.5 0 -1 0 1.5 -0.5 -1" stroke="#f00000"/>
<path d="M292 182l0 0.5 0 2 -1 -1 1.5 0 0 -1 0 0.5 0.5 0 0 0.5 -1 0.5 -0.5 -1 0.5 0 1.5 0 -0.5 1 -0.5 -0.5 1 1 -0.5 -1.5 -1 0 -1 0.5 0.5 1.5 0.5 0 0 0.5 0.5 0 0.5 0 0 -0.5 -0.5 0 -1 0 0.5 -0.5 1.5 -0.5 0 -0.5 -0.5 0 -0.5 1 -1.5 -2 -0.5 -0.5 -1 -0.5 1 -0.5 0.5 0 0.5 1 -1.5 1.5 0.5 -1 0 0" stroke="#f00000"/>
<path d="M97.5 217.5l1 0.5 0.5 1 -1 0.5 -0.5 0 -0.5 -0.5 -1.5 -1 -1.5 0.5 -1 0 0 -0.5 1 1 0.5 -1 1 -1.5 0 1 0.5 -1 -1.5 2 1.5 -1 -0.5 1 -0.5 1 1 0.5 0.5 0.5 0 -0.5 -0.5 0 1 0.5 0.5 0 0.5 -0.5 -0.5 0.5 0 -1 -1 -1 0 -1 0.5 -0.5 0 0 -1 -0.5 0.5 1 0 1 1 0.5 -1.5 0 1 0.5 0 0 -0.5 0.5 -0.5 -0.5 0.5 -1 -1 -1.5 0 2.5 -1 0 1 -0.5 0.5 1 0.5 0 0.5 -0.5 1 -0.5 1.5 -1 0.5 -1 0.5 -1 -1.5 0.5 -0.5 0 0.5 -0.5 -0.5 0.5 1 -1 0 1.5 0.5 0.5 -0.5 0.5 -0.5 1 0 0 1.5 -1 -1 -0.5 -0.5 0 -1 -1 -0.5 0 0.5 0 -1 -0.5 -1 2.5 -1 0 0 0.5 1 0 0 0.5 -1 -1 0.5 -1 0 2 1.5 0.5 -0.5 -0.5 0.5 -2.5 0 0" stroke="#f00000"/>
<path d="M95.5 219l-0.5 1.5 1 -1 1 -1 -0.5 1 -0.5 0.5 -1 0.5 -0.5 0.5 0 0 -1.5 -1.5 -0.5 -1.5 0.5 -0.5 1.5 1 -0.5 -0.5 -0.5 2 0 -1 -1 -1.5 0 1 1 0 0 -0.5 -0.5 -1.5 1 0.5 0.5 -1 -0.5 0.5 -0.5 0 0.5 0 0 1 0 0 0 -0.5 0.5 0 0.5 -1 1.5 0.5 0.5 0 -1 -0.5 1 0.5 -1.5 1 0 1 0 -0.5 0 1 -0.5 0 0 -1 1 1 -0.5 0 -1 -1 0.5 0 1 -1.5 0 0 -0.5 -0.5 0 -0.5 0.5 0.5 0 0.5 0.5 0 0 -1 -2 2 -0.5 -0.5 -1 0.5 0.5 -1 1.5 -0.5 0.5 0.5 -0.5 2 0.5 0 1 0.5 1.5 -0.5 -0.5 0 0.5 1 -1 -1.5 -1 -0.5 0.5 1 0.5 0 0 0 1 -1 0 -0.5 0.5 -0.5 0 -0.5 0.5 1.5 -1 -1 -0.5 0 0 0.5 -1 -1.5 -2.5 0.5 0.5 0.5 0 -0.5" stroke="#f00000"/>
<path d="M96 223l0 -0.5 0 -0.5 0 0.5 -0.5 0 -0.5 1 2.5 1 -0.5 -0.5 0.5 -0.5 1 0 -2 0.5 -1 1 0 -0.5 0.5 -0.5 0 0 0 -1 -0.5 0.5 2 1 0.5 0 -1 0 -0.5 -0.5 0 -1 0 -0.5 0.5 0.5 -0.5 -0.5 0 0 0 -1 0 -0.5 0.5 1 -2 -0.5 1 0 -1 -2 -0.5 0 0 -1 0 -1.5 0.5 0 -1 -0.5 0 1 -0.5 0 0.5 0 0 0 -0.5 1 0 0 1 0 0.5 0.5 -1.5 1.5 -1.5 0.5 0 -1 0.5 -0.5 0 0.5 -0.5 -0.5 0.5 0 1 0 0 -1 -1 0.5 0 1 0 0 0 -0.5 0.5 0 -0.5 0.5 -0.5 -1 1 -1.5 0 0.5 0 0 0 0.5 0 -0.5 0.5 0 0.5 1 0 -0.5 -0.5 0.5 0.5 1 -0.5 0 1 0.5 0 -1 -1 0.5 0 0 -0.5 -0.5 1 1 -1.5 -0.5 0 1 0 -0.5 -0.5 -1" stroke="#f00000"/>
<path d="M100.5 222.5l-0.5 -2 -1 0 0.5 -0.5 -1 0 1 -1.5 0 -0.5 1.5 1 1 -1 -1 -0.5 0 0.5 -1.5 0 1 1 0 0 0 0 0.5 1 0.5 -0.5 -0.5 0.5 -0.5 0.5 -0.5 0.5 0.5 0.5 0 -0.5 -0.5 0.5 1.5 2 0 -0.5 0.5 -0.5 -0.5 0.5 -0.5 -1 -1 0 1 1.5 -0.5 0 0.5 1 -0.5 -0.5 1 -0.5 -1 1.5 -0.5 0 1.5 1 0.5 0 -1 -0.5 1.5 0 0.5 0 -1 -0.5 0 0 0 0 0 0.5 -1.5 -0.5 -1 0 0.5 -0.5 0 1 -0.5 -0.5 -1 0 -1 -1.5 1 -2 -1 1.5 0 -1 0 1.5 1.5 0 2 1 0 0.5 0 0 0 -0.5 -1.5 0 -0.5 -1 -0.5 0 0 0.5 -0.5 -1 0 -1 0 0 -1 1.5 0 -0.5 -0.5 -0.5 -0.5 -1 2 0 0 0 0.5 -1 2.5 0 0 0.5 0.5 0 0.5 0.5 0.5 0 1 -0.5 1.5 0.5" stroke="#f00000"/>
<path d="M101 221l0 1.5 -0.5 -1 0.5 0.5 1 0.5 1.5 -0.5 1.5 -1.5 -0.5 1 0 -0.5 0 -0.5 0 0 -1 -1.5 -1 -1 -2 0 -1 -1.5 1.5 0 -1 0 0.5 0.5 -0.5 1 0.5 0 0.5 0 -0.5 -0.5 0 0 0 0 -1 0 -1 0.5 1 0.5 1.5 2 0 -1 -0.5 0 -1 -1 -0.5 -0.5 -1 -1.5 1 1.5 -1.5 -1 0 1.5 -1 1 -0.5 1.5 1 0 -0.5 1 0 -1 1.5 -1.5 -0.5 -0.5 1.5 -0.5 0 0.5 -0.5 -1 1.5 -1 1 -0.5 -0.5 0 -0.5 0 0 0 -0.5 -0.5 1 0.5 1 0.5 -1.5 0 0 1 0 -1 -0.5 -0.5 0.5 0 -1 0.5 0 0.5 0 0.5 0 0.5 -1 1 -0.5 -2 1.5 0.5 1 -0.5 0 -0.5 -0.5 0 -1.5 0.5 0.5 0 -0.5 0 0 0 1 1 0 -0.5 0 0 0.5 2 1.5 -0.5 0.5 1.5 0 1.5 -0.5 -1.5 0.5 1.5" stroke="#f00000"/>
<path d="M102 224l1.5 0 -1 -1 -1 1 -1 -1 1.5 -1.5 1 0.5 0.5 0 1 0 0.5 -0.5 0 1 0 1 -0.5 -0.5 0 -2 1 1 -1 -1 0 0.5 1 0.5 0.5 0.5 -1 0 -0.5 -0.5 -0.5 -0.5 -1 -1 1 1 0 -1 -0.5 0 1 0.5 0 1 0 -0.5 1 0.5 -0.5 0.5 0 1 1 0.5 -1 0 -0.5 -1.5 0 0.5 -0.5 -0.5 0.5 -0.5 -1.5 -0.5 1.5 1 -1 0.5 -0.5 -1 0 -0.5 1 -1.5 0.5 -0.5 0 1 -0.5 0.5 0 0.5 1.5 -0.5 -0.5 0.5 -0.5 -0.5 0.5 -0.5 -0.5 1.5 0 -0.5 0 -1 1 0.5 -1 0 -0.5 0 0 -1.5 -1 0 0 1 1.5 0 -0.5 1 -0.5 0 -1 -1.5 1.5 0 -0.5 1 0 1 1.5 0 -1 1 1 1 -0.5 -0.5 -0.5 -0.5 0 0.5 -0.5 2.5 -1 -1 -1 0 0.5 -0.5 0.5 0 1.5 0 -1.5 -1 1 -1" stroke="#f00000"/>
<path d="M101 222l-1 1 0 0 -1.5 -1 -1.5 0 -0.5 0 0 0.5 0 -1 -0.5 -0.5 0 0.5 2 -2 0.5 1.5 0.5 -1.5 0 -0.5 0.5 0.5 0.5 0.5 0 0.5 -1 -1 0.5 1.5 0.5 0.5 1.5 0 -1 -2 -2 -1 0.5 0.5 1.5 0.5 1.5 -0.5 0 0 -1 0 0.5 -0.5 0 0.5 -0.5 1 0.5 2 0 1 0.5 -0.5 1.5 -0.5 -1 1 0 0.5 -0.5 -1 1.5 -0.5 0.5 -0.5 0.5 -1 -0.5 1 0 -0.5 0 0 0.5 0 -0.5 0.5 -1 -1.5 0.5 0 -0.5 0.5 -1 0.5 0 -1.5 1 1.5 -1 0 -0.5 1.5 0 1.5 -0.5 1 0 0 -0.5 0.5 1.5 0 0 -0.5 2 0 -1.5 0 -0.5 -0.5 2 -1 -1 0.5 -1 0 -0.5 -0.5 0 -1 -0.5 -0.5 1 -1 0.5 0.5 1 -0.5 0.5 1 0.5 0.5 -0.5 0 -0.5 -0.5 -0.5 0 -1 2 0.5 2.5 -0.5 -2.5 -0.5 2 0 0" stroke="#f00000"/>
<path d="M96 220l0.5 2.5 -1.5 0.5 0 -1 1 0 0 0.5 0 1.5 1 -0.5 1.5 0.5 0 -1 0 -1 0.5 -0.5 0.5 1 -2.5 0.5 0.5 1.5 0.5 -1 -0.5 0.5 0.5 -1 0.5 -0.5 0 0 -1.5 0 0.5 0.5 -0.5 -0.5 1 0.5 -1 0.5 0.5 0 1 -0.5 0 0.5 -0.5 -0.5 0.5 -1 0 2 0 0 0 -1 0 0 0 -1 -1 0 0.5 0.5 -1.5 0 1 -0.5 -1 0.5 0 -2.5 -0.5 -1 -1.5 2.5 -0.5 1 0.5 1.5 -0.5 0 0.5 0 1 0.5 0 -1 0.5 -0.5 1 1 -0.5 0 1 -1 -0.5 -1.5 0.5 -1 -0.5 1 0.5 -1.5 -1 -0.5 0 -1.5 1.5 -1 1 0.5 0.5 1 -1 -2 -1 0 1 1.5 0.5 -1 -0.5 0 -0.5 1.5 2 0.5 0.5 3 -1.5 -0.5 -1 0.5 -1.5 0.5 -1 1 0 0.5 0.5 0 -0.5 -0.5 0 -0.5 0 -0.5 0.5 1 -0.5 0.5 1 -0.5" stroke="#f00000"/>
<path d="M99.5 217.5l-0.5 1 -0.5 -0.5 -1.5 1 -1 -1 -0.5 0 0 -1 1.5 1 -1.5 0 0.5 -0.5 0 -1 0 2.5 0 -1 0.5 0 -0.5 -1 2 0.5 -0.5 0.5 1.5 0 -1 -1.5 0.5 0 0 0 -2.5 -0.5 0.5 0 0 0.5 0.5 1 -1.5 0 0.5 -1 0 1.5 0 0 0 1 0.5 0.5 -0.5 0 0 -1.5 1.5 1 1 1.5 -0.5 -1 -1 0.5 0 -1.5 0.5 -1 2 0 0 -2 0.5 1.5 0.5 0 2 -0.5 -1 -0.5 -0.5 1 -0.5 1 -0.5 0 1 -0.5 1 -0.5 0 -1.5 0.5 0 1 1 0 -0.5 -0.5 1 0.5 0 0 -1 -1 -0.5 -1 -1 0 1.5 0.5 1 1.5 -0.5 0 0.5 0.5 -1 -1 0.5 -1.5 -1 -0.5 0.5 1.5 0.5 0.5 -1.5 -1.5 -0.5 -2 -0.5 -0.5 -1 -1 0 1 0.5 1 -1 0.5 1 0 0.5 -0.5 1 1 0 1.5 1 0.5 -1.5 0.5 0.5" stroke="#f00000"/>
<path d="M100 224.5l-1 -1.5 -1.5 -0.5 -1 -1 -0.5 -0.5 0 1.5 -0.5 -0.5 0.5 -1 1 0 -1 1.5 -1.5 0.5 2 0 0.5 0.5 0.5 -0.5 0 0.5 0.5 0 0 1 1 0 0 1.5 0 -2 -0.5 0.5 -1 1 1 0.5 -1 1 -0.5 1 0.5 -1 1 -1 1 1 1 -0.5 0 0 0 -0.5 -1 -0.5 -0.5 -0.5 0.5 0 0 -1.5 -0.5 1 -0.5 0 0 0 1 0 -0.5 1 -1.5 -0.5 -1 -1.5 0 1 0 0.5 0.5 0 -0.5 -1.5 0 -0.5 -0.5 1.5 -1 0.5 1 0.5 -1 1 1 0.5 0 0 -1.5 -2.5 0.5 0 -0.5 -1.5 1 -0.5 0.5 -0.5 0.5 1 -1 0.5 -1 -0.5 0.5 0 1 -0.5 0.5 1 -2 -0.5 0.5 0.5 0 -1 0 1 2 1 -1 0.5 -1 1.5 0.5 -0.5 0.5 -1 -1 0 0.5 0.5 0 0.5 2.5 -1.5 0.5 0 0 -0.5 0 0.5 0 -0.5 1 0" stroke="#f00000"/>
<path d="M97 217l0.5 -2.5 0.5 0 1.5 0 1 0.5 0.5 0.5 -1 -0.5 -0.5 -0.5 -1 -0.5 0.5 -0.5 0 1 1 0 0 -0.5 0 0.5 1.5 1.5 -1 0 0.5 0.5 -0.5 0.5 0.5 0.5 0.5 0 -0.5 -0.5 -0.5 0.5 2 0.5 0 0.5 0 -1.5 0.5 0.5 -0.5 0 0 1 0 1 -0.5 0 -0.5 0.5 0 -0.5 0 0 0.5 0.5 -1 -1 0.5 1 0 0.5 0 -0.5 1 -2 0 1 -0.5 -0.5 0.5 0 0 0.5 0 0.5 -0.5 -1 1 -0.5 0 1 -1 0.5 -1 -0.5 2 -1 -1 1 -0.5 -0.5 -0.5 0.5 2 0.5 -0.5 -0.5 -2 -0.5 0.5 -0.5 0 -0.5 -1 0.5 -0.5 -1 -0.5 0.5 -1 -0.5 1 1 0 -1 0 -0.5 -0.5 0 0.5 1.5 0.5 0.5 0 -1 0.5 -1.5 1.5 0.5 0 -0.5 -0.5 1 -2 0.5 1.5 2 -0.5 -0.5 0 -1 -1 0 -0.5 2 0 -1 -1.5 0.5 0 0" stroke="#f00000"/>
<path d="M100.5 213.5l0.5 0 0 -0.5 0.5 0 0 1.5 -1.5 -1 0.5 -1.5 -0.5 0 1 1.5 0 0.5 -0.5 0.5 -0.5 -1 -0.5 0.5 -1 -1 -0.5 2 0 0.5 -1 0 2.5 0 -1 0 -0.5 -1.5 1.5 -0.5 0 -0.5 -1 1.5 1.5 0 1 -0.5 0 -0.5 -1 0 0 0 -1 -1.5 -2 0 1 1 -2.5 -0.5 0.5 0.5 0 1 -0.5 -0.5 0 1 0.5 -0.5 1 0.5 0 -0.5 -0.5 0.5 1.5 -1.5 0 1 1.5 -1.5 2 -0.5 -1 0 0.5 0.5 1 1 1 -0.5 -0.5 0.5 0 -1.5 -0.5 0.5 0 2 -1 -1 -1 -0.5 2 0.5 0 0.5 0 -0.5 0.5 0 -0.5 1 -1 0 0.5 0 -1 0.5 -0.5 0.5 1 1 0 -0.5 -0.5 0 -1.5 0 -2 0.5 1 -0.5 -0.5 0.5 0 0.5 0.5 1.5 -0.5 -1 1 0.5 1.5 1 0.5 -1.5 1 -2 0 2 0 -0.5 1.5 0 0 -1 0 0" stroke="#f00000"/>
<path d="M99.5 219l0.5 0.5 1.5 1 0.5 -0.5 -2 0.5 -0.5 -1 0.5 -1 -1 -1 -0.5 -0.5 1 -0.5 -0.5 0 0.5 0.5 0.5 0 -0.5 1.5 0.5 0 -0.5 0.5 0 1.5 0 0.5 0 1 0 0.5 0 0 0 -0.5 0 -2 1 0.5 -0.5 -1.5 -2 0.5 -0.5 -1 0 -0.5 -0.5 1 0 -0.5 0 1 1.5 2 1 -0.5 -1.5 -1 0.5 1.5 1.5 0 0.5 1.5 -1.5 0.5 -0.5 -0.5 0.5 0 1.5 0 0 -1 0 -1 0.5 -0.5 -1 1 -0.5 0.5 0.5 0 -1.5 -1 1 0.5 -0.5 -1 -0.5 -0.5 -1 0 -0.5 -0.5 0 0.5 0 0.5 0 1.5 0.5 -1 0.5 0.5 1 -1 -0.5 0 0.5 0 -1 0.5 0.5 0.5 -1 -0.5 0.5 0.5 0 -1 -0.5 0 -0.5 0.5 0.5 0 1 1 0.5 -0.5 0.5 1 0.5 0 0 0 -1.5 0 1 -2.5 -2 -0.5 1.5 0 -1.5 1 2.5 1 0 2.5 1 -0.5" stroke="#f00000"/>
<path d="M177 219l-1.5 -1 0 -0.5 -2 0 0.5 1 0.5 -1 -0.5 0.5 -0.5 0 0 0 1 0 1.5 -2 0 -0.5 0.5 1 -0.5 -1 0.5 -0.5 -0.5 0 1 1 -1 -1 -1 0.5 0.5 0.5 0.5 -1 -1 1.5 -0.5 0.5 0 0 0 -1 0 0 0.5 1 -0.5 0.5 -0.5 -1 0 0.5 1 -1.5 0.5 1 0 0.5 -1.5 -0.5 0 1 0.5 0 -1 1.5 0.5 0.5 -0.5 0 2 1 1 0.5 -1 -0.5 -0.5 -1.5 0.5 0 0 0 -1 1 0.5 0.5 0 0.5 -1 0.5 0.5 -0.5 1.5 -0.5 0 1 -0.5 -2 -1 -0.5 0.5 -1 -0.5 -0.5 0.5 0.5 -1 0.5 -1 1.5 0.5 0 0.5 -1 0 0 0 -1 0.5 1.5 1 1 0 0.5 -1.5 0.5 0.5 0 -1 0.5 1 -0.5 0.5 0.5 0 0 -0.5 0.5 -0.5 -1.5 1 0 0 0.5 0.5 0.5 1.5 0.5 -0.5 -0.5 0 -0.5 0 0 -1 0 -1 -1 -0.5 0 0 1 0 -0.5 1.5 -1 0 -1 1.5 1.5 0 -1" stroke="#f00000"/>
<path d="M174 220.5l0 0.5 -0.5 1 1.5 1 0.5 -0.5 -1 0.5 0 -1.5 -1 1.5 0 0 0 -1 1 0 -1.5 1 -1 -2 0 -0.5 0 0 0.5 0 0 0.5 -2 0.5 -0.5 0 0 1 0.5 1.5 1 -0.5 -0.5 0 1.5 -0.5 -0.5 0.5 -1 0 -0.5 -1 1 0.5 -1 0 -0.5 1 -0.5 -0.5 -0.5 -1 0.5 0.5 1.5 -1.5 -0.5 -1.5 1 0.5 0.5 -1 -1.5 1 0 0 0.5 0 -1 -1 -0.5 -1 1 0 -1 0 0.5 0 0 0 0.5 -0.5 0 -1 0.5 1 1 0.5 -1 -0.5 2 1.5 -1 0.5 0.5 0.5 0.5 -0.5 -1 1 1 1 -1.5 0.5 -1.5 0 -0.5 1 0.5 0.5 0.5 0.5 1 0 -1 -2 -1.5 -1 0.5 -1.5 0.5 -0.5 0.5 -1 1.5 0.5 0.5 0.5 -0.5 0.5 -0.5 0 0 0.5 0.5 -0.5 -1 0.5 0.5 0 -0.5 -1 -1 -0.5 0 1 2 0 0 -0.5 0.5 -0.5 -1 0.5 0 1.5 0.5 0.5 -0.5 0.5 1 -1.5 0 -0.5 -1 0 0 0" stroke="#f00000"/>
<path d="M171.5 218.5l-0.5 0 -0.5 0.5 0.5 -0.5 1 -1 1.5 0 1 -1.5 0.5 -0.5 -2 -0.5 -1.5 1 0 0 -1 0.5 0 0 -0.5 2 -2 -1 -0.5 0 1 -0.5 0 -1 -0.5 1 0 -2 1 -0.5 0 1.5 0 -0.5 0 2 -1.5 0 2 -1 -0.5 0 -1 -0.5 1 -2 0 0 1 1 0.5 0.5 0 0 -0.5 -1.5 1 1.5 -0.5 1 0 0 -0.5 -0.5 0.5 -1 1 2.5 -1 -2 -0.5 0.5 -1 1.5 -2 1 0 -0.5 0.5 0.5 0.5 0.5 -0.5 0 1 0 2 0 0 -0.5 0.5 1.5 -1 0 0.5 0 -1 -1 1.5 -0.5 -1.5 -0.5 -0.5 2 0.5 1 1 -0.5 -1.5 1 0 -1.5 0 -0.5 -0.5 1 -0.5 -1.5 0 0 -0.5 0.5 1 0 0 0.5 1 -1 0.5 1 0.5 0.5 -2.5 0 0 0 0 -1 0.5 -0.5 -0.5 0.5 0.5 -0.5 -0.5 -1.5 0 0.5 0 -1.5 0 -0.5 0.5 1 -0.5 -1 2 0.5 1 0.5 -0.5 -2.5 -0.5 2 -1 -0.5 1 1" stroke="#f00000"/>
<path d="M174.5 217l0 1 -0.5 -0.5 1 0 -0.5 0 -1.5 -0.5 -0.5 0 -0.5 0 -0.5 -1 1 -1.5 -0.5 0.5 0 0 -0.5 -0.5 0.5 -0.5 0 1 1 0.5 1 -1.5 0.5 1.5 -1.5 1 -0.5 -1.5 1.5 0.5 0 0 2 -1 -1 -1 0 -0.5 0.5 0 -1 0.5 -0.5 -0.5 -1 1 -1 1 2 -1.5 0 0 0.5 0.5 1.5 -1.5 1.5 1 -0.5 0.5 1.5 0.5 -1 1.5 1 1.5 0.5 -0.5 -0.5 -1.5 0 0.5 0 -2 -0.5 1.5 -0.5 0.5 0.5 -0.5 1 -1 -0.5 -0.5 1 -0.5 -1.5 0 1 1.5 -1.5 -1 0.5 0 -0.5 -0.5 1 -0.5 -0.5 0.5 -1 -0.5 0.5 -1 -1.5 1.5 0 1.5 -0.5 -1 1.5 -1 0 0.5 -1 -0.5 -0.5 -1 0 0 1 1 -0.5 -1 0.5 1 1 -1 -1.5 1 -0.5 0 0.5 -0.5 1 -0.5 0 1 1 1.5 2 0.5 -1 0.5 0 -1 -2 0 0.5 -0.5 0 1 -0.5 -0.5 0.5 -1 -0.5 -0.5 -0.5 0.5 0 0.5 -0.5 -0.5 -1.5 1 0 0" stroke="#f00000"/>
<path d="M177.5 217l-1 0 1 1.5 -0.5 0.5 -1.5 0 1 -0.5 -0.5 -1 1 -0.5 -1 2 -1 0.5 1 -0.5 -1 2 0.5 -0.5 -1 -1 1 1.5 -0.5 -0.5 1 0 -1 -0.5 -0.5 -0.5 1.5 1 1 -0.5 0.5 0 -0.5 0.5 -0.5 -1 1 1 0.5 -0.5 1.5 1.5 -1 -1 -1 0.5 1.5 0.5 -0.5 -1 -0.5 -0.5 1 0 0 -1 -0.5 0 0.5 -1.5 -0.5 0 0.5 0 0 1 0 -1 -0.5 1 0 0.5 1.5 0.5 0.5 1 0 -1.5 -0.5 1 -0.5 0.5 0.5 0 0 0.5 0.5 -0.5 -1 0 -0.5 0.5 -1 -0.5 0.5 1 -1 0 -0.5 -0.5 1 0 0.5 -0.5 -0.5 1 -2 -1 1.5 0.5 -0.5 0 -0.5 -1 0 0.5 0 1 -0.5 0 0 -1 1.5 -1 -0.5 -1 0 -1.5 0.5 -0.5 -1.5 -2 -0.5 -0.5 -1.5 0 0.5 -1 1 0.5 0 0 -0.5 0 0 0.5 0.5 -1 0 0 -1 0.5 -0.5 1.5 0.5 1 1.5 0.5 1.5 -0.5 1 1 1 -1 -1 1.5 0 -0.5" stroke="#f00000"/>
<path d="M171 225l0 0 -1 1 1 -1 0 1 -1.5 -0.5 -1 -0.5 0 0.5 -0.5 -1.5 0.5 0 -0.5 0 0.5 -0.5 -0.5 0 -1 0.5 1 -0.5 -0.5 0.5 0 0 0 -0.5 0 1 0.5 0.5 0 -0.5 0.5 0 0.5 -0.5 -1 0 0 -1.5 0 0 0.5 0.5 -1 0 0.5 1 0.5 -1.5 0.5 0.5 0.5 -0.5 -1.5 1 1 0.5 0.5 0 1.5 -1 0.5 0 1 0.5 -0.5 -0.5 0.5 1 -2 -0.5 -0.5 2 1 -1 -1 -1.5 0.5 -1 -0.5 0.5 1 0.5 0 0.5 1 -1 -0.5 0 -1.5 -1 -1 -0.5 0.5 -0.5 -0.5 -1 0.5 0.5 0 -1 0.5 0 -0.5 1 0 0 0 1 -0.5 -1.5 0 1.5 0.5 0.5 1 -0.5 0 0.5 -0.5 1 1.5 0.5 2 0.5 0.5 0.5 1 0 -0.5 -1 1 0 0.5 0 0 1 -1.5 0.5 -1 -0.5 -1 -1.5 1 1 -1 0.5 -1 0 0.5 1 0 1 0 0.5 -0.5 -0.5 0 -0.5 0 -0.5 -0.5 0 0.5 -2 0.5 1.5 -1 -1" stroke="#f00000"/>
<path d="M175 224.5l0 -0.5 1 2 0.5 -1 -1 0.5 0.5 0.5 0.5 -0.5 0.5 -1.5 1 2 -0.5 -1.5 1 1.5 1 -2 -1 -1 -0.5 1 0.5 -1 -2 0 0.5 0 -1 1 0.5 -0.5 0.5 1 0 -0.5 0.5 0 1 1 1 0.5 -0.5 0.5 0 0 -1 -0.5 -1 -1 0 -0.5 0.5 0 0 1 0.5 0 -1.5 1 -2 1 1 0 0 -1 0 -0.5 -0.5 1 -1 -0.5 -1.5 0.5 -1.5 -0.5 -0.5 -1 0.5 1 0 0 0.5 -1 1 1 -0.5 -1 1 -0.5 1 -1 -1.5 -1 1 0 0.5 -1 -1 -1.5 1.5 0 -0.5 2 -1.5 0 0.5 -1.5 0.5 -1 0.5 -0.5 0.5 1 0.5 -0.5 0 0 -0.5 0.5 -0.5 0.5 -0.5 0.5 1 0 -0.5 1 -0.5 -1 -1 -0.5 0.5 1 1.5 0 1 -1.5 -1 0 1 0.5 -1 1.5 0 -2 1 0 0.5 0.5 0 0 -0.5 -0.5 0 1.5 -2 0 -0.5 0.5 -1.5 0.5 2 0 0 1 0 -0.5 -0.5 0.5 -1 -1 -0.5 1" stroke="#f00000"/>
<path d="M176 220l0 1 -0.5 0.5 1.5 2.5 0.5 0.5 -0.5 0 0 -1.5 -0.5 -1 -1.5 0 1 -1 0 2 -1 -1 1.5 1.5 0 2 -1.5 0 0.5 -1 -0.5 -0.5 2 0 0.5 1 -1 1.5 -1.5 -1 0.5 0 1 -0.5 0.5 0 0 -2 1 0.5 1 0 0 -0.5 -1 -0.5 -1 0.5 0.5 -1 0 -0.5 0.5 0.5 0.5 0.5 -1 -0.5 -0.5 1 -1 -1 -1.5 -1 0 1 -1 -1 -1 -0.5 1 0 -0.5 0.5 1 0 -0.5 -0.5 0.5 1 1 -1 1 0 1 0 0 1 0.5 0 0 0 -1 -0.5 -1 0 0 -1 -0.5 -0.5 -0.5 0.5 1 1.5 0.5 -1 -1 -0.5 0 -0.5 -0.5 -1 0.5 -0.5 0 -1 0.5 0.5 1 0 0.5 0 -1 0.5 -0.5 0.5 0.5 -1.5 0.5 0.5 0 0.5 -0.5 0 -1 -0.5 -0.5 1 0.5 -1 -1.5 1 -0.5 1 0.5 1 -2 -0.5 0 -1.5 1 -1 0.5 0.5 0 0 0.5 0 0 1.5 0 -1.5 0 -0.5 0.5 1 -1 1.5" stroke="#f00000"/>
<path d="M180 219l0 -0.5 1 -1 -1 0.5 -0.5 0 1 0 -0.5 -0.5 -0.5 -1 -1.5 1.5 0 2.5 -1.5 0 0.5 -1 0 0 1.5 -1 -0.5 -1 -1 0.5 2 0 -0.5 0 -1 -1.5 2 0 0.5 1.5 -0.5 -0.5 0 2 1.5 -1 -0.5 -0.5 0.5 0.5 0 0 -0.5 1 -0.5 -2 0 1 -0.5 0 0.5 0.5 -0.5 1.5 0 0 0.5 -0.5 0.5 0.5 -0.5 -0.5 -0.5 0.5 -0.5 0 0.5 -1 1 0 -1 1 0 0.5 -0.5 1 -0.5 -0.5 1 -1 -0.5 -1 0.5 0 0.5 1 -0.5 -0.5 -1 1 0.5 -0.5 0.5 1 -1 0 1 -1 0.5 0.5 -1 0.5 0 -0.5 1 0 -0.5 0.5 -1 0 0.5 -1 2 -1.5 -1 1 0.5 1 -0.5 -1 0 -0.5 0 -1.5 0.5 -1 0 0.5 0 1.5 -0.5 -0.5 -0.5 1 -0.5 1 0 -0.5 0.5 -1 0.5 2 0 -0.5 0 0 -0.5 -1.5 -2.5 -0.5 -0.5 -0.5 0 0.5 0.5 0 0.5 1.5 1 0 0.5 0.5 0 1 -0.5 0 -1.5 -0.5" stroke="#f00000"/>
<path d="M174.5 221l1.5 -0.5 0.5 1.5 -0.5 -0.5 0.5 -1 -1 -0.5 -0.5 1.5 -0.5 1 -1.5 0.5 -1 0.5 1 0.5 0 -1 0.5 0.5 0.5 -1 0.5 1 0 1 -0.5 -0.5 -0.5 0 1.5 -0.5 0 0.5 0 -1.5 -0.5 0.5 0.5 1.5 0.5 0 -0.5 0 0.5 0 1 -0.5 0.5 0.5 0 0 -0.5 0.5 -0.5 0.5 0 -1 1 -0.5 -1 -0.5 0.5 0.5 -0.5 0 1 0 1.5 0 -1 0.5 0 -0.5 1.5 -0.5 0 0.5 -1 -1.5 0 -0.5 -2 -0.5 0 -0.5 1 -2 0 0 -0.5 -0.5 0.5 0.5 -0.5 -1.5 -1 -0.5 0 0.5 -0.5 -0.5 0.5 0 -0.5 0.5 0.5 -0.5 -0.5 1.5 -0.5 -0.5 0.5 0.5 -0.5 0 1.5 -0.5 -2 0 -1 0.5 -1 -0.5 0.5 -0.5 2.5 -0.5 1 0.5 0 0.5 -1.5 -1 2 1.5 -1.5 -1 -1.5 0 0 -1 1 0.5 0.5 2 1 -1 0 -0.5 0 0.5 0 -1.5 1.5 0.5 0 0 0 2 -0.5 -0.5 -1 0 -0.5 0.5 -1.5 1 -0.5 1 0.5 -1 1 -0.5" stroke="#f00000"/>
<path d="M172.5 219.5l-1 0 0 0 0.5 1 0.5 -1 0 0 0.5 -0.5 -1.5 0 0.5 -2.5 0 0 -0.5 0.5 0 -1 0 1 -0.5 1.5 0 -1.5 -0.5 -1 0 0 1 -0.5 -1 2 -2 -0.5 1 0 -1 0 0.5 1 0.5 1 1.5 -1 1.5 1.5 -0.5 0 1.5 0 0.5 -1 -0.5 -1 1 0 -0.5 0.5 0 0 -1 0 1.5 0.5 -0.5 -0.5 0 0 -2 0 0.5 0.5 -0.5 1 -0.5 -0.5 0.5 0.5 0 -1.5 1 1 -1.5 -2.5 0.5 0.5 -1 -1.5 0.5 0.5 -0.5 0.5 -2 0.5 0 -1 0 1.5 1.5 1 0 -2 -1 0.5 -0.5 1 -0.5 0.5 0 0 0 1.5 1 0 -1 1.5 1 -2.5 -1 -0.5 0 -0.5 0.5 0 1 -0.5 -1.5 1.5 0 -0.5 0.5 0.5 1 -0.5 0.5 0 -1.5 -0.5 0.5 -1 0.5 -1 2 0.5 0.5 1 -0.5 -1.5 0 -0.5 -0.5 2 -0.5 -0.5 0 0.5 -0.5 0.5 0 0.5 0.5 0.5 -0.5 -2 -0.5 -0.5 0 -1 0.5 0 0.5 0 0.5 0" stroke="#f00000"/>
<path d="M258 222l-0.5 -1.5 -1.5 -1 -0.5 -0.5 0 1 -0.5 1 0 -1 1 -0.5 0.5 1 -1.5 -1 0.5 1 0.5 -1.5 -0.5 0.5 1 0.5 1 -1 1 -0.5 -0.5 -0.5 2 -0.5 0.5 0.5 -0.5 0 1 0 0 1 -1 -1 -0.5 0 0.5 0.5 -1 -1 0.5 1 -0.5 -1 -1.5 1 -1.5 1 0.5 -0.5 0.5 -0.5 0 -0.5 -0.5 0.5 -0.5 -0.5 1 0.5 0 0 -0.5 -0.5 1 0.5 -1 1 0.5 0.5 0.5 0.5 1 1.5 0 0 0 0.5 -0.5 -0.5 1 -2 -1 0 -1 1 1 -0.5 0.5 2 0 -0.5 -1.5 0.5 -1 -0.5 2 1 0 1.5 1 0.5 0 0 -1.5 -1 0 -1 0.5 1 -2 0.5 2 -0.5 1 -1 1 0 0 0.5 -1.5 1.5 -1 0.5 -1 -2 0 0.5 -0.5 -1 1 0 0 -0.5 0 -0.5 0 -1 -1 -1 0.5 1.5 0.5 0 -0.5 -0.5 0.5 1 0.5 -0.5 0 -0.5" stroke="#f00000"/>
<path d="M259.5 224l0 1.5 1 -2 2 0 0 0 -1.5 0 0 1.5 -1.5 2 0.5 0 -0.5 0.5 0.5 0.5 0 0.5 0 -1 -0.5 0.5 -0.5 -1 0 1.5 -1 -1.5 0.5 -0.5 -0.5 0 2 0 0 -2.5 -0.5 -1 -0.5 0.5 0.5 -0.5 0 0 1 0 0 -0.5 -2 1 0 -0.5 0.5 0.5 -0.5 0 -1 0 1 1 0 -1 -1 -1 1.5 -1 0 0 1 -0.5 -0.5 0.5 -1.5 -2 0 1 0 0 0 0 0 -0.5 1 0.5 0.5 -0.5 0 1 -1.5 0 0 0.5 0 -0.5 0 -1 -0.5 0 0.5 -0.5 1 0.5 -0.5 0 -0.5 1.5 -1.5 2 0 -0.5 0 0.5 0 0.5 -0.5 -1 -1.5 -0.5 0.5 -1 0 1.5 1.5 -1 1.5 -1 0.5 -0.5 -0.5 1 0.5 -1 -1 0 0.5 1.5 -1 0 1 1.5 -0.5 1 -0.5 -1 1.5 0 0.5 -0.5 -1 1 0.5 1 0 1 0.5 0.5 0 0" stroke="#f00000"/>
<path d="M259.5 220l-0.5 -1 0 0 0 -0.5 0.5 0.5 1.5 1 0 0.5 0.5 -1.5 0 0 1.5 1 -0.5 -0.5 -1.5 1 1.5 -1 -1.5 0.5 1.5 -1 0 0.5 0.5 0 -1 -1 0 0 -0.5 0 0 1 1 -0.5 0.5 0.5 -0.5 0 -1 0 0 1 0.5 0.5 -1 0 0 0 -1 0 -2 1 -0.5 0 0.5 -1 1 0.5 -1 0.5 -1 -0.5 -0.5 0.5 0.5 -0.5 -0.5 0.5 0 -1 0 -0.5 -0.5 0 0 -0.5 0 -0.5 -0.5 1 -0.5 -1.5 0 -0.5 -0.5 0 0.5 -1 0 1 1 0 0.5 -1 -1 0.5 1 -1 1 -1.5 0 -1 0.5 0.5 0.5 -1 1.5 0 -0.5 -0.5 0.5 1 0.5 0 0.5 0 0 0.5 -1 1 -1 1 0.5 1 -0.5 0 0.5 1 0.5 0.5 1 0 -1 -1.5 1 0 -1 -1.5 1 1 -1.5 -1 -1 0 1 0.5 -0.5 -1 -0.5 -1 -1.5 0.5 -0.5 0" stroke="#f00000"/>
<path d="M260.5 224.5l1.5 -0.5 -1.5 0.5 0 -0.5 -0.5 0.5 0.5 1.5 0 -0.5 0.5 0.5 1 -1 0.5 0 -1 0 0.5 0.5 -1 0.5 0 0 2 0.5 0 0 1 -0.5 0 0 -0.5 -0.5 0 -0.5 0 0 0.5 0.5 -0.5 -1 -0.5 1 0.5 0.5 -1 -0.5 0.5 -0.5 1 0 -0.5 0.5 0 1 -1.5 0 0 -0.5 1 -2 -2 1 -0.5 0 -0.5 1 -0.5 -0.5 -2 -1 0 -0.5 1.5 -1.5 0.5 0 0.5 0 1 0 -0.5 0 -1 1 -1 0 0 -0.5 -1 -1.5 1 1 -1 -0.5 -1.5 1 0 1 0.5 -1 0 0 0.5 1 -1 -1 0.5 -2 1.5 0.5 -0.5 -0.5 0 0 0 0 0 -1 1 0.5 -0.5 0.5 -0.5 0 0.5 0 0 -0.5 1.5 -0.5 -1 0 -0.5 1 1.5 -0.5 0.5 1 0 -0.5 -0.5 -1 -1 0.5 -1 0 0 0 -0.5 1 2.5 -0.5 1 1.5 0 -0.5 -0.5 -1" stroke="#f00000"/>
<path d="M256 220.5l1 -1.5 0.5 -0.5 0 0.5 1 -1 0 -0.5 0.5 -0.5 0 1.5 1.5 -1 -2 -0.5 0 1.5 -2 0 1.5 -0.5 -1 -0.5 1 0.5 0.5 -0.5 -0.5 -0.5 1 0 0.5 0.5 0 0 -0.5 -0.5 1 1 -0.5 0 0 -1 0 0.5 0 -0.5 -1.5 -1.5 0 1 0 -1 0.5 1 0 1.5 0 1 -2 2 0.5 1 -1.5 0 0 0 0.5 -0.5 2.5 1 0 0 0.5 1 -0.5 -1.5 0.5 -1 1 0.5 -0.5 0.5 1 0 -1.5 0.5 -0.5 1.5 -1 -0.5 -1.5 0.5 0 0.5 0 -0.5 0.5 -2 1 1 1 1 0 -0.5 -2 0 -2 -0.5 1 1.5 -1 -1.5 0 0.5 -0.5 -0.5 0.5 0.5 -1 -1.5 0 0 0.5 0.5 -1 0.5 1.5 0 0.5 0.5 0 0.5 0 -0.5 1 1 1 -1.5 0 -0.5 -0.5 -1.5 0 0.5 0.5 1.5 0.5 -1.5 0 0 1.5 0 0 -1.5 0 3 -0.5 0" stroke="#f00000"/>
<path d="M257 223.5l-1 0.5 0.5 -2 -1.5 2.5 0 0 0 0.5 1 -0.5 -0.5 1 0 0 0 0 0.5 1 0 0 0 -1 0 0.5 0.5 0.5 0 0 0.5 -0.5 -0.5 0.5 0.5 0.5 1 -0.5 2 0 0.5 0 0.5 1 -1 0 1 -1 0 1 0 -1 0.5 -1 0 0 -1 0 0 0 1 -0.5 -1 1 0.5 -1 -0.5 0.5 0 -2 -1 -0.5 0 2.5 1.5 0 -1.5 0.5 0.5 -2 1 -2 0 0 -0.5 -1 0 1 0 0.5 0 0.5 -1 -0.5 -1 1.5 0.5 0.5 0.5 0 -0.5 0.5 0 0.5 0 0 0 -1 1 0 0 0 0.5 -1 1 1 -0.5 -1.5 0.5 -1 0.5 0 -1.5 0 0.5 -1.5 0.5 1 -1 0 1 -0.5 -0.5 -0.5 0.5 1 0 -1.5 -1 0 -0.5 0 0 -0.5 -0.5 0 -1 0.5 0 -0.5 -0.5 2 -1 0.5 1 0.5 -1 0.5 0 -1 -1.5 0" stroke="#f00000"/>
<path d="M257.5 216.5l-1 -1 1 1 -0.5 0.5 0 -1.5 1.5 0 -1 1 -1.5 -0.5 -0.5 -0.5 0 1 0 0 -1 -1 0.5 0 2 0.5 0 -1.5 0.5 0 0.5 0 0 1 0.5 -0.5 0.5 0.5 0 -0.5 -1 0.5 1.5 1.5 0 0 -1.5 -0.5 0 -0.5 -0.5 -1 -1.5 -1 1 1.5 -0.5 -1.5 -0.5 1 -1 0.5 2 1 -0.5 -1.5 -1 0 -0.5 0.5 1 2.5 0.5 1 1 0.5 0 1.5 -0.5 1.5 0 -2 -1.5 -0.5 -0.5 -0.5 0.5 -2 0 -1 0 1 -0.5 -1 2 1 1 -1.5 -1 0 -1 0.5 0.5 -0.5 0.5 0.5 1.5 0.5 -1 -0.5 -0.5 -1 -1 0.5 -0.5 -0.5 -1 1.5 -1 0.5 0.5 -0.5 1 -1 -0.5 0 0 -0.5 0 0.5 0 0.5 0 -1.5 0.5 -0.5 0 1 0 1 0 0.5 0.5 0 0.5 -1.5 -0.5 -1 -1 0.5 1 1 0 0 0 1 -1 0 0 -0.5 1 0.5" stroke="#f00000"/>
<path d="M256.5 224l1 -0.5 -1 -0.5 0.5 1 -1.5 -0.5 -0.5 -1 0 0 0 1.5 0 -1.5 -0.5 3 1 1 1 -1 -1 -0.5 0 0.5 2 -2 0 0 1 -0.5 0.5 0.5 -0.5 1 -0.5 -0.5 2 -0.5 1 -0.5 1.5 0.5 -1.5 1 -0.5 1 0 1 -0.5 -0.5 -1 1 0 0 -0.5 -1 0.5 -1.5 -1.5 0.5 0 -2 0.5 -0.5 0 -1.5 1.5 0 1 0.5 -0.5 1 -0.5 -0.5 -0.5 -1.5 0 1.5 0.5 0 1.5 0.5 -0.5 0 1 -1 0 0.5 0.5 0.5 0.5 -0.5 -1 1 0 0.5 -1 -1.5 -1 0 1 1 1.5 0.5 -0.5 0.5 1 0 0.5 -0.5 -0.5 -0.5 0 0.5 -1 1 -2 -2 0.5 -0.5 -1 1.5 -1 -0.5 -2 0.5 0 -1 0 0 0 -0.5 0 0.5 1 -0.5 0.5 0 0.5 -1 0 -0.5 1 0 0.5 1 -1 0 0.5 1.5 0.5 -1 0.5 1 -0.5 -1.5 -0.5 -0.5 -1 0" stroke="#f00000"/>
<path d="M258.5 221.5l0 2 -0.5 0.5 1 -2.5 0.5 0.5 0.5 -1 -0.5 0 0.5 -2 1 0 -0.5 0 0 0.5 -1 0.5 0 0.5 0.5 0.5 0 0 0 -1 0.5 0 -0.5 0.5 -0.5 0 -0.5 -0.5 -1 0 -0.5 -0.5 0 1 -1.5 0 0 0 1 -0.5 0 -0.5 0.5 -1 0 0.5 0 0.5 -1 -0.5 1 -1.5 1.5 1 1.5 1 0 0 0.5 -0.5 -1 0 0.5 0.5 0.5 0.5 -2 -0.5 -0.5 0 0 -1 -0.5 2.5 1 1 -2 -2.5 1.5 1 0 0 0 -1 2 -0.5 -1 -0.5 0.5 0 -1 0 0.5 0.5 -1.5 -1 0.5 0.5 -0.5 0 0 0 -0.5 0 -0.5 1 -0.5 1 -2 -1 0 0.5 -0.5 1.5 -0.5 0.5 0 0.5 1.5 0 -1.5 0 1 -1.5 0.5 1 0.5 -0.5 0 -1.5 0.5 0.5 -0.5 0 -0.5 -1 2 -0.5 2 0.5 -0.5 0 -0.5 0.5 -0.5 -2 -1.5 1 0 0 0.5 -0.5" stroke="#f00000"/>
<path d="M257 228.5l-0.5 0.5 0 0.5 -1 -1.5 -0.5 1 1 0.5 1 -1 0 1 0.5 0 -0.5 0 1 0 -1 -0.5 0 -1 1 0.5 0.5 -2 -0.5 1.5 -0.5 1.5 0.5 1.5 -0.5 0 1 0 0.5 -1 0.5 -1 -1.5 -0.5 -1 0.5 0.5 -0.5 1 0 -0.5 -0.5 -1 -1.5 0.5 0.5 0.5 0.5 0.5 0.5 -0.5 1.5 -0.5 0.5 0.5 0 0.5 0.5 -1 -0.5 0 0 0 1 -2 0 0.5 0 0 0 1.5 -0.5 0.5 1 -0.5 -0.5 -1 0.5 -0.5 0 1 -1 0 0.5 -0.5 1 0.5 -1 0 -0.5 1.5 -0.5 -0.5 1 0 -0.5 -0.5 -1 -0.5 0 -0.5 -1 0.5 -0.5 0 0 -0.5 -2 0 -0.5 1 0 0.5 0.5 -0.5 -0.5 0.5 0.5 -0.5 -1 -0.5 -0.5 -1 0.5 -1.5 -0.5 -0.5 -0.5 0.5 0.5 0 -0.5 -1 0.5 -0.5 0 2.5 0 -1.5 0 1 2.5 0 -1 0 0.5 0.5 -2 0 0.5 -2 -0.5" stroke="#f00000"/>
<path d="M256 219.5l0 -1 -1.5 0 1.5 1 0 0 -2 -0.5 0.5 1 0 -0.5 1 0.5 1 -2 0 0 -1 0.5 1 1.5 1 0 0.5 0.5 -1.5 0 0 -2 1 -1.5 -0.5 -0.5 0.5 0 0 -0.5 -1 0 0.5 0 -1 0 -0.5 -0.5 0 0 -1.5 1 -0.5 0.5 0.5 -0.5 0 0 -1 1 0 1 -0.5 -0.5 0.5 0 0 1.5 -1 0.5 0 0 1 1 2 0 1 1.5 0 1 0.5 -0.5 1.5 -0.5 0.5 -0.5 -0.5 1.5 0.5 -0.5 0 -1 -1.5 0.5 1 1 -1.5 -0.5 0 0.5 0 0.5 1 -0.5 -0.5 -0.5 0.5 0.5 0.5 -1 -0.5 0 1 0 0.5 -0.5 -1 0 -0.5 0 -0.5 -0.5 0 0 0 0.5 0.5 0.5 0 1 -1 -0.5 -0.5 1 0.5 -1 -1 1 0 -0.5 0 0 -0.5 0 0 0.5 0 0 1.5 -1 -0.5 0.5 0 -0.5 -0.5 1 -1 -1 1 -0.5 -0.5 0.5" stroke="#f00000"/>
<path d="M261 222.5l0.5 1.5 -2 1 0.5 -0.5 0.5 0 1 1 1 0 0 -1 0 0 0 0.5 -1 -0.5 -0.5 -1 -1.5 0.5 0 0.5 -0.5 0.5 -0.5 -0.5 0 -0.5 1.5 -1 -1 -0.5 -0.5 -1 -1.5 -1 0 -0.5 0.5 -1 -0.5 0.5 0.5 -0.5 0.5 0 1.5 -1.5 1 0 -0.5 -0.5 -0.5 0.5 0.5 1.5 -0.5 1 0 1.5 0 -1.5 -0.5 0 0 0.5 1 0.5 0 1 -1 1 -1 -1 -0.5 -1 1 -1 0.5 0.5 2.5 -1.5 0 0.5 -2 -1 0 0.5 0.5 0 -0.5 -0.5 1.5 -1 0 1.5 -1 0 1.5 -0.5 0 -1.5 -1 1 -1.5 -0.5 0 0 1 0.5 1 0.5 0.5 1 -0.5 -0.5 0.5 0.5 -0.5 -0.5 -2.5 -0.5 -1.5 1.5 1 0 -0.5 -1.5 0 0 1.5 1 1.5 -0.5 0 -0.5 0 0 -0.5 0 1 -0.5 0 1 0.5 0 -1.5 -0.5 0.5 -0.5 1 0 -1 -0.5 0.5 1.5 0.5 -0.5" stroke="#f00000"/>
<path d="M253.5 223.5l-0.5 1 0.5 1 -1.5 1.5 0.5 0 0.5 0.5 0.5 -0.5 0 0 1.5 0.5 0.5 -0.5 1 -0.5 0 -1.5 1.5 -1 0 1.5 0 0 -0.5 -0.5 -0.5 0.5 -1 -0.5 -0.5 -1 0 0 1 0 0.5 1.5 1 -1 0 -0.5 0 -0.5 0 0.5 -1 0.5 0 0 -0.5 -0.5 0.5 0 0 1 0 1 0.5 -1.5 1 0 -0.5 0 0 -2 0 1 0.5 1.5 -0.5 0.5 0.5 -0.5 -0.5 -0.5 -1 -0.5 0 0.5 0.5 -0.5 0 0 0 -0.5 1 0.5 -0.5 -0.5 -1.5 -0.5 0 -0.5 0.5 -1 -0.5 1 0.5 1.5 1 -1 0 1 -0.5 -1.5 -0.5 -1.5 1 2.5 -0.5 -1.5 0 -0.5 0 0 0 -0.5 -1.5 -0.5 -0.5 -1.5 1.5 1.5 0 0.5 -1 1 -0.5 1 -1 1.5 -1.5 1 1.5 0.5 -1 0 1 1 0.5 0 1.5 0 -2 -1 -0.5 0.5 -0.5 0.5 1 0 -0.5 0.5 0 -0.5 0 0" stroke="#f00000"/>
<path d="M62.5 260l1 0.5 -2 1.5 1.5 0 0 0 0 0 0.5 -0.5 0.5 -1.5 -1 0 0.5 1 0.5 -1 -1 1 1 -1 -1 1 1 0.5 0 -1.5 -1 0 -0.5 -1 -0.5 -1 -1.5 1 0.5 -1 -0.5 1 1 -1 0 0.5 0.5 -0.5 -2 0.5 0 0.5 0 0.5 0 0.5 1 2.5 0.5 0 1 -0.5" stroke="#f00000"/>
<path d="M61.5 260.5l-0.5 0 1 -0.5 -1.5 0.5 -1 0 1 -1 -1 -1 0 0.5 0.5 1 -1 1.5 -0.5 -0.5 0 -0.5 0.5 -1 2 1 1 -0.5 0.5 0 -0.5 -1 0.5 0 -0.5 2 0.5 0 0.5 0 -0.5 1 0 -0.5 0 0 0 0 -0.5 -0.5 0.5 -2 -0.5 0 -0.5 0 0.5 0 1 2 -1 -0.5" stroke="#f00000"/>
<path d="M60.5 260l-1 0 0.5 2.5 1 0.5 -1 -0.5 1 -0.5 1 -0.5 -0.5 0.5 -0.5 -1 0.5 0.5 -1.5 -1 0.5 -0.5 0.5 -0.5 -1.5 0.5 1 -0.5 -1 0.5 0.5 0 0 0 0.5 1 -0.5 0 0.5 0.5 1.5 1 -1 1.5 -1 -0.5 1 0.5 0 -2 0.5 1 -0.5 1 0 0 -1 -0.5 0.5 0 1 0.5" stroke="#f00000"/>
<path d="M61.5 259.5l-1 0 -1 0.5 0.5 0 0 0 0 0.5 0.5 0.5 0.5 0 1 0 -1 -1.5 -1.5 0.5 0.5 0 0.5 1 0 0 0.5 -1.5 0 1 0 -1 1 1 -0.5 1 1 0 0 -0.5 0 0 0 -1 -0.5 1 0.5 0 -0.5 0 -1 -1 1.5 0 0 0.5 -1 -0.5 0.5 -0.5 0 1" stroke="#f00000"/>
<path d="M131.5 259l-2 0 1 -1 -1.5 0.5 -1 0 -1 1.5 0 0 0 0.5 0 0.5 0 0 0.5 -0.5 -1 0 1 1 0 0 0.5 0.5 -1 0 0.5 -1 0.5 1 0.5 -0.5 -1.5 -0.5 0.5 1.5 -0.5 -0.5 0.5 -1 -0.5 0.5 1 -0.5 -1 -1 0 0 0.5 -0.5 1 -0.5 -0.5 -0.5 0 0 0.5 1 1 -1 0 -0.5 1 0.5 -1 1 -0.5 -1 0.5 0 -0.5 0.5 -0.5 -1 -1 1.5" stroke="#f00000"/>
<path d="M137 263l0 0.5 -1.5 0 0.5 -2 0 0.5 0 0 0 2 0.5 -0.5 -1 0 -1 0 0 -0.5 0 -0.5 1 -0.5 -1 -0.5 -0.5 1 0.5 -0.5 1.5 1.5 -0.5 -0.5 -0.5 -0.5 -0.5 0 1 -1 0.5 0.5 0.5 0 0 -2 -1.5 0.5 0 1 0.5 -0.5 -1 1 0 0.5 1.5 1.5 -0.5 0 0 -2.5 0 -1.5 0 -0.5 1 1 -0.5 0 0.5 0 0.5 0 1 -0.5 -1.5 0.5 2 -0.5" stroke="#f00000"/>
<path d="M134 261.5l0 0.5 -0.5 -0.5 1 -0.5 -0.5 0 -0.5 0 0.5 -0.5 -1 -0.5 -1 1.5 -0.5 -0.5 0 0 0 0 0.5 -1 1 -0.5 2.5 -0.5 -1 1 -0.5 -0.5 0.5 0 -0.5 0 -0.5 0 0 0 1.5 1 0 -1.5 0 -0.5 0 0.5 -1 -0.5 -1 0.5 1 1.5 -1 1 0.5 0 0 0.5 0 -0.5 0.5 0 0.5 0.5 0 1.5 -0.5 0 0 0 0.5 0 -0.5 0 0 0 0.5 -0.5" stroke="#f00000"/>
<path d="M136 259.5l0 1 -1 0 -0.5 0 1.5 1 -0.5 0 0.5 -1.5 -1 0 1 -0.5 0 1 1.5 0 1 -0.5 0 -1 -2.5 1.5 -1 0.5 -0.5 0 0.5 0.5 1 0 0.5 0 -0.5 0 -0.5 0 0.5 -1.5 1.5 -0.5 0 1.5 0.5 -0.5 -1 0 -0.5 -1 1 -1 0.5 -0.5 0.5 0.5 -0.5 -1 -0.5 2.5 0 0 -1.5 0 -1 -0.5 0.5 0 2 -0.5 0 -0.5 -0.5 0 -0.5 0 1 0" stroke="#f00000"/>
<path d="M138.5 260l-0.5 0 0.5 0 0.5 1 1 -1 -0.5 0.5 0 -0.5 -0.5 -0.5 0 0 0 -0.5 -0.5 0 -1 0 -0.5 0.5 3 0 -0.5 0.5 0 0 -0.5 1 -2 -1.5 0.5 -0.5 -0.5 0 -0.5 1 -1 -1.5 0.5 2.5 -1 0.5 0 0 1 0 0 -1 0 0.5 -0.5 2 0.5 -0.5 0.5 0.5 0 0 1 0.5 -1 0 0.5 0 -0.5 -1 0 1 2 -0.5 0 0 0 -0.5 0.5 0" stroke="#f00000"/>
<path d="M133 260.5l0.5 -0.5 -0.5 -1.5 0.5 0 1.5 1 0 -1.5 -1.5 -0.5 0.5 0 -2 0.5 0 0.5 0.5 0.5 2 0.5 -1.5 0 1 0.5 1 0 1 -1 -1 -1 1 1.5 -0.5 -1 -1.5 0.5 -1 -1 0 0 0.5 0.5 0 -0.5 0.5 0 1 1.5 0 0 -2 0 -0.5 0.5 0 0.5 0.5 0 -0.5 -0.5 0 -0.5 -0.5 0.5 -0.5 0 0 0.5 -0.5 0.5 0.5 0 0 -1.5 0.5 -1.5 -1 0.5" stroke="#f00000"/>
<path d="M132.5 261.5l1 -0.5 1 0 -1.5 0 -1.5 1.5 0.5 1 0 0 0 0.5 0.5 0 0 -0.5 0 1 0 0 0 0 1 0 0 0 -0.5 0 1 0 0.5 -0.5 -1 0.5 -0.5 0 2.5 -1 -1 -0.5 0.5 -1 -1.5 0 0.5 -0.5 -0.5 -1 -0.5 0 0 0 0.5 0.5 -0.5 -0.5 -0.5 -1 0.5 0 0 0 1 -0.5 -1.5 0 0 0.5 0.5 0 1 2 1 1 -1 0 1.5 -1" stroke="#f00000"/>
<path d="M214.5 261l1 0 1.5 1 0 -1 0 0.5 0 -0.5 0 -0.5 0.5 0.5 -0.5 0.5 -1 0.5 0.5 -1 0.5 0.5 -1 0 0.5 1 0 0 0 -1 -0.5 -1.5 -2.5 1.5 -0.5 -1.5 0 0.5 1.5 -1.5 0 0.5 1 0 1 1.5 -0.5 -0.5 -1.5 0 1 -1.5 0 -1 0 0.5 0 -1 -1 -0.5 1 0 -1.5 0 -0.5 1 1.5 0 1 0 -0.5 0 -0.5 2.5 0 0.5 1 -0.5 0.5 0 -1.5 0 0.5 0 -1 -0.5 -1.5 -1 0.5 1 -0.5 -0.5" stroke="#f00000"/>
<path d="M217 258.5l-0.5 -0.5 -0.5 1.5 -1 0 0.5 0 0 0 0 0.5 0.5 1 1 0.5 -1 -0.5 -0.5 0 1.5 0.5 -1 -1 -0.5 -0.5 1.5 0.5 1.5 0 -0.5 0 1.5 1 -2 -1 0 1 1 -1 0 1 -1 -0.5 1 1 -1 0 -0.5 -0.5 -0.5 0 1 0.5 -0.5 -1 0 0.5 -0.5 0.5 1.5 0 0.5 0 -1 0 -1 -1 1.5 0 -1 -1 -0.5 0.5 -0.5 0.5 0.5 -0.5 0 1 1.5 -1 -0.5 0 1 1 -1 0.5 0 0 -1 -2" stroke="#f00000"/>
<path d="M217 260l0.5 0 -1 1 0.5 -1 0.5 2 0.5 0 -0.5 0.5 0 -1.5 0.5 0 0 1.5 -1.5 1 -0.5 -0.5 -1.5 -0.5 1 0.5 0 -1 0.5 0.5 1 0.5 -1 0.5 0.5 0 0 0 0.5 -0.5 -0.5 0 -0.5 -2 -1.5 -0.5 0 0 -0.5 1 1.5 0 0 0 0 0.5 -1.5 -1.5 0.5 -2 0.5 -0.5 -0.5 0 1 -0.5 -0.5 1 -0.5 0.5 0 0 0 0 -0.5 -0.5 0 0.5 0.5 1 -0.5 0.5 0.5 0 1 0 1.5 -0.5 -1.5 -1 0 1.5" stroke="#f00000"/>
<path d="M212.5 259l1 -1 -0.5 -0.5 -0.5 -1 1 0 -1 1 0.5 1 -1 1 -0.5 1 -1 -2 0.5 -0.5 0.5 0.5 1 0.5 0 1.5 -1 0 0.5 -2.5 0 -1.5 1.5 0.5 1 0 -2 0.5 0 1 -1.5 1 -0.5 0 0 0 1 -1 1 0 -1 -0.5 -0.5 0 0 1 1.5 -1 -0.5 1 0 -0.5 -0.5 -1 0.5 0.5 2 -1 1 0.5 0.5 1 0 -0.5 0 0 0 0.5 -1.5 -1 1 -0.5 -1 0.5 0.5 0 1 0 -0.5 1 1 0.5" stroke="#f00000"/>
<path d="M219 258l1 0.5 -0.5 1 -0.5 -1 0 1.5 1 0 -1.5 -0.5 -0.5 -0.5 0.5 -0.5 1 0.5 0 -1 -1 -1 0 1 0 -2 -1.5 0.5 0.5 -0.5 0.5 -0.5 0.5 0.5 -0.5 2 -0.5 0.5 1 0.5 -1 0 0.5 1.5 -0.5 0 -0.5 -0.5 -0.5 -1 0 0.5 0 -0.5 0.5 0.5 -0.5 -0.5 0 0.5 0 -0.5 0 0 0.5 0.5 0 0.5 2 0.5 0 -2 0 -0.5 1.5 0.5 0.5 -2 -1.5 -1 0.5 1 0 0 -1.5 -0.5 -1 0.5 0.5 0 1 1.5" stroke="#f00000"/>
<path d="M218 259.5l-0.5 -2 0 -1 1 0.5 -0.5 0 0.5 0 0 1 0.5 0.5 -1 -0.5 0.5 1.5 0 -0.5 0.5 -0.5 -1 -0.5 -0.5 -1.5 0 0.5 0.5 0.5 -0.5 -1.5 0 2 -0.5 0.5 -0.5 0 -1 1.5 1.5 1.5 -0.5 0.5 -1 -2 -1.5 -0.5 0.5 -0.5 0 -0.5 2 0 -1 0 -0.5 -1 -1 1 0 1 0 -0.5 -0.5 1 1 0.5 -1 0 0.5 0 0.5 -1 0 -1.5 0.5 -1.5 0 1 0 1 -0.5 0 1.5 0.5 0.5 0 -1 -0.5 -1.5 0" stroke="#f00000"/>
<path d="M217.5 259.5l0 -1 1 -0.5 -1 0.5 0.5 -0.5 0 -0.5 -0.5 0 1 0.5 -0.5 -0.5 0 0 -1 0.5 0 -0.5 0.5 0 -1 1.5 -0.5 0 -0.5 -1.5 0 -0.5 0 -0.5 -0.5 0 -0.5 2 0.5 0.5 0.5 0.5 -1 1 -0.5 0 1 -0.5 -2 0 0.5 -1 0.5 -0.5 0.5 -1 0.5 -0.5 0 -0.5 0.5 0 0 1 -1 -0.5 0 0 1.5 0 -0.5 1 1.5 0.5 1 -1 0.5 0 0 1 0.5 0 -0.5 0.5 -1.5 -1 -1.5 1 -1.5 0.5 -0.5 1.5" stroke="#f00000"/>
<path d="M291.5 260.5l0 -0.5 0 0 1 0.5 0.5 -0.5 -0.5 0 0 0 0 0.5 1 -0.5 -2 1.5 0 -1 -0.5 0.5 1.5 1 0 1 1 0 0 0 0 0 -1 0.5 -1 0 -1.5 -1.5 1 0 0.5 1 0.5 -1.5 -1 0 0 -2 1 0 1 0.5 -1 -0.5 0.5 0 -1 0 0 0.5 0 0.5" stroke="#f00000"/>
<path d="M294.5 263.5l-1 0 0 0 -1.5 0 1 0 0 0.5 -0.5 -0.5 -0.5 -1 -0.5 0.5 0 -0.5 -1 -1 0 1 1 1 0 -0.5 0.5 0 -0.5 0 0 -0.5 1 0 0.5 0 -0.5 1 -0.5 0 -0.5 -0.5 -0.5 -0.5 0 -1.5 -0.5 0.5 1.5 2 2 0 -2.5 -0.5 0.5 0.5 0 0.5 1.5 -0.5 0.5 0" stroke="#f00000"/>
<path d="M292 261l1.5 0 0 0.5 -1 0 1 0.5 -0.5 0 0.5 -0.5 0 0 0.5 -1 0 -0.5 0 0 -2.5 0 -0.5 -0.5 -0.5 0.5 -0.5 1 0 0 -0.5 -0.5 0 0 1.5 0 0.5 -0.5 -1.5 0 0 1 -0.5 -1 0.5 0 1 0 0.5 -1 0.5 -1 -0.5 0.5 -0.5 1 0.5 0.5 1 -0.5 1 2" stroke="#f00000"/>
<path d="M293 263.5l-0.5 -1 0.5 -1.5 -1.5 1 0 0 1 0.5 0.5 0 -1 0 0 0 0.5 1 -1 -1.5 1.5 -0.5 -1 -1 0 1.5 0 1 1 1 0 0.5 0 -2.5 -0.5 -1 -1 0 0.5 0 0 0 -0.5 0 0.5 0.5 0 1 -1 0 1 0.5 -1 0 0 1 0.5 0 -0.5 -0.5 0 0" stroke="#f00000"/>
</g>
<rect x="58.60" y="24.50" width="238.60" height="238.20" fill="none" stroke="#000" stroke-width="1.7"/>
<rect x="58.60" y="24.50" width="45" height="29.1" fill="#fff" stroke="#000" stroke-width="1.3"/>
<text x="80.40" y="43.60" font-size="14.6" fill="#000" text-anchor="middle" >900K</text>
<text x="175.00" y="52.60" font-size="15.5" fill="#ee0000" text-anchor="middle" >O</text>
<text x="116.20" y="121.60" font-size="15.5" fill="#0000dd" text-anchor="middle" >Cu</text>
<text x="261.80" y="95.20" font-size="15.5" fill="#ee00ee" text-anchor="middle" >Bi</text>
<text x="230.00" y="139.90" font-size="15.5" fill="#4a8a30" text-anchor="middle" >Se</text>
<defs><clipPath id="clipB"><rect x="399.50" y="24.20" width="236.80" height="210.90"/></clipPath></defs>
<line x1="399.50" y1="156.76" x2="636.30" y2="156.76" stroke="#555" stroke-width="0.9" stroke-dasharray="1.5,2"/>
<g clip-path="url(#clipB)">
<polyline points="399.50,26.20 399.90,30.93 400.29,42.18 400.69,55.55 401.08,68.18 401.48,80.27 401.87,92.37 402.27,104.78 402.66,117.24 403.06,129.39 403.45,140.90 403.85,151.40 404.24,160.76 404.64,169.07 405.03,176.45 405.43,183.03 405.83,188.89 406.22,193.98 406.62,198.22 407.01,201.53 407.41,203.84 407.80,205.07 408.20,205.24 408.59,204.44 408.99,202.77 409.38,200.30 409.78,197.15 410.17,193.48 410.57,189.49 410.96,185.39 411.36,181.37 411.76,177.60 412.15,174.08 412.55,170.79 412.94,167.72 413.34,164.84 413.73,162.15 414.13,159.61 414.52,157.21 414.92,154.93 415.31,152.75 415.71,150.67 416.10,148.71 416.50,146.90 416.89,145.28 417.29,143.89 417.68,142.75 418.08,141.90 418.48,141.36 418.87,141.18 419.27,141.35 419.66,141.82 420.06,142.55 420.45,143.49 420.85,144.61 421.24,145.84 421.64,147.16 422.03,148.51 422.43,149.86 422.82,151.15 423.22,152.34 423.61,153.45 424.01,154.46 424.41,155.38 424.80,156.21 425.20,156.96 425.59,157.63 425.99,158.22 426.38,158.74 426.78,159.18 427.17,159.56 427.57,159.87 427.96,160.13 428.36,160.32 428.75,160.46 429.15,160.54 429.54,160.58 429.94,160.57 430.34,160.52 430.73,160.43 431.13,160.31 431.52,160.16 431.92,159.98 432.31,159.77 432.71,159.55 433.10,159.31 433.50,159.06 433.89,158.80 434.29,158.53 434.68,158.26 435.08,158.00 435.47,157.74 435.87,157.49 436.27,157.25 436.66,157.03 437.06,156.82 437.45,156.62 437.85,156.45 438.24,156.28 438.64,156.13 439.03,155.99 439.43,155.87 439.82,155.75 440.22,155.65 440.61,155.56 441.01,155.49 441.40,155.42 441.80,155.36 442.20,155.31 442.59,155.27 442.99,155.24 443.38,155.22 443.78,155.21 444.17,155.21 444.57,155.21 444.96,155.22 445.36,155.23 445.75,155.25 446.15,155.28 446.54,155.31 446.94,155.35 447.33,155.39 447.73,155.43 448.13,155.48 448.52,155.53 448.92,155.58 449.31,155.64 449.71,155.70 450.10,155.75 450.50,155.81 450.89,155.87 451.29,155.93 451.68,155.99 452.08,156.05 452.47,156.11 452.87,156.17 453.26,156.22 453.66,156.28 454.05,156.33 454.45,156.38 454.85,156.43 455.24,156.48 455.64,156.53 456.03,156.58 456.43,156.63 456.82,156.67 457.22,156.71 457.61,156.76 458.01,156.80 458.40,156.83 458.80,156.87 459.19,156.90 459.59,156.94 459.98,156.97 460.38,157.00 460.78,157.02 461.17,157.05 461.57,157.07 461.96,157.09 462.36,157.11 462.75,157.12 463.15,157.14 463.54,157.15 463.94,157.15 464.33,157.16 464.73,157.16 465.12,157.16 465.52,157.16 465.91,157.15 466.31,157.14 466.71,157.13 467.10,157.12 467.50,157.10 467.89,157.08 468.29,157.06 468.68,157.04 469.08,157.02 469.47,156.99 469.87,156.97 470.26,156.94 470.66,156.91 471.05,156.88 471.45,156.85 471.84,156.82 472.24,156.79 472.64,156.76 473.03,156.73 473.43,156.70 473.82,156.66 474.22,156.64 474.61,156.61 475.01,156.58 475.40,156.55 475.80,156.52 476.19,156.50 476.59,156.48 476.98,156.46 477.38,156.44 477.77,156.42 478.17,156.41 478.57,156.39 478.96,156.38 479.36,156.38 479.75,156.37 480.15,156.37 480.54,156.37 480.94,156.38 481.33,156.39 481.73,156.40 482.12,156.41 482.52,156.42 482.91,156.44 483.31,156.46 483.70,156.48 484.10,156.50 484.49,156.53 484.89,156.55 485.29,156.58 485.68,156.61 486.08,156.63 486.47,156.66 486.87,156.69 487.26,156.72 487.66,156.74 488.05,156.77 488.45,156.80 488.84,156.83 489.24,156.85 489.63,156.88 490.03,156.90 490.42,156.92 490.82,156.94 491.22,156.96 491.61,156.98 492.01,156.99 492.40,157.00 492.80,157.01 493.19,157.02 493.59,157.02 493.98,157.02 494.38,157.02 494.77,157.02 495.17,157.01 495.56,157.00 495.96,156.98 496.35,156.97 496.75,156.95 497.15,156.93 497.54,156.90 497.94,156.88 498.33,156.85 498.73,156.82 499.12,156.80 499.52,156.77 499.91,156.74 500.31,156.70 500.70,156.67 501.10,156.64 501.49,156.61 501.89,156.58 502.28,156.55 502.68,156.51 503.08,156.48 503.47,156.45 503.87,156.43 504.26,156.40 504.66,156.37 505.05,156.35 505.45,156.33 505.84,156.31 506.24,156.29 506.63,156.27 507.03,156.26 507.42,156.25 507.82,156.24 508.21,156.24 508.61,156.24 509.01,156.24 509.40,156.25 509.80,156.26 510.19,156.27 510.59,156.28 510.98,156.30 511.38,156.32 511.77,156.34 512.17,156.37 512.56,156.39 512.96,156.42 513.35,156.44 513.75,156.47 514.14,156.50 514.54,156.53 514.94,156.57 515.33,156.60 515.73,156.63 516.12,156.66 516.52,156.69 516.91,156.72 517.31,156.75 517.70,156.78 518.10,156.81 518.49,156.84 518.89,156.87 519.28,156.89 519.68,156.92 520.07,156.94 520.47,156.96 520.86,156.98 521.26,156.99 521.66,157.00 522.05,157.01 522.45,157.02 522.84,157.03 523.24,157.03 523.63,157.02 524.03,157.02 524.42,157.01 524.82,157.00 525.21,156.99 525.61,156.97 526.00,156.96 526.40,156.94 526.79,156.92 527.19,156.90 527.59,156.87 527.98,156.85 528.38,156.82 528.77,156.80 529.17,156.77 529.56,156.75 529.96,156.72 530.35,156.69 530.75,156.66 531.14,156.64 531.54,156.61 531.93,156.58 532.33,156.56 532.72,156.53 533.12,156.51 533.52,156.49 533.91,156.47 534.31,156.45 534.70,156.43 535.10,156.41 535.49,156.40 535.89,156.39 536.28,156.38 536.68,156.37 537.07,156.37 537.47,156.37 537.86,156.37 538.26,156.37 538.65,156.38 539.05,156.39 539.45,156.40 539.84,156.41 540.24,156.42 540.63,156.44 541.03,156.45 541.42,156.47 541.82,156.49 542.21,156.51 542.61,156.53 543.00,156.55 543.40,156.57 543.79,156.60 544.19,156.62 544.58,156.64 544.98,156.66 545.38,156.69 545.77,156.71 546.17,156.73 546.56,156.75 546.96,156.77 547.35,156.79 547.75,156.81 548.14,156.82 548.54,156.84 548.93,156.85 549.33,156.86 549.72,156.87 550.12,156.88 550.51,156.89 550.91,156.89 551.31,156.89 551.70,156.89 552.10,156.89 552.49,156.88 552.89,156.88 553.28,156.87 553.68,156.86 554.07,156.85 554.47,156.83 554.86,156.82 555.26,156.80 555.65,156.78 556.05,156.76 556.44,156.75 556.84,156.73 557.23,156.71 557.63,156.68 558.03,156.66 558.42,156.64 558.82,156.62 559.21,156.60 559.61,156.58 560.00,156.56 560.40,156.54 560.79,156.52 561.19,156.50 561.58,156.48 561.98,156.46 562.37,156.45 562.77,156.43 563.16,156.42 563.56,156.40 563.96,156.39 564.35,156.38 564.75,156.38 565.14,156.37 565.54,156.37 565.93,156.37 566.33,156.37 566.72,156.37 567.12,156.38 567.51,156.38 567.91,156.39 568.30,156.40 568.70,156.41 569.09,156.42 569.49,156.43 569.89,156.45 570.28,156.46 570.68,156.48 571.07,156.49 571.47,156.51 571.86,156.52 572.26,156.54 572.65,156.56 573.05,156.58 573.44,156.59 573.84,156.61 574.23,156.63 574.63,156.64 575.02,156.66 575.42,156.67 575.82,156.69 576.21,156.70 576.61,156.71 577.00,156.72 577.40,156.73 577.79,156.74 578.19,156.75 578.58,156.76 578.98,156.76 579.37,156.76 579.77,156.76 580.16,156.76 580.56,156.76 580.95,156.75 581.35,156.75 581.75,156.74 582.14,156.73 582.54,156.72 582.93,156.71 583.33,156.70 583.72,156.69 584.12,156.67 584.51,156.66 584.91,156.64 585.30,156.63 585.70,156.61 586.09,156.60 586.49,156.58 586.88,156.56 587.28,156.55 587.67,156.53 588.07,156.51 588.47,156.50 588.86,156.48 589.26,156.47 589.65,156.45 590.05,156.44 590.44,156.43 590.84,156.42 591.23,156.41 591.63,156.40 592.02,156.39 592.42,156.38 592.81,156.38 593.21,156.37 593.60,156.37 594.00,156.37 594.40,156.37 594.79,156.38 595.19,156.38 595.58,156.39 595.98,156.39 596.37,156.40 596.77,156.41 597.16,156.42 597.56,156.43 597.95,156.45 598.35,156.46 598.74,156.47 599.14,156.49 599.53,156.50 599.93,156.52 600.33,156.53 600.72,156.55 601.12,156.57 601.51,156.58 601.91,156.60 602.30,156.61 602.70,156.63 603.09,156.64 603.49,156.66 603.88,156.67 604.28,156.69 604.67,156.70 605.07,156.71 605.46,156.72 605.86,156.73 606.26,156.74 606.65,156.75 607.05,156.75 607.44,156.76 607.84,156.76 608.23,156.76 608.63,156.76 609.02,156.76 609.42,156.76 609.81,156.76 610.21,156.75 610.60,156.74 611.00,156.74 611.39,156.73 611.79,156.72 612.19,156.71 612.58,156.70 612.98,156.68 613.37,156.67 613.77,156.66 614.16,156.65 614.56,156.63 614.95,156.62 615.35,156.60 615.74,156.59 616.14,156.57 616.53,156.56 616.93,156.54 617.32,156.52 617.72,156.51 618.12,156.49 618.51,156.48 618.91,156.47 619.30,156.45 619.70,156.44 620.09,156.42 620.49,156.41 620.88,156.40 621.28,156.39 621.67,156.38 622.07,156.37 622.46,156.36 622.86,156.36 623.25,156.35 623.65,156.35 624.04,156.34 624.44,156.34 624.84,156.33 625.23,156.33 625.63,156.33 626.02,156.33 626.42,156.33 626.81,156.33 627.21,156.34 627.60,156.34 628.00,156.34 628.39,156.35 628.79,156.35 629.18,156.35 629.58,156.36 629.97,156.37 630.37,156.37 630.77,156.38 631.16,156.39 631.56,156.39 631.95,156.40 632.35,156.41 632.74,156.42 633.14,156.43 633.53,156.44 633.93,156.44 634.32,156.45 634.72,156.46 635.11,156.47 635.51,156.48 635.90,156.49 636.30,156.50" fill="none" stroke="#ff1a1a" stroke-width="1.6" stroke-linejoin="round" />
<polyline points="399.50,26.20 399.90,26.30 400.29,26.59 400.69,27.08 401.08,27.74 401.48,28.58 401.87,29.59 402.27,30.76 402.66,32.09 403.06,33.56 403.45,35.17 403.85,36.92 404.24,38.80 404.64,40.80 405.03,42.92 405.43,45.14 405.83,47.46 406.22,49.88 406.62,52.39 407.01,54.98 407.41,57.63 407.80,60.34 408.20,63.08 408.59,65.84 408.99,68.61 409.38,71.38 409.78,74.12 410.17,76.83 410.57,79.48 410.96,82.07 411.36,84.57 411.76,86.98 412.15,89.28 412.55,91.46 412.94,93.58 413.34,95.75 413.73,98.08 414.13,100.68 414.52,103.65 414.92,106.99 415.31,110.63 415.71,114.45 416.10,118.38 416.50,122.32 416.89,126.18 417.29,129.88 417.68,133.37 418.08,136.67 418.48,139.80 418.87,142.79 419.27,145.66 419.66,148.43 420.06,151.13 420.45,153.77 420.85,156.37 421.24,158.97 421.64,161.55 422.03,164.12 422.43,166.65 422.82,169.15 423.22,171.62 423.61,174.03 424.01,176.39 424.41,178.68 424.80,180.91 425.20,183.05 425.59,185.12 425.99,187.09 426.38,188.97 426.78,190.76 427.17,192.46 427.57,194.07 427.96,195.60 428.36,197.04 428.75,198.41 429.15,199.69 429.54,200.90 429.94,202.03 430.34,203.09 430.73,204.07 431.13,204.99 431.52,205.83 431.92,206.61 432.31,207.33 432.71,207.98 433.10,208.56 433.50,209.09 433.89,209.56 434.29,209.96 434.68,210.32 435.08,210.61 435.47,210.86 435.87,211.05 436.27,211.19 436.66,211.29 437.06,211.33 437.45,211.33 437.85,211.29 438.24,211.20 438.64,211.07 439.03,210.90 439.43,210.68 439.82,210.43 440.22,210.14 440.61,209.81 441.01,209.44 441.40,209.04 441.80,208.60 442.20,208.13 442.59,207.62 442.99,207.08 443.38,206.51 443.78,205.92 444.17,205.29 444.57,204.64 444.96,203.96 445.36,203.26 445.75,202.55 446.15,201.82 446.54,201.09 446.94,200.35 447.33,199.60 447.73,198.86 448.13,198.11 448.52,197.38 448.92,196.66 449.31,195.94 449.71,195.25 450.10,194.58 450.50,193.93 450.89,193.31 451.29,192.71 451.68,192.16 452.08,191.63 452.47,191.15 452.87,190.69 453.26,190.27 453.66,189.89 454.05,189.54 454.45,189.22 454.85,188.93 455.24,188.67 455.64,188.44 456.03,188.23 456.43,188.06 456.82,187.92 457.22,187.80 457.61,187.70 458.01,187.64 458.40,187.59 458.80,187.57 459.19,187.58 459.59,187.60 459.98,187.65 460.38,187.72 460.78,187.80 461.17,187.91 461.57,188.03 461.96,188.17 462.36,188.33 462.75,188.49 463.15,188.68 463.54,188.87 463.94,189.08 464.33,189.30 464.73,189.53 465.12,189.76 465.52,190.01 465.91,190.26 466.31,190.52 466.71,190.78 467.10,191.05 467.50,191.32 467.89,191.58 468.29,191.85 468.68,192.12 469.08,192.38 469.47,192.63 469.87,192.87 470.26,193.10 470.66,193.31 471.05,193.51 471.45,193.69 471.84,193.85 472.24,193.99 472.64,194.10 473.03,194.19 473.43,194.25 473.82,194.27 474.22,194.27 474.61,194.23 475.01,194.15 475.40,194.03 475.80,193.88 476.19,193.69 476.59,193.46 476.98,193.20 477.38,192.89 477.77,192.55 478.17,192.17 478.57,191.75 478.96,191.30 479.36,190.80 479.75,190.27 480.15,189.69 480.54,189.08 480.94,188.43 481.33,187.74 481.73,187.01 482.12,186.23 482.52,185.42 482.91,184.57 483.31,183.69 483.70,182.77 484.10,181.82 484.49,180.84 484.89,179.82 485.29,178.78 485.68,177.71 486.08,176.61 486.47,175.49 486.87,174.35 487.26,173.19 487.66,172.00 488.05,170.80 488.45,169.58 488.84,168.35 489.24,167.10 489.63,165.84 490.03,164.57 490.42,163.29 490.82,162.00 491.22,160.70 491.61,159.38 492.01,158.06 492.40,156.74 492.80,155.40 493.19,154.06 493.59,152.71 493.98,151.36 494.38,150.00 494.77,148.64 495.17,147.29 495.56,145.94 495.96,144.60 496.35,143.26 496.75,141.94 497.15,140.63 497.54,139.34 497.94,138.06 498.33,136.81 498.73,135.58 499.12,134.37 499.52,133.18 499.91,132.02 500.31,130.89 500.70,129.77 501.10,128.69 501.49,127.63 501.89,126.61 502.28,125.61 502.68,124.64 503.08,123.70 503.47,122.79 503.87,121.91 504.26,121.07 504.66,120.26 505.05,119.48 505.45,118.74 505.84,118.04 506.24,117.37 506.63,116.74 507.03,116.15 507.42,115.60 507.82,115.09 508.21,114.62 508.61,114.19 509.01,113.80 509.40,113.46 509.80,113.17 510.19,112.92 510.59,112.71 510.98,112.55 511.38,112.44 511.77,112.38 512.17,112.37 512.56,112.41 512.96,112.50 513.35,112.63 513.75,112.82 514.14,113.04 514.54,113.32 514.94,113.64 515.33,113.99 515.73,114.39 516.12,114.83 516.52,115.31 516.91,115.82 517.31,116.37 517.70,116.96 518.10,117.58 518.49,118.23 518.89,118.91 519.28,119.62 519.68,120.36 520.07,121.12 520.47,121.91 520.86,122.73 521.26,123.57 521.66,124.43 522.05,125.31 522.45,126.21 522.84,127.14 523.24,128.08 523.63,129.04 524.03,130.02 524.42,131.02 524.82,132.04 525.21,133.07 525.61,134.12 526.00,135.19 526.40,136.27 526.79,137.36 527.19,138.47 527.59,139.59 527.98,140.73 528.38,141.87 528.77,143.03 529.17,144.20 529.56,145.37 529.96,146.54 530.35,147.71 530.75,148.87 531.14,150.02 531.54,151.15 531.93,152.27 532.33,153.35 532.72,154.41 533.12,155.43 533.52,156.42 533.91,157.37 534.31,158.27 534.70,159.12 535.10,159.94 535.49,160.72 535.89,161.46 536.28,162.16 536.68,162.83 537.07,163.46 537.47,164.06 537.86,164.62 538.26,165.16 538.65,165.67 539.05,166.15 539.45,166.60 539.84,167.03 540.24,167.42 540.63,167.79 541.03,168.14 541.42,168.45 541.82,168.74 542.21,169.01 542.61,169.24 543.00,169.45 543.40,169.63 543.79,169.78 544.19,169.91 544.58,170.01 544.98,170.09 545.38,170.13 545.77,170.15 546.17,170.15 546.56,170.11 546.96,170.05 547.35,169.96 547.75,169.85 548.14,169.71 548.54,169.55 548.93,169.36 549.33,169.16 549.72,168.92 550.12,168.67 550.51,168.40 550.91,168.10 551.31,167.79 551.70,167.45 552.10,167.10 552.49,166.73 552.89,166.34 553.28,165.94 553.68,165.52 554.07,165.09 554.47,164.64 554.86,164.18 555.26,163.70 555.65,163.22 556.05,162.73 556.44,162.23 556.84,161.72 557.23,161.22 557.63,160.72 558.03,160.22 558.42,159.73 558.82,159.24 559.21,158.77 559.61,158.31 560.00,157.86 560.40,157.43 560.79,157.02 561.19,156.63 561.58,156.26 561.98,155.90 562.37,155.56 562.77,155.24 563.16,154.93 563.56,154.65 563.96,154.37 564.35,154.12 564.75,153.88 565.14,153.66 565.54,153.46 565.93,153.27 566.33,153.10 566.72,152.95 567.12,152.81 567.51,152.69 567.91,152.58 568.30,152.49 568.70,152.42 569.09,152.36 569.49,152.32 569.89,152.29 570.28,152.27 570.68,152.28 571.07,152.29 571.47,152.33 571.86,152.37 572.26,152.43 572.65,152.51 573.05,152.60 573.44,152.71 573.84,152.82 574.23,152.95 574.63,153.09 575.02,153.25 575.42,153.41 575.82,153.58 576.21,153.77 576.61,153.96 577.00,154.17 577.40,154.38 577.79,154.60 578.19,154.82 578.58,155.05 578.98,155.29 579.37,155.54 579.77,155.79 580.16,156.04 580.56,156.30 580.95,156.56 581.35,156.83 581.75,157.10 582.14,157.37 582.54,157.64 582.93,157.91 583.33,158.18 583.72,158.45 584.12,158.73 584.51,159.00 584.91,159.27 585.30,159.54 585.70,159.82 586.09,160.09 586.49,160.36 586.88,160.62 587.28,160.89 587.67,161.15 588.07,161.42 588.47,161.68 588.86,161.93 589.26,162.19 589.65,162.44 590.05,162.69 590.44,162.94 590.84,163.18 591.23,163.42 591.63,163.66 592.02,163.89 592.42,164.12 592.81,164.34 593.21,164.56 593.60,164.77 594.00,164.98 594.40,165.18 594.79,165.38 595.19,165.57 595.58,165.76 595.98,165.94 596.37,166.11 596.77,166.28 597.16,166.44 597.56,166.59 597.95,166.74 598.35,166.88 598.74,167.01 599.14,167.13 599.53,167.25 599.93,167.35 600.33,167.45 600.72,167.54 601.12,167.63 601.51,167.70 601.91,167.76 602.30,167.82 602.70,167.86 603.09,167.90 603.49,167.92 603.88,167.94 604.28,167.95 604.67,167.95 605.07,167.94 605.46,167.92 605.86,167.89 606.26,167.86 606.65,167.81 607.05,167.77 607.44,167.71 607.84,167.65 608.23,167.58 608.63,167.50 609.02,167.42 609.42,167.33 609.81,167.24 610.21,167.14 610.60,167.04 611.00,166.93 611.39,166.82 611.79,166.70 612.19,166.58 612.58,166.46 612.98,166.33 613.37,166.20 613.77,166.07 614.16,165.93 614.56,165.79 614.95,165.65 615.35,165.51 615.74,165.36 616.14,165.21 616.53,165.07 616.93,164.92 617.32,164.77 617.72,164.62 618.12,164.47 618.51,164.32 618.91,164.17 619.30,164.02 619.70,163.87 620.09,163.72 620.49,163.58 620.88,163.43 621.28,163.29 621.67,163.14 622.07,163.00 622.46,162.86 622.86,162.72 623.25,162.58 623.65,162.44 624.04,162.31 624.44,162.17 624.84,162.03 625.23,161.89 625.63,161.76 626.02,161.62 626.42,161.48 626.81,161.35 627.21,161.21 627.60,161.07 628.00,160.94 628.39,160.80 628.79,160.66 629.18,160.52 629.58,160.38 629.97,160.24 630.37,160.10 630.77,159.96 631.16,159.81 631.56,159.67 631.95,159.52 632.35,159.37 632.74,159.22 633.14,159.07 633.53,158.92 633.93,158.77 634.32,158.61 634.72,158.46 635.11,158.30 635.51,158.13 635.90,157.97 636.30,157.81" fill="none" stroke="#ff00ff" stroke-width="1.6" stroke-linejoin="round" />
<polyline points="399.50,26.20 399.90,26.34 400.29,26.77 400.69,27.48 401.08,28.45 401.48,29.68 401.87,31.16 402.27,32.88 402.66,34.84 403.06,37.03 403.45,39.43 403.85,42.04 404.24,44.86 404.64,47.87 405.03,51.06 405.43,54.44 405.83,57.96 406.22,61.58 406.62,65.28 407.01,69.00 407.41,72.71 407.80,76.36 408.20,79.91 408.59,83.33 408.99,86.57 409.38,89.59 409.78,92.36 410.17,94.92 410.57,97.35 410.96,99.70 411.36,102.04 411.76,104.44 412.15,106.91 412.55,109.43 412.94,112.02 413.34,114.66 413.73,117.37 414.13,120.13 414.52,122.96 414.92,125.85 415.31,128.79 415.71,131.80 416.10,134.83 416.50,137.89 416.89,140.95 417.29,143.99 417.68,147.00 418.08,149.96 418.48,152.84 418.87,155.63 419.27,158.31 419.66,160.88 420.06,163.34 420.45,165.70 420.85,167.96 421.24,170.12 421.64,172.19 422.03,174.18 422.43,176.08 422.82,177.91 423.22,179.66 423.61,181.34 424.01,182.94 424.41,184.45 424.80,185.87 425.20,187.19 425.59,188.42 425.99,189.54 426.38,190.56 426.78,191.46 427.17,192.25 427.57,192.93 427.96,193.51 428.36,193.99 428.75,194.40 429.15,194.72 429.54,194.98 429.94,195.18 430.34,195.33 430.73,195.44 431.13,195.50 431.52,195.54 431.92,195.56 432.31,195.56 432.71,195.54 433.10,195.50 433.50,195.44 433.89,195.37 434.29,195.27 434.68,195.17 435.08,195.05 435.47,194.91 435.87,194.76 436.27,194.60 436.66,194.43 437.06,194.25 437.45,194.06 437.85,193.87 438.24,193.68 438.64,193.49 439.03,193.30 439.43,193.13 439.82,192.96 440.22,192.80 440.61,192.66 441.01,192.54 441.40,192.44 441.80,192.36 442.20,192.30 442.59,192.28 442.99,192.28 443.38,192.32 443.78,192.38 444.17,192.48 444.57,192.60 444.96,192.74 445.36,192.90 445.75,193.08 446.15,193.28 446.54,193.50 446.94,193.72 447.33,193.96 447.73,194.20 448.13,194.45 448.52,194.71 448.92,194.97 449.31,195.22 449.71,195.48 450.10,195.73 450.50,195.97 450.89,196.21 451.29,196.43 451.68,196.65 452.08,196.85 452.47,197.05 452.87,197.24 453.26,197.42 453.66,197.59 454.05,197.75 454.45,197.90 454.85,198.05 455.24,198.18 455.64,198.31 456.03,198.43 456.43,198.54 456.82,198.64 457.22,198.73 457.61,198.82 458.01,198.90 458.40,198.96 458.80,199.02 459.19,199.06 459.59,199.08 459.98,199.07 460.38,199.03 460.78,198.94 461.17,198.81 461.57,198.62 461.96,198.38 462.36,198.07 462.75,197.69 463.15,197.24 463.54,196.70 463.94,196.07 464.33,195.35 464.73,194.52 465.12,193.59 465.52,192.57 465.91,191.49 466.31,190.35 466.71,189.20 467.10,188.06 467.50,186.94 467.89,185.86 468.29,184.82 468.68,183.80 469.08,182.81 469.47,181.84 469.87,180.89 470.26,179.96 470.66,179.04 471.05,178.14 471.45,177.24 471.84,176.35 472.24,175.45 472.64,174.56 473.03,173.66 473.43,172.76 473.82,171.84 474.22,170.91 474.61,169.97 475.01,169.00 475.40,168.02 475.80,167.02 476.19,166.00 476.59,164.97 476.98,163.92 477.38,162.86 477.77,161.78 478.17,160.70 478.57,159.60 478.96,158.50 479.36,157.38 479.75,156.26 480.15,155.13 480.54,153.99 480.94,152.85 481.33,151.71 481.73,150.57 482.12,149.43 482.52,148.31 482.91,147.20 483.31,146.10 483.70,145.03 484.10,143.98 484.49,142.95 484.89,141.96 485.29,141.00 485.68,140.08 486.08,139.20 486.47,138.36 486.87,137.57 487.26,136.83 487.66,136.13 488.05,135.47 488.45,134.86 488.84,134.28 489.24,133.75 489.63,133.26 490.03,132.80 490.42,132.39 490.82,132.01 491.22,131.66 491.61,131.36 492.01,131.08 492.40,130.84 492.80,130.63 493.19,130.45 493.59,130.31 493.98,130.19 494.38,130.10 494.77,130.03 495.17,130.00 495.56,129.99 495.96,130.00 496.35,130.04 496.75,130.10 497.15,130.18 497.54,130.29 497.94,130.42 498.33,130.56 498.73,130.73 499.12,130.91 499.52,131.12 499.91,131.34 500.31,131.57 500.70,131.83 501.10,132.10 501.49,132.38 501.89,132.68 502.28,132.99 502.68,133.31 503.08,133.65 503.47,134.00 503.87,134.36 504.26,134.72 504.66,135.10 505.05,135.49 505.45,135.88 505.84,136.28 506.24,136.69 506.63,137.10 507.03,137.51 507.42,137.93 507.82,138.36 508.21,138.78 508.61,139.21 509.01,139.63 509.40,140.06 509.80,140.48 510.19,140.91 510.59,141.33 510.98,141.74 511.38,142.16 511.77,142.57 512.17,142.97 512.56,143.37 512.96,143.75 513.35,144.14 513.75,144.51 514.14,144.87 514.54,145.22 514.94,145.56 515.33,145.89 515.73,146.21 516.12,146.51 516.52,146.81 516.91,147.09 517.31,147.36 517.70,147.62 518.10,147.87 518.49,148.11 518.89,148.34 519.28,148.57 519.68,148.79 520.07,149.00 520.47,149.21 520.86,149.41 521.26,149.61 521.66,149.81 522.05,150.00 522.45,150.19 522.84,150.39 523.24,150.58 523.63,150.77 524.03,150.96 524.42,151.15 524.82,151.35 525.21,151.54 525.61,151.75 526.00,151.95 526.40,152.16 526.79,152.38 527.19,152.59 527.59,152.82 527.98,153.04 528.38,153.27 528.77,153.50 529.17,153.73 529.56,153.97 529.96,154.20 530.35,154.44 530.75,154.68 531.14,154.92 531.54,155.16 531.93,155.40 532.33,155.65 532.72,155.89 533.12,156.13 533.52,156.37 533.91,156.62 534.31,156.86 534.70,157.09 535.10,157.33 535.49,157.57 535.89,157.80 536.28,158.03 536.68,158.26 537.07,158.49 537.47,158.71 537.86,158.93 538.26,159.15 538.65,159.36 539.05,159.57 539.45,159.78 539.84,159.98 540.24,160.18 540.63,160.38 541.03,160.57 541.42,160.75 541.82,160.93 542.21,161.11 542.61,161.28 543.00,161.44 543.40,161.60 543.79,161.76 544.19,161.91 544.58,162.05 544.98,162.19 545.38,162.32 545.77,162.44 546.17,162.56 546.56,162.67 546.96,162.77 547.35,162.86 547.75,162.95 548.14,163.03 548.54,163.11 548.93,163.17 549.33,163.23 549.72,163.29 550.12,163.33 550.51,163.37 550.91,163.41 551.31,163.44 551.70,163.46 552.10,163.48 552.49,163.49 552.89,163.49 553.28,163.49 553.68,163.49 554.07,163.48 554.47,163.47 554.86,163.45 555.26,163.43 555.65,163.40 556.05,163.37 556.44,163.34 556.84,163.30 557.23,163.26 557.63,163.22 558.03,163.17 558.42,163.12 558.82,163.07 559.21,163.02 559.61,162.96 560.00,162.90 560.40,162.83 560.79,162.77 561.19,162.70 561.58,162.63 561.98,162.56 562.37,162.49 562.77,162.41 563.16,162.33 563.56,162.25 563.96,162.17 564.35,162.09 564.75,162.00 565.14,161.92 565.54,161.83 565.93,161.74 566.33,161.66 566.72,161.57 567.12,161.48 567.51,161.38 567.91,161.29 568.30,161.20 568.70,161.11 569.09,161.01 569.49,160.92 569.89,160.83 570.28,160.73 570.68,160.64 571.07,160.55 571.47,160.45 571.86,160.36 572.26,160.27 572.65,160.18 573.05,160.09 573.44,160.00 573.84,159.91 574.23,159.82 574.63,159.73 575.02,159.64 575.42,159.56 575.82,159.47 576.21,159.39 576.61,159.31 577.00,159.23 577.40,159.14 577.79,159.06 578.19,158.99 578.58,158.91 578.98,158.83 579.37,158.75 579.77,158.68 580.16,158.61 580.56,158.53 580.95,158.46 581.35,158.39 581.75,158.32 582.14,158.25 582.54,158.19 582.93,158.12 583.33,158.05 583.72,157.99 584.12,157.93 584.51,157.87 584.91,157.81 585.30,157.75 585.70,157.69 586.09,157.64 586.49,157.58 586.88,157.53 587.28,157.47 587.67,157.42 588.07,157.37 588.47,157.32 588.86,157.28 589.26,157.23 589.65,157.18 590.05,157.14 590.44,157.10 590.84,157.05 591.23,157.01 591.63,156.97 592.02,156.93 592.42,156.90 592.81,156.86 593.21,156.82 593.60,156.79 594.00,156.76 594.40,156.72 594.79,156.69 595.19,156.66 595.58,156.63 595.98,156.60 596.37,156.57 596.77,156.55 597.16,156.52 597.56,156.49 597.95,156.47 598.35,156.45 598.74,156.42 599.14,156.40 599.53,156.38 599.93,156.36 600.33,156.34 600.72,156.32 601.12,156.31 601.51,156.29 601.91,156.27 602.30,156.26 602.70,156.24 603.09,156.23 603.49,156.22 603.88,156.20 604.28,156.19 604.67,156.18 605.07,156.17 605.46,156.16 605.86,156.15 606.26,156.15 606.65,156.14 607.05,156.13 607.44,156.12 607.84,156.12 608.23,156.11 608.63,156.11 609.02,156.11 609.42,156.10 609.81,156.10 610.21,156.10 610.60,156.10 611.00,156.09 611.39,156.09 611.79,156.09 612.19,156.09 612.58,156.10 612.98,156.10 613.37,156.10 613.77,156.10 614.16,156.10 614.56,156.11 614.95,156.11 615.35,156.12 615.74,156.12 616.14,156.13 616.53,156.13 616.93,156.14 617.32,156.14 617.72,156.15 618.12,156.16 618.51,156.16 618.91,156.17 619.30,156.18 619.70,156.19 620.09,156.20 620.49,156.21 620.88,156.22 621.28,156.23 621.67,156.24 622.07,156.25 622.46,156.26 622.86,156.27 623.25,156.28 623.65,156.29 624.04,156.31 624.44,156.32 624.84,156.33 625.23,156.34 625.63,156.36 626.02,156.37 626.42,156.38 626.81,156.40 627.21,156.41 627.60,156.42 628.00,156.44 628.39,156.45 628.79,156.47 629.18,156.48 629.58,156.50 629.97,156.51 630.37,156.53 630.77,156.54 631.16,156.56 631.56,156.57 631.95,156.59 632.35,156.60 632.74,156.62 633.14,156.63 633.53,156.65 633.93,156.67 634.32,156.68 634.72,156.70 635.11,156.71 635.51,156.73 635.90,156.75 636.30,156.76" fill="none" stroke="#0a14e6" stroke-width="1.6" stroke-linejoin="round" />
<polyline points="399.50,26.20 399.90,26.45 400.29,27.19 400.69,28.35 401.08,29.91 401.48,31.81 401.87,34.01 402.27,36.47 402.66,39.14 403.06,41.99 403.45,44.95 403.85,48.00 404.24,51.08 404.64,54.16 405.03,57.24 405.43,60.35 405.83,63.54 406.22,66.84 406.62,70.30 407.01,73.94 407.41,77.82 407.80,81.97 408.20,86.42 408.59,91.22 408.99,96.36 409.38,101.74 409.78,107.26 410.17,112.81 410.57,118.28 410.96,123.56 411.36,128.54 411.76,133.16 412.15,137.44 412.55,141.47 412.94,145.30 413.34,149.00 413.73,152.63 414.13,156.26 414.52,159.95 414.92,163.70 415.31,167.52 415.71,171.40 416.10,175.33 416.50,179.31 416.89,183.33 417.29,187.38 417.68,191.45 418.08,195.49 418.48,199.46 418.87,203.33 419.27,207.06 419.66,210.60 420.06,213.91 420.45,216.96 420.85,219.70 421.24,222.11 421.64,224.18 422.03,225.93 422.43,227.39 422.82,228.58 423.22,229.51 423.61,230.20 424.01,230.68 424.41,230.96 424.80,231.07 425.20,231.02 425.59,230.83 425.99,230.49 426.38,229.99 426.78,229.35 427.17,228.54 427.57,227.58 427.96,226.45 428.36,225.15 428.75,223.69 429.15,222.04 429.54,220.23 429.94,218.23 430.34,216.07 430.73,213.76 431.13,211.32 431.52,208.78 431.92,206.15 432.31,203.45 432.71,200.70 433.10,197.91 433.50,195.11 433.89,192.32 434.29,189.55 434.68,186.82 435.08,184.13 435.47,181.50 435.87,178.92 436.27,176.40 436.66,173.95 437.06,171.56 437.45,169.24 437.85,166.99 438.24,164.83 438.64,162.74 439.03,160.74 439.43,158.83 439.82,157.02 440.22,155.29 440.61,153.65 441.01,152.11 441.40,150.66 441.80,149.31 442.20,148.05 442.59,146.88 442.99,145.81 443.38,144.84 443.78,143.96 444.17,143.18 444.57,142.50 444.96,141.91 445.36,141.41 445.75,140.99 446.15,140.66 446.54,140.42 446.94,140.25 447.33,140.16 447.73,140.14 448.13,140.20 448.52,140.32 448.92,140.51 449.31,140.77 449.71,141.10 450.10,141.49 450.50,141.96 450.89,142.48 451.29,143.08 451.68,143.74 452.08,144.47 452.47,145.26 452.87,146.12 453.26,147.04 453.66,148.03 454.05,149.08 454.45,150.18 454.85,151.34 455.24,152.56 455.64,153.81 456.03,155.11 456.43,156.44 456.82,157.81 457.22,159.21 457.61,160.63 458.01,162.08 458.40,163.54 458.80,165.02 459.19,166.50 459.59,167.99 459.98,169.48 460.38,170.96 460.78,172.43 461.17,173.88 461.57,175.30 461.96,176.69 462.36,178.04 462.75,179.35 463.15,180.61 463.54,181.81 463.94,182.95 464.33,184.03 464.73,185.02 465.12,185.93 465.52,186.74 465.91,187.45 466.31,188.05 466.71,188.52 467.10,188.87 467.50,189.08 467.89,189.14 468.29,189.05 468.68,188.82 469.08,188.44 469.47,187.94 469.87,187.32 470.26,186.60 470.66,185.77 471.05,184.86 471.45,183.87 471.84,182.82 472.24,181.70 472.64,180.54 473.03,179.34 473.43,178.12 473.82,176.87 474.22,175.62 474.61,174.37 475.01,173.13 475.40,171.90 475.80,170.68 476.19,169.45 476.59,168.23 476.98,167.01 477.38,165.77 477.77,164.53 478.17,163.28 478.57,162.02 478.96,160.74 479.36,159.44 479.75,158.11 480.15,156.77 480.54,155.39 480.94,153.99 481.33,152.56 481.73,151.11 482.12,149.66 482.52,148.20 482.91,146.73 483.31,145.28 483.70,143.83 484.10,142.40 484.49,141.00 484.89,139.63 485.29,138.29 485.68,136.99 486.08,135.74 486.47,134.54 486.87,133.39 487.26,132.31 487.66,131.28 488.05,130.31 488.45,129.39 488.84,128.54 489.24,127.75 489.63,127.02 490.03,126.35 490.42,125.74 490.82,125.20 491.22,124.72 491.61,124.30 492.01,123.95 492.40,123.67 492.80,123.45 493.19,123.30 493.59,123.22 493.98,123.21 494.38,123.26 494.77,123.39 495.17,123.58 495.56,123.83 495.96,124.14 496.35,124.52 496.75,124.94 497.15,125.43 497.54,125.96 497.94,126.55 498.33,127.18 498.73,127.86 499.12,128.59 499.52,129.35 499.91,130.16 500.31,131.00 500.70,131.88 501.10,132.79 501.49,133.74 501.89,134.71 502.28,135.70 502.68,136.73 503.08,137.77 503.47,138.84 503.87,139.93 504.26,141.03 504.66,142.14 505.05,143.27 505.45,144.41 505.84,145.56 506.24,146.71 506.63,147.87 507.03,149.03 507.42,150.19 507.82,151.34 508.21,152.48 508.61,153.61 509.01,154.71 509.40,155.78 509.80,156.83 510.19,157.83 510.59,158.80 510.98,159.72 511.38,160.58 511.77,161.39 512.17,162.14 512.56,162.83 512.96,163.46 513.35,164.03 513.75,164.55 514.14,165.02 514.54,165.44 514.94,165.81 515.33,166.13 515.73,166.40 516.12,166.64 516.52,166.83 516.91,166.97 517.31,167.09 517.70,167.16 518.10,167.20 518.49,167.21 518.89,167.18 519.28,167.12 519.68,167.04 520.07,166.93 520.47,166.79 520.86,166.62 521.26,166.43 521.66,166.21 522.05,165.98 522.45,165.72 522.84,165.44 523.24,165.14 523.63,164.82 524.03,164.49 524.42,164.14 524.82,163.77 525.21,163.40 525.61,163.01 526.00,162.60 526.40,162.19 526.79,161.77 527.19,161.34 527.59,160.90 527.98,160.46 528.38,160.02 528.77,159.57 529.17,159.12 529.56,158.66 529.96,158.21 530.35,157.76 530.75,157.31 531.14,156.87 531.54,156.43 531.93,155.99 532.33,155.57 532.72,155.15 533.12,154.74 533.52,154.34 533.91,153.95 534.31,153.58 534.70,153.23 535.10,152.90 535.49,152.59 535.89,152.30 536.28,152.04 536.68,151.81 537.07,151.60 537.47,151.44 537.86,151.30 538.26,151.21 538.65,151.15 539.05,151.14 539.45,151.17 539.84,151.24 540.24,151.34 540.63,151.48 541.03,151.66 541.42,151.87 541.82,152.11 542.21,152.37 542.61,152.67 543.00,152.98 543.40,153.33 543.79,153.69 544.19,154.07 544.58,154.47 544.98,154.89 545.38,155.32 545.77,155.77 546.17,156.22 546.56,156.68 546.96,157.15 547.35,157.63 547.75,158.11 548.14,158.59 548.54,159.07 548.93,159.55 549.33,160.02 549.72,160.50 550.12,160.97 550.51,161.43 550.91,161.88 551.31,162.32 551.70,162.75 552.10,163.16 552.49,163.57 552.89,163.95 553.28,164.32 553.68,164.67 554.07,165.00 554.47,165.30 554.86,165.59 555.26,165.84 555.65,166.07 556.05,166.28 556.44,166.45 556.84,166.59 557.23,166.71 557.63,166.79 558.03,166.85 558.42,166.89 558.82,166.90 559.21,166.89 559.61,166.87 560.00,166.82 560.40,166.76 560.79,166.68 561.19,166.59 561.58,166.48 561.98,166.36 562.37,166.23 562.77,166.09 563.16,165.94 563.56,165.77 563.96,165.60 564.35,165.41 564.75,165.21 565.14,165.01 565.54,164.79 565.93,164.57 566.33,164.34 566.72,164.10 567.12,163.86 567.51,163.60 567.91,163.34 568.30,163.08 568.70,162.81 569.09,162.53 569.49,162.25 569.89,161.96 570.28,161.68 570.68,161.38 571.07,161.09 571.47,160.79 571.86,160.49 572.26,160.19 572.65,159.88 573.05,159.58 573.44,159.27 573.84,158.97 574.23,158.66 574.63,158.36 575.02,158.05 575.42,157.75 575.82,157.45 576.21,157.16 576.61,156.86 577.00,156.57 577.40,156.28 577.79,156.00 578.19,155.72 578.58,155.45 578.98,155.18 579.37,154.92 579.77,154.66 580.16,154.41 580.56,154.17 580.95,153.94 581.35,153.71 581.75,153.49 582.14,153.28 582.54,153.09 582.93,152.89 583.33,152.71 583.72,152.55 584.12,152.39 584.51,152.24 584.91,152.11 585.30,151.98 585.70,151.87 586.09,151.77 586.49,151.69 586.88,151.62 587.28,151.57 587.67,151.53 588.07,151.50 588.47,151.49 588.86,151.49 589.26,151.51 589.65,151.54 590.05,151.58 590.44,151.63 590.84,151.69 591.23,151.76 591.63,151.85 592.02,151.94 592.42,152.04 592.81,152.15 593.21,152.26 593.60,152.39 594.00,152.52 594.40,152.65 594.79,152.79 595.19,152.94 595.58,153.09 595.98,153.24 596.37,153.40 596.77,153.56 597.16,153.72 597.56,153.88 597.95,154.05 598.35,154.21 598.74,154.37 599.14,154.54 599.53,154.70 599.93,154.86 600.33,155.01 600.72,155.17 601.12,155.32 601.51,155.46 601.91,155.61 602.30,155.74 602.70,155.87 603.09,156.00 603.49,156.13 603.88,156.24 604.28,156.36 604.67,156.47 605.07,156.58 605.46,156.68 605.86,156.78 606.26,156.87 606.65,156.96 607.05,157.05 607.44,157.13 607.84,157.21 608.23,157.29 608.63,157.36 609.02,157.43 609.42,157.50 609.81,157.57 610.21,157.63 610.60,157.69 611.00,157.74 611.39,157.79 611.79,157.84 612.19,157.89 612.58,157.94 612.98,157.98 613.37,158.02 613.77,158.06 614.16,158.09 614.56,158.13 614.95,158.16 615.35,158.19 615.74,158.22 616.14,158.25 616.53,158.27 616.93,158.29 617.32,158.32 617.72,158.33 618.12,158.35 618.51,158.37 618.91,158.39 619.30,158.40 619.70,158.41 620.09,158.42 620.49,158.43 620.88,158.44 621.28,158.45 621.67,158.45 622.07,158.46 622.46,158.46 622.86,158.46 623.25,158.46 623.65,158.46 624.04,158.46 624.44,158.46 624.84,158.46 625.23,158.45 625.63,158.45 626.02,158.44 626.42,158.43 626.81,158.42 627.21,158.42 627.60,158.41 628.00,158.40 628.39,158.39 628.79,158.37 629.18,158.36 629.58,158.35 629.97,158.33 630.37,158.32 630.77,158.31 631.16,158.29 631.56,158.28 631.95,158.26 632.35,158.24 632.74,158.23 633.14,158.21 633.53,158.19 633.93,158.18 634.32,158.16 634.72,158.14 635.11,158.12 635.51,158.10 635.90,158.09 636.30,158.07" fill="none" stroke="#1a8a1a" stroke-width="1.6" stroke-linejoin="round" />
</g>
<rect x="399.50" y="26.20" width="236.80" height="208.90" fill="none" stroke="#141414" stroke-width="1.5"/>
<line x1="399.50" y1="26.20" x2="404.00" y2="26.20" stroke="#141414" stroke-width="1.5" />
<line x1="399.50" y1="39.26" x2="402.00" y2="39.26" stroke="#141414" stroke-width="1.5" />
<text x="394.50" y="30.20" font-size="11.4" fill="#1a1a1a" text-anchor="end" >1.0</text>
<line x1="399.50" y1="52.31" x2="404.00" y2="52.31" stroke="#141414" stroke-width="1.5" />
<line x1="399.50" y1="65.37" x2="402.00" y2="65.37" stroke="#141414" stroke-width="1.5" />
<text x="394.50" y="56.31" font-size="11.4" fill="#1a1a1a" text-anchor="end" >0.8</text>
<line x1="399.50" y1="78.42" x2="404.00" y2="78.42" stroke="#141414" stroke-width="1.5" />
<line x1="399.50" y1="91.48" x2="402.00" y2="91.48" stroke="#141414" stroke-width="1.5" />
<text x="394.50" y="82.42" font-size="11.4" fill="#1a1a1a" text-anchor="end" >0.6</text>
<line x1="399.50" y1="104.54" x2="404.00" y2="104.54" stroke="#141414" stroke-width="1.5" />
<line x1="399.50" y1="117.59" x2="402.00" y2="117.59" stroke="#141414" stroke-width="1.5" />
<text x="394.50" y="108.54" font-size="11.4" fill="#1a1a1a" text-anchor="end" >0.4</text>
<line x1="399.50" y1="130.65" x2="404.00" y2="130.65" stroke="#141414" stroke-width="1.5" />
<line x1="399.50" y1="143.71" x2="402.00" y2="143.71" stroke="#141414" stroke-width="1.5" />
<text x="394.50" y="134.65" font-size="11.4" fill="#1a1a1a" text-anchor="end" >0.2</text>
<line x1="399.50" y1="156.76" x2="404.00" y2="156.76" stroke="#141414" stroke-width="1.5" />
<line x1="399.50" y1="169.82" x2="402.00" y2="169.82" stroke="#141414" stroke-width="1.5" />
<text x="394.50" y="160.76" font-size="11.4" fill="#1a1a1a" text-anchor="end" >0.0</text>
<line x1="399.50" y1="182.88" x2="404.00" y2="182.88" stroke="#141414" stroke-width="1.5" />
<line x1="399.50" y1="195.93" x2="402.00" y2="195.93" stroke="#141414" stroke-width="1.5" />
<text x="394.50" y="186.88" font-size="11.4" fill="#1a1a1a" text-anchor="end" >-0.2</text>
<line x1="399.50" y1="208.99" x2="404.00" y2="208.99" stroke="#141414" stroke-width="1.5" />
<line x1="399.50" y1="222.04" x2="402.00" y2="222.04" stroke="#141414" stroke-width="1.5" />
<text x="394.50" y="212.99" font-size="11.4" fill="#1a1a1a" text-anchor="end" >-0.4</text>
<line x1="399.50" y1="235.10" x2="404.00" y2="235.10" stroke="#141414" stroke-width="1.5" />
<text x="394.50" y="239.10" font-size="11.4" fill="#1a1a1a" text-anchor="end" >-0.6</text>
<line x1="399.50" y1="235.10" x2="399.50" y2="230.60" stroke="#141414" stroke-width="1.5" />
<line x1="423.18" y1="235.10" x2="423.18" y2="232.60" stroke="#141414" stroke-width="1.5" />
<text x="399.50" y="249.60" font-size="11.4" fill="#1a1a1a" text-anchor="middle" >0</text>
<line x1="446.86" y1="235.10" x2="446.86" y2="230.60" stroke="#141414" stroke-width="1.5" />
<line x1="470.54" y1="235.10" x2="470.54" y2="232.60" stroke="#141414" stroke-width="1.5" />
<text x="446.86" y="249.60" font-size="11.4" fill="#1a1a1a" text-anchor="middle" >200</text>
<line x1="494.22" y1="235.10" x2="494.22" y2="230.60" stroke="#141414" stroke-width="1.5" />
<line x1="517.90" y1="235.10" x2="517.90" y2="232.60" stroke="#141414" stroke-width="1.5" />
<text x="494.22" y="249.60" font-size="11.4" fill="#1a1a1a" text-anchor="middle" >400</text>
<line x1="541.58" y1="235.10" x2="541.58" y2="230.60" stroke="#141414" stroke-width="1.5" />
<line x1="565.26" y1="235.10" x2="565.26" y2="232.60" stroke="#141414" stroke-width="1.5" />
<text x="541.58" y="249.60" font-size="11.4" fill="#1a1a1a" text-anchor="middle" >600</text>
<line x1="588.94" y1="235.10" x2="588.94" y2="230.60" stroke="#141414" stroke-width="1.5" />
<line x1="612.62" y1="235.10" x2="612.62" y2="232.60" stroke="#141414" stroke-width="1.5" />
<text x="588.94" y="249.60" font-size="11.4" fill="#1a1a1a" text-anchor="middle" >800</text>
<line x1="636.30" y1="235.10" x2="636.30" y2="230.60" stroke="#141414" stroke-width="1.5" />
<text x="636.30" y="249.60" font-size="11.4" fill="#1a1a1a" text-anchor="middle" >1000</text>
<text x="517.90" y="269.10" font-size="13.5" fill="#1a1a1a" text-anchor="middle" >Time (fs)</text>
<text x="0" y="0" font-size="12.85" fill="#1a1a1a" text-anchor="middle" transform="translate(368.3,126.2) rotate(-90)">Velocity Auto-Correlation Function</text>
<line x1="527.00" y1="55.50" x2="550.00" y2="55.50" stroke="#ff00ff" stroke-width="1.6" />
<text x="553.50" y="59.20" font-size="10.5" fill="#1a1a1a" text-anchor="start" >Bi</text>
<line x1="527.00" y1="68.05" x2="550.00" y2="68.05" stroke="#0a14e6" stroke-width="1.6" />
<text x="553.50" y="71.75" font-size="10.5" fill="#1a1a1a" text-anchor="start" >Cu</text>
<line x1="527.00" y1="80.60" x2="550.00" y2="80.60" stroke="#1a8a1a" stroke-width="1.6" />
<text x="553.50" y="84.30" font-size="10.5" fill="#1a1a1a" text-anchor="start" >Se</text>
<line x1="527.00" y1="93.15" x2="550.00" y2="93.15" stroke="#ff1a1a" stroke-width="1.6" />
<text x="553.50" y="96.85" font-size="10.5" fill="#1a1a1a" text-anchor="start" >O</text>
<line x1="59.60" y1="278.50" x2="296.90" y2="278.50" stroke="#141414" stroke-width="1.5" />
<line x1="59.60" y1="278.50" x2="59.60" y2="488.30" stroke="#141414" stroke-width="1.5" />
<line x1="59.60" y1="488.30" x2="296.90" y2="488.30" stroke="#141414" stroke-width="1.5" />
<line x1="296.90" y1="278.50" x2="296.90" y2="488.30" stroke="#ff1a1a" stroke-width="1.5" />
<line x1="59.60" y1="278.50" x2="64.10" y2="278.50" stroke="#141414" stroke-width="1.5" />
<line x1="59.60" y1="291.61" x2="62.10" y2="291.61" stroke="#141414" stroke-width="1.5" />
<text x="54.10" y="282.50" font-size="11.4" fill="#1a1a1a" text-anchor="end" >3.62</text>
<line x1="59.60" y1="304.73" x2="64.10" y2="304.73" stroke="#141414" stroke-width="1.5" />
<line x1="59.60" y1="317.84" x2="62.10" y2="317.84" stroke="#141414" stroke-width="1.5" />
<text x="54.10" y="308.73" font-size="11.4" fill="#1a1a1a" text-anchor="end" >3.60</text>
<line x1="59.60" y1="330.95" x2="64.10" y2="330.95" stroke="#141414" stroke-width="1.5" />
<line x1="59.60" y1="344.06" x2="62.10" y2="344.06" stroke="#141414" stroke-width="1.5" />
<text x="54.10" y="334.95" font-size="11.4" fill="#1a1a1a" text-anchor="end" >3.58</text>
<line x1="59.60" y1="357.18" x2="64.10" y2="357.18" stroke="#141414" stroke-width="1.5" />
<line x1="59.60" y1="370.29" x2="62.10" y2="370.29" stroke="#141414" stroke-width="1.5" />
<text x="54.10" y="361.18" font-size="11.4" fill="#1a1a1a" text-anchor="end" >3.56</text>
<line x1="59.60" y1="383.40" x2="64.10" y2="383.40" stroke="#141414" stroke-width="1.5" />
<line x1="59.60" y1="396.51" x2="62.10" y2="396.51" stroke="#141414" stroke-width="1.5" />
<text x="54.10" y="387.40" font-size="11.4" fill="#1a1a1a" text-anchor="end" >3.54</text>
<line x1="59.60" y1="409.63" x2="64.10" y2="409.63" stroke="#141414" stroke-width="1.5" />
<line x1="59.60" y1="422.74" x2="62.10" y2="422.74" stroke="#141414" stroke-width="1.5" />
<text x="54.10" y="413.63" font-size="11.4" fill="#1a1a1a" text-anchor="end" >3.52</text>
<line x1="59.60" y1="435.85" x2="64.10" y2="435.85" stroke="#141414" stroke-width="1.5" />
<line x1="59.60" y1="448.96" x2="62.10" y2="448.96" stroke="#141414" stroke-width="1.5" />
<text x="54.10" y="439.85" font-size="11.4" fill="#1a1a1a" text-anchor="end" >3.50</text>
<line x1="59.60" y1="462.08" x2="64.10" y2="462.08" stroke="#141414" stroke-width="1.5" />
<line x1="59.60" y1="475.19" x2="62.10" y2="475.19" stroke="#141414" stroke-width="1.5" />
<text x="54.10" y="466.08" font-size="11.4" fill="#1a1a1a" text-anchor="end" >3.48</text>
<line x1="59.60" y1="488.30" x2="64.10" y2="488.30" stroke="#141414" stroke-width="1.5" />
<text x="54.10" y="492.30" font-size="11.4" fill="#1a1a1a" text-anchor="end" >3.46</text>
<line x1="296.90" y1="278.50" x2="292.40" y2="278.50" stroke="#ff1a1a" stroke-width="1.5" />
<line x1="296.90" y1="293.49" x2="294.40" y2="293.49" stroke="#ff1a1a" stroke-width="1.5" />
<text x="302.90" y="282.50" font-size="11.4" fill="#ff1a1a" text-anchor="start" >114.6°</text>
<line x1="296.90" y1="308.47" x2="292.40" y2="308.47" stroke="#ff1a1a" stroke-width="1.5" />
<line x1="296.90" y1="323.46" x2="294.40" y2="323.46" stroke="#ff1a1a" stroke-width="1.5" />
<text x="302.90" y="312.47" font-size="11.4" fill="#ff1a1a" text-anchor="start" >114.4°</text>
<line x1="296.90" y1="338.44" x2="292.40" y2="338.44" stroke="#ff1a1a" stroke-width="1.5" />
<line x1="296.90" y1="353.43" x2="294.40" y2="353.43" stroke="#ff1a1a" stroke-width="1.5" />
<text x="302.90" y="342.44" font-size="11.4" fill="#ff1a1a" text-anchor="start" >114.2°</text>
<line x1="296.90" y1="368.41" x2="292.40" y2="368.41" stroke="#ff1a1a" stroke-width="1.5" />
<line x1="296.90" y1="383.40" x2="294.40" y2="383.40" stroke="#ff1a1a" stroke-width="1.5" />
<text x="302.90" y="372.41" font-size="11.4" fill="#ff1a1a" text-anchor="start" >114.0°</text>
<line x1="296.90" y1="398.39" x2="292.40" y2="398.39" stroke="#ff1a1a" stroke-width="1.5" />
<line x1="296.90" y1="413.37" x2="294.40" y2="413.37" stroke="#ff1a1a" stroke-width="1.5" />
<text x="302.90" y="402.39" font-size="11.4" fill="#ff1a1a" text-anchor="start" >113.8°</text>
<line x1="296.90" y1="428.36" x2="292.40" y2="428.36" stroke="#ff1a1a" stroke-width="1.5" />
<line x1="296.90" y1="443.34" x2="294.40" y2="443.34" stroke="#ff1a1a" stroke-width="1.5" />
<text x="302.90" y="432.36" font-size="11.4" fill="#ff1a1a" text-anchor="start" >113.6°</text>
<line x1="296.90" y1="458.33" x2="292.40" y2="458.33" stroke="#ff1a1a" stroke-width="1.5" />
<line x1="296.90" y1="473.31" x2="294.40" y2="473.31" stroke="#ff1a1a" stroke-width="1.5" />
<text x="302.90" y="462.33" font-size="11.4" fill="#ff1a1a" text-anchor="start" >113.4°</text>
<line x1="296.90" y1="488.30" x2="292.40" y2="488.30" stroke="#ff1a1a" stroke-width="1.5" />
<text x="302.90" y="492.30" font-size="11.4" fill="#ff1a1a" text-anchor="start" >113.2°</text>
<line x1="82.90" y1="488.30" x2="82.90" y2="483.80" stroke="#141414" stroke-width="1.5" />
<line x1="106.60" y1="488.30" x2="106.60" y2="485.80" stroke="#141414" stroke-width="1.5" />
<text x="82.90" y="503.80" font-size="11.4" fill="#1a1a1a" text-anchor="middle" >+0%</text>
<line x1="130.30" y1="488.30" x2="130.30" y2="483.80" stroke="#141414" stroke-width="1.5" />
<line x1="154.40" y1="488.30" x2="154.40" y2="485.80" stroke="#141414" stroke-width="1.5" />
<text x="130.30" y="503.80" font-size="11.4" fill="#1a1a1a" text-anchor="middle" >+1%</text>
<line x1="178.50" y1="488.30" x2="178.50" y2="483.80" stroke="#141414" stroke-width="1.5" />
<line x1="202.25" y1="488.30" x2="202.25" y2="485.80" stroke="#141414" stroke-width="1.5" />
<text x="178.50" y="503.80" font-size="11.4" fill="#1a1a1a" text-anchor="middle" >+2%</text>
<line x1="226.00" y1="488.30" x2="226.00" y2="483.80" stroke="#141414" stroke-width="1.5" />
<line x1="249.65" y1="488.30" x2="249.65" y2="485.80" stroke="#141414" stroke-width="1.5" />
<text x="226.00" y="503.80" font-size="11.4" fill="#1a1a1a" text-anchor="middle" >+3%</text>
<line x1="273.30" y1="488.30" x2="273.30" y2="483.80" stroke="#141414" stroke-width="1.5" />
<text x="273.30" y="503.80" font-size="11.4" fill="#1a1a1a" text-anchor="middle" >+4%</text>
<text x="178.25" y="519.50" font-size="13.5" fill="#1a1a1a" text-anchor="middle" >Strain (%)</text>
<text x="0" y="0" font-size="13" fill="#1a1a1a" text-anchor="middle" transform="translate(23,384.1) rotate(-90)">CSM</text>
<text x="0" y="0" font-size="13" fill="#ff1a1a" text-anchor="middle" transform="translate(350.5,384) rotate(-90)">θ</text>
<polyline points="82.90,429.70 130.30,393.00 178.50,364.70 226.00,328.00 273.30,300.20" fill="none" stroke="#000" stroke-width="1.6" stroke-linejoin="round" />
<polyline points="82.90,292.30 130.30,324.50 178.50,357.30 226.00,388.50 273.30,419.80" fill="none" stroke="#ff1a1a" stroke-width="1.6" stroke-linejoin="round" />
<defs><radialGradient id="gBall" cx="35%" cy="35%" r="65%"><stop offset="0" stop-color="#888"/><stop offset="0.5" stop-color="#111"/><stop offset="1" stop-color="#000"/></radialGradient><radialGradient id="rBall" cx="35%" cy="35%" r="65%"><stop offset="0" stop-color="#ffb0b0"/><stop offset="0.45" stop-color="#ff1010"/><stop offset="1" stop-color="#c00000"/></radialGradient><radialGradient id="pBall" cx="50%" cy="40%" r="60%"><stop offset="0" stop-color="#ffffff"/><stop offset="0.25" stop-color="#d060f0"/><stop offset="1" stop-color="#8a20b0"/></radialGradient><radialGradient id="oBall" cx="40%" cy="35%" r="65%"><stop offset="0" stop-color="#ff9090"/><stop offset="0.5" stop-color="#e01010"/><stop offset="1" stop-color="#a00000"/></radialGradient></defs>
<circle cx="82.9" cy="429.7" r="4.3" fill="url(#gBall)"/>
<circle cx="130.3" cy="393.0" r="4.3" fill="url(#gBall)"/>
<circle cx="178.5" cy="364.7" r="4.3" fill="url(#gBall)"/>
<circle cx="226.0" cy="328.0" r="4.3" fill="url(#gBall)"/>
<circle cx="273.3" cy="300.2" r="4.3" fill="url(#gBall)"/>
<circle cx="82.9" cy="292.3" r="4.3" fill="url(#rBall)"/>
<circle cx="130.3" cy="324.5" r="4.3" fill="url(#rBall)"/>
<circle cx="178.5" cy="357.3" r="4.3" fill="url(#rBall)"/>
<circle cx="226.0" cy="388.5" r="4.3" fill="url(#rBall)"/>
<circle cx="273.3" cy="419.8" r="4.3" fill="url(#rBall)"/>
<polygon points="158.1,436.5 174.6,442.2 207.4,439.1 191,433.9" fill="#7ed04a" opacity="0.9"/>
<line x1="182.80" y1="421.10" x2="170.45" y2="428.80" stroke="#b040d0" stroke-width="2.2" />
<line x1="170.45" y1="428.80" x2="158.10" y2="436.50" stroke="#d01010" stroke-width="2.2" />
<line x1="182.80" y1="421.10" x2="178.70" y2="431.65" stroke="#b040d0" stroke-width="2.2" />
<line x1="178.70" y1="431.65" x2="174.60" y2="442.20" stroke="#d01010" stroke-width="2.2" />
<line x1="182.80" y1="421.10" x2="186.90" y2="427.50" stroke="#b040d0" stroke-width="2.2" />
<line x1="186.90" y1="427.50" x2="191.00" y2="433.90" stroke="#d01010" stroke-width="2.2" />
<line x1="182.80" y1="421.10" x2="195.10" y2="430.10" stroke="#b040d0" stroke-width="2.2" />
<line x1="195.10" y1="430.10" x2="207.40" y2="439.10" stroke="#d01010" stroke-width="2.2" />
<path d="M 183 412.5 C 178 406, 173.5 400, 173.8 395.5 C 174.2 391, 179 390.5, 183 390.5 C 187 390.5, 192 391, 192.3 395.5 C 192.6 400, 188 406, 183 412.5 Z" fill="#fafafa" stroke="#111" stroke-width="1.5" stroke-dasharray="1.3,1.5"/>
<circle cx="179.4" cy="398.5" r="2" fill="#9aa8b8" stroke="#333" stroke-width="0.6"/>
<circle cx="186.8" cy="398.5" r="2" fill="#9aa8b8" stroke="#333" stroke-width="0.6"/>
<circle cx="182.8" cy="421.1" r="9.5" fill="url(#pBall)"/>
<circle cx="158.1" cy="436.5" r="3.9" fill="url(#oBall)"/>
<circle cx="174.6" cy="442.2" r="3.9" fill="url(#oBall)"/>
<circle cx="191.0" cy="433.9" r="3.9" fill="url(#oBall)"/>
<circle cx="207.4" cy="439.1" r="3.9" fill="url(#oBall)"/>
<path d="M 175 432 Q 183 437 190 431" fill="none" stroke="#e01010" stroke-width="1"/>
<text x="183.80" y="444.00" font-size="9" fill="#e01010" text-anchor="middle" >θ</text>
<line x1="199.50" y1="454.00" x2="194.50" y2="444.50" stroke="#5aa83a" stroke-width="1.6" />
<polygon points="193.2,441.5 192.2,447.5 197.6,445" fill="#5aa83a"/>
<text x="203.60" y="467.20" font-size="12.2" fill="#1a1a1a" text-anchor="middle" >CSM=0</text>
<rect x="399.50" y="279.40" width="237.00" height="209.40" fill="none" stroke="#141414" stroke-width="1.5"/>
<line x1="399.50" y1="488.30" x2="404.00" y2="488.30" stroke="#141414" stroke-width="1.5" />
<line x1="399.50" y1="472.25" x2="402.00" y2="472.25" stroke="#141414" stroke-width="1.5" />
<text x="393.50" y="492.30" font-size="11.4" fill="#1a1a1a" text-anchor="end" >5</text>
<line x1="399.50" y1="456.20" x2="404.00" y2="456.20" stroke="#141414" stroke-width="1.5" />
<line x1="399.50" y1="440.15" x2="402.00" y2="440.15" stroke="#141414" stroke-width="1.5" />
<text x="393.50" y="460.20" font-size="11.4" fill="#1a1a1a" text-anchor="end" >10</text>
<line x1="399.50" y1="424.10" x2="404.00" y2="424.10" stroke="#141414" stroke-width="1.5" />
<line x1="399.50" y1="408.05" x2="402.00" y2="408.05" stroke="#141414" stroke-width="1.5" />
<text x="393.50" y="428.10" font-size="11.4" fill="#1a1a1a" text-anchor="end" >15</text>
<line x1="399.50" y1="392.00" x2="404.00" y2="392.00" stroke="#141414" stroke-width="1.5" />
<line x1="399.50" y1="375.95" x2="402.00" y2="375.95" stroke="#141414" stroke-width="1.5" />
<text x="393.50" y="396.00" font-size="11.4" fill="#1a1a1a" text-anchor="end" >20</text>
<line x1="399.50" y1="359.90" x2="404.00" y2="359.90" stroke="#141414" stroke-width="1.5" />
<line x1="399.50" y1="343.85" x2="402.00" y2="343.85" stroke="#141414" stroke-width="1.5" />
<text x="393.50" y="363.90" font-size="11.4" fill="#1a1a1a" text-anchor="end" >25</text>
<line x1="399.50" y1="327.80" x2="404.00" y2="327.80" stroke="#141414" stroke-width="1.5" />
<line x1="399.50" y1="311.75" x2="402.00" y2="311.75" stroke="#141414" stroke-width="1.5" />
<text x="393.50" y="331.80" font-size="11.4" fill="#1a1a1a" text-anchor="end" >30</text>
<line x1="399.50" y1="295.70" x2="404.00" y2="295.70" stroke="#141414" stroke-width="1.5" />
<text x="393.50" y="299.70" font-size="11.4" fill="#1a1a1a" text-anchor="end" >35</text>
<line x1="415.80" y1="488.80" x2="415.80" y2="484.30" stroke="#141414" stroke-width="1.5" />
<text x="415.80" y="503.50" font-size="11.4" fill="#1a1a1a" text-anchor="middle" >300</text>
<line x1="449.78" y1="488.80" x2="449.78" y2="484.30" stroke="#141414" stroke-width="1.5" />
<text x="449.78" y="503.50" font-size="11.4" fill="#1a1a1a" text-anchor="middle" >400</text>
<line x1="483.76" y1="488.80" x2="483.76" y2="484.30" stroke="#141414" stroke-width="1.5" />
<text x="483.76" y="503.50" font-size="11.4" fill="#1a1a1a" text-anchor="middle" >500</text>
<line x1="517.74" y1="488.80" x2="517.74" y2="484.30" stroke="#141414" stroke-width="1.5" />
<text x="517.74" y="503.50" font-size="11.4" fill="#1a1a1a" text-anchor="middle" >600</text>
<line x1="551.72" y1="488.80" x2="551.72" y2="484.30" stroke="#141414" stroke-width="1.5" />
<text x="551.72" y="503.50" font-size="11.4" fill="#1a1a1a" text-anchor="middle" >700</text>
<line x1="585.70" y1="488.80" x2="585.70" y2="484.30" stroke="#141414" stroke-width="1.5" />
<text x="585.70" y="503.50" font-size="11.4" fill="#1a1a1a" text-anchor="middle" >800</text>
<line x1="619.68" y1="488.80" x2="619.68" y2="484.30" stroke="#141414" stroke-width="1.5" />
<text x="619.68" y="503.50" font-size="11.4" fill="#1a1a1a" text-anchor="middle" >900</text>
<text x="518.00" y="523.40" font-size="13.5" fill="#1a1a1a" text-anchor="middle" >Temperature (K)</text>
<text x="397.5" y="281.6" font-size="11.4" fill="#1a1a1a" text-anchor="end">1×10<tspan dy="-4.5" font-size="8.2">3</tspan></text>
<text transform="translate(371.6,383.3) rotate(-90)" font-size="13.2" fill="#1a1a1a" text-anchor="middle"><tspan font-style="italic">U</tspan><tspan dy="3" font-size="9.5">33</tspan><tspan dy="-3">(Bi) (A</tspan><tspan dy="-5" font-size="9">2</tspan><tspan dy="5">)</tspan></text>
<polyline points="415.80,462.88 432.79,453.39 449.78,443.89 466.77,434.40 483.76,424.91 500.75,415.42 517.74,405.93 534.73,396.44 551.72,386.95 568.71,377.46 585.70,367.97 602.69,358.48 619.68,348.99" fill="none" stroke="#1a1af0" stroke-width="1.3" stroke-linejoin="round" />
<rect x="412.50" y="459.58" width="6.6" height="6.6" fill="#fff" stroke="#1a1af0" stroke-width="1.3"/>
<rect x="415.20" y="462.28" width="1.2" height="1.2" fill="#1a1af0"/>
<rect x="429.49" y="450.09" width="6.6" height="6.6" fill="#fff" stroke="#1a1af0" stroke-width="1.3"/>
<rect x="432.19" y="452.79" width="1.2" height="1.2" fill="#1a1af0"/>
<rect x="446.48" y="440.59" width="6.6" height="6.6" fill="#fff" stroke="#1a1af0" stroke-width="1.3"/>
<rect x="449.18" y="443.29" width="1.2" height="1.2" fill="#1a1af0"/>
<rect x="463.47" y="431.10" width="6.6" height="6.6" fill="#fff" stroke="#1a1af0" stroke-width="1.3"/>
<rect x="466.17" y="433.80" width="1.2" height="1.2" fill="#1a1af0"/>
<rect x="480.46" y="421.61" width="6.6" height="6.6" fill="#fff" stroke="#1a1af0" stroke-width="1.3"/>
<rect x="483.16" y="424.31" width="1.2" height="1.2" fill="#1a1af0"/>
<rect x="497.45" y="412.12" width="6.6" height="6.6" fill="#fff" stroke="#1a1af0" stroke-width="1.3"/>
<rect x="500.15" y="414.82" width="1.2" height="1.2" fill="#1a1af0"/>
<rect x="514.44" y="402.63" width="6.6" height="6.6" fill="#fff" stroke="#1a1af0" stroke-width="1.3"/>
<rect x="517.14" y="405.33" width="1.2" height="1.2" fill="#1a1af0"/>
<rect x="531.43" y="393.14" width="6.6" height="6.6" fill="#fff" stroke="#1a1af0" stroke-width="1.3"/>
<rect x="534.13" y="395.84" width="1.2" height="1.2" fill="#1a1af0"/>
<rect x="548.42" y="383.65" width="6.6" height="6.6" fill="#fff" stroke="#1a1af0" stroke-width="1.3"/>
<rect x="551.12" y="386.35" width="1.2" height="1.2" fill="#1a1af0"/>
<rect x="565.41" y="374.16" width="6.6" height="6.6" fill="#fff" stroke="#1a1af0" stroke-width="1.3"/>
<rect x="568.11" y="376.86" width="1.2" height="1.2" fill="#1a1af0"/>
<rect x="582.40" y="364.67" width="6.6" height="6.6" fill="#fff" stroke="#1a1af0" stroke-width="1.3"/>
<rect x="585.10" y="367.37" width="1.2" height="1.2" fill="#1a1af0"/>
<rect x="599.39" y="355.18" width="6.6" height="6.6" fill="#fff" stroke="#1a1af0" stroke-width="1.3"/>
<rect x="602.09" y="357.88" width="1.2" height="1.2" fill="#1a1af0"/>
<rect x="616.38" y="345.69" width="6.6" height="6.6" fill="#fff" stroke="#1a1af0" stroke-width="1.3"/>
<rect x="619.08" y="348.39" width="1.2" height="1.2" fill="#1a1af0"/>
<polyline points="415.80,459.41 432.79,449.57 449.78,439.72 466.77,429.88 483.76,420.03 500.75,410.19 517.74,400.35 534.73,390.50 551.72,380.66 568.71,370.81 585.70,360.97 602.69,351.13 619.68,341.28" fill="none" stroke="#9090fa" stroke-width="1.3" stroke-linejoin="round" />
<rect x="412.50" y="456.11" width="6.6" height="6.6" fill="#fff" stroke="#9090fa" stroke-width="1.3"/>
<rect x="415.20" y="458.81" width="1.2" height="1.2" fill="#9090fa"/>
<rect x="429.49" y="446.27" width="6.6" height="6.6" fill="#fff" stroke="#9090fa" stroke-width="1.3"/>
<rect x="432.19" y="448.97" width="1.2" height="1.2" fill="#9090fa"/>
<rect x="446.48" y="436.42" width="6.6" height="6.6" fill="#fff" stroke="#9090fa" stroke-width="1.3"/>
<rect x="449.18" y="439.12" width="1.2" height="1.2" fill="#9090fa"/>
<rect x="463.47" y="426.58" width="6.6" height="6.6" fill="#fff" stroke="#9090fa" stroke-width="1.3"/>
<rect x="466.17" y="429.28" width="1.2" height="1.2" fill="#9090fa"/>
<rect x="480.46" y="416.73" width="6.6" height="6.6" fill="#fff" stroke="#9090fa" stroke-width="1.3"/>
<rect x="483.16" y="419.43" width="1.2" height="1.2" fill="#9090fa"/>
<rect x="497.45" y="406.89" width="6.6" height="6.6" fill="#fff" stroke="#9090fa" stroke-width="1.3"/>
<rect x="500.15" y="409.59" width="1.2" height="1.2" fill="#9090fa"/>
<rect x="514.44" y="397.05" width="6.6" height="6.6" fill="#fff" stroke="#9090fa" stroke-width="1.3"/>
<rect x="517.14" y="399.75" width="1.2" height="1.2" fill="#9090fa"/>
<rect x="531.43" y="387.20" width="6.6" height="6.6" fill="#fff" stroke="#9090fa" stroke-width="1.3"/>
<rect x="534.13" y="389.90" width="1.2" height="1.2" fill="#9090fa"/>
<rect x="548.42" y="377.36" width="6.6" height="6.6" fill="#fff" stroke="#9090fa" stroke-width="1.3"/>
<rect x="551.12" y="380.06" width="1.2" height="1.2" fill="#9090fa"/>
<rect x="565.41" y="367.51" width="6.6" height="6.6" fill="#fff" stroke="#9090fa" stroke-width="1.3"/>
<rect x="568.11" y="370.21" width="1.2" height="1.2" fill="#9090fa"/>
<rect x="582.40" y="357.67" width="6.6" height="6.6" fill="#fff" stroke="#9090fa" stroke-width="1.3"/>
<rect x="585.10" y="360.37" width="1.2" height="1.2" fill="#9090fa"/>
<rect x="599.39" y="347.83" width="6.6" height="6.6" fill="#fff" stroke="#9090fa" stroke-width="1.3"/>
<rect x="602.09" y="350.53" width="1.2" height="1.2" fill="#9090fa"/>
<rect x="616.38" y="337.98" width="6.6" height="6.6" fill="#fff" stroke="#9090fa" stroke-width="1.3"/>
<rect x="619.08" y="340.68" width="1.2" height="1.2" fill="#9090fa"/>
<polyline points="415.80,457.03 432.79,446.53 449.78,436.03 466.77,425.53 483.76,415.03 500.75,404.52 517.74,394.02 534.73,383.52 551.72,373.02 568.71,362.52 585.70,352.01 602.69,341.51 619.68,331.01" fill="none" stroke="#b8b8b8" stroke-width="1.3" stroke-linejoin="round" />
<rect x="412.50" y="453.73" width="6.6" height="6.6" fill="#fff" stroke="#b8b8b8" stroke-width="1.3"/>
<rect x="415.20" y="456.43" width="1.2" height="1.2" fill="#b8b8b8"/>
<rect x="429.49" y="443.23" width="6.6" height="6.6" fill="#fff" stroke="#b8b8b8" stroke-width="1.3"/>
<rect x="432.19" y="445.93" width="1.2" height="1.2" fill="#b8b8b8"/>
<rect x="446.48" y="432.73" width="6.6" height="6.6" fill="#fff" stroke="#b8b8b8" stroke-width="1.3"/>
<rect x="449.18" y="435.43" width="1.2" height="1.2" fill="#b8b8b8"/>
<rect x="463.47" y="422.23" width="6.6" height="6.6" fill="#fff" stroke="#b8b8b8" stroke-width="1.3"/>
<rect x="466.17" y="424.93" width="1.2" height="1.2" fill="#b8b8b8"/>
<rect x="480.46" y="411.73" width="6.6" height="6.6" fill="#fff" stroke="#b8b8b8" stroke-width="1.3"/>
<rect x="483.16" y="414.43" width="1.2" height="1.2" fill="#b8b8b8"/>
<rect x="497.45" y="401.22" width="6.6" height="6.6" fill="#fff" stroke="#b8b8b8" stroke-width="1.3"/>
<rect x="500.15" y="403.92" width="1.2" height="1.2" fill="#b8b8b8"/>
<rect x="514.44" y="390.72" width="6.6" height="6.6" fill="#fff" stroke="#b8b8b8" stroke-width="1.3"/>
<rect x="517.14" y="393.42" width="1.2" height="1.2" fill="#b8b8b8"/>
<rect x="531.43" y="380.22" width="6.6" height="6.6" fill="#fff" stroke="#b8b8b8" stroke-width="1.3"/>
<rect x="534.13" y="382.92" width="1.2" height="1.2" fill="#b8b8b8"/>
<rect x="548.42" y="369.72" width="6.6" height="6.6" fill="#fff" stroke="#b8b8b8" stroke-width="1.3"/>
<rect x="551.12" y="372.42" width="1.2" height="1.2" fill="#b8b8b8"/>
<rect x="565.41" y="359.22" width="6.6" height="6.6" fill="#fff" stroke="#b8b8b8" stroke-width="1.3"/>
<rect x="568.11" y="361.92" width="1.2" height="1.2" fill="#b8b8b8"/>
<rect x="582.40" y="348.71" width="6.6" height="6.6" fill="#fff" stroke="#b8b8b8" stroke-width="1.3"/>
<rect x="585.10" y="351.41" width="1.2" height="1.2" fill="#b8b8b8"/>
<rect x="599.39" y="338.21" width="6.6" height="6.6" fill="#fff" stroke="#b8b8b8" stroke-width="1.3"/>
<rect x="602.09" y="340.91" width="1.2" height="1.2" fill="#b8b8b8"/>
<rect x="616.38" y="327.71" width="6.6" height="6.6" fill="#fff" stroke="#b8b8b8" stroke-width="1.3"/>
<rect x="619.08" y="330.41" width="1.2" height="1.2" fill="#b8b8b8"/>
<polyline points="415.80,450.42 432.79,438.87 449.78,427.31 466.77,415.75 483.76,404.20 500.75,392.64 517.74,381.09 534.73,369.53 551.72,357.97 568.71,346.42 585.70,334.86 602.69,323.31 619.68,311.75" fill="none" stroke="#ff9a9a" stroke-width="1.3" stroke-linejoin="round" />
<rect x="412.50" y="447.12" width="6.6" height="6.6" fill="#fff" stroke="#ff9a9a" stroke-width="1.3"/>
<rect x="415.20" y="449.82" width="1.2" height="1.2" fill="#ff9a9a"/>
<rect x="429.49" y="435.57" width="6.6" height="6.6" fill="#fff" stroke="#ff9a9a" stroke-width="1.3"/>
<rect x="432.19" y="438.27" width="1.2" height="1.2" fill="#ff9a9a"/>
<rect x="446.48" y="424.01" width="6.6" height="6.6" fill="#fff" stroke="#ff9a9a" stroke-width="1.3"/>
<rect x="449.18" y="426.71" width="1.2" height="1.2" fill="#ff9a9a"/>
<rect x="463.47" y="412.45" width="6.6" height="6.6" fill="#fff" stroke="#ff9a9a" stroke-width="1.3"/>
<rect x="466.17" y="415.15" width="1.2" height="1.2" fill="#ff9a9a"/>
<rect x="480.46" y="400.90" width="6.6" height="6.6" fill="#fff" stroke="#ff9a9a" stroke-width="1.3"/>
<rect x="483.16" y="403.60" width="1.2" height="1.2" fill="#ff9a9a"/>
<rect x="497.45" y="389.34" width="6.6" height="6.6" fill="#fff" stroke="#ff9a9a" stroke-width="1.3"/>
<rect x="500.15" y="392.04" width="1.2" height="1.2" fill="#ff9a9a"/>
<rect x="514.44" y="377.79" width="6.6" height="6.6" fill="#fff" stroke="#ff9a9a" stroke-width="1.3"/>
<rect x="517.14" y="380.49" width="1.2" height="1.2" fill="#ff9a9a"/>
<rect x="531.43" y="366.23" width="6.6" height="6.6" fill="#fff" stroke="#ff9a9a" stroke-width="1.3"/>
<rect x="534.13" y="368.93" width="1.2" height="1.2" fill="#ff9a9a"/>
<rect x="548.42" y="354.67" width="6.6" height="6.6" fill="#fff" stroke="#ff9a9a" stroke-width="1.3"/>
<rect x="551.12" y="357.37" width="1.2" height="1.2" fill="#ff9a9a"/>
<rect x="565.41" y="343.12" width="6.6" height="6.6" fill="#fff" stroke="#ff9a9a" stroke-width="1.3"/>
<rect x="568.11" y="345.82" width="1.2" height="1.2" fill="#ff9a9a"/>
<rect x="582.40" y="331.56" width="6.6" height="6.6" fill="#fff" stroke="#ff9a9a" stroke-width="1.3"/>
<rect x="585.10" y="334.26" width="1.2" height="1.2" fill="#ff9a9a"/>
<rect x="599.39" y="320.01" width="6.6" height="6.6" fill="#fff" stroke="#ff9a9a" stroke-width="1.3"/>
<rect x="602.09" y="322.71" width="1.2" height="1.2" fill="#ff9a9a"/>
<rect x="616.38" y="308.45" width="6.6" height="6.6" fill="#fff" stroke="#ff9a9a" stroke-width="1.3"/>
<rect x="619.08" y="311.15" width="1.2" height="1.2" fill="#ff9a9a"/>
<polyline points="415.80,444.00 432.79,431.38 449.78,418.75 466.77,406.12 483.76,393.50 500.75,380.87 517.74,368.25 534.73,355.62 551.72,342.99 568.71,330.37 585.70,317.74 602.69,305.12 619.68,292.49" fill="none" stroke="#f51515" stroke-width="1.3" stroke-linejoin="round" />
<rect x="412.50" y="440.70" width="6.6" height="6.6" fill="#fff" stroke="#f51515" stroke-width="1.3"/>
<rect x="415.20" y="443.40" width="1.2" height="1.2" fill="#f51515"/>
<rect x="429.49" y="428.08" width="6.6" height="6.6" fill="#fff" stroke="#f51515" stroke-width="1.3"/>
<rect x="432.19" y="430.78" width="1.2" height="1.2" fill="#f51515"/>
<rect x="446.48" y="415.45" width="6.6" height="6.6" fill="#fff" stroke="#f51515" stroke-width="1.3"/>
<rect x="449.18" y="418.15" width="1.2" height="1.2" fill="#f51515"/>
<rect x="463.47" y="402.82" width="6.6" height="6.6" fill="#fff" stroke="#f51515" stroke-width="1.3"/>
<rect x="466.17" y="405.52" width="1.2" height="1.2" fill="#f51515"/>
<rect x="480.46" y="390.20" width="6.6" height="6.6" fill="#fff" stroke="#f51515" stroke-width="1.3"/>
<rect x="483.16" y="392.90" width="1.2" height="1.2" fill="#f51515"/>
<rect x="497.45" y="377.57" width="6.6" height="6.6" fill="#fff" stroke="#f51515" stroke-width="1.3"/>
<rect x="500.15" y="380.27" width="1.2" height="1.2" fill="#f51515"/>
<rect x="514.44" y="364.95" width="6.6" height="6.6" fill="#fff" stroke="#f51515" stroke-width="1.3"/>
<rect x="517.14" y="367.65" width="1.2" height="1.2" fill="#f51515"/>
<rect x="531.43" y="352.32" width="6.6" height="6.6" fill="#fff" stroke="#f51515" stroke-width="1.3"/>
<rect x="534.13" y="355.02" width="1.2" height="1.2" fill="#f51515"/>
<rect x="548.42" y="339.69" width="6.6" height="6.6" fill="#fff" stroke="#f51515" stroke-width="1.3"/>
<rect x="551.12" y="342.39" width="1.2" height="1.2" fill="#f51515"/>
<rect x="565.41" y="327.07" width="6.6" height="6.6" fill="#fff" stroke="#f51515" stroke-width="1.3"/>
<rect x="568.11" y="329.77" width="1.2" height="1.2" fill="#f51515"/>
<rect x="582.40" y="314.44" width="6.6" height="6.6" fill="#fff" stroke="#f51515" stroke-width="1.3"/>
<rect x="585.10" y="317.14" width="1.2" height="1.2" fill="#f51515"/>
<rect x="599.39" y="301.82" width="6.6" height="6.6" fill="#fff" stroke="#f51515" stroke-width="1.3"/>
<rect x="602.09" y="304.52" width="1.2" height="1.2" fill="#f51515"/>
<rect x="616.38" y="289.19" width="6.6" height="6.6" fill="#fff" stroke="#f51515" stroke-width="1.3"/>
<rect x="619.08" y="291.89" width="1.2" height="1.2" fill="#f51515"/>
<line x1="540.20" y1="417.30" x2="563.00" y2="417.30" stroke="#1a1af0" stroke-width="1.3" />
<rect x="548.30" y="414.00" width="6.6" height="6.6" fill="#fff" stroke="#1a1af0" stroke-width="1.3"/>
<rect x="551.00" y="416.70" width="1.2" height="1.2" fill="#1a1af0"/>
<text x="566.00" y="421.00" font-size="10.3" fill="#1a1af0" text-anchor="start" >Strain+0%</text>
<line x1="540.20" y1="429.90" x2="563.00" y2="429.90" stroke="#9090fa" stroke-width="1.3" />
<rect x="548.30" y="426.60" width="6.6" height="6.6" fill="#fff" stroke="#9090fa" stroke-width="1.3"/>
<rect x="551.00" y="429.30" width="1.2" height="1.2" fill="#9090fa"/>
<text x="566.00" y="433.60" font-size="10.3" fill="#9090fa" text-anchor="start" >Strain+1%</text>
<line x1="540.20" y1="442.50" x2="563.00" y2="442.50" stroke="#b8b8b8" stroke-width="1.3" />
<rect x="548.30" y="439.20" width="6.6" height="6.6" fill="#fff" stroke="#b8b8b8" stroke-width="1.3"/>
<rect x="551.00" y="441.90" width="1.2" height="1.2" fill="#b8b8b8"/>
<text x="566.00" y="446.20" font-size="10.3" fill="#606060" text-anchor="start" >Strain+2%</text>
<line x1="540.20" y1="455.10" x2="563.00" y2="455.10" stroke="#ff9a9a" stroke-width="1.3" />
<rect x="548.30" y="451.80" width="6.6" height="6.6" fill="#fff" stroke="#ff9a9a" stroke-width="1.3"/>
<rect x="551.00" y="454.50" width="1.2" height="1.2" fill="#ff9a9a"/>
<text x="566.00" y="458.80" font-size="10.3" fill="#ff9a9a" text-anchor="start" >Strain+3%</text>
<line x1="540.20" y1="467.70" x2="563.00" y2="467.70" stroke="#f51515" stroke-width="1.3" />
<rect x="548.30" y="464.40" width="6.6" height="6.6" fill="#fff" stroke="#f51515" stroke-width="1.3"/>
<rect x="551.00" y="467.10" width="1.2" height="1.2" fill="#f51515"/>
<text x="566.00" y="471.40" font-size="10.3" fill="#f51515" text-anchor="start" >Strain+4%</text>
<text x="416.3" y="320.3" font-size="12.6" fill="#ee2222"><tspan font-style="italic">U</tspan><tspan dy="2.5" font-size="9">33</tspan><tspan dy="-2.5">(Bi)</tspan></text>
<line x1="460.80" y1="308.00" x2="460.80" y2="325.00" stroke="#000" stroke-width="1.9" />
<polygon points="460.8,303.4 456.6,310.6 465,310.6" fill="#000"/>
<polygon points="460.8,328.6 456.6,321.4 465,321.4" fill="#000"/>
<defs><radialGradient id="pB2" cx="45%" cy="40%" r="60%"><stop offset="0" stop-color="#ffb8ff"/><stop offset="0.4" stop-color="#cc44dd"/><stop offset="1" stop-color="#8a1aa0"/></radialGradient></defs>
<circle cx="478.3" cy="314.8" r="11.2" fill="url(#pB2)" stroke="#5a1070" stroke-width="0.5"/>
<line x1="467.10" y1="314.80" x2="489.50" y2="314.80" stroke="#3a0a50" stroke-width="0.9" />
<line x1="478.30" y1="303.60" x2="478.30" y2="326.00" stroke="#3a0a50" stroke-width="0.9" />
<polygon points="494,312 501.5,312 501.5,309.5 508.7,315.3 501.5,321 501.5,318.5 494,318.5" fill="#4a86d0"/>
<text x="500.50" y="306.90" font-size="12.5" fill="#1a1a1a" text-anchor="middle" >Bi</text>
<defs><radialGradient id="pB3" cx="50%" cy="45%" r="55%"><stop offset="0" stop-color="#ffffff"/><stop offset="0.22" stop-color="#e070f0"/><stop offset="0.6" stop-color="#c040dd"/><stop offset="1" stop-color="#9a20b8"/></radialGradient></defs>
<path d="M 523.3 300.8 C 519.5 297, 517.6 293, 518 290.8 C 518.6 288.6, 521.3 288.6, 523.3 289 C 525.3 288.6, 528 288.6, 528.6 290.8 C 529 293, 527.1 297, 523.3 300.8 Z" fill="#fafafa" stroke="#222" stroke-width="1" stroke-dasharray="1.1,1"/>
<path d="M 523.3 330.6 C 519.5 334.4, 517.6 338.4, 518 340.6 C 518.6 342.8, 521.3 342.8, 523.3 342.4 C 525.3 342.8, 528 342.8, 528.6 340.6 C 529 338.4, 527.1 334.4, 523.3 330.6 Z" fill="#fafafa" stroke="#222" stroke-width="1" stroke-dasharray="1.1,1"/>
<circle cx="521.6" cy="292.3" r="0.9" fill="#111"/><circle cx="525" cy="292.3" r="0.9" fill="#111"/>
<circle cx="521.6" cy="338.8" r="0.9" fill="#111"/><circle cx="525" cy="338.8" r="0.9" fill="#111"/>
<ellipse cx="523.3" cy="315.2" rx="7.6" ry="5.6" fill="none" stroke="#222" stroke-width="0.9" stroke-dasharray="1.5,0.8"/>
<line x1="519.50" y1="312.00" x2="527.00" y2="318.40" stroke="#222" stroke-width="0.8" />
<line x1="527.00" y1="312.00" x2="519.50" y2="318.40" stroke="#222" stroke-width="0.8" />
<line x1="512.60" y1="315.20" x2="535.50" y2="315.20" stroke="#111" stroke-width="1.2" />
<circle cx="523.5" cy="306.5" r="6.5" fill="url(#pB3)"/>
<circle cx="523.5" cy="324.6" r="6.5" fill="url(#pB3)"/>
<rect x="59.50" y="538.50" width="237.70" height="209.70" fill="none" stroke="#141414" stroke-width="1.5"/>
<line x1="59.50" y1="538.50" x2="64.00" y2="538.50" stroke="#141414" stroke-width="1.5" />
<line x1="59.50" y1="559.47" x2="62.00" y2="559.47" stroke="#141414" stroke-width="1.5" />
<text x="54.00" y="542.50" font-size="11.4" fill="#1a1a1a" text-anchor="end" >1.656</text>
<line x1="59.50" y1="580.44" x2="64.00" y2="580.44" stroke="#141414" stroke-width="1.5" />
<line x1="59.50" y1="601.41" x2="62.00" y2="601.41" stroke="#141414" stroke-width="1.5" />
<text x="54.00" y="584.44" font-size="11.4" fill="#1a1a1a" text-anchor="end" >1.652</text>
<line x1="59.50" y1="622.38" x2="64.00" y2="622.38" stroke="#141414" stroke-width="1.5" />
<line x1="59.50" y1="643.35" x2="62.00" y2="643.35" stroke="#141414" stroke-width="1.5" />
<text x="54.00" y="626.38" font-size="11.4" fill="#1a1a1a" text-anchor="end" >1.648</text>
<line x1="59.50" y1="664.32" x2="64.00" y2="664.32" stroke="#141414" stroke-width="1.5" />
<line x1="59.50" y1="685.29" x2="62.00" y2="685.29" stroke="#141414" stroke-width="1.5" />
<text x="54.00" y="668.32" font-size="11.4" fill="#1a1a1a" text-anchor="end" >1.644</text>
<line x1="59.50" y1="706.26" x2="64.00" y2="706.26" stroke="#141414" stroke-width="1.5" />
<line x1="59.50" y1="727.23" x2="62.00" y2="727.23" stroke="#141414" stroke-width="1.5" />
<text x="54.00" y="710.26" font-size="11.4" fill="#1a1a1a" text-anchor="end" >1.640</text>
<line x1="59.50" y1="748.20" x2="64.00" y2="748.20" stroke="#141414" stroke-width="1.5" />
<text x="54.00" y="752.20" font-size="11.4" fill="#1a1a1a" text-anchor="end" >1.636</text>
<line x1="83.20" y1="748.20" x2="83.20" y2="743.70" stroke="#141414" stroke-width="1.5" />
<text x="83.20" y="762.20" font-size="11.4" fill="#1a1a1a" text-anchor="middle" >+0%</text>
<line x1="130.50" y1="748.20" x2="130.50" y2="743.70" stroke="#141414" stroke-width="1.5" />
<text x="130.50" y="762.20" font-size="11.4" fill="#1a1a1a" text-anchor="middle" >+1%</text>
<line x1="177.80" y1="748.20" x2="177.80" y2="743.70" stroke="#141414" stroke-width="1.5" />
<text x="177.80" y="762.20" font-size="11.4" fill="#1a1a1a" text-anchor="middle" >+2%</text>
<line x1="225.20" y1="748.20" x2="225.20" y2="743.70" stroke="#141414" stroke-width="1.5" />
<text x="225.20" y="762.20" font-size="11.4" fill="#1a1a1a" text-anchor="middle" >+3%</text>
<line x1="272.50" y1="748.20" x2="272.50" y2="743.70" stroke="#141414" stroke-width="1.5" />
<text x="272.50" y="762.20" font-size="11.4" fill="#1a1a1a" text-anchor="middle" >+4%</text>
<text x="178.35" y="781.80" font-size="13.5" fill="#1a1a1a" text-anchor="middle" >Strain (%)</text>
<text x="0" y="0" font-size="13.5" fill="#1a1a1a" text-anchor="middle" transform="translate(17.8,638.1) rotate(-90)">Bader charge (eV)</text>
<polyline points="59.50,588.90 107.50,588.90 107.50,614.60 155.20,614.60 155.20,622.40 202.00,622.40 202.00,676.00 249.30,676.00 249.30,728.30 297.20,728.30" fill="none" stroke="#ff1aff" stroke-width="1.6" stroke-linejoin="round" stroke-linejoin="miter"/>
<defs><radialGradient id="elf" cx="50%" cy="100%" r="100%" fx="50%" fy="100%" gradientTransform="translate(0.5,1) scale(1,1.6) translate(-0.5,-1)"><stop offset="0" stop-color="#0000e0"/><stop offset="0.3" stop-color="#0000e0"/><stop offset="0.42" stop-color="#00c8ff"/><stop offset="0.55" stop-color="#30e050"/><stop offset="0.65" stop-color="#f0f000"/><stop offset="0.74" stop-color="#40e060"/><stop offset="0.82" stop-color="#00a0ff"/><stop offset="0.9" stop-color="#0010f0"/><stop offset="1" stop-color="#0000e0"/></radialGradient><linearGradient id="cbar" x1="0" y1="1" x2="0" y2="0"><stop offset="0" stop-color="#0000ff"/><stop offset="0.12" stop-color="#0060ff"/><stop offset="0.25" stop-color="#00e0ff"/><stop offset="0.38" stop-color="#00f080"/><stop offset="0.5" stop-color="#00e000"/><stop offset="0.62" stop-color="#a0f000"/><stop offset="0.75" stop-color="#ffe000"/><stop offset="0.88" stop-color="#ff8000"/><stop offset="1" stop-color="#ff1000"/></linearGradient></defs>
<defs><filter id="blur1" x="-50%" y="-50%" width="200%" height="200%"><feGaussianBlur stdDeviation="0.9"/></filter><linearGradient id="elfbot" x1="0" y1="0" x2="0" y2="1"><stop offset="0" stop-color="#0010f0" stop-opacity="0"/><stop offset="1" stop-color="#0010f0" stop-opacity="0.85"/></linearGradient></defs>
<defs><radialGradient id="elf0" gradientUnits="userSpaceOnUse" cx="84.10" cy="588.80" r="19.5" gradientTransform="translate(84.10,588.80) scale(1,1.27) translate(-84.10,-588.80)"><stop offset="0" stop-color="#0008f0"/><stop offset="0.40" stop-color="#0010f0"/><stop offset="0.47" stop-color="#00a0ff"/><stop offset="0.56" stop-color="#00e070"/><stop offset="0.69" stop-color="#50e838"/><stop offset="0.80" stop-color="#20e040"/><stop offset="0.90" stop-color="#00d0ff"/><stop offset="1" stop-color="#0028f4"/><stop offset="1.0" stop-color="#0018f0"/></radialGradient></defs>
<rect x="62" y="564.2" width="44.2" height="24.6" fill="url(#elf0)"/>
<clipPath id="celf0"><rect x="62" y="564.2" width="44.2" height="24.6"/></clipPath>
<g clip-path="url(#celf0)"><path d="M 75.10 576.10 A 13.45 17.09 0 0 1 93.10 576.10" fill="none" stroke="#e8f000" stroke-width="4.4" stroke-linecap="round" filter="url(#blur1)"/>
<path d="M 79.50 572.74 A 13.45 17.09 0 0 1 88.70 572.74" fill="none" stroke="#f8f000" stroke-width="2.4" stroke-linecap="round" filter="url(#blur1)"/></g>
<rect x="62" y="583.80" width="44.2" height="5" fill="url(#elfbot)"/>
<ellipse cx="83.30" cy="585.80" rx="1.8" ry="1.6" fill="#ff3000"/>
<ellipse cx="83.30" cy="583.60" rx="1.6" ry="1" fill="#40c0ff"/>
<text x="84.70" y="588.20" font-size="10.5" fill="#000" text-anchor="middle" >Bi</text>
<defs><radialGradient id="elf1" gradientUnits="userSpaceOnUse" cx="131.80" cy="614.60" r="20" gradientTransform="translate(131.80,614.60) scale(1,1.27) translate(-131.80,-614.60)"><stop offset="0" stop-color="#0008f0"/><stop offset="0.40" stop-color="#0010f0"/><stop offset="0.47" stop-color="#00a0ff"/><stop offset="0.56" stop-color="#00e070"/><stop offset="0.69" stop-color="#50e838"/><stop offset="0.80" stop-color="#20e040"/><stop offset="0.90" stop-color="#00d0ff"/><stop offset="1" stop-color="#0028f4"/><stop offset="1.0" stop-color="#0018f0"/></radialGradient></defs>
<rect x="108.6" y="588.6" width="46.4" height="26" fill="url(#elf1)"/>
<clipPath id="celf1"><rect x="108.6" y="588.6" width="46.4" height="26"/></clipPath>
<g clip-path="url(#celf1)"><path d="M 122.57 601.58 A 13.80 17.53 0 0 1 141.03 601.58" fill="none" stroke="#e8f000" stroke-width="4.4" stroke-linecap="round" filter="url(#blur1)"/>
<path d="M 127.08 598.13 A 13.80 17.53 0 0 1 136.52 598.13" fill="none" stroke="#ffe000" stroke-width="2.4" stroke-linecap="round" filter="url(#blur1)"/></g>
<rect x="108.6" y="609.60" width="46.4" height="5" fill="url(#elfbot)"/>
<ellipse cx="131.00" cy="611.60" rx="1.8" ry="1.6" fill="#ff3000"/>
<ellipse cx="131.00" cy="609.40" rx="1.6" ry="1" fill="#40c0ff"/>
<text x="132.40" y="614.00" font-size="10.5" fill="#000" text-anchor="middle" >Bi</text>
<defs><radialGradient id="elf2" gradientUnits="userSpaceOnUse" cx="178.55" cy="622.30" r="20.5" gradientTransform="translate(178.55,622.30) scale(1,1.27) translate(-178.55,-622.30)"><stop offset="0" stop-color="#0008f0"/><stop offset="0.40" stop-color="#0010f0"/><stop offset="0.47" stop-color="#00a0ff"/><stop offset="0.56" stop-color="#00e070"/><stop offset="0.69" stop-color="#50e838"/><stop offset="0.80" stop-color="#20e040"/><stop offset="0.90" stop-color="#00d0ff"/><stop offset="1" stop-color="#0028f4"/><stop offset="1.0" stop-color="#0018f0"/></radialGradient></defs>
<rect x="155.4" y="598.8" width="46.3" height="23.5" fill="url(#elf2)"/>
<clipPath id="celf2"><rect x="155.4" y="598.8" width="46.3" height="23.5"/></clipPath>
<g clip-path="url(#celf2)"><path d="M 169.09 608.95 A 14.14 17.96 0 0 1 188.01 608.95" fill="none" stroke="#e8f000" stroke-width="4.4" stroke-linecap="round" filter="url(#blur1)"/>
<path d="M 173.71 605.42 A 14.14 17.96 0 0 1 183.39 605.42" fill="none" stroke="#ffc000" stroke-width="2.4" stroke-linecap="round" filter="url(#blur1)"/></g>
<rect x="155.4" y="617.30" width="46.3" height="5" fill="url(#elfbot)"/>
<ellipse cx="177.75" cy="619.30" rx="1.8" ry="1.6" fill="#ff3000"/>
<ellipse cx="177.75" cy="617.10" rx="1.6" ry="1" fill="#40c0ff"/>
<text x="179.15" y="621.70" font-size="10.5" fill="#000" text-anchor="middle" >Bi</text>
<defs><radialGradient id="elf3" gradientUnits="userSpaceOnUse" cx="226.00" cy="675.30" r="21" gradientTransform="translate(226.00,675.30) scale(1,1.27) translate(-226.00,-675.30)"><stop offset="0" stop-color="#0008f0"/><stop offset="0.40" stop-color="#0010f0"/><stop offset="0.47" stop-color="#00a0ff"/><stop offset="0.56" stop-color="#00e070"/><stop offset="0.69" stop-color="#50e838"/><stop offset="0.80" stop-color="#20e040"/><stop offset="0.90" stop-color="#00d0ff"/><stop offset="1" stop-color="#0028f4"/><stop offset="1.0" stop-color="#0018f0"/></radialGradient></defs>
<rect x="202.8" y="649.5" width="46.4" height="25.8" fill="url(#elf3)"/>
<clipPath id="celf3"><rect x="202.8" y="649.5" width="46.4" height="25.8"/></clipPath>
<g clip-path="url(#celf3)"><path d="M 216.30 661.62 A 14.49 18.40 0 0 1 235.70 661.62" fill="none" stroke="#e8f000" stroke-width="4.4" stroke-linecap="round" filter="url(#blur1)"/>
<path d="M 221.04 658.01 A 14.49 18.40 0 0 1 230.96 658.01" fill="none" stroke="#ffa000" stroke-width="2.4" stroke-linecap="round" filter="url(#blur1)"/></g>
<rect x="202.8" y="670.30" width="46.4" height="5" fill="url(#elfbot)"/>
<ellipse cx="225.20" cy="672.30" rx="1.8" ry="1.6" fill="#ff3000"/>
<ellipse cx="225.20" cy="670.10" rx="1.6" ry="1" fill="#40c0ff"/>
<text x="226.60" y="674.70" font-size="10.5" fill="#000" text-anchor="middle" >Bi</text>
<defs><radialGradient id="elf4" gradientUnits="userSpaceOnUse" cx="273.00" cy="727.20" r="19.5" gradientTransform="translate(273.00,727.20) scale(1,1.27) translate(-273.00,-727.20)"><stop offset="0" stop-color="#0008f0"/><stop offset="0.40" stop-color="#0010f0"/><stop offset="0.47" stop-color="#00a0ff"/><stop offset="0.56" stop-color="#00e070"/><stop offset="0.69" stop-color="#50e838"/><stop offset="0.80" stop-color="#20e040"/><stop offset="0.90" stop-color="#00d0ff"/><stop offset="1" stop-color="#0028f4"/><stop offset="1.0" stop-color="#0018f0"/></radialGradient></defs>
<rect x="252" y="705.2" width="42" height="22" fill="url(#elf4)"/>
<clipPath id="celf4"><rect x="252" y="705.2" width="42" height="22"/></clipPath>
<g clip-path="url(#celf4)"><path d="M 264.00 714.50 A 13.45 17.09 0 0 1 282.00 714.50" fill="none" stroke="#e8f000" stroke-width="4.4" stroke-linecap="round" filter="url(#blur1)"/>
<path d="M 268.40 711.14 A 13.45 17.09 0 0 1 277.60 711.14" fill="none" stroke="#ff9000" stroke-width="2.4" stroke-linecap="round" filter="url(#blur1)"/></g>
<rect x="252" y="722.20" width="42" height="5" fill="url(#elfbot)"/>
<ellipse cx="272.20" cy="724.20" rx="1.8" ry="1.6" fill="#ff3000"/>
<ellipse cx="272.20" cy="722.00" rx="1.6" ry="1" fill="#40c0ff"/>
<text x="273.60" y="726.60" font-size="10.5" fill="#000" text-anchor="middle" >Bi</text>
<text x="83.20" y="602.30" font-size="10.3" fill="#ff1aff" text-anchor="middle" >1.6512</text>
<text x="130.30" y="627.60" font-size="10.3" fill="#ff1aff" text-anchor="middle" >1.6488</text>
<text x="177.30" y="637.60" font-size="10.3" fill="#ff1aff" text-anchor="middle" >1.6480</text>
<text x="223.80" y="689.00" font-size="10.3" fill="#ff1aff" text-anchor="middle" >1.6429</text>
<text x="271.50" y="741.60" font-size="10.3" fill="#ff1aff" text-anchor="middle" >1.6380</text>
<text x="178.6" y="556.5" font-size="12.6" fill="#1a1a1a" text-anchor="middle">ELF<tspan dy="3" font-size="9">off-centered</tspan><tspan dy="-3"> - ELF</tspan><tspan dy="3" font-size="9">undistorted</tspan></text>
<rect x="264.4" y="552.8" width="8.8" height="114" fill="url(#cbar)"/>
<line x1="273.20" y1="552.80" x2="278.00" y2="552.80" stroke="#333" stroke-width="0.9" />
<text x="278.80" y="556.30" font-size="9.8" fill="#1a1a1a" text-anchor="start" >1.0</text>
<line x1="273.20" y1="609.90" x2="278.00" y2="609.90" stroke="#333" stroke-width="0.9" />
<text x="278.80" y="613.40" font-size="9.8" fill="#1a1a1a" text-anchor="start" >0.5</text>
<line x1="273.20" y1="666.60" x2="278.00" y2="666.60" stroke="#333" stroke-width="0.9" />
<text x="278.80" y="670.10" font-size="9.8" fill="#1a1a1a" text-anchor="start" >0.0</text>
<line x1="123.30" y1="684.50" x2="110.30" y2="692.70" stroke="#c040e0" stroke-width="2.6" />
<line x1="110.30" y1="692.70" x2="97.30" y2="700.90" stroke="#e01010" stroke-width="2.6" />
<line x1="123.30" y1="684.50" x2="119.05" y2="695.60" stroke="#c040e0" stroke-width="2.6" />
<line x1="119.05" y1="695.60" x2="114.80" y2="706.70" stroke="#e01010" stroke-width="2.6" />
<line x1="123.30" y1="684.50" x2="127.65" y2="691.05" stroke="#c040e0" stroke-width="2.6" />
<line x1="127.65" y1="691.05" x2="132.00" y2="697.60" stroke="#e01010" stroke-width="2.6" />
<line x1="123.30" y1="684.50" x2="136.25" y2="694.15" stroke="#c040e0" stroke-width="2.6" />
<line x1="136.25" y1="694.15" x2="149.20" y2="703.80" stroke="#e01010" stroke-width="2.6" />
<circle cx="123.3" cy="684.5" r="10" fill="url(#pBall)"/>
<text x="123.30" y="689.00" font-size="12.5" fill="#111" text-anchor="middle" >Bi</text>
<circle cx="97.3" cy="700.9" r="4.2" fill="url(#oBall)"/>
<circle cx="114.8" cy="706.7" r="4.2" fill="url(#oBall)"/>
<circle cx="132" cy="697.6" r="4.2" fill="url(#oBall)"/>
<circle cx="149.2" cy="703.8" r="4.2" fill="url(#oBall)"/>
<circle cx="103.1" cy="682.2" r="1.9" fill="#ffee00" stroke="#999" stroke-width="0.4"/>
<circle cx="109.9" cy="679" r="1.9" fill="#ffee00" stroke="#999" stroke-width="0.4"/>
<circle cx="141.6" cy="682.2" r="1.9" fill="#ffee00" stroke="#999" stroke-width="0.4"/>
<circle cx="146.9" cy="686.6" r="1.9" fill="#ffee00" stroke="#999" stroke-width="0.4"/>
<path d="M 113 683 Q 103 686 99 694" fill="none" stroke="#000" stroke-width="1.2" stroke-dasharray="2,1.5"/>
<polygon points="96.5,697.5 96,690.5 102.5,693" fill="#000"/>
<path d="M 117 693 L 112 701" fill="none" stroke="#000" stroke-width="1.2" stroke-dasharray="2,1.5"/>
<polygon points="111,704 108.5,697.5 114.5,699.5" fill="#000"/>
<path d="M 134 683 Q 145 686 148.5 695" fill="none" stroke="#000" stroke-width="1.2" stroke-dasharray="2,1.5"/>
<polygon points="149.5,698.5 145.5,693 152,692.5" fill="#000"/>
<line x1="398.80" y1="537.80" x2="636.00" y2="537.80" stroke="#141414" stroke-width="1.5" />
<line x1="398.80" y1="537.80" x2="398.80" y2="746.70" stroke="#141414" stroke-width="1.5" />
<line x1="398.80" y1="746.70" x2="636.00" y2="746.70" stroke="#141414" stroke-width="1.5" />
<line x1="636.00" y1="537.80" x2="636.00" y2="746.70" stroke="#141414" stroke-width="1.5" />
<line x1="398.80" y1="537.80" x2="403.30" y2="537.80" stroke="#141414" stroke-width="1.5" />
<line x1="398.80" y1="563.91" x2="401.30" y2="563.91" stroke="#141414" stroke-width="1.5" />
<text x="393.30" y="541.80" font-size="11.4" fill="#1a1a1a" text-anchor="end" >2.45</text>
<line x1="398.80" y1="590.02" x2="403.30" y2="590.02" stroke="#141414" stroke-width="1.5" />
<line x1="398.80" y1="616.14" x2="401.30" y2="616.14" stroke="#141414" stroke-width="1.5" />
<text x="393.30" y="594.02" font-size="11.4" fill="#1a1a1a" text-anchor="end" >2.44</text>
<line x1="398.80" y1="642.25" x2="403.30" y2="642.25" stroke="#141414" stroke-width="1.5" />
<line x1="398.80" y1="668.36" x2="401.30" y2="668.36" stroke="#141414" stroke-width="1.5" />
<text x="393.30" y="646.25" font-size="11.4" fill="#1a1a1a" text-anchor="end" >2.43</text>
<line x1="398.80" y1="694.47" x2="403.30" y2="694.47" stroke="#141414" stroke-width="1.5" />
<line x1="398.80" y1="720.59" x2="401.30" y2="720.59" stroke="#141414" stroke-width="1.5" />
<text x="393.30" y="698.47" font-size="11.4" fill="#1a1a1a" text-anchor="end" >2.42</text>
<line x1="398.80" y1="746.70" x2="403.30" y2="746.70" stroke="#141414" stroke-width="1.5" />
<text x="393.30" y="750.70" font-size="11.4" fill="#1a1a1a" text-anchor="end" >2.41</text>
<line x1="636.00" y1="576.60" x2="631.50" y2="576.60" stroke="#141414" stroke-width="1.5" />
<line x1="636.00" y1="550.50" x2="633.50" y2="550.50" stroke="#141414" stroke-width="1.5" />
<text x="642.00" y="580.60" font-size="11" fill="#1a1a1a" text-anchor="start" >0.396</text>
<line x1="636.00" y1="628.80" x2="631.50" y2="628.80" stroke="#141414" stroke-width="1.5" />
<line x1="636.00" y1="602.70" x2="633.50" y2="602.70" stroke="#141414" stroke-width="1.5" />
<text x="642.00" y="632.80" font-size="11" fill="#1a1a1a" text-anchor="start" >0.395</text>
<line x1="636.00" y1="681.00" x2="631.50" y2="681.00" stroke="#141414" stroke-width="1.5" />
<line x1="636.00" y1="654.90" x2="633.50" y2="654.90" stroke="#141414" stroke-width="1.5" />
<text x="642.00" y="685.00" font-size="11" fill="#1a1a1a" text-anchor="start" >0.394</text>
<line x1="636.00" y1="733.20" x2="631.50" y2="733.20" stroke="#141414" stroke-width="1.5" />
<line x1="636.00" y1="707.10" x2="633.50" y2="707.10" stroke="#141414" stroke-width="1.5" />
<text x="642.00" y="737.20" font-size="11" fill="#1a1a1a" text-anchor="start" >0.393</text>
<line x1="422.10" y1="746.70" x2="422.10" y2="742.20" stroke="#141414" stroke-width="1.5" />
<line x1="445.75" y1="746.70" x2="445.75" y2="744.20" stroke="#141414" stroke-width="1.5" />
<text x="422.10" y="761.20" font-size="11.4" fill="#1a1a1a" text-anchor="middle" >+0%</text>
<line x1="469.40" y1="746.70" x2="469.40" y2="742.20" stroke="#141414" stroke-width="1.5" />
<line x1="493.10" y1="746.70" x2="493.10" y2="744.20" stroke="#141414" stroke-width="1.5" />
<text x="469.40" y="761.20" font-size="11.4" fill="#1a1a1a" text-anchor="middle" >+1%</text>
<line x1="516.80" y1="746.70" x2="516.80" y2="742.20" stroke="#141414" stroke-width="1.5" />
<line x1="540.55" y1="746.70" x2="540.55" y2="744.20" stroke="#141414" stroke-width="1.5" />
<text x="516.80" y="761.20" font-size="11.4" fill="#1a1a1a" text-anchor="middle" >+2%</text>
<line x1="564.30" y1="746.70" x2="564.30" y2="742.20" stroke="#141414" stroke-width="1.5" />
<line x1="588.00" y1="746.70" x2="588.00" y2="744.20" stroke="#141414" stroke-width="1.5" />
<text x="564.30" y="761.20" font-size="11.4" fill="#1a1a1a" text-anchor="middle" >+3%</text>
<line x1="611.70" y1="746.70" x2="611.70" y2="742.20" stroke="#141414" stroke-width="1.5" />
<text x="611.70" y="761.20" font-size="11.4" fill="#1a1a1a" text-anchor="middle" >+4%</text>
<text x="517.40" y="781.10" font-size="13.5" fill="#1a1a1a" text-anchor="middle" >Strain (%)</text>
<text x="0" y="0" font-size="13" fill="#1a1a1a" text-anchor="middle" transform="translate(363.2,642.5) rotate(-90)">-ICOHP</text>
<text x="0" y="0" font-size="13" fill="#1a1a1a" text-anchor="middle" transform="translate(684.2,642) rotate(-90)">ICOBI</text>
<polyline points="422.10,558.90 469.40,587.10 516.80,636.50 564.30,676.30 611.70,724.60" fill="none" stroke="#3a7cc2" stroke-width="1.6" stroke-linejoin="round" />
<polyline points="422.10,728.70 469.40,670.70 516.80,629.60 564.30,579.10 611.70,561.90" fill="none" stroke="#52b04a" stroke-width="1.6" stroke-linejoin="round" />
<rect x="418.60" y="555.40" width="7" height="7" fill="#3a7cc2"/>
<rect x="465.90" y="583.60" width="7" height="7" fill="#3a7cc2"/>
<rect x="513.30" y="633.00" width="7" height="7" fill="#3a7cc2"/>
<rect x="560.80" y="672.80" width="7" height="7" fill="#3a7cc2"/>
<rect x="608.20" y="721.10" width="7" height="7" fill="#3a7cc2"/>
<circle cx="422.1" cy="728.7" r="4.25" fill="#52b04a"/>
<circle cx="469.4" cy="670.7" r="4.25" fill="#52b04a"/>
<circle cx="516.8" cy="629.6" r="4.25" fill="#52b04a"/>
<circle cx="564.3" cy="579.1" r="4.25" fill="#52b04a"/>
<circle cx="611.7" cy="561.9" r="4.25" fill="#52b04a"/>
<line x1="441.00" y1="614.30" x2="486.20" y2="614.30" stroke="#3a7cc2" stroke-width="3" />
<polygon points="431.1,614.3 445,609.3 442,614.3 445,619.3" fill="#3a7cc2"/>
<line x1="556.40" y1="601.20" x2="602.00" y2="601.20" stroke="#52b04a" stroke-width="3" />
<polygon points="612.2,601.2 598.3,596.2 601.3,601.2 598.3,606.2" fill="#52b04a"/>
<text x="3.00" y="22.60" font-size="31.5" fill="#000" text-anchor="start" >A</text>
<text x="340.00" y="22.80" font-size="31.5" fill="#000" text-anchor="start" >B</text>
<text x="-0.50" y="273.80" font-size="31.5" fill="#000" text-anchor="start" >C</text>
<text x="340.00" y="274.10" font-size="31.5" fill="#000" text-anchor="start" >D</text>
<text x="-0.80" y="537.60" font-size="31.5" fill="#000" text-anchor="start" >E</text>
<text x="349.20" y="538.10" font-size="31.5" fill="#000" text-anchor="start" >F</text>
</svg>
</body></html>
